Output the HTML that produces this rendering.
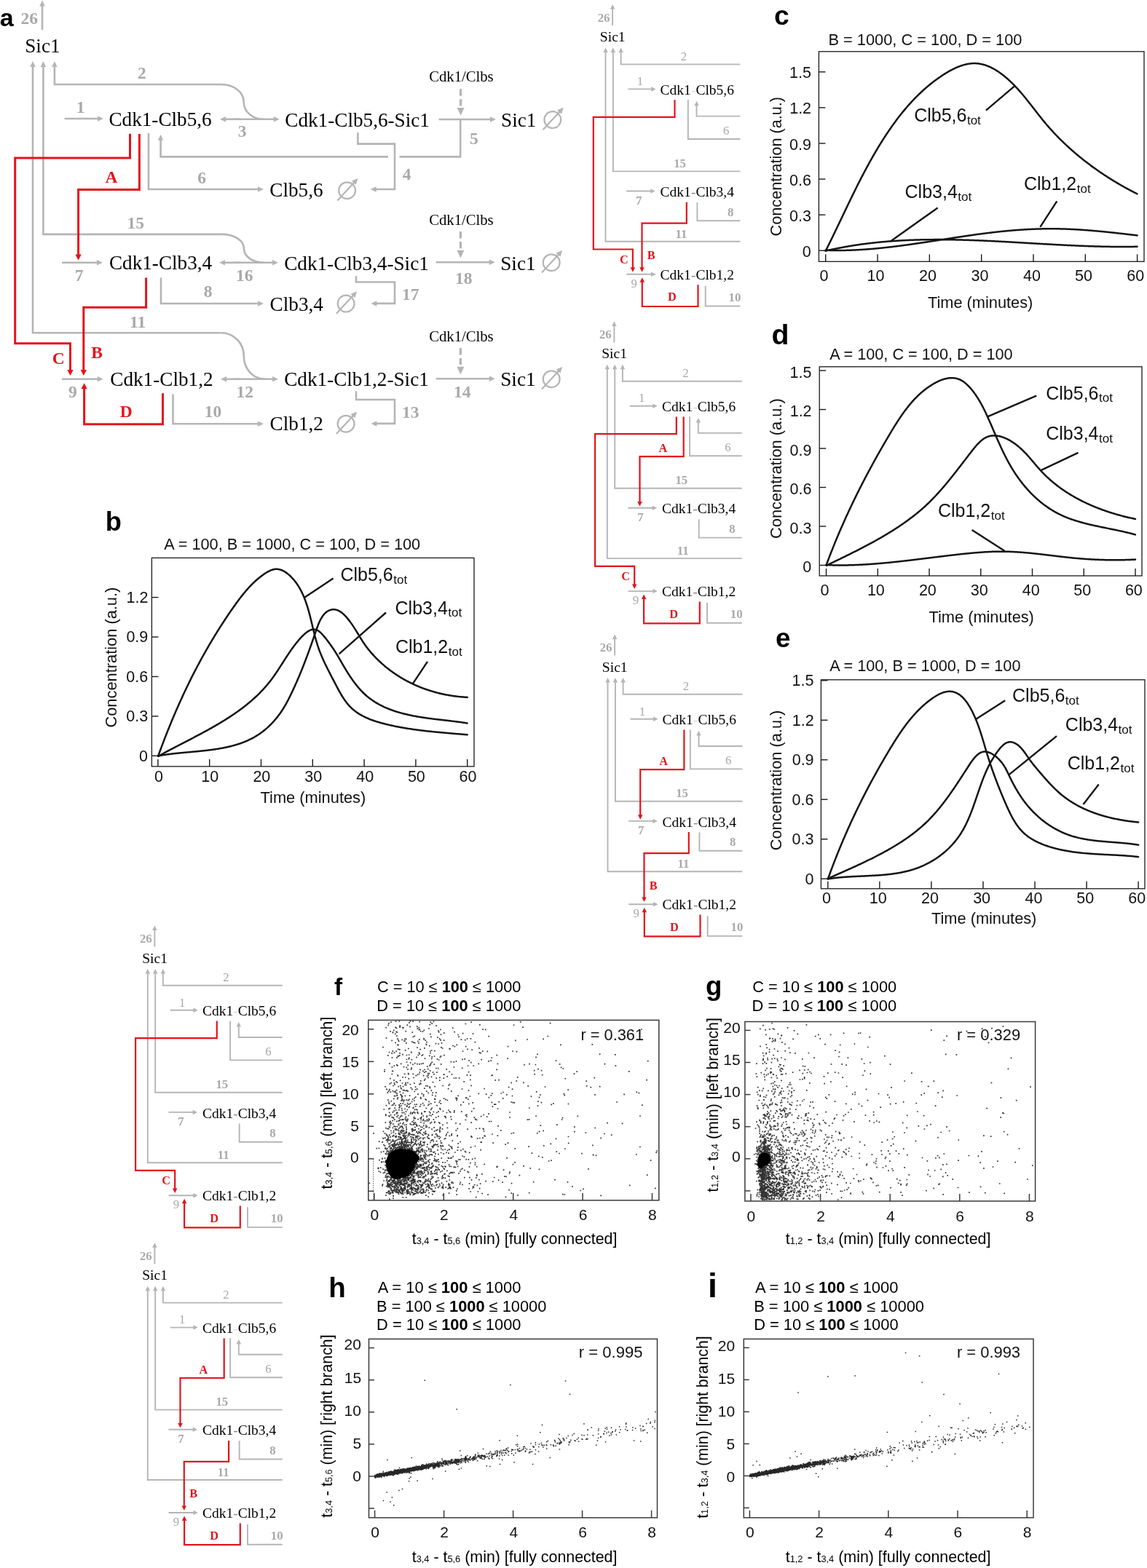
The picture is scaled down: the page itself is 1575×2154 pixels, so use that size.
<!DOCTYPE html>
<html><head><meta charset="utf-8"><title>Figure</title>
<style>html,body{margin:0;padding:0;background:#fff;}svg{display:block;}</style>
</head><body>
<svg xmlns="http://www.w3.org/2000/svg" width="1575" height="2154" viewBox="0 0 1575 2154">
<rect width="1575" height="2154" fill="#fff"/>
<text x="-0.22" y="36.00" font-size="34.02" font-family="'Liberation Sans',sans-serif" font-weight="bold" fill="#000">a</text>
<polyline points="58.00,41.00 58.00,6.90" fill="none" stroke="#b5b5b5" stroke-width="2.6" stroke-linejoin="miter" stroke-linecap="butt"/>
<polygon points="58.00,0.50 61.75,8.50 54.25,8.50" fill="#b5b5b5"/>
<polyline points="304.50,116.00 74.90,116.00 74.90,90.40" fill="none" stroke="#b5b5b5" stroke-width="2.6" stroke-linejoin="miter" stroke-linecap="butt"/>
<polygon points="74.90,84.00 78.65,92.00 71.15,92.00" fill="#b5b5b5"/>
<path d="M304.0,116.0 C321.2,116.0 334.7,126.5 334.7,139.9 C334.7,153.3 346.7,163.8 362.0,163.8" fill="none" stroke="#b5b5b5" stroke-width="2.6"/>
<polyline points="304.80,321.90 59.40,321.90 59.40,90.40" fill="none" stroke="#b5b5b5" stroke-width="2.6" stroke-linejoin="miter" stroke-linecap="butt"/>
<polygon points="59.40,84.00 63.15,92.00 55.65,92.00" fill="#b5b5b5"/>
<path d="M304.8,321.9 C321.7,321.9 335.0,330.5 335.0,341.4 C335.0,352.2 346.9,360.8 362.0,360.8" fill="none" stroke="#b5b5b5" stroke-width="2.6"/>
<polyline points="303.50,457.30 45.00,457.30 45.00,90.40" fill="none" stroke="#b5b5b5" stroke-width="2.6" stroke-linejoin="miter" stroke-linecap="butt"/>
<polygon points="45.00,84.00 48.75,92.00 41.25,92.00" fill="#b5b5b5"/>
<path d="M303.6,457.3 C321.1,457.3 334.8,471.3 334.8,489.0 C334.8,506.8 347.6,520.8 364.0,520.8" fill="none" stroke="#b5b5b5" stroke-width="2.6"/>
<polyline points="88.60,163.00 135.60,163.00" fill="none" stroke="#b5b5b5" stroke-width="2.6" stroke-linejoin="miter" stroke-linecap="butt"/>
<polygon points="142.00,163.00 134.00,166.75 134.00,159.25" fill="#b5b5b5"/>
<polyline points="330.00,163.80 308.40,163.80" fill="none" stroke="#b5b5b5" stroke-width="2.6" stroke-linejoin="miter" stroke-linecap="butt"/>
<polygon points="302.00,163.80 310.00,160.05 310.00,167.55" fill="#b5b5b5"/>
<polyline points="320.00,163.80 377.40,163.80" fill="none" stroke="#b5b5b5" stroke-width="2.6" stroke-linejoin="miter" stroke-linecap="butt"/>
<polygon points="383.80,163.80 375.80,167.55 375.80,160.05" fill="#b5b5b5"/>
<polyline points="602.70,164.00 674.60,164.00" fill="none" stroke="#b5b5b5" stroke-width="2.6" stroke-linejoin="miter" stroke-linecap="butt"/>
<polygon points="681.00,164.00 673.00,167.75 673.00,160.25" fill="#b5b5b5"/>
<line x1="632.60" y1="122.20" x2="632.60" y2="145.60" stroke="#b5b5b5" stroke-width="3.4" stroke-dasharray="9.6,4.4"/>
<polygon points="632.60,158.80 627.60,148.00 637.60,148.00" fill="#b5b5b5"/>
<polyline points="632.20,164.00 632.20,215.40 548.40,215.40" fill="none" stroke="#b5b5b5" stroke-width="2.6" stroke-linejoin="miter" stroke-linecap="butt"/>
<polyline points="533.00,215.40 220.60,215.40 220.60,191.20" fill="none" stroke="#b5b5b5" stroke-width="2.6" stroke-linejoin="miter" stroke-linecap="butt"/>
<polygon points="220.60,184.80 224.35,192.80 216.85,192.80" fill="#b5b5b5"/>
<polyline points="491.40,182.00 491.40,197.60 542.00,197.60 542.00,260.00 515.00,260.00" fill="none" stroke="#b5b5b5" stroke-width="2.6" stroke-linejoin="miter" stroke-linecap="butt"/>
<polygon points="508.60,260.00 516.60,256.25 516.60,263.75" fill="#b5b5b5"/>
<polyline points="204.00,183.00 204.00,260.00 355.60,260.00" fill="none" stroke="#b5b5b5" stroke-width="2.6" stroke-linejoin="miter" stroke-linecap="butt"/>
<polygon points="362.00,260.00 354.00,263.75 354.00,256.25" fill="#b5b5b5"/>
<polyline points="85.00,360.80 134.60,360.80" fill="none" stroke="#b5b5b5" stroke-width="2.6" stroke-linejoin="miter" stroke-linecap="butt"/>
<polygon points="141.00,360.80 133.00,364.55 133.00,357.05" fill="#b5b5b5"/>
<polyline points="330.00,360.80 307.40,360.80" fill="none" stroke="#b5b5b5" stroke-width="2.6" stroke-linejoin="miter" stroke-linecap="butt"/>
<polygon points="301.00,360.80 309.00,357.05 309.00,364.55" fill="#b5b5b5"/>
<polyline points="320.00,360.80 375.60,360.80" fill="none" stroke="#b5b5b5" stroke-width="2.6" stroke-linejoin="miter" stroke-linecap="butt"/>
<polygon points="382.00,360.80 374.00,364.55 374.00,357.05" fill="#b5b5b5"/>
<polyline points="598.80,360.20 673.40,360.20" fill="none" stroke="#b5b5b5" stroke-width="2.6" stroke-linejoin="miter" stroke-linecap="butt"/>
<polygon points="679.80,360.20 671.80,363.95 671.80,356.45" fill="#b5b5b5"/>
<line x1="632.40" y1="317.90" x2="632.40" y2="341.30" stroke="#b5b5b5" stroke-width="3.4" stroke-dasharray="9.6,4.4"/>
<polygon points="632.40,354.50 627.40,343.70 637.40,343.70" fill="#b5b5b5"/>
<polyline points="221.00,381.60 221.00,417.00 355.60,417.00" fill="none" stroke="#b5b5b5" stroke-width="2.6" stroke-linejoin="miter" stroke-linecap="butt"/>
<polygon points="362.00,417.00 354.00,420.75 354.00,413.25" fill="#b5b5b5"/>
<polyline points="489.00,379.20 489.00,387.50 542.00,387.50 542.00,416.90 515.80,416.90" fill="none" stroke="#b5b5b5" stroke-width="2.6" stroke-linejoin="miter" stroke-linecap="butt"/>
<polygon points="509.40,416.90 517.40,413.15 517.40,420.65" fill="#b5b5b5"/>
<polyline points="85.00,520.80 135.30,520.80" fill="none" stroke="#b5b5b5" stroke-width="2.6" stroke-linejoin="miter" stroke-linecap="butt"/>
<polygon points="141.70,520.80 133.70,524.55 133.70,517.05" fill="#b5b5b5"/>
<polyline points="330.00,520.80 309.40,520.80" fill="none" stroke="#b5b5b5" stroke-width="2.6" stroke-linejoin="miter" stroke-linecap="butt"/>
<polygon points="303.00,520.80 311.00,517.05 311.00,524.55" fill="#b5b5b5"/>
<polyline points="320.00,520.80 375.60,520.80" fill="none" stroke="#b5b5b5" stroke-width="2.6" stroke-linejoin="miter" stroke-linecap="butt"/>
<polygon points="382.00,520.80 374.00,524.55 374.00,517.05" fill="#b5b5b5"/>
<polyline points="598.80,520.20 673.40,520.20" fill="none" stroke="#b5b5b5" stroke-width="2.6" stroke-linejoin="miter" stroke-linecap="butt"/>
<polygon points="679.80,520.20 671.80,523.95 671.80,516.45" fill="#b5b5b5"/>
<line x1="632.40" y1="477.90" x2="632.40" y2="501.30" stroke="#b5b5b5" stroke-width="3.4" stroke-dasharray="9.6,4.4"/>
<polygon points="632.40,514.50 627.40,503.70 637.40,503.70" fill="#b5b5b5"/>
<polyline points="237.50,541.60 237.50,582.20 355.60,582.20" fill="none" stroke="#b5b5b5" stroke-width="2.6" stroke-linejoin="miter" stroke-linecap="butt"/>
<polygon points="362.00,582.20 354.00,585.95 354.00,578.45" fill="#b5b5b5"/>
<polyline points="489.00,537.20 489.00,549.00 542.00,549.00 542.00,581.90 515.80,581.90" fill="none" stroke="#b5b5b5" stroke-width="2.6" stroke-linejoin="miter" stroke-linecap="butt"/>
<polygon points="509.40,581.90 517.40,578.15 517.40,585.65" fill="#b5b5b5"/>
<circle cx="476.60" cy="261.70" r="11.40" fill="none" stroke="#b5b5b5" stroke-width="2.2"/>
<polyline points="463.40,275.40 486.98,249.89" fill="none" stroke="#b5b5b5" stroke-width="2.2" stroke-linejoin="miter" stroke-linecap="butt"/>
<polygon points="491.60,244.90 488.77,253.86 482.89,248.43" fill="#b5b5b5"/>
<circle cx="758.80" cy="164.60" r="11.40" fill="none" stroke="#b5b5b5" stroke-width="2.2"/>
<polyline points="745.60,178.30 769.18,152.79" fill="none" stroke="#b5b5b5" stroke-width="2.2" stroke-linejoin="miter" stroke-linecap="butt"/>
<polygon points="773.80,147.80 770.97,156.76 765.09,151.33" fill="#b5b5b5"/>
<circle cx="475.10" cy="417.10" r="11.40" fill="none" stroke="#b5b5b5" stroke-width="2.2"/>
<polyline points="461.90,430.80 485.48,405.29" fill="none" stroke="#b5b5b5" stroke-width="2.2" stroke-linejoin="miter" stroke-linecap="butt"/>
<polygon points="490.10,400.30 487.27,409.26 481.39,403.83" fill="#b5b5b5"/>
<circle cx="757.20" cy="360.70" r="11.40" fill="none" stroke="#b5b5b5" stroke-width="2.2"/>
<polyline points="744.00,374.40 767.58,348.89" fill="none" stroke="#b5b5b5" stroke-width="2.2" stroke-linejoin="miter" stroke-linecap="butt"/>
<polygon points="772.20,343.90 769.37,352.86 763.49,347.43" fill="#b5b5b5"/>
<circle cx="475.10" cy="582.20" r="11.40" fill="none" stroke="#b5b5b5" stroke-width="2.2"/>
<polyline points="461.90,595.90 485.48,570.39" fill="none" stroke="#b5b5b5" stroke-width="2.2" stroke-linejoin="miter" stroke-linecap="butt"/>
<polygon points="490.10,565.40 487.27,574.36 481.39,568.93" fill="#b5b5b5"/>
<circle cx="757.20" cy="520.70" r="11.40" fill="none" stroke="#b5b5b5" stroke-width="2.2"/>
<polyline points="744.00,534.40 767.58,508.89" fill="none" stroke="#b5b5b5" stroke-width="2.2" stroke-linejoin="miter" stroke-linecap="butt"/>
<polygon points="772.20,503.90 769.37,512.86 763.49,507.43" fill="#b5b5b5"/>
<polyline points="178.50,183.80 178.50,217.00 20.70,217.00 20.70,471.70 96.50,471.70 96.50,509.60" fill="none" stroke="#e3141c" stroke-width="3.0" stroke-linejoin="miter" stroke-linecap="butt"/>
<polygon points="96.50,516.00 92.30,508.00 100.70,508.00" fill="#e3141c"/>
<polyline points="191.40,184.00 191.40,260.60 107.60,260.60 107.60,351.10" fill="none" stroke="#e3141c" stroke-width="3.0" stroke-linejoin="miter" stroke-linecap="butt"/>
<polygon points="107.60,357.50 103.40,349.50 111.80,349.50" fill="#e3141c"/>
<polyline points="200.60,381.60 200.60,422.20 114.80,422.20 114.80,509.60" fill="none" stroke="#e3141c" stroke-width="3.0" stroke-linejoin="miter" stroke-linecap="butt"/>
<polygon points="114.80,516.00 110.60,508.00 119.00,508.00" fill="#e3141c"/>
<polyline points="223.50,540.30 223.50,582.70 115.60,582.70 115.60,532.70" fill="none" stroke="#e3141c" stroke-width="3.0" stroke-linejoin="miter" stroke-linecap="butt"/>
<polygon points="115.60,526.30 119.80,534.30 111.40,534.30" fill="#e3141c"/>
<text x="28.56" y="32.80" font-size="23.50" font-family="'Liberation Serif',serif" font-weight="bold" fill="#a9a9a9">26</text>
<text x="189.06" y="107.80" font-size="23.50" font-family="'Liberation Serif',serif" font-weight="bold" fill="#a9a9a9">2</text>
<text x="104.82" y="154.80" font-size="23.50" font-family="'Liberation Serif',serif" font-weight="bold" fill="#a9a9a9">1</text>
<text x="326.78" y="187.50" font-size="23.50" font-family="'Liberation Serif',serif" font-weight="bold" fill="#a9a9a9">3</text>
<text x="645.06" y="197.80" font-size="23.50" font-family="'Liberation Serif',serif" font-weight="bold" fill="#a9a9a9">5</text>
<text x="552.65" y="246.50" font-size="23.50" font-family="'Liberation Serif',serif" font-weight="bold" fill="#a9a9a9">4</text>
<text x="271.18" y="251.80" font-size="23.50" font-family="'Liberation Serif',serif" font-weight="bold" fill="#a9a9a9">6</text>
<text x="174.62" y="314.30" font-size="23.50" font-family="'Liberation Serif',serif" font-weight="bold" fill="#a9a9a9">15</text>
<text x="102.71" y="386.20" font-size="23.50" font-family="'Liberation Serif',serif" font-weight="bold" fill="#a9a9a9">7</text>
<text x="324.12" y="386.20" font-size="23.50" font-family="'Liberation Serif',serif" font-weight="bold" fill="#a9a9a9">16</text>
<text x="624.92" y="389.80" font-size="23.50" font-family="'Liberation Serif',serif" font-weight="bold" fill="#a9a9a9">18</text>
<text x="279.78" y="407.80" font-size="23.50" font-family="'Liberation Serif',serif" font-weight="bold" fill="#a9a9a9">8</text>
<text x="552.12" y="411.50" font-size="23.50" font-family="'Liberation Serif',serif" font-weight="bold" fill="#a9a9a9">17</text>
<text x="178.12" y="449.80" font-size="23.50" font-family="'Liberation Serif',serif" font-weight="bold" fill="#a9a9a9">11</text>
<text x="93.91" y="546.20" font-size="23.50" font-family="'Liberation Serif',serif" font-weight="bold" fill="#a9a9a9">9</text>
<text x="324.42" y="546.20" font-size="23.50" font-family="'Liberation Serif',serif" font-weight="bold" fill="#a9a9a9">12</text>
<text x="623.12" y="545.50" font-size="23.50" font-family="'Liberation Serif',serif" font-weight="bold" fill="#a9a9a9">14</text>
<text x="280.82" y="573.40" font-size="23.50" font-family="'Liberation Serif',serif" font-weight="bold" fill="#a9a9a9">10</text>
<text x="552.12" y="573.50" font-size="23.50" font-family="'Liberation Serif',serif" font-weight="bold" fill="#a9a9a9">13</text>
<text x="34.23" y="72.00" font-size="27.20" font-family="'Liberation Serif',serif" fill="#000">Sic1</text>
<text x="149.41" y="173.30" font-size="27.20" font-family="'Liberation Serif',serif" fill="#000">Cdk1-Clb5,6</text>
<text x="391.31" y="174.30" font-size="27.20" font-family="'Liberation Serif',serif" fill="#000">Cdk1-Clb5,6-Sic1</text>
<text x="688.03" y="173.80" font-size="27.20" font-family="'Liberation Serif',serif" fill="#000">Sic1</text>
<text x="370.31" y="269.50" font-size="27.20" font-family="'Liberation Serif',serif" fill="#000">Clb5,6</text>
<text x="149.91" y="370.00" font-size="27.20" font-family="'Liberation Serif',serif" fill="#000">Cdk1-Clb3,4</text>
<text x="390.21" y="370.80" font-size="27.20" font-family="'Liberation Serif',serif" fill="#000">Cdk1-Clb3,4-Sic1</text>
<text x="687.23" y="370.80" font-size="27.20" font-family="'Liberation Serif',serif" fill="#000">Sic1</text>
<text x="370.61" y="426.60" font-size="27.20" font-family="'Liberation Serif',serif" fill="#000">Clb3,4</text>
<text x="151.31" y="530.20" font-size="27.20" font-family="'Liberation Serif',serif" fill="#000">Cdk1-Clb1,2</text>
<text x="390.21" y="530.00" font-size="27.20" font-family="'Liberation Serif',serif" fill="#000">Cdk1-Clb1,2-Sic1</text>
<text x="687.23" y="530.00" font-size="27.20" font-family="'Liberation Serif',serif" fill="#000">Sic1</text>
<text x="370.61" y="590.80" font-size="27.20" font-family="'Liberation Serif',serif" fill="#000">Clb1,2</text>
<text x="589.17" y="112.40" font-size="20.69" font-family="'Liberation Serif',serif" fill="#000">Cdk1/Clbs</text>
<text x="589.17" y="309.30" font-size="20.69" font-family="'Liberation Serif',serif" fill="#000">Cdk1/Clbs</text>
<text x="589.17" y="468.50" font-size="20.69" font-family="'Liberation Serif',serif" fill="#000">Cdk1/Clbs</text>
<text x="144.56" y="251.40" font-size="23.50" font-family="'Liberation Serif',serif" font-weight="bold" fill="#e3141c">A</text>
<text x="71.83" y="499.70" font-size="23.50" font-family="'Liberation Serif',serif" font-weight="bold" fill="#e3141c">C</text>
<text x="125.35" y="492.00" font-size="23.50" font-family="'Liberation Serif',serif" font-weight="bold" fill="#e3141c">B</text>
<text x="164.65" y="572.60" font-size="23.50" font-family="'Liberation Serif',serif" font-weight="bold" fill="#e3141c">D</text>
<polyline points="841.10,35.00 841.10,11.30" fill="none" stroke="#b5b5b5" stroke-width="1.9" stroke-linejoin="miter" stroke-linecap="butt"/>
<polygon points="841.10,6.10 844.35,12.60 837.85,12.60" fill="#b5b5b5"/>
<polyline points="1016.40,88.40 852.60,88.40 852.60,70.70" fill="none" stroke="#b5b5b5" stroke-width="1.9" stroke-linejoin="miter" stroke-linecap="butt"/>
<polygon points="852.60,65.50 855.85,72.00 849.35,72.00" fill="#b5b5b5"/>
<polyline points="1016.40,235.40 841.90,235.40 841.90,70.70" fill="none" stroke="#b5b5b5" stroke-width="1.9" stroke-linejoin="miter" stroke-linecap="butt"/>
<polygon points="841.90,65.50 845.15,72.00 838.65,72.00" fill="#b5b5b5"/>
<polyline points="1016.40,331.80 831.50,331.80 831.50,70.70" fill="none" stroke="#b5b5b5" stroke-width="1.9" stroke-linejoin="miter" stroke-linecap="butt"/>
<polygon points="831.50,65.50 834.75,72.00 828.25,72.00" fill="#b5b5b5"/>
<polyline points="862.50,122.40 895.40,122.40" fill="none" stroke="#b5b5b5" stroke-width="1.9" stroke-linejoin="miter" stroke-linecap="butt"/>
<polygon points="900.60,122.40 894.10,125.65 894.10,119.15" fill="#b5b5b5"/>
<polyline points="860.20,262.50 894.60,262.50" fill="none" stroke="#b5b5b5" stroke-width="1.9" stroke-linejoin="miter" stroke-linecap="butt"/>
<polygon points="899.80,262.50 893.30,265.75 893.30,259.25" fill="#b5b5b5"/>
<polyline points="860.20,376.80 895.40,376.80" fill="none" stroke="#b5b5b5" stroke-width="1.9" stroke-linejoin="miter" stroke-linecap="butt"/>
<polygon points="900.60,376.80 894.10,380.05 894.10,373.55" fill="#b5b5b5"/>
<polyline points="944.80,137.00 944.80,191.00 1016.40,191.00" fill="none" stroke="#b5b5b5" stroke-width="1.9" stroke-linejoin="miter" stroke-linecap="butt"/>
<polyline points="1016.40,159.60 956.50,159.60 956.50,143.90" fill="none" stroke="#b5b5b5" stroke-width="1.9" stroke-linejoin="miter" stroke-linecap="butt"/>
<polygon points="956.50,138.70 959.75,145.20 953.25,145.20" fill="#b5b5b5"/>
<polyline points="957.40,278.00 957.40,303.30 1016.40,303.30" fill="none" stroke="#b5b5b5" stroke-width="1.9" stroke-linejoin="miter" stroke-linecap="butt"/>
<polyline points="968.70,392.80 968.70,420.50 1016.40,420.50" fill="none" stroke="#b5b5b5" stroke-width="1.9" stroke-linejoin="miter" stroke-linecap="butt"/>
<polyline points="926.50,137.20 926.50,160.80 814.80,160.80 814.80,342.50 868.90,342.50 868.90,368.50" fill="none" stroke="#e3141c" stroke-width="2.2" stroke-linejoin="miter" stroke-linecap="butt"/>
<polygon points="868.90,373.70 865.65,367.20 872.15,367.20" fill="#e3141c"/>
<text x="850.98" y="361.50" font-size="16.30" font-family="'Liberation Serif',serif" font-weight="bold" fill="#e3141c">C</text>
<polyline points="942.80,277.70 942.80,306.70 881.50,306.70 881.50,368.50" fill="none" stroke="#e3141c" stroke-width="2.2" stroke-linejoin="miter" stroke-linecap="butt"/>
<polygon points="881.50,373.70 878.25,367.20 884.75,367.20" fill="#e3141c"/>
<text x="888.86" y="356.20" font-size="16.30" font-family="'Liberation Serif',serif" font-weight="bold" fill="#e3141c">B</text>
<polyline points="958.50,391.20 958.50,421.00 881.80,421.00 881.80,386.50" fill="none" stroke="#e3141c" stroke-width="2.2" stroke-linejoin="miter" stroke-linecap="butt"/>
<polygon points="881.80,381.30 885.05,387.80 878.55,387.80" fill="#e3141c"/>
<text x="917.06" y="413.30" font-size="16.30" font-family="'Liberation Serif',serif" font-weight="bold" fill="#e3141c">D</text>
<text x="820.63" y="29.50" font-size="16.80" font-family="'Liberation Serif',serif" font-weight="bold" fill="#a9a9a9">26</text>
<text x="934.84" y="82.80" font-size="16.80" font-family="'Liberation Serif',serif" fill="#a9a9a9">2</text>
<text x="874.77" y="117.10" font-size="16.80" font-family="'Liberation Serif',serif" fill="#a9a9a9">1</text>
<text x="992.93" y="184.90" font-size="16.80" font-family="'Liberation Serif',serif" fill="#a9a9a9">6</text>
<text x="925.16" y="229.80" font-size="16.80" font-family="'Liberation Serif',serif" font-weight="bold" fill="#a9a9a9">15</text>
<text x="872.98" y="280.50" font-size="16.80" font-family="'Liberation Serif',serif" font-weight="bold" fill="#a9a9a9">7</text>
<text x="999.01" y="296.50" font-size="16.80" font-family="'Liberation Serif',serif" font-weight="bold" fill="#a9a9a9">8</text>
<text x="927.46" y="326.70" font-size="16.80" font-family="'Liberation Serif',serif" font-weight="bold" fill="#a9a9a9">11</text>
<text x="866.50" y="394.80" font-size="16.80" font-family="'Liberation Serif',serif" fill="#a9a9a9">9</text>
<text x="1000.56" y="413.80" font-size="16.80" font-family="'Liberation Serif',serif" font-weight="bold" fill="#a9a9a9">10</text>
<text x="823.83" y="57.10" font-size="19.60" font-family="'Liberation Serif',serif" fill="#000">Sic1</text>
<text x="906.62" y="129.50" font-size="19.50" font-family="'Liberation Serif',serif" fill="#000">Cdk1</text>
<text x="948.88" y="129.50" font-size="19.5" font-family="'Liberation Serif',serif" fill="#000"><tspan fill="#d8d8d8">-</tspan>Clb5,6</text>
<text x="906.62" y="270.10" font-size="19.50" font-family="'Liberation Serif',serif" fill="#000">Cdk1</text>
<text x="948.88" y="270.10" font-size="19.5" font-family="'Liberation Serif',serif" fill="#000"><tspan fill="#888">-</tspan>Clb3,4</text>
<text x="906.62" y="383.60" font-size="19.50" font-family="'Liberation Serif',serif" fill="#000">Cdk1</text>
<text x="948.88" y="383.60" font-size="19.5" font-family="'Liberation Serif',serif" fill="#000"><tspan fill="#888">-</tspan>Clb1,2</text>
<polyline points="843.40,470.30 843.40,446.60" fill="none" stroke="#b5b5b5" stroke-width="1.9" stroke-linejoin="miter" stroke-linecap="butt"/>
<polygon points="843.40,441.40 846.65,447.90 840.15,447.90" fill="#b5b5b5"/>
<polyline points="1018.70,523.70 854.90,523.70 854.90,506.00" fill="none" stroke="#b5b5b5" stroke-width="1.9" stroke-linejoin="miter" stroke-linecap="butt"/>
<polygon points="854.90,500.80 858.15,507.30 851.65,507.30" fill="#b5b5b5"/>
<polyline points="1018.70,670.70 844.20,670.70 844.20,506.00" fill="none" stroke="#b5b5b5" stroke-width="1.9" stroke-linejoin="miter" stroke-linecap="butt"/>
<polygon points="844.20,500.80 847.45,507.30 840.95,507.30" fill="#b5b5b5"/>
<polyline points="1018.70,767.10 833.80,767.10 833.80,506.00" fill="none" stroke="#b5b5b5" stroke-width="1.9" stroke-linejoin="miter" stroke-linecap="butt"/>
<polygon points="833.80,500.80 837.05,507.30 830.55,507.30" fill="#b5b5b5"/>
<polyline points="864.80,557.70 897.70,557.70" fill="none" stroke="#b5b5b5" stroke-width="1.9" stroke-linejoin="miter" stroke-linecap="butt"/>
<polygon points="902.90,557.70 896.40,560.95 896.40,554.45" fill="#b5b5b5"/>
<polyline points="862.50,697.80 896.90,697.80" fill="none" stroke="#b5b5b5" stroke-width="1.9" stroke-linejoin="miter" stroke-linecap="butt"/>
<polygon points="902.10,697.80 895.60,701.05 895.60,694.55" fill="#b5b5b5"/>
<polyline points="862.50,812.10 897.70,812.10" fill="none" stroke="#b5b5b5" stroke-width="1.9" stroke-linejoin="miter" stroke-linecap="butt"/>
<polygon points="902.90,812.10 896.40,815.35 896.40,808.85" fill="#b5b5b5"/>
<polyline points="947.10,572.30 947.10,626.30 1018.70,626.30" fill="none" stroke="#b5b5b5" stroke-width="1.9" stroke-linejoin="miter" stroke-linecap="butt"/>
<polyline points="1018.70,594.90 958.80,594.90 958.80,579.20" fill="none" stroke="#b5b5b5" stroke-width="1.9" stroke-linejoin="miter" stroke-linecap="butt"/>
<polygon points="958.80,574.00 962.05,580.50 955.55,580.50" fill="#b5b5b5"/>
<polyline points="959.70,713.30 959.70,738.60 1018.70,738.60" fill="none" stroke="#b5b5b5" stroke-width="1.9" stroke-linejoin="miter" stroke-linecap="butt"/>
<polyline points="971.00,828.10 971.00,855.80 1018.70,855.80" fill="none" stroke="#b5b5b5" stroke-width="1.9" stroke-linejoin="miter" stroke-linecap="butt"/>
<polyline points="928.80,572.50 928.80,596.10 817.10,596.10 817.10,777.80 871.20,777.80 871.20,803.80" fill="none" stroke="#e3141c" stroke-width="2.2" stroke-linejoin="miter" stroke-linecap="butt"/>
<polygon points="871.20,809.00 867.95,802.50 874.45,802.50" fill="#e3141c"/>
<text x="853.28" y="796.80" font-size="16.30" font-family="'Liberation Serif',serif" font-weight="bold" fill="#e3141c">C</text>
<polyline points="938.70,572.50 938.70,627.10 878.50,627.10 878.50,690.40" fill="none" stroke="#e3141c" stroke-width="2.2" stroke-linejoin="miter" stroke-linecap="butt"/>
<polygon points="878.50,695.60 875.25,689.10 881.75,689.10" fill="#e3141c"/>
<text x="904.54" y="620.60" font-size="16.30" font-family="'Liberation Serif',serif" font-weight="bold" fill="#e3141c">A</text>
<polyline points="960.80,826.50 960.80,856.30 884.10,856.30 884.10,821.80" fill="none" stroke="#e3141c" stroke-width="2.2" stroke-linejoin="miter" stroke-linecap="butt"/>
<polygon points="884.10,816.60 887.35,823.10 880.85,823.10" fill="#e3141c"/>
<text x="919.36" y="848.60" font-size="16.30" font-family="'Liberation Serif',serif" font-weight="bold" fill="#e3141c">D</text>
<text x="822.93" y="464.80" font-size="16.80" font-family="'Liberation Serif',serif" font-weight="bold" fill="#a9a9a9">26</text>
<text x="937.14" y="518.10" font-size="16.80" font-family="'Liberation Serif',serif" fill="#a9a9a9">2</text>
<text x="877.07" y="552.40" font-size="16.80" font-family="'Liberation Serif',serif" fill="#a9a9a9">1</text>
<text x="995.23" y="620.20" font-size="16.80" font-family="'Liberation Serif',serif" fill="#a9a9a9">6</text>
<text x="927.46" y="665.10" font-size="16.80" font-family="'Liberation Serif',serif" font-weight="bold" fill="#a9a9a9">15</text>
<text x="875.28" y="715.80" font-size="16.80" font-family="'Liberation Serif',serif" font-weight="bold" fill="#a9a9a9">7</text>
<text x="1001.31" y="731.80" font-size="16.80" font-family="'Liberation Serif',serif" font-weight="bold" fill="#a9a9a9">8</text>
<text x="929.76" y="762.00" font-size="16.80" font-family="'Liberation Serif',serif" font-weight="bold" fill="#a9a9a9">11</text>
<text x="868.80" y="830.10" font-size="16.80" font-family="'Liberation Serif',serif" fill="#a9a9a9">9</text>
<text x="1002.86" y="849.10" font-size="16.80" font-family="'Liberation Serif',serif" font-weight="bold" fill="#a9a9a9">10</text>
<text x="826.13" y="492.40" font-size="19.60" font-family="'Liberation Serif',serif" fill="#000">Sic1</text>
<text x="908.92" y="564.80" font-size="19.50" font-family="'Liberation Serif',serif" fill="#000">Cdk1</text>
<text x="951.18" y="564.80" font-size="19.5" font-family="'Liberation Serif',serif" fill="#000"><tspan fill="#d8d8d8">-</tspan>Clb5,6</text>
<text x="908.92" y="705.40" font-size="19.50" font-family="'Liberation Serif',serif" fill="#000">Cdk1</text>
<text x="951.18" y="705.40" font-size="19.5" font-family="'Liberation Serif',serif" fill="#000"><tspan fill="#888">-</tspan>Clb3,4</text>
<text x="908.92" y="818.90" font-size="19.50" font-family="'Liberation Serif',serif" fill="#000">Cdk1</text>
<text x="951.18" y="818.90" font-size="19.5" font-family="'Liberation Serif',serif" fill="#000"><tspan fill="#888">-</tspan>Clb1,2</text>
<polyline points="844.10,900.40 844.10,876.70" fill="none" stroke="#b5b5b5" stroke-width="1.9" stroke-linejoin="miter" stroke-linecap="butt"/>
<polygon points="844.10,871.50 847.35,878.00 840.85,878.00" fill="#b5b5b5"/>
<polyline points="1019.40,953.80 855.60,953.80 855.60,936.10" fill="none" stroke="#b5b5b5" stroke-width="1.9" stroke-linejoin="miter" stroke-linecap="butt"/>
<polygon points="855.60,930.90 858.85,937.40 852.35,937.40" fill="#b5b5b5"/>
<polyline points="1019.40,1100.80 844.90,1100.80 844.90,936.10" fill="none" stroke="#b5b5b5" stroke-width="1.9" stroke-linejoin="miter" stroke-linecap="butt"/>
<polygon points="844.90,930.90 848.15,937.40 841.65,937.40" fill="#b5b5b5"/>
<polyline points="1019.40,1197.20 834.50,1197.20 834.50,936.10" fill="none" stroke="#b5b5b5" stroke-width="1.9" stroke-linejoin="miter" stroke-linecap="butt"/>
<polygon points="834.50,930.90 837.75,937.40 831.25,937.40" fill="#b5b5b5"/>
<polyline points="865.50,987.80 898.40,987.80" fill="none" stroke="#b5b5b5" stroke-width="1.9" stroke-linejoin="miter" stroke-linecap="butt"/>
<polygon points="903.60,987.80 897.10,991.05 897.10,984.55" fill="#b5b5b5"/>
<polyline points="863.20,1127.90 897.60,1127.90" fill="none" stroke="#b5b5b5" stroke-width="1.9" stroke-linejoin="miter" stroke-linecap="butt"/>
<polygon points="902.80,1127.90 896.30,1131.15 896.30,1124.65" fill="#b5b5b5"/>
<polyline points="863.20,1242.20 898.40,1242.20" fill="none" stroke="#b5b5b5" stroke-width="1.9" stroke-linejoin="miter" stroke-linecap="butt"/>
<polygon points="903.60,1242.20 897.10,1245.45 897.10,1238.95" fill="#b5b5b5"/>
<polyline points="947.80,1002.40 947.80,1056.40 1019.40,1056.40" fill="none" stroke="#b5b5b5" stroke-width="1.9" stroke-linejoin="miter" stroke-linecap="butt"/>
<polyline points="1019.40,1025.00 959.50,1025.00 959.50,1009.30" fill="none" stroke="#b5b5b5" stroke-width="1.9" stroke-linejoin="miter" stroke-linecap="butt"/>
<polygon points="959.50,1004.10 962.75,1010.60 956.25,1010.60" fill="#b5b5b5"/>
<polyline points="960.40,1143.40 960.40,1168.70 1019.40,1168.70" fill="none" stroke="#b5b5b5" stroke-width="1.9" stroke-linejoin="miter" stroke-linecap="butt"/>
<polyline points="971.70,1258.20 971.70,1285.90 1019.40,1285.90" fill="none" stroke="#b5b5b5" stroke-width="1.9" stroke-linejoin="miter" stroke-linecap="butt"/>
<polyline points="939.40,1002.60 939.40,1057.20 879.20,1057.20 879.20,1120.50" fill="none" stroke="#e3141c" stroke-width="2.2" stroke-linejoin="miter" stroke-linecap="butt"/>
<polygon points="879.20,1125.70 875.95,1119.20 882.45,1119.20" fill="#e3141c"/>
<text x="905.24" y="1050.70" font-size="16.30" font-family="'Liberation Serif',serif" font-weight="bold" fill="#e3141c">A</text>
<polyline points="945.80,1143.10 945.80,1172.10 884.50,1172.10 884.50,1233.90" fill="none" stroke="#e3141c" stroke-width="2.2" stroke-linejoin="miter" stroke-linecap="butt"/>
<polygon points="884.50,1239.10 881.25,1232.60 887.75,1232.60" fill="#e3141c"/>
<text x="891.86" y="1221.60" font-size="16.30" font-family="'Liberation Serif',serif" font-weight="bold" fill="#e3141c">B</text>
<polyline points="961.50,1256.60 961.50,1286.40 884.80,1286.40 884.80,1251.90" fill="none" stroke="#e3141c" stroke-width="2.2" stroke-linejoin="miter" stroke-linecap="butt"/>
<polygon points="884.80,1246.70 888.05,1253.20 881.55,1253.20" fill="#e3141c"/>
<text x="920.06" y="1278.70" font-size="16.30" font-family="'Liberation Serif',serif" font-weight="bold" fill="#e3141c">D</text>
<text x="823.63" y="894.90" font-size="16.80" font-family="'Liberation Serif',serif" font-weight="bold" fill="#a9a9a9">26</text>
<text x="937.84" y="948.20" font-size="16.80" font-family="'Liberation Serif',serif" fill="#a9a9a9">2</text>
<text x="877.77" y="982.50" font-size="16.80" font-family="'Liberation Serif',serif" fill="#a9a9a9">1</text>
<text x="995.93" y="1050.30" font-size="16.80" font-family="'Liberation Serif',serif" fill="#a9a9a9">6</text>
<text x="928.16" y="1095.20" font-size="16.80" font-family="'Liberation Serif',serif" font-weight="bold" fill="#a9a9a9">15</text>
<text x="875.98" y="1145.90" font-size="16.80" font-family="'Liberation Serif',serif" font-weight="bold" fill="#a9a9a9">7</text>
<text x="1002.01" y="1161.90" font-size="16.80" font-family="'Liberation Serif',serif" font-weight="bold" fill="#a9a9a9">8</text>
<text x="930.46" y="1192.10" font-size="16.80" font-family="'Liberation Serif',serif" font-weight="bold" fill="#a9a9a9">11</text>
<text x="869.50" y="1260.20" font-size="16.80" font-family="'Liberation Serif',serif" fill="#a9a9a9">9</text>
<text x="1003.56" y="1279.20" font-size="16.80" font-family="'Liberation Serif',serif" font-weight="bold" fill="#a9a9a9">10</text>
<text x="826.83" y="922.50" font-size="19.60" font-family="'Liberation Serif',serif" fill="#000">Sic1</text>
<text x="909.62" y="994.90" font-size="19.50" font-family="'Liberation Serif',serif" fill="#000">Cdk1</text>
<text x="951.88" y="994.90" font-size="19.5" font-family="'Liberation Serif',serif" fill="#000"><tspan fill="#d8d8d8">-</tspan>Clb5,6</text>
<text x="909.62" y="1135.50" font-size="19.50" font-family="'Liberation Serif',serif" fill="#000">Cdk1</text>
<text x="951.88" y="1135.50" font-size="19.5" font-family="'Liberation Serif',serif" fill="#000"><tspan fill="#888">-</tspan>Clb3,4</text>
<text x="909.62" y="1249.00" font-size="19.50" font-family="'Liberation Serif',serif" fill="#000">Cdk1</text>
<text x="951.88" y="1249.00" font-size="19.5" font-family="'Liberation Serif',serif" fill="#000"><tspan fill="#888">-</tspan>Clb1,2</text>
<polyline points="212.40,1300.40 212.40,1276.70" fill="none" stroke="#b5b5b5" stroke-width="1.9" stroke-linejoin="miter" stroke-linecap="butt"/>
<polygon points="212.40,1271.50 215.65,1278.00 209.15,1278.00" fill="#b5b5b5"/>
<polyline points="387.70,1353.80 223.90,1353.80 223.90,1336.10" fill="none" stroke="#b5b5b5" stroke-width="1.9" stroke-linejoin="miter" stroke-linecap="butt"/>
<polygon points="223.90,1330.90 227.15,1337.40 220.65,1337.40" fill="#b5b5b5"/>
<polyline points="387.70,1500.80 213.20,1500.80 213.20,1336.10" fill="none" stroke="#b5b5b5" stroke-width="1.9" stroke-linejoin="miter" stroke-linecap="butt"/>
<polygon points="213.20,1330.90 216.45,1337.40 209.95,1337.40" fill="#b5b5b5"/>
<polyline points="387.70,1597.20 202.80,1597.20 202.80,1336.10" fill="none" stroke="#b5b5b5" stroke-width="1.9" stroke-linejoin="miter" stroke-linecap="butt"/>
<polygon points="202.80,1330.90 206.05,1337.40 199.55,1337.40" fill="#b5b5b5"/>
<polyline points="233.80,1387.80 266.70,1387.80" fill="none" stroke="#b5b5b5" stroke-width="1.9" stroke-linejoin="miter" stroke-linecap="butt"/>
<polygon points="271.90,1387.80 265.40,1391.05 265.40,1384.55" fill="#b5b5b5"/>
<polyline points="231.50,1527.90 265.90,1527.90" fill="none" stroke="#b5b5b5" stroke-width="1.9" stroke-linejoin="miter" stroke-linecap="butt"/>
<polygon points="271.10,1527.90 264.60,1531.15 264.60,1524.65" fill="#b5b5b5"/>
<polyline points="231.50,1642.20 266.70,1642.20" fill="none" stroke="#b5b5b5" stroke-width="1.9" stroke-linejoin="miter" stroke-linecap="butt"/>
<polygon points="271.90,1642.20 265.40,1645.45 265.40,1638.95" fill="#b5b5b5"/>
<polyline points="316.10,1402.40 316.10,1456.40 387.70,1456.40" fill="none" stroke="#b5b5b5" stroke-width="1.9" stroke-linejoin="miter" stroke-linecap="butt"/>
<polyline points="387.70,1425.00 327.80,1425.00 327.80,1409.30" fill="none" stroke="#b5b5b5" stroke-width="1.9" stroke-linejoin="miter" stroke-linecap="butt"/>
<polygon points="327.80,1404.10 331.05,1410.60 324.55,1410.60" fill="#b5b5b5"/>
<polyline points="328.70,1543.40 328.70,1568.70 387.70,1568.70" fill="none" stroke="#b5b5b5" stroke-width="1.9" stroke-linejoin="miter" stroke-linecap="butt"/>
<polyline points="340.00,1658.20 340.00,1685.90 387.70,1685.90" fill="none" stroke="#b5b5b5" stroke-width="1.9" stroke-linejoin="miter" stroke-linecap="butt"/>
<polyline points="297.80,1402.60 297.80,1426.20 186.10,1426.20 186.10,1607.90 240.20,1607.90 240.20,1633.90" fill="none" stroke="#e3141c" stroke-width="2.2" stroke-linejoin="miter" stroke-linecap="butt"/>
<polygon points="240.20,1639.10 236.95,1632.60 243.45,1632.60" fill="#e3141c"/>
<text x="222.28" y="1626.90" font-size="16.30" font-family="'Liberation Serif',serif" font-weight="bold" fill="#e3141c">C</text>
<polyline points="329.80,1656.60 329.80,1686.40 253.10,1686.40 253.10,1651.90" fill="none" stroke="#e3141c" stroke-width="2.2" stroke-linejoin="miter" stroke-linecap="butt"/>
<polygon points="253.10,1646.70 256.35,1653.20 249.85,1653.20" fill="#e3141c"/>
<text x="288.36" y="1678.70" font-size="16.30" font-family="'Liberation Serif',serif" font-weight="bold" fill="#e3141c">D</text>
<text x="191.93" y="1294.90" font-size="16.80" font-family="'Liberation Serif',serif" font-weight="bold" fill="#a9a9a9">26</text>
<text x="306.14" y="1348.20" font-size="16.80" font-family="'Liberation Serif',serif" fill="#a9a9a9">2</text>
<text x="246.07" y="1382.50" font-size="16.80" font-family="'Liberation Serif',serif" fill="#a9a9a9">1</text>
<text x="364.23" y="1450.30" font-size="16.80" font-family="'Liberation Serif',serif" fill="#a9a9a9">6</text>
<text x="296.46" y="1495.20" font-size="16.80" font-family="'Liberation Serif',serif" font-weight="bold" fill="#a9a9a9">15</text>
<text x="244.28" y="1545.90" font-size="16.80" font-family="'Liberation Serif',serif" font-weight="bold" fill="#a9a9a9">7</text>
<text x="370.31" y="1561.90" font-size="16.80" font-family="'Liberation Serif',serif" font-weight="bold" fill="#a9a9a9">8</text>
<text x="298.76" y="1592.10" font-size="16.80" font-family="'Liberation Serif',serif" font-weight="bold" fill="#a9a9a9">11</text>
<text x="237.80" y="1660.20" font-size="16.80" font-family="'Liberation Serif',serif" fill="#a9a9a9">9</text>
<text x="371.86" y="1679.20" font-size="16.80" font-family="'Liberation Serif',serif" font-weight="bold" fill="#a9a9a9">10</text>
<text x="195.13" y="1322.50" font-size="19.60" font-family="'Liberation Serif',serif" fill="#000">Sic1</text>
<text x="277.92" y="1394.90" font-size="19.50" font-family="'Liberation Serif',serif" fill="#000">Cdk1</text>
<text x="320.18" y="1394.90" font-size="19.5" font-family="'Liberation Serif',serif" fill="#000"><tspan fill="#d8d8d8">-</tspan>Clb5,6</text>
<text x="277.92" y="1535.50" font-size="19.50" font-family="'Liberation Serif',serif" fill="#000">Cdk1</text>
<text x="320.18" y="1535.50" font-size="19.5" font-family="'Liberation Serif',serif" fill="#000"><tspan fill="#888">-</tspan>Clb3,4</text>
<text x="277.92" y="1649.00" font-size="19.50" font-family="'Liberation Serif',serif" fill="#000">Cdk1</text>
<text x="320.18" y="1649.00" font-size="19.5" font-family="'Liberation Serif',serif" fill="#000"><tspan fill="#888">-</tspan>Clb1,2</text>
<polyline points="212.40,1736.20 212.40,1712.50" fill="none" stroke="#b5b5b5" stroke-width="1.9" stroke-linejoin="miter" stroke-linecap="butt"/>
<polygon points="212.40,1707.30 215.65,1713.80 209.15,1713.80" fill="#b5b5b5"/>
<polyline points="387.70,1789.60 223.90,1789.60 223.90,1771.90" fill="none" stroke="#b5b5b5" stroke-width="1.9" stroke-linejoin="miter" stroke-linecap="butt"/>
<polygon points="223.90,1766.70 227.15,1773.20 220.65,1773.20" fill="#b5b5b5"/>
<polyline points="387.70,1936.60 213.20,1936.60 213.20,1771.90" fill="none" stroke="#b5b5b5" stroke-width="1.9" stroke-linejoin="miter" stroke-linecap="butt"/>
<polygon points="213.20,1766.70 216.45,1773.20 209.95,1773.20" fill="#b5b5b5"/>
<polyline points="387.70,2033.00 202.80,2033.00 202.80,1771.90" fill="none" stroke="#b5b5b5" stroke-width="1.9" stroke-linejoin="miter" stroke-linecap="butt"/>
<polygon points="202.80,1766.70 206.05,1773.20 199.55,1773.20" fill="#b5b5b5"/>
<polyline points="233.80,1823.60 266.70,1823.60" fill="none" stroke="#b5b5b5" stroke-width="1.9" stroke-linejoin="miter" stroke-linecap="butt"/>
<polygon points="271.90,1823.60 265.40,1826.85 265.40,1820.35" fill="#b5b5b5"/>
<polyline points="231.50,1963.70 265.90,1963.70" fill="none" stroke="#b5b5b5" stroke-width="1.9" stroke-linejoin="miter" stroke-linecap="butt"/>
<polygon points="271.10,1963.70 264.60,1966.95 264.60,1960.45" fill="#b5b5b5"/>
<polyline points="231.50,2078.00 266.70,2078.00" fill="none" stroke="#b5b5b5" stroke-width="1.9" stroke-linejoin="miter" stroke-linecap="butt"/>
<polygon points="271.90,2078.00 265.40,2081.25 265.40,2074.75" fill="#b5b5b5"/>
<polyline points="316.10,1838.20 316.10,1892.20 387.70,1892.20" fill="none" stroke="#b5b5b5" stroke-width="1.9" stroke-linejoin="miter" stroke-linecap="butt"/>
<polyline points="387.70,1860.80 327.80,1860.80 327.80,1845.10" fill="none" stroke="#b5b5b5" stroke-width="1.9" stroke-linejoin="miter" stroke-linecap="butt"/>
<polygon points="327.80,1839.90 331.05,1846.40 324.55,1846.40" fill="#b5b5b5"/>
<polyline points="328.70,1979.20 328.70,2004.50 387.70,2004.50" fill="none" stroke="#b5b5b5" stroke-width="1.9" stroke-linejoin="miter" stroke-linecap="butt"/>
<polyline points="340.00,2094.00 340.00,2121.70 387.70,2121.70" fill="none" stroke="#b5b5b5" stroke-width="1.9" stroke-linejoin="miter" stroke-linecap="butt"/>
<polyline points="307.70,1838.40 307.70,1893.00 247.50,1893.00 247.50,1956.30" fill="none" stroke="#e3141c" stroke-width="2.2" stroke-linejoin="miter" stroke-linecap="butt"/>
<polygon points="247.50,1961.50 244.25,1955.00 250.75,1955.00" fill="#e3141c"/>
<text x="273.54" y="1886.50" font-size="16.30" font-family="'Liberation Serif',serif" font-weight="bold" fill="#e3141c">A</text>
<polyline points="314.10,1978.90 314.10,2007.90 252.80,2007.90 252.80,2069.70" fill="none" stroke="#e3141c" stroke-width="2.2" stroke-linejoin="miter" stroke-linecap="butt"/>
<polygon points="252.80,2074.90 249.55,2068.40 256.05,2068.40" fill="#e3141c"/>
<text x="260.16" y="2057.40" font-size="16.30" font-family="'Liberation Serif',serif" font-weight="bold" fill="#e3141c">B</text>
<polyline points="329.80,2092.40 329.80,2122.20 253.10,2122.20 253.10,2087.70" fill="none" stroke="#e3141c" stroke-width="2.2" stroke-linejoin="miter" stroke-linecap="butt"/>
<polygon points="253.10,2082.50 256.35,2089.00 249.85,2089.00" fill="#e3141c"/>
<text x="288.36" y="2114.50" font-size="16.30" font-family="'Liberation Serif',serif" font-weight="bold" fill="#e3141c">D</text>
<text x="191.93" y="1730.70" font-size="16.80" font-family="'Liberation Serif',serif" font-weight="bold" fill="#a9a9a9">26</text>
<text x="306.14" y="1784.00" font-size="16.80" font-family="'Liberation Serif',serif" fill="#a9a9a9">2</text>
<text x="246.07" y="1818.30" font-size="16.80" font-family="'Liberation Serif',serif" fill="#a9a9a9">1</text>
<text x="364.23" y="1886.10" font-size="16.80" font-family="'Liberation Serif',serif" fill="#a9a9a9">6</text>
<text x="296.46" y="1931.00" font-size="16.80" font-family="'Liberation Serif',serif" font-weight="bold" fill="#a9a9a9">15</text>
<text x="244.28" y="1981.70" font-size="16.80" font-family="'Liberation Serif',serif" font-weight="bold" fill="#a9a9a9">7</text>
<text x="370.31" y="1997.70" font-size="16.80" font-family="'Liberation Serif',serif" font-weight="bold" fill="#a9a9a9">8</text>
<text x="298.76" y="2027.90" font-size="16.80" font-family="'Liberation Serif',serif" font-weight="bold" fill="#a9a9a9">11</text>
<text x="237.80" y="2096.00" font-size="16.80" font-family="'Liberation Serif',serif" fill="#a9a9a9">9</text>
<text x="371.86" y="2115.00" font-size="16.80" font-family="'Liberation Serif',serif" font-weight="bold" fill="#a9a9a9">10</text>
<text x="195.13" y="1758.30" font-size="19.60" font-family="'Liberation Serif',serif" fill="#000">Sic1</text>
<text x="277.92" y="1830.70" font-size="19.50" font-family="'Liberation Serif',serif" fill="#000">Cdk1</text>
<text x="320.18" y="1830.70" font-size="19.5" font-family="'Liberation Serif',serif" fill="#000"><tspan fill="#d8d8d8">-</tspan>Clb5,6</text>
<text x="277.92" y="1971.30" font-size="19.50" font-family="'Liberation Serif',serif" fill="#000">Cdk1</text>
<text x="320.18" y="1971.30" font-size="19.5" font-family="'Liberation Serif',serif" fill="#000"><tspan fill="#888">-</tspan>Clb3,4</text>
<text x="277.92" y="2084.80" font-size="19.50" font-family="'Liberation Serif',serif" fill="#000">Cdk1</text>
<text x="320.18" y="2084.80" font-size="19.5" font-family="'Liberation Serif',serif" fill="#000"><tspan fill="#888">-</tspan>Clb1,2</text>
<text x="144.64" y="729.40" font-size="36.24" font-family="'Liberation Sans',sans-serif" font-weight="bold" fill="#000">b</text>
<text x="225.30" y="755.10" font-size="21.75" font-family="'Liberation Sans',sans-serif" fill="#111">A = 100, B = 1000, C = 100, D = 100</text>
<rect x="208.40" y="766.40" width="442.60" height="286.50" fill="none" stroke="#1a1a1a" stroke-width="1.3"/>
<line x1="216.90" y1="1052.90" x2="216.90" y2="1042.90" stroke="#1a1a1a" stroke-width="1.4"/>
<text x="211.88" y="1073.90" font-size="21.50" font-family="'Liberation Sans',sans-serif" fill="#111">0</text>
<line x1="287.70" y1="1052.90" x2="287.70" y2="1042.90" stroke="#1a1a1a" stroke-width="1.4"/>
<text x="276.34" y="1073.90" font-size="21.50" font-family="'Liberation Sans',sans-serif" fill="#111">10</text>
<line x1="358.50" y1="1052.90" x2="358.50" y2="1042.90" stroke="#1a1a1a" stroke-width="1.4"/>
<text x="347.41" y="1073.90" font-size="21.50" font-family="'Liberation Sans',sans-serif" fill="#111">20</text>
<line x1="429.30" y1="1052.90" x2="429.30" y2="1042.90" stroke="#1a1a1a" stroke-width="1.4"/>
<text x="418.31" y="1073.90" font-size="21.50" font-family="'Liberation Sans',sans-serif" fill="#111">30</text>
<line x1="500.10" y1="1052.90" x2="500.10" y2="1042.90" stroke="#1a1a1a" stroke-width="1.4"/>
<text x="489.33" y="1073.90" font-size="21.50" font-family="'Liberation Sans',sans-serif" fill="#111">40</text>
<line x1="570.90" y1="1052.90" x2="570.90" y2="1042.90" stroke="#1a1a1a" stroke-width="1.4"/>
<text x="559.91" y="1073.90" font-size="21.50" font-family="'Liberation Sans',sans-serif" fill="#111">50</text>
<line x1="641.70" y1="1052.90" x2="641.70" y2="1042.90" stroke="#1a1a1a" stroke-width="1.4"/>
<text x="630.61" y="1073.90" font-size="21.50" font-family="'Liberation Sans',sans-serif" fill="#111">60</text>
<line x1="208.40" y1="1038.30" x2="217.40" y2="1038.30" stroke="#1a1a1a" stroke-width="1.4"/>
<text x="191.12" y="1045.60" font-size="21.50" font-family="'Liberation Sans',sans-serif" fill="#111">0</text>
<line x1="208.40" y1="983.88" x2="217.40" y2="983.88" stroke="#1a1a1a" stroke-width="1.4"/>
<text x="173.28" y="991.18" font-size="21.50" font-family="'Liberation Sans',sans-serif" fill="#111">0.3</text>
<line x1="208.40" y1="929.46" x2="217.40" y2="929.46" stroke="#1a1a1a" stroke-width="1.4"/>
<text x="173.28" y="936.76" font-size="21.50" font-family="'Liberation Sans',sans-serif" fill="#111">0.6</text>
<line x1="208.40" y1="875.04" x2="217.40" y2="875.04" stroke="#1a1a1a" stroke-width="1.4"/>
<text x="173.38" y="882.34" font-size="21.50" font-family="'Liberation Sans',sans-serif" fill="#111">0.9</text>
<line x1="208.40" y1="820.62" x2="217.40" y2="820.62" stroke="#1a1a1a" stroke-width="1.4"/>
<text x="173.49" y="827.92" font-size="21.50" font-family="'Liberation Sans',sans-serif" fill="#111">1.2</text>
<text x="357.56" y="1103.00" font-size="21.83" font-family="'Liberation Sans',sans-serif" fill="#111">Time (minutes)</text>
<text transform="translate(160.30,998.50) rotate(-90)" x="-1.09" y="0" font-size="21.83" font-family="'Liberation Sans',sans-serif" fill="#111">Concentration (a.u.)</text>
<path d="M217.18,1038.56 L217.67,1037.23 L218.15,1035.89 L218.64,1034.55 L219.13,1033.22 L219.62,1031.88 L220.11,1030.55 L220.60,1029.22 L221.10,1027.89 L221.59,1026.56 L222.09,1025.23 L222.59,1023.90 L223.09,1022.58 L223.59,1021.25 L224.10,1019.93 L224.60,1018.60 L225.11,1017.28 L225.61,1015.96 L226.12,1014.64 L226.64,1013.32 L227.15,1012.00 L227.66,1010.69 L228.18,1009.37 L228.69,1008.06 L229.21,1006.74 L229.73,1005.43 L230.25,1004.12 L230.78,1002.81 L231.30,1001.50 L231.83,1000.19 L232.36,998.89 L232.89,997.58 L233.42,996.28 L233.95,994.97 L234.49,993.67 L235.02,992.37 L235.56,991.07 L236.10,989.77 L236.64,988.47 L237.19,987.17 L237.73,985.88 L238.28,984.58 L238.82,983.29 L239.37,981.99 L239.93,980.70 L240.48,979.41 L241.03,978.12 L241.59,976.83 L242.15,975.55 L242.71,974.26 L243.27,972.97 L243.84,971.69 L244.40,970.41 L244.97,969.12 L245.54,967.84 L246.11,966.56 L246.68,965.28 L247.26,964.01 L247.83,962.73 L248.41,961.45 L248.99,960.18 L249.58,958.91 L250.16,957.63 L250.75,956.36 L251.33,955.09 L251.92,953.82 L252.51,952.55 L253.11,951.29 L253.70,950.02 L254.30,948.76 L254.90,947.49 L255.50,946.23 L256.10,944.97 L256.71,943.71 L257.32,942.45 L257.93,941.19 L258.54,939.93 L259.15,938.68 L259.77,937.42 L260.38,936.17 L261.00,934.91 L261.62,933.66 L262.25,932.41 L262.87,931.16 L263.50,929.91 L264.13,928.66 L264.76,927.42 L265.39,926.17 L266.03,924.93 L266.67,923.68 L267.31,922.44 L267.95,921.20 L268.59,919.96 L269.24,918.72 L269.89,917.48 L270.54,916.25 L271.19,915.01 L271.84,913.77 L272.50,912.54 L273.16,911.31 L273.82,910.08 L274.48,908.85 L275.15,907.62 L275.82,906.39 L276.49,905.16 L277.16,903.93 L277.83,902.71 L278.51,901.49 L279.19,900.26 L279.87,899.04 L280.55,897.82 L281.24,896.60 L281.93,895.38 L282.62,894.16 L283.31,892.95 L284.01,891.73 L284.70,890.52 L285.40,889.30 L286.10,888.09 L286.81,886.88 L287.51,885.67 L288.22,884.46 L288.93,883.25 L289.65,882.05 L290.36,880.84 L291.08,879.63 L291.80,878.43 L292.53,877.23 L293.25,876.03 L293.98,874.83 L294.71,873.63 L295.44,872.43 L296.18,871.23 L296.92,870.04 L297.66,868.84 L298.40,867.65 L299.14,866.45 L299.89,865.26 L300.64,864.07 L301.39,862.88 L302.15,861.69 L302.91,860.50 L303.67,859.32 L304.43,858.13 L305.19,856.95 L305.96,855.76 L306.73,854.58 L307.50,853.40 L308.28,852.22 L309.06,851.04 L309.84,849.86 L310.62,848.69 L311.41,847.51 L312.20,846.34 L312.99,845.16 L313.78,843.99 L314.58,842.82 L315.38,841.65 L316.18,840.48 L316.98,839.31 L317.79,838.14 L318.60,836.98 L319.41,835.81 L320.22,834.65 L321.04,833.48 L321.86,832.32 L322.69,831.16 L323.51,830.01 L324.34,828.85 L325.18,827.70 L326.02,826.55 L326.86,825.40 L327.71,824.26 L328.56,823.12 L329.42,821.98 L330.29,820.85 L331.16,819.73 L332.03,818.61 L332.91,817.49 L333.80,816.38 L334.70,815.28 L335.60,814.18 L336.51,813.09 L337.43,812.01 L338.35,810.94 L339.28,809.87 L340.22,808.81 L341.17,807.75 L342.13,806.71 L343.09,805.68 L344.07,804.65 L345.05,803.63 L346.05,802.63 L347.05,801.63 L348.07,800.64 L349.09,799.67 L350.13,798.70 L351.17,797.75 L352.23,796.80 L353.30,795.87 L354.38,794.96 L355.47,794.05 L356.57,793.16 L357.69,792.28 L358.82,791.41 L359.96,790.56 L361.12,789.72 L362.28,788.89 L363.46,788.09 L364.66,787.30 L365.86,786.55 L367.07,785.83 L368.29,785.15 L369.52,784.51 L370.75,783.93 L371.99,783.41 L373.23,782.94 L374.47,782.55 L375.71,782.23 L376.96,781.99 L378.20,781.83 L379.44,781.77 L380.68,781.80 L381.91,781.92 L383.13,782.12 L384.35,782.41 L385.56,782.78 L386.77,783.22 L387.96,783.73 L389.14,784.31 L390.30,784.95 L391.46,785.64 L392.60,786.39 L393.72,787.19 L394.83,788.03 L395.91,788.91 L396.98,789.83 L398.03,790.79 L399.06,791.77 L400.06,792.77 L401.04,793.79 L402.00,794.83 L402.93,795.89 L403.84,796.96 L404.72,798.05 L405.58,799.15 L406.42,800.26 L407.24,801.39 L408.04,802.54 L408.81,803.70 L409.57,804.87 L410.31,806.05 L411.02,807.24 L411.72,808.45 L412.40,809.67 L413.06,810.90 L413.71,812.14 L414.33,813.39 L414.94,814.66 L415.54,815.93 L416.12,817.21 L416.68,818.50 L417.23,819.80 L417.77,821.11 L418.29,822.43 L418.80,823.76 L419.29,825.09 L419.78,826.43 L420.25,827.77 L420.71,829.13 L421.16,830.49 L421.60,831.85 L422.03,833.22 L422.46,834.60 L422.87,835.98 L423.27,837.37 L423.67,838.76 L424.06,840.15 L424.44,841.55 L424.82,842.95 L425.19,844.35 L425.55,845.76 L425.91,847.16 L426.27,848.57 L426.62,849.98 L426.97,851.39 L427.31,852.81 L427.66,854.22 L428.00,855.63 L428.34,857.04 L428.67,858.46 L429.01,859.87 L429.35,861.28 L429.69,862.68 L430.02,864.09 L430.36,865.49 L430.71,866.89 L431.05,868.29 L431.40,869.68 L431.75,871.07 L432.10,872.46 L432.46,873.84 L432.82,875.22 L433.19,876.59 L433.56,877.96 L433.94,879.32 L434.33,880.67 L434.72,882.02 L435.13,883.36 L435.53,884.70 L435.95,886.02 L436.38,887.34 L436.82,888.65 L437.26,889.95 L437.72,891.25 L438.18,892.54 L438.65,893.82 L439.14,895.09 L439.63,896.36 L440.13,897.62 L440.63,898.87 L441.15,900.13 L441.67,901.37 L442.20,902.61 L442.74,903.85 L443.28,905.09 L443.83,906.32 L444.39,907.55 L444.96,908.77 L445.53,909.99 L446.10,911.22 L446.69,912.44 L447.28,913.65 L447.87,914.87 L448.47,916.09 L449.07,917.31 L449.68,918.53 L450.30,919.75 L450.92,920.97 L451.54,922.19 L452.17,923.41 L452.80,924.64 L453.43,925.87 L454.07,927.10 L454.71,928.33 L455.36,929.57 L456.01,930.81 L456.66,932.06 L457.31,933.31 L457.97,934.57 L458.62,935.83 L459.28,937.10 L459.94,938.37 L460.61,939.65 L461.27,940.94 L461.94,942.22 L462.62,943.51 L463.30,944.80 L463.98,946.09 L464.67,947.37 L465.37,948.66 L466.08,949.94 L466.79,951.21 L467.52,952.48 L468.25,953.74 L468.99,954.99 L469.74,956.23 L470.51,957.45 L471.29,958.67 L472.08,959.87 L472.88,961.06 L473.70,962.24 L474.53,963.39 L475.38,964.53 L476.24,965.65 L477.12,966.74 L478.02,967.82 L478.94,968.87 L479.87,969.90 L480.83,970.90 L481.80,971.88 L482.79,972.83 L483.80,973.76 L484.84,974.66 L485.88,975.54 L486.95,976.40 L488.03,977.23 L489.13,978.04 L490.25,978.83 L491.38,979.59 L492.52,980.33 L493.68,981.06 L494.86,981.76 L496.05,982.44 L497.25,983.11 L498.46,983.75 L499.69,984.38 L500.93,984.99 L502.18,985.58 L503.44,986.16 L504.71,986.72 L505.99,987.26 L507.28,987.79 L508.58,988.30 L509.88,988.80 L511.20,989.28 L512.52,989.75 L513.85,990.21 L515.19,990.66 L516.53,991.09 L517.88,991.51 L519.23,991.92 L520.59,992.32 L521.95,992.71 L523.32,993.10 L524.69,993.47 L526.06,993.83 L527.43,994.19 L528.81,994.53 L530.19,994.87 L531.57,995.21 L532.95,995.53 L534.33,995.86 L535.71,996.17 L537.09,996.48 L538.47,996.78 L539.85,997.08 L541.24,997.37 L542.62,997.66 L544.00,997.94 L545.39,998.21 L546.77,998.48 L548.16,998.75 L549.54,999.01 L550.93,999.26 L552.32,999.51 L553.71,999.75 L555.09,999.99 L556.48,1000.23 L557.87,1000.46 L559.26,1000.68 L560.65,1000.90 L562.04,1001.12 L563.43,1001.33 L564.82,1001.54 L566.21,1001.75 L567.60,1001.95 L569.00,1002.14 L570.39,1002.33 L571.78,1002.52 L573.18,1002.71 L574.57,1002.89 L575.96,1003.07 L577.36,1003.24 L578.75,1003.42 L580.15,1003.58 L581.54,1003.75 L582.94,1003.91 L584.33,1004.07 L585.73,1004.23 L587.12,1004.39 L588.52,1004.54 L589.92,1004.69 L591.31,1004.83 L592.71,1004.98 L594.11,1005.12 L595.51,1005.26 L596.91,1005.40 L598.30,1005.54 L599.70,1005.67 L601.10,1005.81 L602.50,1005.94 L603.90,1006.07 L605.30,1006.20 L606.69,1006.32 L608.09,1006.45 L609.49,1006.57 L610.89,1006.70 L612.29,1006.82 L613.69,1006.94 L615.09,1007.06 L616.49,1007.18 L617.89,1007.30 L619.29,1007.42 L620.69,1007.54 L622.09,1007.66 L623.49,1007.78 L624.89,1007.90 L626.29,1008.01 L627.69,1008.13 L629.09,1008.25 L630.49,1008.37 L631.89,1008.49 L633.29,1008.61 L634.69,1008.73 L636.09,1008.85 L637.49,1008.97 L638.89,1009.09 L640.29,1009.21 L641.69,1009.34" fill="none" stroke="#141414" stroke-width="2.5" stroke-linejoin="round" stroke-linecap="round"/>
<path d="M217.42,1038.82 L218.34,1038.30 L219.27,1037.79 L220.20,1037.28 L221.13,1036.77 L222.06,1036.25 L222.99,1035.74 L223.93,1035.23 L224.87,1034.73 L225.81,1034.22 L226.75,1033.71 L227.69,1033.20 L228.64,1032.70 L229.59,1032.19 L230.53,1031.68 L231.48,1031.18 L232.44,1030.67 L233.39,1030.17 L234.34,1029.67 L235.30,1029.16 L236.26,1028.66 L237.21,1028.15 L238.17,1027.65 L239.14,1027.15 L240.10,1026.65 L241.06,1026.14 L242.02,1025.64 L242.99,1025.14 L243.96,1024.63 L244.92,1024.13 L245.89,1023.63 L246.86,1023.13 L247.83,1022.62 L248.80,1022.12 L249.77,1021.62 L250.75,1021.11 L251.72,1020.61 L252.69,1020.10 L253.67,1019.60 L254.64,1019.09 L255.62,1018.59 L256.59,1018.08 L257.57,1017.57 L258.54,1017.07 L259.52,1016.56 L260.50,1016.05 L261.47,1015.54 L262.45,1015.03 L263.43,1014.52 L264.41,1014.01 L265.38,1013.50 L266.36,1012.99 L267.34,1012.47 L268.32,1011.96 L269.29,1011.44 L270.27,1010.93 L271.25,1010.41 L272.22,1009.89 L273.20,1009.37 L274.18,1008.85 L275.15,1008.33 L276.13,1007.81 L277.10,1007.28 L278.08,1006.76 L279.05,1006.23 L280.02,1005.70 L281.00,1005.18 L281.97,1004.65 L282.94,1004.11 L283.91,1003.58 L284.88,1003.05 L285.85,1002.51 L286.82,1001.97 L287.79,1001.43 L288.75,1000.89 L289.72,1000.35 L290.68,999.81 L291.64,999.26 L292.61,998.71 L293.57,998.16 L294.53,997.61 L295.48,997.06 L296.44,996.51 L297.40,995.95 L298.35,995.39 L299.30,994.83 L300.25,994.27 L301.20,993.70 L302.15,993.14 L303.10,992.57 L304.04,992.00 L304.99,991.42 L305.93,990.85 L306.87,990.27 L307.81,989.69 L308.74,989.11 L309.68,988.53 L310.61,987.94 L311.54,987.35 L312.47,986.76 L313.39,986.16 L314.32,985.57 L315.24,984.97 L316.16,984.37 L317.07,983.76 L317.99,983.15 L318.90,982.54 L319.81,981.93 L320.72,981.32 L321.63,980.70 L322.53,980.08 L323.43,979.45 L324.33,978.83 L325.22,978.20 L326.11,977.56 L327.00,976.93 L327.89,976.29 L328.77,975.65 L329.66,975.00 L330.53,974.36 L331.41,973.70 L332.28,973.05 L333.15,972.39 L334.02,971.73 L334.88,971.07 L335.74,970.40 L336.60,969.73 L337.45,969.06 L338.30,968.38 L339.15,967.70 L339.99,967.01 L340.83,966.32 L341.67,965.63 L342.50,964.94 L343.33,964.24 L344.16,963.53 L344.98,962.83 L345.80,962.12 L346.61,961.40 L347.43,960.69 L348.23,959.96 L349.04,959.24 L349.84,958.51 L350.63,957.77 L351.42,957.04 L352.21,956.30 L353.00,955.55 L353.78,954.80 L354.55,954.05 L355.32,953.29 L356.09,952.53 L356.85,951.76 L357.61,950.99 L358.37,950.21 L359.12,949.43 L359.86,948.65 L360.60,947.86 L361.34,947.07 L362.07,946.27 L362.80,945.47 L363.52,944.67 L364.24,943.86 L364.95,943.04 L365.66,942.22 L366.37,941.40 L367.06,940.57 L367.76,939.73 L368.45,938.89 L369.13,938.05 L369.81,937.20 L370.48,936.35 L371.15,935.49 L371.82,934.63 L372.48,933.76 L373.13,932.89 L373.78,932.01 L374.42,931.13 L375.06,930.24 L375.70,929.35 L376.33,928.46 L376.96,927.56 L377.59,926.66 L378.21,925.75 L378.83,924.85 L379.44,923.94 L380.06,923.02 L380.67,922.11 L381.28,921.19 L381.88,920.27 L382.49,919.34 L383.09,918.42 L383.69,917.49 L384.30,916.56 L384.90,915.63 L385.49,914.70 L386.09,913.77 L386.69,912.84 L387.29,911.90 L387.89,910.97 L388.49,910.03 L389.08,909.09 L389.68,908.16 L390.28,907.22 L390.88,906.29 L391.49,905.35 L392.09,904.42 L392.70,903.48 L393.30,902.55 L393.91,901.62 L394.52,900.68 L395.14,899.75 L395.75,898.83 L396.37,897.90 L396.99,896.97 L397.62,896.05 L398.25,895.13 L398.88,894.21 L399.52,893.30 L400.16,892.38 L400.80,891.47 L401.45,890.57 L402.11,889.66 L402.77,888.76 L403.43,887.87 L404.10,886.97 L404.77,886.08 L405.45,885.20 L406.14,884.32 L406.83,883.44 L407.53,882.57 L408.23,881.70 L408.95,880.84 L409.66,879.98 L410.39,879.13 L411.12,878.28 L411.86,877.44 L412.61,876.60 L413.37,875.77 L414.13,874.95 L414.90,874.14 L415.68,873.35 L416.46,872.57 L417.25,871.82 L418.05,871.08 L418.85,870.37 L419.66,869.69 L420.47,869.04 L421.29,868.43 L422.11,867.85 L422.93,867.31 L423.76,866.81 L424.59,866.35 L425.43,865.95 L426.27,865.59 L427.11,865.28 L427.95,865.03 L428.80,864.84 L429.65,864.71 L430.50,864.65 L431.34,864.64 L432.19,864.71 L433.05,864.85 L433.90,865.07 L434.75,865.36 L435.60,865.73 L436.45,866.18 L437.29,866.71 L438.14,867.30 L438.98,867.96 L439.82,868.68 L440.66,869.46 L441.49,870.28 L442.31,871.14 L443.13,872.03 L443.95,872.96 L444.75,873.91 L445.55,874.87 L446.34,875.85 L447.12,876.84 L447.89,877.82 L448.66,878.81 L449.41,879.79 L450.15,880.76 L450.88,881.74 L451.60,882.71 L452.32,883.67 L453.02,884.64 L453.71,885.60 L454.39,886.55 L455.07,887.51 L455.73,888.46 L456.38,889.40 L457.02,890.34 L457.66,891.28 L458.28,892.22 L458.89,893.15 L459.50,894.07 L460.09,895.00 L460.67,895.91 L461.24,896.83 L461.81,897.74 L462.36,898.65 L462.91,899.55 L463.46,900.46 L463.99,901.36 L464.52,902.26 L465.05,903.16 L465.57,904.05 L466.09,904.95 L466.61,905.85 L467.13,906.75 L467.65,907.65 L468.17,908.56 L468.69,909.46 L469.21,910.37 L469.73,911.28 L470.26,912.19 L470.80,913.11 L471.33,914.03 L471.87,914.96 L472.42,915.88 L472.97,916.81 L473.53,917.74 L474.08,918.67 L474.65,919.61 L475.22,920.54 L475.79,921.48 L476.37,922.41 L476.95,923.35 L477.54,924.29 L478.13,925.22 L478.73,926.16 L479.33,927.09 L479.94,928.02 L480.56,928.95 L481.18,929.88 L481.80,930.80 L482.43,931.73 L483.07,932.65 L483.71,933.56 L484.35,934.48 L485.01,935.38 L485.66,936.29 L486.33,937.19 L487.00,938.09 L487.67,938.98 L488.36,939.86 L489.04,940.74 L489.74,941.61 L490.44,942.48 L491.15,943.34 L491.86,944.19 L492.58,945.04 L493.31,945.87 L494.04,946.70 L494.78,947.52 L495.53,948.34 L496.28,949.14 L497.04,949.94 L497.81,950.72 L498.58,951.50 L499.36,952.26 L500.15,953.02 L500.95,953.76 L501.75,954.49 L502.56,955.21 L503.37,955.93 L504.20,956.63 L505.03,957.31 L505.87,957.99 L506.71,958.66 L507.56,959.32 L508.42,959.96 L509.29,960.60 L510.16,961.23 L511.04,961.84 L511.92,962.45 L512.81,963.05 L513.71,963.63 L514.61,964.21 L515.52,964.78 L516.43,965.33 L517.35,965.88 L518.28,966.42 L519.21,966.95 L520.14,967.47 L521.08,967.98 L522.03,968.49 L522.98,968.98 L523.94,969.47 L524.91,969.94 L525.87,970.41 L526.85,970.87 L527.82,971.33 L528.81,971.77 L529.79,972.21 L530.79,972.63 L531.78,973.05 L532.78,973.47 L533.79,973.87 L534.80,974.27 L535.81,974.66 L536.83,975.04 L537.85,975.41 L538.87,975.78 L539.90,976.14 L540.94,976.50 L541.97,976.85 L543.01,977.19 L544.06,977.52 L545.10,977.85 L546.15,978.17 L547.21,978.48 L548.27,978.79 L549.32,979.09 L550.39,979.39 L551.45,979.68 L552.52,979.97 L553.59,980.25 L554.67,980.52 L555.74,980.79 L556.82,981.05 L557.90,981.31 L558.99,981.56 L560.07,981.81 L561.16,982.05 L562.25,982.29 L563.34,982.52 L564.43,982.75 L565.53,982.97 L566.63,983.19 L567.72,983.40 L568.82,983.62 L569.93,983.82 L571.03,984.02 L572.13,984.22 L573.24,984.42 L574.34,984.61 L575.45,984.79 L576.56,984.98 L577.67,985.16 L578.78,985.34 L579.89,985.51 L581.00,985.68 L582.11,985.85 L583.22,986.01 L584.34,986.17 L585.45,986.33 L586.56,986.49 L587.68,986.64 L588.79,986.80 L589.90,986.94 L591.01,987.09 L592.13,987.24 L593.24,987.38 L594.35,987.52 L595.46,987.66 L596.57,987.80 L597.68,987.94 L598.79,988.07 L599.90,988.20 L601.00,988.34 L602.11,988.47 L603.21,988.60 L604.32,988.73 L605.42,988.85 L606.52,988.98 L607.62,989.11 L608.72,989.23 L609.81,989.36 L610.91,989.48 L612.00,989.61 L613.09,989.74 L614.18,989.86 L615.27,989.99 L616.35,990.11 L617.43,990.24 L618.51,990.36 L619.59,990.49 L620.67,990.62 L621.74,990.74 L622.81,990.87 L623.88,991.00 L624.94,991.13 L626.00,991.26 L627.06,991.40 L628.11,991.53 L629.17,991.67 L630.22,991.80 L631.26,991.94 L632.30,992.08 L633.34,992.22 L634.38,992.37 L635.41,992.51 L636.44,992.66 L637.46,992.81 L638.48,992.96 L639.49,993.12 L640.51,993.28 L641.51,993.44" fill="none" stroke="#141414" stroke-width="2.5" stroke-linejoin="round" stroke-linecap="round"/>
<path d="M217.14,1038.42 L218.21,1038.22 L219.29,1038.02 L220.37,1037.83 L221.46,1037.65 L222.55,1037.46 L223.64,1037.29 L224.74,1037.11 L225.84,1036.95 L226.95,1036.78 L228.06,1036.62 L229.17,1036.46 L230.29,1036.31 L231.41,1036.16 L232.53,1036.01 L233.66,1035.87 L234.79,1035.73 L235.92,1035.59 L237.06,1035.46 L238.20,1035.33 L239.34,1035.20 L240.49,1035.07 L241.64,1034.95 L242.79,1034.83 L243.94,1034.71 L245.10,1034.59 L246.26,1034.47 L247.42,1034.36 L248.58,1034.24 L249.75,1034.13 L250.91,1034.02 L252.08,1033.91 L253.25,1033.80 L254.42,1033.69 L255.60,1033.58 L256.77,1033.48 L257.95,1033.37 L259.13,1033.26 L260.31,1033.15 L261.49,1033.05 L262.67,1032.94 L263.85,1032.83 L265.04,1032.72 L266.22,1032.61 L267.40,1032.50 L268.59,1032.39 L269.78,1032.28 L270.96,1032.17 L272.15,1032.05 L273.34,1031.93 L274.52,1031.82 L275.71,1031.70 L276.90,1031.57 L278.08,1031.45 L279.27,1031.32 L280.46,1031.19 L281.64,1031.06 L282.83,1030.93 L284.01,1030.79 L285.19,1030.65 L286.38,1030.51 L287.56,1030.36 L288.74,1030.21 L289.92,1030.05 L291.10,1029.90 L292.28,1029.74 L293.45,1029.57 L294.63,1029.40 L295.80,1029.23 L296.97,1029.05 L298.14,1028.87 L299.31,1028.68 L300.48,1028.49 L301.64,1028.29 L302.80,1028.09 L303.96,1027.88 L305.12,1027.67 L306.27,1027.45 L307.43,1027.23 L308.58,1026.99 L309.72,1026.76 L310.87,1026.52 L312.01,1026.27 L313.15,1026.01 L314.28,1025.75 L315.42,1025.48 L316.54,1025.21 L317.67,1024.93 L318.79,1024.64 L319.91,1024.34 L321.03,1024.04 L322.14,1023.73 L323.25,1023.41 L324.35,1023.08 L325.45,1022.75 L326.55,1022.40 L327.64,1022.05 L328.73,1021.69 L329.81,1021.33 L330.89,1020.95 L331.96,1020.56 L333.03,1020.17 L334.10,1019.76 L335.16,1019.35 L336.21,1018.93 L337.26,1018.50 L338.31,1018.06 L339.35,1017.61 L340.39,1017.14 L341.41,1016.67 L342.44,1016.19 L343.46,1015.70 L344.47,1015.20 L345.48,1014.68 L346.48,1014.16 L347.47,1013.62 L348.46,1013.08 L349.45,1012.52 L350.42,1011.95 L351.39,1011.37 L352.36,1010.78 L353.32,1010.18 L354.27,1009.57 L355.21,1008.94 L356.15,1008.31 L357.09,1007.66 L358.01,1007.00 L358.93,1006.34 L359.84,1005.66 L360.75,1004.97 L361.65,1004.27 L362.54,1003.56 L363.43,1002.84 L364.31,1002.11 L365.18,1001.38 L366.05,1000.63 L366.90,999.87 L367.75,999.10 L368.60,998.32 L369.44,997.53 L370.27,996.74 L371.09,995.93 L371.91,995.11 L372.71,994.29 L373.52,993.45 L374.31,992.61 L375.10,991.76 L375.87,990.90 L376.65,990.03 L377.41,989.15 L378.17,988.26 L378.92,987.37 L379.66,986.46 L380.39,985.55 L381.12,984.63 L381.84,983.70 L382.55,982.77 L383.25,981.82 L383.94,980.87 L384.63,979.91 L385.31,978.94 L385.98,977.97 L386.64,976.98 L387.30,975.99 L387.95,975.00 L388.58,973.99 L389.21,972.98 L389.84,971.96 L390.45,970.94 L391.06,969.91 L391.66,968.87 L392.25,967.83 L392.84,966.79 L393.42,965.74 L393.99,964.69 L394.56,963.63 L395.12,962.57 L395.68,961.51 L396.22,960.45 L396.77,959.38 L397.30,958.32 L397.84,957.25 L398.36,956.18 L398.89,955.12 L399.40,954.05 L399.92,952.98 L400.43,951.92 L400.93,950.85 L401.43,949.79 L401.93,948.73 L402.42,947.67 L402.91,946.62 L403.39,945.56 L403.87,944.51 L404.35,943.46 L404.83,942.42 L405.30,941.37 L405.77,940.33 L406.23,939.29 L406.69,938.25 L407.15,937.21 L407.61,936.17 L408.06,935.13 L408.51,934.09 L408.96,933.06 L409.40,932.02 L409.85,930.99 L410.29,929.96 L410.72,928.92 L411.16,927.89 L411.59,926.86 L412.02,925.83 L412.45,924.79 L412.87,923.76 L413.30,922.73 L413.72,921.69 L414.14,920.66 L414.56,919.62 L414.97,918.59 L415.39,917.55 L415.80,916.52 L416.21,915.48 L416.62,914.44 L417.03,913.40 L417.43,912.35 L417.84,911.31 L418.24,910.26 L418.65,909.22 L419.05,908.17 L419.45,907.12 L419.85,906.06 L420.25,905.01 L420.65,903.95 L421.04,902.89 L421.44,901.83 L421.84,900.76 L422.23,899.70 L422.63,898.62 L423.02,897.55 L423.41,896.47 L423.81,895.39 L424.20,894.31 L424.60,893.22 L424.99,892.13 L425.38,891.04 L425.78,889.94 L426.17,888.84 L426.57,887.73 L426.96,886.62 L427.36,885.51 L427.75,884.39 L428.15,883.26 L428.54,882.14 L428.94,881.00 L429.34,879.87 L429.74,878.72 L430.14,877.58 L430.54,876.42 L430.94,875.27 L431.34,874.10 L431.74,872.94 L432.15,871.76 L432.55,870.58 L432.96,869.40 L433.37,868.20 L433.78,867.01 L434.19,865.81 L434.61,864.61 L435.03,863.41 L435.46,862.22 L435.90,861.03 L436.35,859.84 L436.80,858.67 L437.26,857.50 L437.74,856.35 L438.22,855.22 L438.73,854.10 L439.24,853.00 L439.77,851.91 L440.31,850.86 L440.88,849.82 L441.46,848.81 L442.06,847.83 L442.68,846.88 L443.32,845.97 L443.98,845.08 L444.67,844.23 L445.38,843.42 L446.12,842.65 L446.88,841.93 L447.67,841.24 L448.49,840.60 L449.33,840.01 L450.21,839.47 L451.12,838.98 L452.06,838.54 L453.03,838.15 L454.04,837.83 L455.06,837.57 L456.11,837.38 L457.15,837.26 L458.20,837.23 L459.24,837.27 L460.27,837.40 L461.29,837.60 L462.31,837.88 L463.31,838.22 L464.30,838.64 L465.29,839.11 L466.26,839.64 L467.23,840.23 L468.18,840.88 L469.12,841.57 L470.05,842.30 L470.96,843.08 L471.87,843.89 L472.76,844.74 L473.64,845.62 L474.51,846.53 L475.36,847.46 L476.20,848.42 L477.02,849.39 L477.83,850.37 L478.62,851.37 L479.40,852.37 L480.17,853.37 L480.91,854.38 L481.64,855.38 L482.36,856.38 L483.06,857.38 L483.75,858.38 L484.43,859.38 L485.09,860.38 L485.75,861.37 L486.39,862.37 L487.03,863.36 L487.66,864.35 L488.28,865.34 L488.89,866.32 L489.50,867.30 L490.10,868.28 L490.70,869.26 L491.29,870.24 L491.88,871.21 L492.47,872.19 L493.06,873.16 L493.64,874.12 L494.23,875.09 L494.82,876.05 L495.41,877.01 L496.01,877.96 L496.60,878.91 L497.21,879.86 L497.81,880.81 L498.43,881.75 L499.05,882.69 L499.67,883.63 L500.31,884.56 L500.95,885.49 L501.61,886.41 L502.27,887.34 L502.95,888.26 L503.63,889.17 L504.32,890.08 L505.02,890.99 L505.73,891.89 L506.45,892.79 L507.17,893.68 L507.91,894.57 L508.65,895.46 L509.40,896.34 L510.16,897.21 L510.92,898.08 L511.70,898.95 L512.48,899.81 L513.27,900.67 L514.06,901.52 L514.87,902.37 L515.68,903.21 L516.49,904.05 L517.32,904.88 L518.15,905.71 L518.98,906.53 L519.83,907.34 L520.67,908.15 L521.53,908.95 L522.39,909.75 L523.25,910.54 L524.13,911.33 L525.00,912.11 L525.88,912.88 L526.77,913.65 L527.66,914.41 L528.56,915.17 L529.46,915.92 L530.37,916.66 L531.28,917.40 L532.19,918.13 L533.11,918.85 L534.04,919.56 L534.96,920.27 L535.89,920.97 L536.83,921.67 L537.77,922.36 L538.71,923.04 L539.66,923.72 L540.61,924.39 L541.57,925.05 L542.53,925.70 L543.49,926.35 L544.46,927.00 L545.43,927.63 L546.40,928.26 L547.38,928.88 L548.36,929.50 L549.35,930.11 L550.34,930.71 L551.33,931.31 L552.32,931.90 L553.32,932.48 L554.33,933.06 L555.33,933.62 L556.34,934.19 L557.36,934.74 L558.37,935.29 L559.39,935.84 L560.42,936.37 L561.44,936.90 L562.47,937.43 L563.51,937.94 L564.54,938.45 L565.58,938.96 L566.62,939.45 L567.67,939.94 L568.72,940.43 L569.77,940.91 L570.82,941.38 L571.88,941.84 L572.94,942.30 L574.00,942.75 L575.07,943.19 L576.14,943.63 L577.21,944.06 L578.28,944.49 L579.36,944.91 L580.44,945.32 L581.52,945.72 L582.60,946.12 L583.69,946.51 L584.78,946.90 L585.87,947.28 L586.97,947.65 L588.06,948.02 L589.16,948.37 L590.26,948.73 L591.37,949.07 L592.47,949.41 L593.58,949.75 L594.69,950.07 L595.81,950.39 L596.92,950.71 L598.04,951.02 L599.16,951.32 L600.28,951.61 L601.40,951.90 L602.53,952.18 L603.65,952.46 L604.78,952.72 L605.91,952.99 L607.05,953.24 L608.18,953.49 L609.32,953.73 L610.46,953.97 L611.60,954.20 L612.74,954.42 L613.88,954.64 L615.02,954.85 L616.17,955.05 L617.32,955.25 L618.47,955.44 L619.62,955.63 L620.77,955.80 L621.92,955.98 L623.08,956.14 L624.24,956.30 L625.39,956.45 L626.55,956.60 L627.71,956.74 L628.87,956.87 L630.04,957.00 L631.20,957.12 L632.37,957.23 L633.53,957.34 L634.70,957.44 L635.87,957.53 L637.04,957.62 L638.21,957.70 L639.38,957.78 L640.55,957.85 L641.72,957.91" fill="none" stroke="#141414" stroke-width="2.5" stroke-linejoin="round" stroke-linecap="round"/>
<line x1="417.80" y1="821.00" x2="457.60" y2="794.40" stroke="#141414" stroke-width="2.4"/>
<line x1="465.50" y1="898.40" x2="530.00" y2="841.50" stroke="#141414" stroke-width="2.4"/>
<line x1="566.40" y1="939.90" x2="587.00" y2="908.80" stroke="#141414" stroke-width="2.4"/>
<text x="467.45" y="798.40" font-size="25.00" font-family="'Liberation Sans',sans-serif" fill="#111">Clb5,6</text>
<text x="540.22" y="802.00" font-size="17.00" font-family="'Liberation Sans',sans-serif" fill="#111">tot</text>
<text x="542.55" y="843.80" font-size="25.00" font-family="'Liberation Sans',sans-serif" fill="#111">Clb3,4</text>
<text x="615.32" y="847.40" font-size="17.00" font-family="'Liberation Sans',sans-serif" fill="#111">tot</text>
<text x="542.95" y="897.20" font-size="25.00" font-family="'Liberation Sans',sans-serif" fill="#111">Clb1,2</text>
<text x="615.72" y="900.80" font-size="17.00" font-family="'Liberation Sans',sans-serif" fill="#111">tot</text>
<text x="1063.02" y="34.00" font-size="37.11" font-family="'Liberation Sans',sans-serif" font-weight="bold" fill="#000">c</text>
<text x="1137.46" y="61.80" font-size="21.81" font-family="'Liberation Sans',sans-serif" fill="#111">B = 1000, C = 100, D = 100</text>
<rect x="1124.40" y="70.80" width="446.60" height="288.50" fill="none" stroke="#1a1a1a" stroke-width="1.3"/>
<line x1="1133.70" y1="359.30" x2="1133.70" y2="349.30" stroke="#1a1a1a" stroke-width="1.4"/>
<text x="1125.48" y="385.50" font-size="21.50" font-family="'Liberation Sans',sans-serif" fill="#111">0</text>
<line x1="1205.02" y1="359.30" x2="1205.02" y2="349.30" stroke="#1a1a1a" stroke-width="1.4"/>
<text x="1190.46" y="385.50" font-size="21.50" font-family="'Liberation Sans',sans-serif" fill="#111">10</text>
<line x1="1276.34" y1="359.30" x2="1276.34" y2="349.30" stroke="#1a1a1a" stroke-width="1.4"/>
<text x="1262.05" y="385.50" font-size="21.50" font-family="'Liberation Sans',sans-serif" fill="#111">20</text>
<line x1="1347.66" y1="359.30" x2="1347.66" y2="349.30" stroke="#1a1a1a" stroke-width="1.4"/>
<text x="1333.47" y="385.50" font-size="21.50" font-family="'Liberation Sans',sans-serif" fill="#111">30</text>
<line x1="1418.98" y1="359.30" x2="1418.98" y2="349.30" stroke="#1a1a1a" stroke-width="1.4"/>
<text x="1405.01" y="385.50" font-size="21.50" font-family="'Liberation Sans',sans-serif" fill="#111">40</text>
<line x1="1490.30" y1="359.30" x2="1490.30" y2="349.30" stroke="#1a1a1a" stroke-width="1.4"/>
<text x="1476.11" y="385.50" font-size="21.50" font-family="'Liberation Sans',sans-serif" fill="#111">50</text>
<line x1="1561.62" y1="359.30" x2="1561.62" y2="349.30" stroke="#1a1a1a" stroke-width="1.4"/>
<text x="1547.33" y="385.50" font-size="21.50" font-family="'Liberation Sans',sans-serif" fill="#111">60</text>
<line x1="1124.40" y1="344.20" x2="1133.40" y2="344.20" stroke="#1a1a1a" stroke-width="1.4"/>
<text x="1101.82" y="352.80" font-size="21.50" font-family="'Liberation Sans',sans-serif" fill="#111">0</text>
<line x1="1124.40" y1="295.12" x2="1133.40" y2="295.12" stroke="#1a1a1a" stroke-width="1.4"/>
<text x="1083.98" y="303.72" font-size="21.50" font-family="'Liberation Sans',sans-serif" fill="#111">0.3</text>
<line x1="1124.40" y1="246.04" x2="1133.40" y2="246.04" stroke="#1a1a1a" stroke-width="1.4"/>
<text x="1083.98" y="254.64" font-size="21.50" font-family="'Liberation Sans',sans-serif" fill="#111">0.6</text>
<line x1="1124.40" y1="196.96" x2="1133.40" y2="196.96" stroke="#1a1a1a" stroke-width="1.4"/>
<text x="1084.08" y="205.56" font-size="21.50" font-family="'Liberation Sans',sans-serif" fill="#111">0.9</text>
<line x1="1124.40" y1="147.88" x2="1133.40" y2="147.88" stroke="#1a1a1a" stroke-width="1.4"/>
<text x="1084.19" y="156.48" font-size="21.50" font-family="'Liberation Sans',sans-serif" fill="#111">1.2</text>
<line x1="1124.40" y1="98.80" x2="1133.40" y2="98.80" stroke="#1a1a1a" stroke-width="1.4"/>
<text x="1083.98" y="107.40" font-size="21.50" font-family="'Liberation Sans',sans-serif" fill="#111">1.5</text>
<text x="1273.96" y="422.90" font-size="21.77" font-family="'Liberation Sans',sans-serif" fill="#111">Time (minutes)</text>
<text transform="translate(1072.50,323.30) rotate(-90)" x="-1.08" y="0" font-size="21.66" font-family="'Liberation Sans',sans-serif" fill="#111">Concentration (a.u.)</text>
<path d="M1133.88,344.37 L1134.45,343.23 L1135.02,342.09 L1135.59,340.94 L1136.16,339.80 L1136.73,338.66 L1137.30,337.52 L1137.86,336.38 L1138.43,335.23 L1138.99,334.09 L1139.55,332.95 L1140.12,331.80 L1140.68,330.66 L1141.24,329.51 L1141.80,328.37 L1142.35,327.22 L1142.91,326.08 L1143.47,324.93 L1144.02,323.79 L1144.58,322.64 L1145.13,321.50 L1145.69,320.35 L1146.24,319.21 L1146.79,318.06 L1147.34,316.91 L1147.89,315.77 L1148.44,314.62 L1148.99,313.47 L1149.54,312.33 L1150.09,311.18 L1150.64,310.04 L1151.19,308.89 L1151.74,307.74 L1152.29,306.60 L1152.83,305.45 L1153.38,304.31 L1153.93,303.16 L1154.48,302.01 L1155.02,300.87 L1155.57,299.72 L1156.12,298.58 L1156.66,297.43 L1157.21,296.29 L1157.75,295.14 L1158.30,294.00 L1158.85,292.85 L1159.39,291.71 L1159.94,290.56 L1160.49,289.42 L1161.03,288.28 L1161.58,287.13 L1162.13,285.99 L1162.68,284.85 L1163.23,283.71 L1163.77,282.56 L1164.32,281.42 L1164.87,280.28 L1165.42,279.14 L1165.97,278.00 L1166.52,276.86 L1167.07,275.72 L1167.62,274.58 L1168.18,273.44 L1168.73,272.30 L1169.28,271.17 L1169.84,270.03 L1170.39,268.89 L1170.95,267.76 L1171.50,266.62 L1172.06,265.49 L1172.62,264.35 L1173.17,263.22 L1173.73,262.09 L1174.29,260.95 L1174.85,259.82 L1175.42,258.69 L1175.98,257.56 L1176.54,256.43 L1177.11,255.30 L1177.68,254.17 L1178.24,253.04 L1178.81,251.92 L1179.38,250.79 L1179.95,249.66 L1180.52,248.54 L1181.10,247.41 L1181.67,246.29 L1182.25,245.17 L1182.83,244.05 L1183.40,242.93 L1183.98,241.81 L1184.57,240.69 L1185.15,239.57 L1185.73,238.45 L1186.32,237.33 L1186.91,236.22 L1187.50,235.10 L1188.09,233.99 L1188.68,232.88 L1189.27,231.77 L1189.87,230.66 L1190.47,229.55 L1191.07,228.44 L1191.67,227.33 L1192.27,226.22 L1192.88,225.12 L1193.48,224.01 L1194.09,222.91 L1194.70,221.81 L1195.32,220.71 L1195.93,219.61 L1196.55,218.51 L1197.17,217.41 L1197.79,216.31 L1198.41,215.22 L1199.04,214.12 L1199.66,213.03 L1200.29,211.94 L1200.92,210.85 L1201.56,209.76 L1202.20,208.67 L1202.83,207.59 L1203.48,206.50 L1204.12,205.42 L1204.77,204.33 L1205.41,203.25 L1206.07,202.17 L1206.72,201.10 L1207.38,200.02 L1208.03,198.94 L1208.70,197.87 L1209.36,196.80 L1210.03,195.72 L1210.70,194.66 L1211.37,193.59 L1212.04,192.52 L1212.72,191.45 L1213.40,190.39 L1214.08,189.33 L1214.77,188.27 L1215.46,187.21 L1216.15,186.15 L1216.85,185.10 L1217.55,184.04 L1218.25,182.99 L1218.95,181.94 L1219.66,180.89 L1220.37,179.84 L1221.08,178.79 L1221.80,177.75 L1222.52,176.71 L1223.24,175.67 L1223.97,174.63 L1224.70,173.59 L1225.43,172.55 L1226.17,171.52 L1226.91,170.49 L1227.66,169.46 L1228.40,168.44 L1229.15,167.41 L1229.91,166.39 L1230.67,165.37 L1231.43,164.35 L1232.19,163.34 L1232.96,162.32 L1233.74,161.32 L1234.51,160.31 L1235.29,159.30 L1236.08,158.30 L1236.87,157.30 L1237.66,156.31 L1238.45,155.31 L1239.25,154.32 L1240.06,153.34 L1240.87,152.35 L1241.68,151.37 L1242.50,150.39 L1243.32,149.42 L1244.14,148.44 L1244.97,147.48 L1245.81,146.51 L1246.64,145.55 L1247.49,144.59 L1248.33,143.64 L1249.18,142.69 L1250.04,141.74 L1250.90,140.79 L1251.77,139.85 L1252.63,138.92 L1253.51,137.99 L1254.39,137.06 L1255.27,136.13 L1256.16,135.21 L1257.05,134.30 L1257.95,133.38 L1258.85,132.48 L1259.76,131.57 L1260.67,130.67 L1261.59,129.78 L1262.51,128.88 L1263.44,128.00 L1264.37,127.12 L1265.31,126.24 L1266.25,125.36 L1267.20,124.50 L1268.15,123.63 L1269.11,122.77 L1270.07,121.92 L1271.04,121.07 L1272.01,120.22 L1272.99,119.39 L1273.98,118.55 L1274.97,117.72 L1275.96,116.90 L1276.96,116.08 L1277.97,115.26 L1278.98,114.45 L1280.00,113.65 L1281.02,112.85 L1282.05,112.06 L1283.09,111.27 L1284.13,110.49 L1285.17,109.72 L1286.23,108.94 L1287.28,108.18 L1288.35,107.42 L1289.42,106.67 L1290.49,105.92 L1291.58,105.18 L1292.66,104.44 L1293.76,103.72 L1294.86,103.00 L1295.96,102.28 L1297.07,101.58 L1298.18,100.88 L1299.30,100.20 L1300.43,99.53 L1301.55,98.86 L1302.69,98.21 L1303.82,97.57 L1304.96,96.95 L1306.11,96.33 L1307.25,95.74 L1308.40,95.15 L1309.56,94.58 L1310.71,94.03 L1311.87,93.49 L1313.03,92.97 L1314.19,92.47 L1315.36,91.99 L1316.52,91.52 L1317.69,91.08 L1318.86,90.65 L1320.03,90.24 L1321.21,89.86 L1322.38,89.50 L1323.55,89.16 L1324.73,88.84 L1325.90,88.55 L1327.08,88.28 L1328.25,88.03 L1329.42,87.81 L1330.60,87.62 L1331.77,87.45 L1332.94,87.31 L1334.11,87.20 L1335.28,87.11 L1336.45,87.06 L1337.62,87.03 L1338.78,87.03 L1339.95,87.07 L1341.11,87.13 L1342.27,87.23 L1343.42,87.35 L1344.57,87.51 L1345.73,87.69 L1346.87,87.91 L1348.02,88.15 L1349.16,88.42 L1350.30,88.71 L1351.44,89.03 L1352.57,89.38 L1353.70,89.75 L1354.82,90.15 L1355.95,90.57 L1357.06,91.02 L1358.18,91.49 L1359.29,91.98 L1360.39,92.49 L1361.50,93.03 L1362.59,93.59 L1363.69,94.16 L1364.78,94.76 L1365.86,95.37 L1366.94,96.01 L1368.02,96.66 L1369.09,97.34 L1370.15,98.02 L1371.21,98.73 L1372.26,99.45 L1373.31,100.19 L1374.36,100.94 L1375.39,101.71 L1376.43,102.49 L1377.45,103.29 L1378.47,104.09 L1379.49,104.91 L1380.49,105.75 L1381.50,106.59 L1382.49,107.45 L1383.48,108.31 L1384.46,109.19 L1385.44,110.07 L1386.41,110.97 L1387.37,111.87 L1388.32,112.78 L1389.27,113.69 L1390.21,114.62 L1391.15,115.55 L1392.07,116.48 L1392.99,117.42 L1393.90,118.37 L1394.80,119.32 L1395.70,120.27 L1396.59,121.22 L1397.47,122.19 L1398.34,123.15 L1399.21,124.12 L1400.07,125.09 L1400.92,126.06 L1401.77,127.04 L1402.62,128.02 L1403.46,129.00 L1404.29,129.98 L1405.12,130.97 L1405.94,131.96 L1406.76,132.95 L1407.57,133.95 L1408.38,134.94 L1409.19,135.94 L1409.99,136.94 L1410.79,137.94 L1411.59,138.94 L1412.38,139.94 L1413.17,140.94 L1413.96,141.95 L1414.75,142.95 L1415.53,143.96 L1416.32,144.96 L1417.10,145.97 L1417.88,146.97 L1418.66,147.98 L1419.43,148.98 L1420.21,149.99 L1420.99,150.99 L1421.76,152.00 L1422.54,153.00 L1423.32,154.00 L1424.10,155.00 L1424.87,156.00 L1425.65,157.00 L1426.43,158.00 L1427.21,158.99 L1428.00,159.98 L1428.78,160.97 L1429.57,161.96 L1430.36,162.95 L1431.15,163.93 L1431.95,164.92 L1432.75,165.90 L1433.55,166.87 L1434.35,167.85 L1435.16,168.82 L1435.97,169.78 L1436.79,170.75 L1437.61,171.71 L1438.43,172.66 L1439.26,173.62 L1440.09,174.57 L1440.93,175.52 L1441.76,176.46 L1442.60,177.40 L1443.45,178.34 L1444.30,179.28 L1445.15,180.21 L1446.01,181.14 L1446.86,182.07 L1447.73,182.99 L1448.59,183.91 L1449.46,184.82 L1450.33,185.74 L1451.21,186.65 L1452.09,187.56 L1452.97,188.46 L1453.86,189.36 L1454.75,190.26 L1455.64,191.15 L1456.54,192.04 L1457.43,192.93 L1458.34,193.82 L1459.24,194.70 L1460.15,195.58 L1461.06,196.45 L1461.98,197.32 L1462.90,198.19 L1463.82,199.06 L1464.74,199.92 L1465.67,200.78 L1466.60,201.64 L1467.53,202.49 L1468.47,203.34 L1469.41,204.19 L1470.35,205.03 L1471.29,205.87 L1472.24,206.71 L1473.19,207.55 L1474.15,208.38 L1475.10,209.20 L1476.06,210.03 L1477.03,210.85 L1477.99,211.67 L1478.96,212.49 L1479.93,213.30 L1480.90,214.11 L1481.88,214.91 L1482.86,215.72 L1483.84,216.51 L1484.83,217.31 L1485.81,218.10 L1486.80,218.89 L1487.79,219.68 L1488.79,220.47 L1489.79,221.25 L1490.79,222.02 L1491.79,222.80 L1492.79,223.57 L1493.80,224.34 L1494.81,225.10 L1495.82,225.86 L1496.84,226.62 L1497.86,227.38 L1498.88,228.13 L1499.90,228.88 L1500.92,229.62 L1501.95,230.37 L1502.98,231.10 L1504.01,231.84 L1505.04,232.57 L1506.08,233.30 L1507.12,234.03 L1508.16,234.75 L1509.20,235.47 L1510.24,236.19 L1511.29,236.91 L1512.34,237.62 L1513.39,238.32 L1514.45,239.03 L1515.50,239.73 L1516.56,240.43 L1517.62,241.12 L1518.68,241.81 L1519.74,242.50 L1520.81,243.19 L1521.88,243.87 L1522.95,244.55 L1524.02,245.23 L1525.09,245.90 L1526.17,246.57 L1527.24,247.24 L1528.32,247.90 L1529.40,248.56 L1530.48,249.22 L1531.57,249.87 L1532.66,250.52 L1533.74,251.17 L1534.83,251.81 L1535.92,252.45 L1537.02,253.09 L1538.11,253.72 L1539.21,254.36 L1540.31,254.98 L1541.41,255.61 L1542.51,256.23 L1543.61,256.85 L1544.71,257.47 L1545.82,258.08 L1546.93,258.69 L1548.04,259.29 L1549.15,259.90 L1550.26,260.50 L1551.37,261.09 L1552.49,261.69 L1553.60,262.28 L1554.72,262.86 L1555.84,263.45 L1556.96,264.03 L1558.08,264.61 L1559.21,265.18 L1560.33,265.75 L1561.46,266.32" fill="none" stroke="#141414" stroke-width="2.5" stroke-linejoin="round" stroke-linecap="round"/>
<path d="M1133.60,344.68 L1134.45,344.48 L1135.30,344.29 L1136.15,344.09 L1137.00,343.90 L1137.85,343.71 L1138.70,343.52 L1139.55,343.33 L1140.40,343.15 L1141.25,342.96 L1142.10,342.78 L1142.95,342.59 L1143.81,342.41 L1144.66,342.23 L1145.51,342.06 L1146.36,341.88 L1147.21,341.70 L1148.06,341.53 L1148.91,341.36 L1149.76,341.19 L1150.61,341.02 L1151.47,340.85 L1152.32,340.68 L1153.17,340.52 L1154.02,340.36 L1154.87,340.19 L1155.72,340.03 L1156.58,339.87 L1157.43,339.71 L1158.28,339.56 L1159.13,339.40 L1159.98,339.25 L1160.83,339.10 L1161.69,338.95 L1162.54,338.80 L1163.39,338.65 L1164.24,338.50 L1165.10,338.35 L1165.95,338.21 L1166.80,338.07 L1167.65,337.92 L1168.51,337.78 L1169.36,337.65 L1170.21,337.51 L1171.06,337.37 L1171.92,337.24 L1172.77,337.10 L1173.62,336.97 L1174.47,336.84 L1175.33,336.71 L1176.18,336.58 L1177.03,336.45 L1177.89,336.33 L1178.74,336.20 L1179.59,336.08 L1180.45,335.96 L1181.30,335.84 L1182.15,335.72 L1183.01,335.60 L1183.86,335.48 L1184.71,335.36 L1185.57,335.25 L1186.42,335.14 L1187.27,335.02 L1188.13,334.91 L1188.98,334.80 L1189.84,334.69 L1190.69,334.59 L1191.54,334.48 L1192.40,334.38 L1193.25,334.27 L1194.11,334.17 L1194.96,334.07 L1195.81,333.97 L1196.67,333.87 L1197.52,333.77 L1198.38,333.67 L1199.23,333.58 L1200.09,333.48 L1200.94,333.39 L1201.79,333.30 L1202.65,333.21 L1203.50,333.12 L1204.36,333.03 L1205.21,332.94 L1206.07,332.86 L1206.92,332.77 L1207.78,332.69 L1208.63,332.60 L1209.49,332.52 L1210.34,332.44 L1211.20,332.36 L1212.05,332.28 L1212.91,332.20 L1213.76,332.13 L1214.62,332.05 L1215.47,331.98 L1216.33,331.90 L1217.18,331.83 L1218.04,331.76 L1218.90,331.69 L1219.75,331.62 L1220.61,331.55 L1221.46,331.49 L1222.32,331.42 L1223.17,331.36 L1224.03,331.29 L1224.88,331.23 L1225.74,331.17 L1226.60,331.11 L1227.45,331.05 L1228.31,330.99 L1229.16,330.93 L1230.02,330.88 L1230.88,330.82 L1231.73,330.77 L1232.59,330.71 L1233.44,330.66 L1234.30,330.61 L1235.16,330.56 L1236.01,330.51 L1236.87,330.46 L1237.73,330.41 L1238.58,330.36 L1239.44,330.32 L1240.30,330.27 L1241.15,330.23 L1242.01,330.18 L1242.87,330.14 L1243.72,330.10 L1244.58,330.06 L1245.44,330.02 L1246.29,329.98 L1247.15,329.94 L1248.01,329.91 L1248.86,329.87 L1249.72,329.84 L1250.58,329.80 L1251.43,329.77 L1252.29,329.74 L1253.15,329.71 L1254.00,329.67 L1254.86,329.64 L1255.72,329.62 L1256.58,329.59 L1257.43,329.56 L1258.29,329.53 L1259.15,329.51 L1260.00,329.48 L1260.86,329.46 L1261.72,329.44 L1262.58,329.42 L1263.43,329.39 L1264.29,329.37 L1265.15,329.35 L1266.01,329.33 L1266.86,329.32 L1267.72,329.30 L1268.58,329.28 L1269.44,329.27 L1270.30,329.25 L1271.15,329.24 L1272.01,329.22 L1272.87,329.21 L1273.73,329.20 L1274.58,329.19 L1275.44,329.18 L1276.30,329.17 L1277.16,329.16 L1278.02,329.15 L1278.87,329.14 L1279.73,329.14 L1280.59,329.13 L1281.45,329.13 L1282.31,329.12 L1283.16,329.12 L1284.02,329.11 L1284.88,329.11 L1285.74,329.11 L1286.60,329.11 L1287.46,329.11 L1288.31,329.11 L1289.17,329.11 L1290.03,329.11 L1290.89,329.11 L1291.75,329.12 L1292.61,329.12 L1293.46,329.12 L1294.32,329.13 L1295.18,329.13 L1296.04,329.14 L1296.90,329.15 L1297.76,329.16 L1298.62,329.16 L1299.47,329.17 L1300.33,329.18 L1301.19,329.19 L1302.05,329.20 L1302.91,329.21 L1303.77,329.23 L1304.63,329.24 L1305.49,329.25 L1306.35,329.26 L1307.20,329.28 L1308.06,329.29 L1308.92,329.31 L1309.78,329.32 L1310.64,329.34 L1311.50,329.36 L1312.36,329.38 L1313.22,329.39 L1314.08,329.41 L1314.93,329.43 L1315.79,329.45 L1316.65,329.47 L1317.51,329.49 L1318.37,329.51 L1319.23,329.54 L1320.09,329.56 L1320.95,329.58 L1321.81,329.60 L1322.67,329.63 L1323.53,329.65 L1324.39,329.68 L1325.25,329.70 L1326.10,329.73 L1326.96,329.75 L1327.82,329.78 L1328.68,329.81 L1329.54,329.84 L1330.40,329.86 L1331.26,329.89 L1332.12,329.92 L1332.98,329.95 L1333.84,329.98 L1334.70,330.01 L1335.56,330.04 L1336.42,330.07 L1337.28,330.10 L1338.14,330.14 L1339.00,330.17 L1339.86,330.20 L1340.72,330.23 L1341.58,330.27 L1342.44,330.30 L1343.29,330.34 L1344.15,330.37 L1345.01,330.41 L1345.87,330.44 L1346.73,330.48 L1347.59,330.51 L1348.45,330.55 L1349.31,330.59 L1350.17,330.62 L1351.03,330.66 L1351.89,330.70 L1352.75,330.74 L1353.61,330.78 L1354.47,330.82 L1355.33,330.86 L1356.19,330.90 L1357.05,330.94 L1357.91,330.98 L1358.77,331.02 L1359.63,331.06 L1360.49,331.10 L1361.35,331.14 L1362.21,331.18 L1363.07,331.22 L1363.93,331.27 L1364.79,331.31 L1365.65,331.35 L1366.51,331.39 L1367.37,331.44 L1368.23,331.48 L1369.09,331.52 L1369.95,331.57 L1370.81,331.61 L1371.67,331.66 L1372.53,331.70 L1373.39,331.75 L1374.25,331.79 L1375.11,331.84 L1375.97,331.88 L1376.83,331.93 L1377.69,331.98 L1378.55,332.02 L1379.41,332.07 L1380.27,332.11 L1381.13,332.16 L1381.99,332.21 L1382.85,332.26 L1383.71,332.30 L1384.57,332.35 L1385.43,332.40 L1386.29,332.45 L1387.15,332.49 L1388.01,332.54 L1388.87,332.59 L1389.73,332.64 L1390.59,332.69 L1391.45,332.74 L1392.31,332.78 L1393.17,332.83 L1394.03,332.88 L1394.89,332.93 L1395.75,332.98 L1396.61,333.03 L1397.47,333.08 L1398.33,333.13 L1399.19,333.18 L1400.05,333.23 L1400.91,333.28 L1401.77,333.33 L1402.63,333.38 L1403.49,333.43 L1404.35,333.48 L1405.21,333.53 L1406.07,333.58 L1406.93,333.63 L1407.79,333.68 L1408.65,333.73 L1409.51,333.78 L1410.37,333.83 L1411.24,333.88 L1412.10,333.93 L1412.96,333.98 L1413.82,334.03 L1414.68,334.08 L1415.54,334.13 L1416.40,334.18 L1417.26,334.23 L1418.12,334.28 L1418.98,334.33 L1419.84,334.38 L1420.70,334.43 L1421.56,334.48 L1422.42,334.53 L1423.28,334.58 L1424.14,334.63 L1425.00,334.68 L1425.86,334.73 L1426.72,334.78 L1427.58,334.83 L1428.44,334.88 L1429.30,334.93 L1430.16,334.98 L1431.02,335.03 L1431.88,335.08 L1432.74,335.13 L1433.60,335.18 L1434.46,335.23 L1435.32,335.28 L1436.18,335.33 L1437.04,335.37 L1437.90,335.42 L1438.76,335.47 L1439.62,335.52 L1440.48,335.57 L1441.34,335.62 L1442.20,335.66 L1443.06,335.71 L1443.92,335.76 L1444.78,335.81 L1445.64,335.85 L1446.50,335.90 L1447.36,335.95 L1448.22,335.99 L1449.08,336.04 L1449.94,336.09 L1450.80,336.13 L1451.66,336.18 L1452.52,336.23 L1453.38,336.27 L1454.23,336.32 L1455.09,336.36 L1455.95,336.41 L1456.81,336.45 L1457.67,336.50 L1458.53,336.54 L1459.39,336.58 L1460.25,336.63 L1461.11,336.67 L1461.97,336.72 L1462.83,336.76 L1463.69,336.80 L1464.55,336.84 L1465.41,336.89 L1466.27,336.93 L1467.13,336.97 L1467.99,337.01 L1468.85,337.05 L1469.71,337.09 L1470.57,337.13 L1471.43,337.17 L1472.29,337.21 L1473.15,337.25 L1474.01,337.29 L1474.87,337.33 L1475.72,337.37 L1476.58,337.41 L1477.44,337.45 L1478.30,337.48 L1479.16,337.52 L1480.02,337.56 L1480.88,337.59 L1481.74,337.63 L1482.60,337.67 L1483.46,337.70 L1484.32,337.74 L1485.18,337.77 L1486.04,337.81 L1486.90,337.84 L1487.75,337.87 L1488.61,337.91 L1489.47,337.94 L1490.33,337.97 L1491.19,338.00 L1492.05,338.04 L1492.91,338.07 L1493.77,338.10 L1494.63,338.13 L1495.49,338.16 L1496.34,338.19 L1497.20,338.22 L1498.06,338.24 L1498.92,338.27 L1499.78,338.30 L1500.64,338.33 L1501.50,338.35 L1502.36,338.38 L1503.22,338.41 L1504.07,338.43 L1504.93,338.46 L1505.79,338.48 L1506.65,338.50 L1507.51,338.53 L1508.37,338.55 L1509.23,338.57 L1510.08,338.59 L1510.94,338.61 L1511.80,338.64 L1512.66,338.66 L1513.52,338.68 L1514.38,338.69 L1515.24,338.71 L1516.09,338.73 L1516.95,338.75 L1517.81,338.77 L1518.67,338.78 L1519.53,338.80 L1520.39,338.81 L1521.24,338.83 L1522.10,338.84 L1522.96,338.85 L1523.82,338.87 L1524.68,338.88 L1525.53,338.89 L1526.39,338.90 L1527.25,338.91 L1528.11,338.92 L1528.97,338.93 L1529.82,338.94 L1530.68,338.95 L1531.54,338.96 L1532.40,338.96 L1533.26,338.97 L1534.11,338.98 L1534.97,338.98 L1535.83,338.98 L1536.69,338.99 L1537.54,338.99 L1538.40,338.99 L1539.26,338.99 L1540.12,339.00 L1540.97,339.00 L1541.83,339.00 L1542.69,338.99 L1543.55,338.99 L1544.40,338.99 L1545.26,338.99 L1546.12,338.98 L1546.98,338.98 L1547.83,338.97 L1548.69,338.97 L1549.55,338.96 L1550.40,338.95 L1551.26,338.94 L1552.12,338.94 L1552.98,338.93 L1553.83,338.91 L1554.69,338.90 L1555.55,338.89 L1556.40,338.88 L1557.26,338.87 L1558.12,338.85 L1558.97,338.84 L1559.83,338.82 L1560.69,338.80 L1561.54,338.79" fill="none" stroke="#141414" stroke-width="2.5" stroke-linejoin="round" stroke-linecap="round"/>
<path d="M1133.67,343.71 L1134.54,343.74 L1135.40,343.77 L1136.27,343.80 L1137.13,343.82 L1138.00,343.85 L1138.87,343.87 L1139.73,343.89 L1140.60,343.91 L1141.46,343.93 L1142.33,343.94 L1143.19,343.96 L1144.06,343.97 L1144.92,343.98 L1145.79,343.99 L1146.65,344.00 L1147.51,344.01 L1148.38,344.01 L1149.24,344.01 L1150.11,344.01 L1150.97,344.01 L1151.83,344.01 L1152.70,344.01 L1153.56,344.00 L1154.42,344.00 L1155.29,343.99 L1156.15,343.98 L1157.01,343.97 L1157.88,343.95 L1158.74,343.94 L1159.60,343.92 L1160.47,343.91 L1161.33,343.89 L1162.19,343.87 L1163.05,343.84 L1163.91,343.82 L1164.78,343.80 L1165.64,343.77 L1166.50,343.74 L1167.36,343.71 L1168.22,343.68 L1169.09,343.65 L1169.95,343.62 L1170.81,343.58 L1171.67,343.55 L1172.53,343.51 L1173.39,343.47 L1174.25,343.43 L1175.11,343.39 L1175.97,343.35 L1176.83,343.30 L1177.70,343.26 L1178.56,343.21 L1179.42,343.16 L1180.28,343.12 L1181.14,343.07 L1182.00,343.01 L1182.86,342.96 L1183.72,342.91 L1184.58,342.85 L1185.44,342.79 L1186.29,342.74 L1187.15,342.68 L1188.01,342.62 L1188.87,342.56 L1189.73,342.49 L1190.59,342.43 L1191.45,342.37 L1192.31,342.30 L1193.17,342.23 L1194.03,342.16 L1194.89,342.10 L1195.74,342.03 L1196.60,341.95 L1197.46,341.88 L1198.32,341.81 L1199.18,341.73 L1200.04,341.66 L1200.89,341.58 L1201.75,341.50 L1202.61,341.42 L1203.47,341.34 L1204.33,341.26 L1205.18,341.18 L1206.04,341.10 L1206.90,341.02 L1207.76,340.93 L1208.61,340.84 L1209.47,340.76 L1210.33,340.67 L1211.19,340.58 L1212.04,340.49 L1212.90,340.40 L1213.76,340.31 L1214.61,340.22 L1215.47,340.13 L1216.33,340.03 L1217.18,339.94 L1218.04,339.84 L1218.90,339.75 L1219.75,339.65 L1220.61,339.55 L1221.47,339.45 L1222.32,339.35 L1223.18,339.25 L1224.04,339.15 L1224.89,339.05 L1225.75,338.95 L1226.60,338.84 L1227.46,338.74 L1228.32,338.63 L1229.17,338.53 L1230.03,338.42 L1230.88,338.31 L1231.74,338.21 L1232.59,338.10 L1233.45,337.99 L1234.31,337.88 L1235.16,337.77 L1236.02,337.66 L1236.87,337.54 L1237.73,337.43 L1238.58,337.32 L1239.44,337.21 L1240.29,337.09 L1241.15,336.98 L1242.00,336.86 L1242.86,336.74 L1243.71,336.63 L1244.57,336.51 L1245.42,336.39 L1246.28,336.28 L1247.13,336.16 L1247.99,336.04 L1248.84,335.92 L1249.70,335.80 L1250.55,335.68 L1251.41,335.56 L1252.26,335.43 L1253.11,335.31 L1253.97,335.19 L1254.82,335.07 L1255.68,334.94 L1256.53,334.82 L1257.39,334.69 L1258.24,334.57 L1259.09,334.45 L1259.95,334.32 L1260.80,334.19 L1261.66,334.07 L1262.51,333.94 L1263.37,333.81 L1264.22,333.69 L1265.07,333.56 L1265.93,333.43 L1266.78,333.30 L1267.64,333.18 L1268.49,333.05 L1269.34,332.92 L1270.20,332.79 L1271.05,332.66 L1271.90,332.53 L1272.76,332.40 L1273.61,332.27 L1274.47,332.14 L1275.32,332.01 L1276.17,331.88 L1277.03,331.75 L1277.88,331.62 L1278.73,331.48 L1279.59,331.35 L1280.44,331.22 L1281.30,331.09 L1282.15,330.96 L1283.00,330.83 L1283.86,330.69 L1284.71,330.56 L1285.56,330.43 L1286.42,330.30 L1287.27,330.16 L1288.12,330.03 L1288.98,329.90 L1289.83,329.77 L1290.68,329.63 L1291.54,329.50 L1292.39,329.37 L1293.24,329.24 L1294.10,329.10 L1294.95,328.97 L1295.80,328.84 L1296.66,328.71 L1297.51,328.57 L1298.36,328.44 L1299.22,328.31 L1300.07,328.18 L1300.92,328.04 L1301.78,327.91 L1302.63,327.78 L1303.48,327.65 L1304.34,327.52 L1305.19,327.38 L1306.04,327.25 L1306.90,327.12 L1307.75,326.99 L1308.60,326.86 L1309.46,326.73 L1310.31,326.60 L1311.16,326.47 L1312.02,326.34 L1312.87,326.21 L1313.72,326.08 L1314.58,325.95 L1315.43,325.82 L1316.28,325.69 L1317.14,325.56 L1317.99,325.43 L1318.84,325.30 L1319.70,325.17 L1320.55,325.05 L1321.41,324.92 L1322.26,324.79 L1323.11,324.67 L1323.97,324.54 L1324.82,324.41 L1325.67,324.29 L1326.53,324.16 L1327.38,324.04 L1328.23,323.91 L1329.09,323.79 L1329.94,323.66 L1330.79,323.54 L1331.65,323.42 L1332.50,323.30 L1333.36,323.17 L1334.21,323.05 L1335.06,322.93 L1335.92,322.81 L1336.77,322.69 L1337.62,322.57 L1338.48,322.45 L1339.33,322.33 L1340.19,322.21 L1341.04,322.10 L1341.89,321.98 L1342.75,321.86 L1343.60,321.75 L1344.46,321.63 L1345.31,321.52 L1346.17,321.40 L1347.02,321.29 L1347.87,321.18 L1348.73,321.06 L1349.58,320.95 L1350.44,320.84 L1351.29,320.73 L1352.15,320.62 L1353.00,320.51 L1353.85,320.40 L1354.71,320.30 L1355.56,320.19 L1356.42,320.08 L1357.27,319.98 L1358.13,319.87 L1358.98,319.77 L1359.84,319.67 L1360.69,319.56 L1361.55,319.46 L1362.40,319.36 L1363.26,319.26 L1364.11,319.16 L1364.97,319.06 L1365.82,318.96 L1366.68,318.87 L1367.53,318.77 L1368.39,318.67 L1369.24,318.58 L1370.10,318.49 L1370.95,318.39 L1371.81,318.30 L1372.67,318.21 L1373.52,318.12 L1374.38,318.03 L1375.23,317.94 L1376.09,317.86 L1376.94,317.77 L1377.80,317.68 L1378.66,317.60 L1379.51,317.51 L1380.37,317.43 L1381.22,317.35 L1382.08,317.27 L1382.94,317.19 L1383.79,317.11 L1384.65,317.03 L1385.50,316.95 L1386.36,316.88 L1387.22,316.80 L1388.07,316.73 L1388.93,316.65 L1389.79,316.58 L1390.64,316.51 L1391.50,316.44 L1392.36,316.37 L1393.21,316.30 L1394.07,316.23 L1394.93,316.17 L1395.78,316.10 L1396.64,316.04 L1397.50,315.97 L1398.35,315.91 L1399.21,315.85 L1400.07,315.79 L1400.93,315.73 L1401.78,315.67 L1402.64,315.62 L1403.50,315.56 L1404.35,315.51 L1405.21,315.45 L1406.07,315.40 L1406.93,315.35 L1407.78,315.30 L1408.64,315.25 L1409.50,315.20 L1410.36,315.15 L1411.21,315.11 L1412.07,315.06 L1412.93,315.02 L1413.79,314.97 L1414.65,314.93 L1415.50,314.89 L1416.36,314.85 L1417.22,314.82 L1418.08,314.78 L1418.93,314.74 L1419.79,314.71 L1420.65,314.67 L1421.51,314.64 L1422.37,314.61 L1423.23,314.58 L1424.08,314.55 L1424.94,314.53 L1425.80,314.50 L1426.66,314.47 L1427.52,314.45 L1428.38,314.43 L1429.23,314.41 L1430.09,314.39 L1430.95,314.37 L1431.81,314.35 L1432.67,314.33 L1433.53,314.32 L1434.39,314.30 L1435.24,314.29 L1436.10,314.28 L1436.96,314.27 L1437.82,314.26 L1438.68,314.25 L1439.54,314.25 L1440.40,314.24 L1441.26,314.24 L1442.12,314.24 L1442.97,314.24 L1443.83,314.24 L1444.69,314.24 L1445.55,314.24 L1446.41,314.24 L1447.27,314.25 L1448.13,314.26 L1448.99,314.27 L1449.85,314.28 L1450.71,314.29 L1451.57,314.30 L1452.43,314.31 L1453.29,314.33 L1454.15,314.34 L1455.00,314.36 L1455.86,314.38 L1456.72,314.40 L1457.58,314.42 L1458.44,314.45 L1459.30,314.47 L1460.16,314.49 L1461.02,314.52 L1461.88,314.55 L1462.74,314.58 L1463.60,314.61 L1464.46,314.64 L1465.32,314.67 L1466.18,314.71 L1467.04,314.74 L1467.90,314.78 L1468.76,314.81 L1469.62,314.85 L1470.48,314.89 L1471.34,314.93 L1472.20,314.98 L1473.06,315.02 L1473.92,315.06 L1474.78,315.11 L1475.64,315.15 L1476.50,315.20 L1477.36,315.25 L1478.22,315.30 L1479.08,315.35 L1479.94,315.40 L1480.80,315.45 L1481.66,315.50 L1482.52,315.56 L1483.38,315.61 L1484.24,315.67 L1485.10,315.73 L1485.96,315.79 L1486.82,315.84 L1487.68,315.90 L1488.54,315.97 L1489.40,316.03 L1490.26,316.09 L1491.12,316.15 L1491.98,316.22 L1492.84,316.28 L1493.70,316.35 L1494.56,316.42 L1495.43,316.48 L1496.29,316.55 L1497.15,316.62 L1498.01,316.69 L1498.87,316.76 L1499.73,316.84 L1500.59,316.91 L1501.45,316.98 L1502.31,317.06 L1503.17,317.13 L1504.03,317.21 L1504.89,317.28 L1505.75,317.36 L1506.61,317.44 L1507.47,317.52 L1508.33,317.59 L1509.19,317.67 L1510.05,317.75 L1510.91,317.84 L1511.77,317.92 L1512.63,318.00 L1513.49,318.08 L1514.35,318.17 L1515.21,318.25 L1516.07,318.34 L1516.93,318.42 L1517.79,318.51 L1518.65,318.59 L1519.51,318.68 L1520.37,318.77 L1521.23,318.86 L1522.09,318.94 L1522.95,319.03 L1523.81,319.12 L1524.67,319.21 L1525.53,319.30 L1526.39,319.40 L1527.25,319.49 L1528.11,319.58 L1528.97,319.67 L1529.83,319.76 L1530.69,319.86 L1531.55,319.95 L1532.41,320.05 L1533.27,320.14 L1534.13,320.23 L1534.99,320.33 L1535.85,320.43 L1536.71,320.52 L1537.57,320.62 L1538.43,320.71 L1539.29,320.81 L1540.15,320.91 L1541.01,321.01 L1541.87,321.10 L1542.73,321.20 L1543.59,321.30 L1544.44,321.40 L1545.30,321.50 L1546.16,321.60 L1547.02,321.70 L1547.88,321.80 L1548.74,321.90 L1549.60,322.00 L1550.46,322.10 L1551.32,322.20 L1552.18,322.30 L1553.04,322.40 L1553.90,322.50 L1554.75,322.60 L1555.61,322.70 L1556.47,322.80 L1557.33,322.90 L1558.19,323.01 L1559.05,323.11 L1559.91,323.21 L1560.77,323.31 L1561.62,323.41" fill="none" stroke="#141414" stroke-width="2.5" stroke-linejoin="round" stroke-linecap="round"/>
<line x1="1353.90" y1="151.70" x2="1393.30" y2="118.10" stroke="#141414" stroke-width="2.4"/>
<line x1="1287.60" y1="285.40" x2="1222.90" y2="331.50" stroke="#141414" stroke-width="2.4"/>
<line x1="1451.30" y1="276.40" x2="1428.30" y2="311.80" stroke="#141414" stroke-width="2.4"/>
<text x="1255.15" y="167.40" font-size="25.00" font-family="'Liberation Sans',sans-serif" fill="#111">Clb5,6</text>
<text x="1327.92" y="171.00" font-size="17.00" font-family="'Liberation Sans',sans-serif" fill="#111">tot</text>
<text x="1242.55" y="272.10" font-size="25.00" font-family="'Liberation Sans',sans-serif" fill="#111">Clb3,4</text>
<text x="1315.32" y="275.70" font-size="17.00" font-family="'Liberation Sans',sans-serif" fill="#111">tot</text>
<text x="1405.95" y="261.20" font-size="25.00" font-family="'Liberation Sans',sans-serif" fill="#111">Clb1,2</text>
<text x="1478.72" y="264.80" font-size="17.00" font-family="'Liberation Sans',sans-serif" fill="#111">tot</text>
<text x="1059.43" y="473.30" font-size="39.21" font-family="'Liberation Sans',sans-serif" font-weight="bold" fill="#000">d</text>
<text x="1139.20" y="494.30" font-size="21.70" font-family="'Liberation Sans',sans-serif" fill="#111">A = 100, C = 100, D = 100</text>
<rect x="1125.20" y="503.80" width="442.80" height="287.20" fill="none" stroke="#1a1a1a" stroke-width="1.3"/>
<line x1="1134.50" y1="791.00" x2="1134.50" y2="781.00" stroke="#1a1a1a" stroke-width="1.4"/>
<text x="1126.48" y="817.50" font-size="21.50" font-family="'Liberation Sans',sans-serif" fill="#111">0</text>
<line x1="1205.25" y1="791.00" x2="1205.25" y2="781.00" stroke="#1a1a1a" stroke-width="1.4"/>
<text x="1190.89" y="817.50" font-size="21.50" font-family="'Liberation Sans',sans-serif" fill="#111">10</text>
<line x1="1276.00" y1="791.00" x2="1276.00" y2="781.00" stroke="#1a1a1a" stroke-width="1.4"/>
<text x="1261.91" y="817.50" font-size="21.50" font-family="'Liberation Sans',sans-serif" fill="#111">20</text>
<line x1="1346.75" y1="791.00" x2="1346.75" y2="781.00" stroke="#1a1a1a" stroke-width="1.4"/>
<text x="1332.76" y="817.50" font-size="21.50" font-family="'Liberation Sans',sans-serif" fill="#111">30</text>
<line x1="1417.50" y1="791.00" x2="1417.50" y2="781.00" stroke="#1a1a1a" stroke-width="1.4"/>
<text x="1403.73" y="817.50" font-size="21.50" font-family="'Liberation Sans',sans-serif" fill="#111">40</text>
<line x1="1488.25" y1="791.00" x2="1488.25" y2="781.00" stroke="#1a1a1a" stroke-width="1.4"/>
<text x="1474.26" y="817.50" font-size="21.50" font-family="'Liberation Sans',sans-serif" fill="#111">50</text>
<line x1="1559.00" y1="791.00" x2="1559.00" y2="781.00" stroke="#1a1a1a" stroke-width="1.4"/>
<text x="1544.91" y="817.50" font-size="21.50" font-family="'Liberation Sans',sans-serif" fill="#111">60</text>
<line x1="1125.20" y1="776.50" x2="1134.20" y2="776.50" stroke="#1a1a1a" stroke-width="1.4"/>
<text x="1102.32" y="786.10" font-size="21.50" font-family="'Liberation Sans',sans-serif" fill="#111">0</text>
<line x1="1125.20" y1="723.01" x2="1134.20" y2="723.01" stroke="#1a1a1a" stroke-width="1.4"/>
<text x="1084.48" y="732.61" font-size="21.50" font-family="'Liberation Sans',sans-serif" fill="#111">0.3</text>
<line x1="1125.20" y1="669.52" x2="1134.20" y2="669.52" stroke="#1a1a1a" stroke-width="1.4"/>
<text x="1084.48" y="679.12" font-size="21.50" font-family="'Liberation Sans',sans-serif" fill="#111">0.6</text>
<line x1="1125.20" y1="616.03" x2="1134.20" y2="616.03" stroke="#1a1a1a" stroke-width="1.4"/>
<text x="1084.58" y="625.63" font-size="21.50" font-family="'Liberation Sans',sans-serif" fill="#111">0.9</text>
<line x1="1125.20" y1="562.54" x2="1134.20" y2="562.54" stroke="#1a1a1a" stroke-width="1.4"/>
<text x="1084.69" y="572.14" font-size="21.50" font-family="'Liberation Sans',sans-serif" fill="#111">1.2</text>
<line x1="1125.20" y1="509.05" x2="1134.20" y2="509.05" stroke="#1a1a1a" stroke-width="1.4"/>
<text x="1084.48" y="518.65" font-size="21.50" font-family="'Liberation Sans',sans-serif" fill="#111">1.5</text>
<text x="1275.56" y="855.10" font-size="21.77" font-family="'Liberation Sans',sans-serif" fill="#111">Time (minutes)</text>
<text transform="translate(1072.50,738.90) rotate(-90)" x="-1.09" y="0" font-size="21.80" font-family="'Liberation Sans',sans-serif" fill="#111">Concentration (a.u.)</text>
<path d="M1134.46,776.65 L1134.93,775.36 L1135.41,774.08 L1135.89,772.79 L1136.38,771.51 L1136.86,770.22 L1137.35,768.94 L1137.83,767.66 L1138.32,766.38 L1138.81,765.10 L1139.30,763.82 L1139.79,762.55 L1140.29,761.27 L1140.78,760.00 L1141.28,758.73 L1141.78,757.46 L1142.28,756.19 L1142.78,754.92 L1143.29,753.66 L1143.79,752.39 L1144.30,751.13 L1144.81,749.87 L1145.32,748.61 L1145.83,747.35 L1146.34,746.09 L1146.86,744.83 L1147.37,743.57 L1147.89,742.32 L1148.41,741.06 L1148.93,739.81 L1149.45,738.56 L1149.97,737.31 L1150.50,736.06 L1151.03,734.81 L1151.55,733.57 L1152.08,732.32 L1152.61,731.08 L1153.15,729.83 L1153.68,728.59 L1154.22,727.35 L1154.75,726.11 L1155.29,724.87 L1155.83,723.63 L1156.37,722.40 L1156.92,721.16 L1157.46,719.93 L1158.01,718.69 L1158.56,717.46 L1159.11,716.23 L1159.66,715.00 L1160.21,713.77 L1160.76,712.54 L1161.32,711.31 L1161.88,710.09 L1162.43,708.86 L1162.99,707.64 L1163.56,706.41 L1164.12,705.19 L1164.68,703.97 L1165.25,702.75 L1165.82,701.53 L1166.38,700.31 L1166.96,699.09 L1167.53,697.87 L1168.10,696.66 L1168.68,695.44 L1169.25,694.23 L1169.83,693.01 L1170.41,691.80 L1170.99,690.59 L1171.57,689.38 L1172.16,688.16 L1172.74,686.95 L1173.33,685.75 L1173.92,684.54 L1174.51,683.33 L1175.10,682.12 L1175.69,680.92 L1176.29,679.71 L1176.88,678.51 L1177.48,677.30 L1178.08,676.10 L1178.68,674.90 L1179.28,673.70 L1179.89,672.50 L1180.49,671.30 L1181.10,670.10 L1181.71,668.90 L1182.32,667.70 L1182.93,666.50 L1183.54,665.31 L1184.15,664.11 L1184.77,662.91 L1185.39,661.72 L1186.00,660.53 L1186.62,659.33 L1187.25,658.14 L1187.87,656.95 L1188.49,655.75 L1189.12,654.56 L1189.75,653.37 L1190.37,652.18 L1191.00,650.99 L1191.64,649.80 L1192.27,648.61 L1192.90,647.42 L1193.54,646.24 L1194.18,645.05 L1194.82,643.86 L1195.46,642.68 L1196.10,641.49 L1196.74,640.30 L1197.39,639.12 L1198.04,637.93 L1198.68,636.75 L1199.33,635.57 L1199.98,634.38 L1200.64,633.20 L1201.29,632.02 L1201.95,630.84 L1202.60,629.65 L1203.26,628.47 L1203.92,627.29 L1204.58,626.11 L1205.25,624.93 L1205.91,623.75 L1206.58,622.57 L1207.24,621.39 L1207.91,620.21 L1208.58,619.03 L1209.25,617.85 L1209.93,616.67 L1210.60,615.50 L1211.28,614.32 L1211.95,613.14 L1212.63,611.96 L1213.31,610.79 L1214.00,609.61 L1214.68,608.43 L1215.36,607.25 L1216.05,606.08 L1216.74,604.90 L1217.43,603.73 L1218.12,602.55 L1218.81,601.37 L1219.50,600.20 L1220.20,599.02 L1220.89,597.85 L1221.59,596.67 L1222.29,595.50 L1222.99,594.32 L1223.70,593.15 L1224.40,591.97 L1225.11,590.80 L1225.82,589.63 L1226.53,588.46 L1227.25,587.29 L1227.96,586.13 L1228.68,584.96 L1229.41,583.80 L1230.14,582.64 L1230.87,581.48 L1231.60,580.33 L1232.34,579.18 L1233.08,578.03 L1233.83,576.88 L1234.58,575.74 L1235.34,574.61 L1236.10,573.47 L1236.86,572.34 L1237.64,571.22 L1238.41,570.10 L1239.19,568.98 L1239.98,567.87 L1240.77,566.76 L1241.57,565.66 L1242.37,564.57 L1243.19,563.48 L1244.00,562.39 L1244.83,561.32 L1245.66,560.24 L1246.49,559.18 L1247.34,558.12 L1248.19,557.07 L1249.05,556.03 L1249.91,554.99 L1250.79,553.96 L1251.67,552.94 L1252.56,551.92 L1253.46,550.92 L1254.37,549.92 L1255.28,548.93 L1256.20,547.95 L1257.14,546.98 L1258.08,546.01 L1259.03,545.06 L1259.99,544.11 L1260.96,543.18 L1261.94,542.25 L1262.93,541.34 L1263.93,540.43 L1264.94,539.54 L1265.96,538.66 L1266.99,537.78 L1268.03,536.92 L1269.08,536.07 L1270.15,535.23 L1271.22,534.40 L1272.31,533.58 L1273.40,532.78 L1274.51,531.99 L1275.63,531.21 L1276.77,530.44 L1277.91,529.68 L1279.07,528.94 L1280.24,528.22 L1281.42,527.51 L1282.60,526.82 L1283.80,526.15 L1285.00,525.50 L1286.22,524.87 L1287.43,524.27 L1288.66,523.70 L1289.89,523.15 L1291.12,522.63 L1292.36,522.14 L1293.60,521.68 L1294.85,521.26 L1296.09,520.87 L1297.34,520.51 L1298.59,520.20 L1299.84,519.92 L1301.08,519.68 L1302.33,519.49 L1303.57,519.34 L1304.81,519.23 L1306.04,519.18 L1307.27,519.17 L1308.49,519.21 L1309.71,519.30 L1310.92,519.44 L1312.13,519.64 L1313.32,519.89 L1314.51,520.20 L1315.69,520.57 L1316.85,521.00 L1318.01,521.49 L1319.15,522.04 L1320.29,522.65 L1321.41,523.31 L1322.51,524.03 L1323.61,524.80 L1324.69,525.62 L1325.76,526.48 L1326.81,527.38 L1327.85,528.32 L1328.87,529.30 L1329.88,530.30 L1330.87,531.34 L1331.85,532.41 L1332.81,533.50 L1333.76,534.61 L1334.69,535.74 L1335.60,536.88 L1336.49,538.04 L1337.37,539.20 L1338.22,540.38 L1339.06,541.56 L1339.88,542.73 L1340.68,543.91 L1341.47,545.09 L1342.23,546.27 L1342.98,547.45 L1343.72,548.63 L1344.44,549.82 L1345.14,551.00 L1345.83,552.18 L1346.51,553.37 L1347.17,554.55 L1347.82,555.74 L1348.46,556.93 L1349.09,558.12 L1349.71,559.31 L1350.33,560.51 L1350.93,561.70 L1351.52,562.90 L1352.11,564.10 L1352.69,565.30 L1353.26,566.50 L1353.83,567.70 L1354.39,568.91 L1354.95,570.12 L1355.50,571.33 L1356.05,572.55 L1356.60,573.76 L1357.15,574.98 L1357.69,576.20 L1358.24,577.42 L1358.78,578.65 L1359.32,579.88 L1359.85,581.11 L1360.39,582.34 L1360.93,583.57 L1361.46,584.80 L1362.00,586.04 L1362.53,587.27 L1363.06,588.51 L1363.60,589.75 L1364.13,590.99 L1364.67,592.23 L1365.20,593.47 L1365.73,594.71 L1366.27,595.95 L1366.81,597.19 L1367.34,598.43 L1367.88,599.67 L1368.42,600.91 L1368.96,602.15 L1369.51,603.39 L1370.05,604.63 L1370.60,605.87 L1371.15,607.11 L1371.70,608.35 L1372.25,609.59 L1372.81,610.82 L1373.37,612.06 L1373.94,613.29 L1374.50,614.52 L1375.07,615.75 L1375.65,616.98 L1376.22,618.21 L1376.81,619.43 L1377.39,620.66 L1377.98,621.88 L1378.58,623.09 L1379.18,624.31 L1379.78,625.52 L1380.39,626.73 L1381.01,627.94 L1381.63,629.15 L1382.25,630.35 L1382.89,631.55 L1383.52,632.75 L1384.17,633.94 L1384.82,635.13 L1385.47,636.31 L1386.14,637.49 L1386.81,638.67 L1387.48,639.85 L1388.17,641.02 L1388.86,642.18 L1389.56,643.34 L1390.26,644.50 L1390.98,645.65 L1391.70,646.80 L1392.42,647.94 L1393.16,649.08 L1393.90,650.22 L1394.65,651.34 L1395.41,652.47 L1396.17,653.58 L1396.94,654.70 L1397.72,655.80 L1398.50,656.90 L1399.30,658.00 L1400.10,659.09 L1400.91,660.17 L1401.72,661.25 L1402.54,662.32 L1403.37,663.39 L1404.21,664.45 L1405.05,665.50 L1405.90,666.54 L1406.76,667.58 L1407.63,668.62 L1408.50,669.64 L1409.38,670.66 L1410.27,671.67 L1411.16,672.67 L1412.07,673.67 L1412.98,674.66 L1413.89,675.64 L1414.82,676.61 L1415.75,677.58 L1416.69,678.53 L1417.63,679.48 L1418.59,680.42 L1419.55,681.36 L1420.52,682.28 L1421.49,683.20 L1422.48,684.10 L1423.47,685.00 L1424.47,685.89 L1425.47,686.77 L1426.48,687.64 L1427.50,688.51 L1428.53,689.36 L1429.57,690.20 L1430.61,691.04 L1431.66,691.86 L1432.71,692.68 L1433.78,693.48 L1434.85,694.28 L1435.93,695.06 L1437.02,695.83 L1438.11,696.60 L1439.21,697.35 L1440.32,698.10 L1441.44,698.83 L1442.56,699.55 L1443.69,700.26 L1444.83,700.96 L1445.98,701.65 L1447.13,702.33 L1448.29,703.00 L1449.46,703.65 L1450.63,704.29 L1451.82,704.93 L1453.01,705.55 L1454.20,706.15 L1455.41,706.75 L1456.62,707.33 L1457.84,707.91 L1459.07,708.47 L1460.30,709.02 L1461.54,709.55 L1462.79,710.08 L1464.05,710.60 L1465.31,711.10 L1466.57,711.60 L1467.85,712.08 L1469.12,712.56 L1470.41,713.02 L1471.69,713.48 L1472.99,713.92 L1474.29,714.36 L1475.59,714.79 L1476.90,715.21 L1478.21,715.62 L1479.53,716.03 L1480.85,716.42 L1482.17,716.81 L1483.50,717.19 L1484.83,717.57 L1486.16,717.93 L1487.50,718.30 L1488.84,718.65 L1490.18,719.00 L1491.52,719.34 L1492.87,719.68 L1494.22,720.01 L1495.57,720.34 L1496.92,720.66 L1498.28,720.98 L1499.63,721.29 L1500.99,721.60 L1502.35,721.90 L1503.70,722.20 L1505.06,722.50 L1506.42,722.79 L1507.78,723.08 L1509.14,723.37 L1510.50,723.65 L1511.86,723.94 L1513.22,724.22 L1514.57,724.50 L1515.93,724.77 L1517.28,725.05 L1518.64,725.32 L1519.99,725.60 L1521.34,725.87 L1522.69,726.14 L1524.03,726.41 L1525.38,726.68 L1526.72,726.96 L1528.06,727.23 L1529.39,727.50 L1530.73,727.78 L1532.06,728.05 L1533.38,728.33 L1534.70,728.61 L1536.02,728.89 L1537.34,729.17 L1538.65,729.45 L1539.95,729.74 L1541.26,730.03 L1542.55,730.33 L1543.85,730.62 L1545.13,730.92 L1546.41,731.23 L1547.69,731.53 L1548.96,731.85 L1550.22,732.16 L1551.48,732.48 L1552.73,732.81 L1553.98,733.14 L1555.22,733.48 L1556.45,733.82 L1557.67,734.17 L1558.89,734.52" fill="none" stroke="#141414" stroke-width="2.5" stroke-linejoin="round" stroke-linecap="round"/>
<path d="M1134.92,776.77 L1135.83,776.33 L1136.75,775.89 L1137.66,775.44 L1138.58,775.00 L1139.50,774.56 L1140.42,774.11 L1141.34,773.67 L1142.27,773.22 L1143.19,772.77 L1144.12,772.33 L1145.04,771.88 L1145.97,771.43 L1146.90,770.98 L1147.83,770.53 L1148.76,770.08 L1149.70,769.62 L1150.63,769.17 L1151.57,768.72 L1152.50,768.26 L1153.44,767.81 L1154.38,767.35 L1155.32,766.89 L1156.26,766.43 L1157.20,765.97 L1158.14,765.51 L1159.08,765.05 L1160.03,764.59 L1160.97,764.12 L1161.91,763.66 L1162.86,763.19 L1163.80,762.73 L1164.75,762.26 L1165.70,761.79 L1166.64,761.32 L1167.59,760.85 L1168.54,760.38 L1169.49,759.90 L1170.44,759.43 L1171.39,758.95 L1172.34,758.48 L1173.28,758.00 L1174.23,757.52 L1175.18,757.04 L1176.13,756.56 L1177.08,756.07 L1178.03,755.59 L1178.98,755.10 L1179.93,754.62 L1180.88,754.13 L1181.83,753.64 L1182.78,753.15 L1183.73,752.66 L1184.68,752.16 L1185.63,751.67 L1186.58,751.17 L1187.53,750.67 L1188.48,750.17 L1189.43,749.67 L1190.38,749.17 L1191.32,748.66 L1192.27,748.16 L1193.22,747.65 L1194.16,747.14 L1195.11,746.63 L1196.05,746.12 L1197.00,745.61 L1197.94,745.09 L1198.88,744.58 L1199.82,744.06 L1200.76,743.54 L1201.70,743.02 L1202.64,742.50 L1203.58,741.97 L1204.52,741.44 L1205.46,740.92 L1206.39,740.39 L1207.33,739.85 L1208.26,739.32 L1209.19,738.79 L1210.12,738.25 L1211.05,737.71 L1211.98,737.17 L1212.91,736.63 L1213.84,736.08 L1214.76,735.54 L1215.69,734.99 L1216.61,734.44 L1217.53,733.89 L1218.45,733.33 L1219.37,732.78 L1220.28,732.22 L1221.20,731.66 L1222.11,731.10 L1223.02,730.54 L1223.93,729.97 L1224.84,729.40 L1225.75,728.83 L1226.65,728.26 L1227.56,727.69 L1228.46,727.11 L1229.36,726.53 L1230.26,725.95 L1231.15,725.37 L1232.04,724.78 L1232.94,724.20 L1233.83,723.61 L1234.71,723.02 L1235.60,722.43 L1236.48,721.83 L1237.36,721.23 L1238.24,720.63 L1239.12,720.03 L1239.99,719.42 L1240.87,718.82 L1241.74,718.21 L1242.60,717.60 L1243.47,716.98 L1244.33,716.37 L1245.19,715.75 L1246.05,715.13 L1246.90,714.50 L1247.75,713.88 L1248.60,713.25 L1249.45,712.62 L1250.30,711.99 L1251.14,711.35 L1251.98,710.71 L1252.81,710.07 L1253.65,709.43 L1254.48,708.78 L1255.30,708.13 L1256.13,707.48 L1256.95,706.83 L1257.77,706.17 L1258.58,705.52 L1259.39,704.85 L1260.20,704.19 L1261.01,703.52 L1261.81,702.85 L1262.61,702.18 L1263.41,701.51 L1264.20,700.83 L1264.99,700.15 L1265.78,699.47 L1266.56,698.78 L1267.34,698.09 L1268.12,697.40 L1268.89,696.71 L1269.66,696.01 L1270.42,695.31 L1271.18,694.61 L1271.94,693.90 L1272.70,693.19 L1273.45,692.48 L1274.20,691.77 L1274.94,691.05 L1275.69,690.33 L1276.42,689.61 L1277.16,688.89 L1277.89,688.16 L1278.62,687.43 L1279.35,686.70 L1280.07,685.96 L1280.80,685.22 L1281.51,684.48 L1282.23,683.74 L1282.94,682.99 L1283.65,682.24 L1284.36,681.49 L1285.07,680.74 L1285.77,679.98 L1286.48,679.22 L1287.17,678.46 L1287.87,677.70 L1288.57,676.93 L1289.26,676.17 L1289.95,675.39 L1290.64,674.62 L1291.33,673.85 L1292.01,673.07 L1292.70,672.29 L1293.38,671.50 L1294.06,670.72 L1294.74,669.93 L1295.42,669.14 L1296.10,668.35 L1296.77,667.55 L1297.44,666.76 L1298.12,665.96 L1298.79,665.16 L1299.46,664.35 L1300.13,663.55 L1300.80,662.74 L1301.46,661.93 L1302.13,661.12 L1302.80,660.30 L1303.46,659.49 L1304.13,658.67 L1304.79,657.85 L1305.45,657.02 L1306.12,656.20 L1306.78,655.37 L1307.44,654.54 L1308.10,653.71 L1308.76,652.88 L1309.42,652.04 L1310.08,651.20 L1310.74,650.37 L1311.41,649.52 L1312.07,648.68 L1312.73,647.84 L1313.39,646.99 L1314.05,646.14 L1314.71,645.29 L1315.37,644.44 L1316.04,643.58 L1316.70,642.73 L1317.36,641.87 L1318.03,641.01 L1318.69,640.15 L1319.36,639.28 L1320.02,638.42 L1320.69,637.55 L1321.36,636.68 L1322.03,635.81 L1322.70,634.94 L1323.37,634.07 L1324.04,633.19 L1324.71,632.31 L1325.39,631.44 L1326.07,630.55 L1326.74,629.67 L1327.42,628.79 L1328.10,627.90 L1328.78,627.02 L1329.47,626.13 L1330.15,625.24 L1330.84,624.35 L1331.53,623.46 L1332.22,622.56 L1332.91,621.67 L1333.61,620.77 L1334.30,619.87 L1335.00,618.98 L1335.70,618.08 L1336.41,617.19 L1337.12,616.31 L1337.83,615.43 L1338.55,614.56 L1339.27,613.70 L1339.99,612.85 L1340.72,612.01 L1341.45,611.19 L1342.19,610.38 L1342.93,609.58 L1343.68,608.81 L1344.44,608.05 L1345.20,607.31 L1345.97,606.59 L1346.74,605.89 L1347.52,605.22 L1348.31,604.57 L1349.10,603.95 L1349.91,603.36 L1350.72,602.79 L1351.53,602.26 L1352.36,601.75 L1353.20,601.28 L1354.04,600.85 L1354.89,600.45 L1355.76,600.08 L1356.63,599.76 L1357.51,599.47 L1358.40,599.21 L1359.29,598.99 L1360.20,598.81 L1361.11,598.66 L1362.03,598.54 L1362.95,598.46 L1363.88,598.41 L1364.82,598.39 L1365.76,598.40 L1366.70,598.44 L1367.65,598.51 L1368.61,598.61 L1369.56,598.74 L1370.52,598.90 L1371.48,599.08 L1372.45,599.29 L1373.41,599.53 L1374.38,599.79 L1375.35,600.07 L1376.31,600.39 L1377.28,600.72 L1378.25,601.08 L1379.21,601.45 L1380.18,601.85 L1381.14,602.28 L1382.10,602.72 L1383.06,603.18 L1384.01,603.66 L1384.97,604.16 L1385.91,604.67 L1386.86,605.21 L1387.80,605.76 L1388.73,606.32 L1389.66,606.90 L1390.58,607.50 L1391.49,608.11 L1392.40,608.73 L1393.30,609.37 L1394.20,610.02 L1395.08,610.68 L1395.96,611.35 L1396.83,612.03 L1397.68,612.72 L1398.53,613.42 L1399.37,614.13 L1400.20,614.85 L1401.02,615.57 L1401.83,616.30 L1402.63,617.04 L1403.42,617.79 L1404.20,618.54 L1404.98,619.30 L1405.74,620.06 L1406.50,620.83 L1407.26,621.61 L1408.01,622.39 L1408.75,623.17 L1409.48,623.96 L1410.21,624.76 L1410.94,625.55 L1411.66,626.35 L1412.37,627.15 L1413.08,627.96 L1413.79,628.77 L1414.49,629.58 L1415.20,630.39 L1415.89,631.21 L1416.59,632.02 L1417.28,632.84 L1417.98,633.65 L1418.67,634.47 L1419.36,635.28 L1420.05,636.10 L1420.74,636.92 L1421.43,637.73 L1422.12,638.54 L1422.81,639.36 L1423.50,640.17 L1424.20,640.97 L1424.90,641.78 L1425.59,642.58 L1426.30,643.38 L1427.00,644.17 L1427.71,644.96 L1428.42,645.75 L1429.13,646.53 L1429.85,647.31 L1430.58,648.09 L1431.31,648.85 L1432.04,649.62 L1432.78,650.38 L1433.52,651.13 L1434.27,651.88 L1435.02,652.62 L1435.77,653.36 L1436.53,654.09 L1437.30,654.82 L1438.07,655.55 L1438.84,656.27 L1439.62,656.98 L1440.40,657.69 L1441.18,658.40 L1441.97,659.10 L1442.77,659.79 L1443.56,660.49 L1444.36,661.17 L1445.17,661.85 L1445.98,662.53 L1446.79,663.20 L1447.61,663.87 L1448.43,664.53 L1449.25,665.19 L1450.08,665.85 L1450.91,666.49 L1451.75,667.14 L1452.59,667.78 L1453.43,668.41 L1454.28,669.04 L1455.13,669.67 L1455.98,670.29 L1456.84,670.91 L1457.70,671.52 L1458.56,672.13 L1459.43,672.73 L1460.30,673.33 L1461.17,673.93 L1462.05,674.52 L1462.93,675.10 L1463.81,675.68 L1464.70,676.26 L1465.59,676.83 L1466.48,677.40 L1467.38,677.96 L1468.27,678.52 L1469.18,679.08 L1470.08,679.63 L1470.99,680.18 L1471.90,680.72 L1472.81,681.26 L1473.73,681.79 L1474.64,682.32 L1475.57,682.84 L1476.49,683.36 L1477.42,683.88 L1478.34,684.39 L1479.28,684.90 L1480.21,685.40 L1481.15,685.90 L1482.09,686.40 L1483.03,686.89 L1483.97,687.37 L1484.92,687.86 L1485.87,688.34 L1486.82,688.81 L1487.77,689.28 L1488.72,689.75 L1489.68,690.21 L1490.64,690.67 L1491.60,691.12 L1492.57,691.57 L1493.53,692.02 L1494.50,692.46 L1495.47,692.90 L1496.44,693.33 L1497.41,693.76 L1498.39,694.19 L1499.37,694.61 L1500.35,695.03 L1501.33,695.44 L1502.31,695.85 L1503.29,696.26 L1504.28,696.66 L1505.27,697.06 L1506.25,697.45 L1507.25,697.84 L1508.24,698.23 L1509.23,698.61 L1510.22,698.99 L1511.22,699.37 L1512.22,699.74 L1513.22,700.11 L1514.22,700.47 L1515.22,700.83 L1516.22,701.19 L1517.22,701.54 L1518.23,701.89 L1519.24,702.23 L1520.24,702.58 L1521.25,702.91 L1522.26,703.25 L1523.27,703.58 L1524.28,703.90 L1525.29,704.23 L1526.31,704.55 L1527.32,704.86 L1528.33,705.18 L1529.35,705.49 L1530.36,705.79 L1531.38,706.09 L1532.40,706.39 L1533.42,706.68 L1534.43,706.98 L1535.45,707.26 L1536.47,707.55 L1537.49,707.83 L1538.51,708.11 L1539.53,708.38 L1540.55,708.65 L1541.57,708.92 L1542.60,709.18 L1543.62,709.44 L1544.64,709.70 L1545.66,709.95 L1546.68,710.20 L1547.71,710.44 L1548.73,710.69 L1549.75,710.93 L1550.77,711.16 L1551.80,711.40 L1552.82,711.63 L1553.84,711.85 L1554.86,712.08 L1555.89,712.30 L1556.91,712.51 L1557.93,712.73 L1558.95,712.94" fill="none" stroke="#141414" stroke-width="2.5" stroke-linejoin="round" stroke-linecap="round"/>
<path d="M1134.48,776.08 L1135.34,776.12 L1136.20,776.15 L1137.05,776.18 L1137.91,776.22 L1138.76,776.24 L1139.62,776.27 L1140.48,776.30 L1141.33,776.32 L1142.19,776.34 L1143.04,776.36 L1143.90,776.38 L1144.75,776.40 L1145.61,776.41 L1146.46,776.43 L1147.32,776.44 L1148.18,776.45 L1149.03,776.46 L1149.89,776.47 L1150.74,776.47 L1151.60,776.48 L1152.45,776.48 L1153.30,776.48 L1154.16,776.48 L1155.01,776.48 L1155.87,776.48 L1156.72,776.48 L1157.58,776.47 L1158.43,776.46 L1159.29,776.46 L1160.14,776.45 L1161.00,776.43 L1161.85,776.42 L1162.70,776.41 L1163.56,776.39 L1164.41,776.38 L1165.27,776.36 L1166.12,776.34 L1166.97,776.32 L1167.83,776.30 L1168.68,776.27 L1169.53,776.25 L1170.39,776.22 L1171.24,776.20 L1172.09,776.17 L1172.95,776.14 L1173.80,776.11 L1174.65,776.08 L1175.51,776.04 L1176.36,776.01 L1177.21,775.97 L1178.07,775.94 L1178.92,775.90 L1179.77,775.86 L1180.63,775.82 L1181.48,775.78 L1182.33,775.73 L1183.18,775.69 L1184.04,775.65 L1184.89,775.60 L1185.74,775.55 L1186.59,775.50 L1187.45,775.45 L1188.30,775.40 L1189.15,775.35 L1190.00,775.30 L1190.86,775.25 L1191.71,775.19 L1192.56,775.14 L1193.41,775.08 L1194.26,775.02 L1195.12,774.96 L1195.97,774.91 L1196.82,774.84 L1197.67,774.78 L1198.52,774.72 L1199.38,774.66 L1200.23,774.59 L1201.08,774.53 L1201.93,774.46 L1202.78,774.40 L1203.63,774.33 L1204.48,774.26 L1205.34,774.19 L1206.19,774.12 L1207.04,774.05 L1207.89,773.98 L1208.74,773.90 L1209.59,773.83 L1210.44,773.76 L1211.29,773.68 L1212.15,773.60 L1213.00,773.53 L1213.85,773.45 L1214.70,773.37 L1215.55,773.29 L1216.40,773.21 L1217.25,773.13 L1218.10,773.05 L1218.95,772.97 L1219.80,772.89 L1220.65,772.80 L1221.50,772.72 L1222.35,772.64 L1223.21,772.55 L1224.06,772.46 L1224.91,772.38 L1225.76,772.29 L1226.61,772.20 L1227.46,772.12 L1228.31,772.03 L1229.16,771.94 L1230.01,771.85 L1230.86,771.76 L1231.71,771.67 L1232.56,771.57 L1233.41,771.48 L1234.26,771.39 L1235.11,771.30 L1235.96,771.20 L1236.81,771.11 L1237.66,771.01 L1238.51,770.92 L1239.36,770.82 L1240.21,770.73 L1241.06,770.63 L1241.91,770.53 L1242.76,770.44 L1243.61,770.34 L1244.46,770.24 L1245.31,770.14 L1246.16,770.04 L1247.00,769.94 L1247.85,769.84 L1248.70,769.75 L1249.55,769.64 L1250.40,769.54 L1251.25,769.44 L1252.10,769.34 L1252.95,769.24 L1253.80,769.14 L1254.65,769.04 L1255.50,768.94 L1256.35,768.83 L1257.20,768.73 L1258.05,768.63 L1258.90,768.52 L1259.74,768.42 L1260.59,768.32 L1261.44,768.21 L1262.29,768.11 L1263.14,768.01 L1263.99,767.90 L1264.84,767.80 L1265.69,767.69 L1266.54,767.59 L1267.39,767.48 L1268.23,767.38 L1269.08,767.27 L1269.93,767.17 L1270.78,767.06 L1271.63,766.96 L1272.48,766.85 L1273.33,766.75 L1274.18,766.64 L1275.02,766.54 L1275.87,766.43 L1276.72,766.33 L1277.57,766.22 L1278.42,766.12 L1279.27,766.01 L1280.12,765.91 L1280.97,765.80 L1281.81,765.70 L1282.66,765.59 L1283.51,765.49 L1284.36,765.38 L1285.21,765.28 L1286.06,765.17 L1286.91,765.07 L1287.75,764.97 L1288.60,764.86 L1289.45,764.76 L1290.30,764.65 L1291.15,764.55 L1292.00,764.45 L1292.84,764.34 L1293.69,764.24 L1294.54,764.14 L1295.39,764.03 L1296.24,763.93 L1297.09,763.83 L1297.93,763.73 L1298.78,763.63 L1299.63,763.52 L1300.48,763.42 L1301.33,763.32 L1302.18,763.22 L1303.02,763.12 L1303.87,763.02 L1304.72,762.92 L1305.57,762.82 L1306.42,762.72 L1307.27,762.63 L1308.11,762.53 L1308.96,762.43 L1309.81,762.33 L1310.66,762.24 L1311.51,762.14 L1312.35,762.04 L1313.20,761.95 L1314.05,761.85 L1314.90,761.76 L1315.75,761.66 L1316.60,761.57 L1317.44,761.48 L1318.29,761.38 L1319.14,761.29 L1319.99,761.20 L1320.84,761.11 L1321.68,761.02 L1322.53,760.93 L1323.38,760.84 L1324.23,760.75 L1325.08,760.66 L1325.92,760.58 L1326.77,760.49 L1327.62,760.40 L1328.47,760.32 L1329.32,760.24 L1330.17,760.15 L1331.01,760.07 L1331.86,759.99 L1332.71,759.91 L1333.56,759.83 L1334.41,759.75 L1335.25,759.67 L1336.10,759.60 L1336.95,759.52 L1337.80,759.45 L1338.65,759.37 L1339.50,759.30 L1340.34,759.23 L1341.19,759.16 L1342.04,759.09 L1342.89,759.02 L1343.74,758.96 L1344.58,758.89 L1345.43,758.83 L1346.28,758.77 L1347.13,758.71 L1347.98,758.65 L1348.83,758.59 L1349.67,758.53 L1350.52,758.48 L1351.37,758.42 L1352.22,758.37 L1353.07,758.32 L1353.91,758.27 L1354.76,758.22 L1355.61,758.18 L1356.46,758.13 L1357.31,758.09 L1358.16,758.05 L1359.00,758.01 L1359.85,757.98 L1360.70,757.94 L1361.55,757.91 L1362.40,757.87 L1363.25,757.84 L1364.09,757.82 L1364.94,757.79 L1365.79,757.77 L1366.64,757.74 L1367.49,757.72 L1368.34,757.71 L1369.18,757.69 L1370.03,757.68 L1370.88,757.66 L1371.73,757.65 L1372.58,757.65 L1373.43,757.64 L1374.27,757.64 L1375.12,757.64 L1375.97,757.64 L1376.82,757.64 L1377.67,757.65 L1378.52,757.65 L1379.36,757.66 L1380.21,757.68 L1381.06,757.69 L1381.91,757.71 L1382.76,757.73 L1383.61,757.75 L1384.46,757.78 L1385.30,757.80 L1386.15,757.83 L1387.00,757.86 L1387.85,757.89 L1388.70,757.93 L1389.55,757.97 L1390.40,758.00 L1391.24,758.04 L1392.09,758.09 L1392.94,758.13 L1393.79,758.18 L1394.64,758.23 L1395.49,758.28 L1396.34,758.33 L1397.18,758.38 L1398.03,758.44 L1398.88,758.50 L1399.73,758.55 L1400.58,758.61 L1401.43,758.68 L1402.28,758.74 L1403.13,758.81 L1403.98,758.87 L1404.82,758.94 L1405.67,759.01 L1406.52,759.08 L1407.37,759.15 L1408.22,759.23 L1409.07,759.30 L1409.92,759.38 L1410.77,759.45 L1411.62,759.53 L1412.47,759.61 L1413.31,759.69 L1414.16,759.78 L1415.01,759.86 L1415.86,759.94 L1416.71,760.03 L1417.56,760.12 L1418.41,760.20 L1419.26,760.29 L1420.11,760.38 L1420.96,760.47 L1421.81,760.56 L1422.66,760.65 L1423.51,760.75 L1424.35,760.84 L1425.20,760.93 L1426.05,761.03 L1426.90,761.12 L1427.75,761.22 L1428.60,761.32 L1429.45,761.41 L1430.30,761.51 L1431.15,761.61 L1432.00,761.71 L1432.85,761.81 L1433.70,761.91 L1434.55,762.01 L1435.40,762.11 L1436.25,762.21 L1437.10,762.31 L1437.95,762.41 L1438.80,762.51 L1439.65,762.61 L1440.50,762.71 L1441.35,762.82 L1442.20,762.92 L1443.05,763.02 L1443.90,763.12 L1444.75,763.22 L1445.60,763.33 L1446.45,763.43 L1447.30,763.53 L1448.15,763.63 L1449.00,763.73 L1449.85,763.84 L1450.70,763.94 L1451.55,764.04 L1452.40,764.14 L1453.25,764.24 L1454.10,764.34 L1454.95,764.44 L1455.80,764.54 L1456.65,764.64 L1457.50,764.74 L1458.36,764.83 L1459.21,764.93 L1460.06,765.03 L1460.91,765.13 L1461.76,765.22 L1462.61,765.32 L1463.46,765.41 L1464.31,765.50 L1465.16,765.60 L1466.01,765.69 L1466.86,765.78 L1467.71,765.87 L1468.57,765.96 L1469.42,766.05 L1470.27,766.14 L1471.12,766.23 L1471.97,766.31 L1472.82,766.40 L1473.67,766.48 L1474.52,766.56 L1475.38,766.64 L1476.23,766.73 L1477.08,766.80 L1477.93,766.88 L1478.78,766.96 L1479.63,767.04 L1480.49,767.11 L1481.34,767.18 L1482.19,767.26 L1483.04,767.33 L1483.89,767.40 L1484.74,767.46 L1485.60,767.53 L1486.45,767.60 L1487.30,767.66 L1488.15,767.72 L1489.00,767.79 L1489.86,767.85 L1490.71,767.91 L1491.56,767.96 L1492.41,768.02 L1493.27,768.08 L1494.12,768.13 L1494.97,768.18 L1495.82,768.24 L1496.67,768.29 L1497.53,768.34 L1498.38,768.39 L1499.23,768.43 L1500.08,768.48 L1500.94,768.52 L1501.79,768.57 L1502.64,768.61 L1503.50,768.65 L1504.35,768.69 L1505.20,768.73 L1506.05,768.76 L1506.91,768.80 L1507.76,768.83 L1508.61,768.87 L1509.47,768.90 L1510.32,768.93 L1511.17,768.96 L1512.03,768.99 L1512.88,769.01 L1513.73,769.04 L1514.59,769.06 L1515.44,769.09 L1516.29,769.11 L1517.15,769.13 L1518.00,769.15 L1518.85,769.17 L1519.71,769.18 L1520.56,769.20 L1521.41,769.21 L1522.27,769.23 L1523.12,769.24 L1523.97,769.25 L1524.83,769.26 L1525.68,769.27 L1526.54,769.27 L1527.39,769.28 L1528.24,769.28 L1529.10,769.29 L1529.95,769.29 L1530.81,769.29 L1531.66,769.29 L1532.51,769.29 L1533.37,769.28 L1534.22,769.28 L1535.08,769.27 L1535.93,769.27 L1536.78,769.26 L1537.64,769.25 L1538.49,769.24 L1539.35,769.23 L1540.20,769.21 L1541.06,769.20 L1541.91,769.18 L1542.77,769.17 L1543.62,769.15 L1544.47,769.13 L1545.33,769.11 L1546.18,769.09 L1547.04,769.06 L1547.89,769.04 L1548.75,769.01 L1549.60,768.99 L1550.46,768.96 L1551.31,768.93 L1552.17,768.90 L1553.02,768.86 L1553.88,768.83 L1554.73,768.80 L1555.59,768.76 L1556.44,768.72 L1557.30,768.69 L1558.15,768.65 L1559.01,768.61" fill="none" stroke="#141414" stroke-width="2.5" stroke-linejoin="round" stroke-linecap="round"/>
<line x1="1356.10" y1="572.40" x2="1423.20" y2="543.70" stroke="#141414" stroke-width="2.4"/>
<line x1="1429.80" y1="645.90" x2="1480.50" y2="621.80" stroke="#141414" stroke-width="2.4"/>
<line x1="1379.40" y1="756.80" x2="1334.60" y2="728.00" stroke="#141414" stroke-width="2.4"/>
<text x="1436.25" y="548.80" font-size="25.00" font-family="'Liberation Sans',sans-serif" fill="#111">Clb5,6</text>
<text x="1509.02" y="552.40" font-size="17.00" font-family="'Liberation Sans',sans-serif" fill="#111">tot</text>
<text x="1436.25" y="604.30" font-size="25.00" font-family="'Liberation Sans',sans-serif" fill="#111">Clb3,4</text>
<text x="1509.02" y="607.90" font-size="17.00" font-family="'Liberation Sans',sans-serif" fill="#111">tot</text>
<text x="1287.95" y="710.20" font-size="25.00" font-family="'Liberation Sans',sans-serif" fill="#111">Clb1,2</text>
<text x="1360.72" y="713.80" font-size="17.00" font-family="'Liberation Sans',sans-serif" fill="#111">tot</text>
<text x="1065.03" y="888.90" font-size="36.87" font-family="'Liberation Sans',sans-serif" font-weight="bold" fill="#000">e</text>
<text x="1139.20" y="922.20" font-size="21.69" font-family="'Liberation Sans',sans-serif" fill="#111">A = 100, B = 1000, D = 100</text>
<rect x="1127.40" y="933.80" width="444.60" height="287.00" fill="none" stroke="#1a1a1a" stroke-width="1.3"/>
<line x1="1136.80" y1="1220.80" x2="1136.80" y2="1210.80" stroke="#1a1a1a" stroke-width="1.4"/>
<text x="1128.98" y="1241.20" font-size="21.50" font-family="'Liberation Sans',sans-serif" fill="#111">0</text>
<line x1="1207.85" y1="1220.80" x2="1207.85" y2="1210.80" stroke="#1a1a1a" stroke-width="1.4"/>
<text x="1193.69" y="1241.20" font-size="21.50" font-family="'Liberation Sans',sans-serif" fill="#111">10</text>
<line x1="1278.90" y1="1220.80" x2="1278.90" y2="1210.80" stroke="#1a1a1a" stroke-width="1.4"/>
<text x="1265.01" y="1241.20" font-size="21.50" font-family="'Liberation Sans',sans-serif" fill="#111">20</text>
<line x1="1349.95" y1="1220.80" x2="1349.95" y2="1210.80" stroke="#1a1a1a" stroke-width="1.4"/>
<text x="1336.16" y="1241.20" font-size="21.50" font-family="'Liberation Sans',sans-serif" fill="#111">30</text>
<line x1="1421.00" y1="1220.80" x2="1421.00" y2="1210.80" stroke="#1a1a1a" stroke-width="1.4"/>
<text x="1407.43" y="1241.20" font-size="21.50" font-family="'Liberation Sans',sans-serif" fill="#111">40</text>
<line x1="1492.05" y1="1220.80" x2="1492.05" y2="1210.80" stroke="#1a1a1a" stroke-width="1.4"/>
<text x="1478.26" y="1241.20" font-size="21.50" font-family="'Liberation Sans',sans-serif" fill="#111">50</text>
<line x1="1563.10" y1="1220.80" x2="1563.10" y2="1210.80" stroke="#1a1a1a" stroke-width="1.4"/>
<text x="1549.21" y="1241.20" font-size="21.50" font-family="'Liberation Sans',sans-serif" fill="#111">60</text>
<line x1="1127.40" y1="1207.20" x2="1136.40" y2="1207.20" stroke="#1a1a1a" stroke-width="1.4"/>
<text x="1105.42" y="1214.50" font-size="21.50" font-family="'Liberation Sans',sans-serif" fill="#111">0</text>
<line x1="1127.40" y1="1152.72" x2="1136.40" y2="1152.72" stroke="#1a1a1a" stroke-width="1.4"/>
<text x="1087.58" y="1160.02" font-size="21.50" font-family="'Liberation Sans',sans-serif" fill="#111">0.3</text>
<line x1="1127.40" y1="1098.24" x2="1136.40" y2="1098.24" stroke="#1a1a1a" stroke-width="1.4"/>
<text x="1087.58" y="1105.54" font-size="21.50" font-family="'Liberation Sans',sans-serif" fill="#111">0.6</text>
<line x1="1127.40" y1="1043.76" x2="1136.40" y2="1043.76" stroke="#1a1a1a" stroke-width="1.4"/>
<text x="1087.68" y="1051.06" font-size="21.50" font-family="'Liberation Sans',sans-serif" fill="#111">0.9</text>
<line x1="1127.40" y1="989.28" x2="1136.40" y2="989.28" stroke="#1a1a1a" stroke-width="1.4"/>
<text x="1087.79" y="996.58" font-size="21.50" font-family="'Liberation Sans',sans-serif" fill="#111">1.2</text>
<line x1="1127.40" y1="934.80" x2="1136.40" y2="934.80" stroke="#1a1a1a" stroke-width="1.4"/>
<text x="1087.58" y="942.10" font-size="21.50" font-family="'Liberation Sans',sans-serif" fill="#111">1.5</text>
<text x="1279.06" y="1269.30" font-size="21.77" font-family="'Liberation Sans',sans-serif" fill="#111">Time (minutes)</text>
<text transform="translate(1073.00,1167.20) rotate(-90)" x="-1.09" y="0" font-size="21.80" font-family="'Liberation Sans',sans-serif" fill="#111">Concentration (a.u.)</text>
<path d="M1136.87,1207.39 L1137.35,1206.04 L1137.84,1204.69 L1138.33,1203.34 L1138.82,1201.99 L1139.31,1200.64 L1139.81,1199.30 L1140.30,1197.95 L1140.80,1196.61 L1141.30,1195.27 L1141.80,1193.93 L1142.30,1192.59 L1142.80,1191.25 L1143.31,1189.92 L1143.82,1188.58 L1144.33,1187.25 L1144.84,1185.92 L1145.35,1184.59 L1145.86,1183.26 L1146.38,1181.93 L1146.90,1180.61 L1147.42,1179.28 L1147.94,1177.96 L1148.46,1176.64 L1148.99,1175.32 L1149.51,1174.00 L1150.04,1172.68 L1150.57,1171.36 L1151.10,1170.05 L1151.64,1168.73 L1152.17,1167.42 L1152.71,1166.11 L1153.25,1164.80 L1153.79,1163.49 L1154.33,1162.18 L1154.87,1160.87 L1155.42,1159.57 L1155.97,1158.26 L1156.52,1156.96 L1157.07,1155.66 L1157.62,1154.36 L1158.17,1153.06 L1158.73,1151.76 L1159.29,1150.46 L1159.85,1149.17 L1160.41,1147.87 L1160.97,1146.58 L1161.54,1145.28 L1162.10,1143.99 L1162.67,1142.70 L1163.24,1141.41 L1163.81,1140.12 L1164.39,1138.84 L1164.96,1137.55 L1165.54,1136.26 L1166.12,1134.98 L1166.70,1133.70 L1167.28,1132.41 L1167.87,1131.13 L1168.46,1129.85 L1169.04,1128.58 L1169.63,1127.30 L1170.22,1126.02 L1170.82,1124.74 L1171.41,1123.47 L1172.01,1122.20 L1172.61,1120.92 L1173.21,1119.65 L1173.81,1118.38 L1174.42,1117.11 L1175.02,1115.84 L1175.63,1114.57 L1176.24,1113.31 L1176.85,1112.04 L1177.46,1110.77 L1178.08,1109.51 L1178.70,1108.25 L1179.31,1106.98 L1179.94,1105.72 L1180.56,1104.46 L1181.18,1103.20 L1181.81,1101.94 L1182.44,1100.68 L1183.06,1099.43 L1183.70,1098.17 L1184.33,1096.92 L1184.96,1095.66 L1185.60,1094.41 L1186.24,1093.15 L1186.88,1091.90 L1187.52,1090.65 L1188.17,1089.40 L1188.81,1088.15 L1189.46,1086.90 L1190.11,1085.65 L1190.76,1084.40 L1191.41,1083.16 L1192.07,1081.91 L1192.73,1080.67 L1193.39,1079.42 L1194.05,1078.18 L1194.71,1076.93 L1195.37,1075.69 L1196.04,1074.45 L1196.71,1073.21 L1197.38,1071.97 L1198.05,1070.73 L1198.72,1069.49 L1199.40,1068.25 L1200.08,1067.01 L1200.75,1065.78 L1201.44,1064.54 L1202.12,1063.30 L1202.80,1062.07 L1203.49,1060.84 L1204.18,1059.60 L1204.87,1058.37 L1205.56,1057.14 L1206.26,1055.90 L1206.95,1054.67 L1207.65,1053.44 L1208.35,1052.21 L1209.05,1050.98 L1209.75,1049.75 L1210.46,1048.52 L1211.17,1047.30 L1211.88,1046.07 L1212.59,1044.84 L1213.30,1043.61 L1214.01,1042.39 L1214.73,1041.16 L1215.45,1039.94 L1216.17,1038.71 L1216.89,1037.49 L1217.62,1036.27 L1218.34,1035.04 L1219.07,1033.82 L1219.80,1032.60 L1220.53,1031.38 L1221.27,1030.15 L1222.00,1028.93 L1222.74,1027.71 L1223.48,1026.49 L1224.22,1025.28 L1224.97,1024.06 L1225.71,1022.84 L1226.46,1021.63 L1227.22,1020.41 L1227.97,1019.20 L1228.73,1017.99 L1229.50,1016.79 L1230.26,1015.58 L1231.04,1014.38 L1231.81,1013.18 L1232.59,1011.98 L1233.37,1010.79 L1234.16,1009.60 L1234.95,1008.41 L1235.75,1007.23 L1236.55,1006.05 L1237.36,1004.87 L1238.17,1003.70 L1238.99,1002.53 L1239.81,1001.36 L1240.64,1000.20 L1241.48,999.05 L1242.32,997.90 L1243.16,996.75 L1244.02,995.61 L1244.88,994.48 L1245.74,993.35 L1246.61,992.22 L1247.49,991.10 L1248.38,989.99 L1249.28,988.89 L1250.18,987.79 L1251.09,986.69 L1252.00,985.60 L1252.93,984.52 L1253.86,983.45 L1254.80,982.38 L1255.75,981.33 L1256.71,980.27 L1257.67,979.23 L1258.65,978.19 L1259.63,977.17 L1260.63,976.15 L1261.63,975.13 L1262.64,974.13 L1263.66,973.13 L1264.69,972.15 L1265.73,971.17 L1266.79,970.20 L1267.85,969.24 L1268.92,968.29 L1270.00,967.35 L1271.09,966.42 L1272.20,965.50 L1273.31,964.59 L1274.44,963.69 L1275.58,962.80 L1276.72,961.93 L1277.88,961.06 L1279.06,960.20 L1280.24,959.36 L1281.43,958.54 L1282.63,957.73 L1283.84,956.95 L1285.05,956.20 L1286.28,955.47 L1287.51,954.78 L1288.74,954.12 L1289.97,953.49 L1291.21,952.91 L1292.46,952.36 L1293.70,951.87 L1294.95,951.42 L1296.19,951.02 L1297.43,950.67 L1298.67,950.38 L1299.91,950.14 L1301.15,949.97 L1302.38,949.87 L1303.61,949.83 L1304.83,949.85 L1306.04,949.94 L1307.24,950.09 L1308.43,950.31 L1309.61,950.59 L1310.78,950.94 L1311.93,951.35 L1313.07,951.82 L1314.19,952.35 L1315.29,952.95 L1316.37,953.60 L1317.43,954.31 L1318.47,955.08 L1319.50,955.90 L1320.50,956.77 L1321.49,957.69 L1322.46,958.66 L1323.41,959.67 L1324.35,960.72 L1325.26,961.81 L1326.16,962.94 L1327.04,964.10 L1327.90,965.29 L1328.75,966.52 L1329.58,967.77 L1330.39,969.05 L1331.18,970.35 L1331.96,971.68 L1332.72,973.02 L1333.47,974.38 L1334.19,975.76 L1334.91,977.14 L1335.60,978.54 L1336.28,979.95 L1336.95,981.36 L1337.60,982.77 L1338.23,984.18 L1338.85,985.60 L1339.45,987.00 L1340.04,988.41 L1340.61,989.81 L1341.17,991.20 L1341.71,992.59 L1342.25,993.97 L1342.77,995.35 L1343.27,996.73 L1343.77,998.10 L1344.26,999.47 L1344.73,1000.83 L1345.20,1002.19 L1345.66,1003.55 L1346.11,1004.90 L1346.55,1006.25 L1346.98,1007.60 L1347.41,1008.94 L1347.83,1010.28 L1348.25,1011.62 L1348.66,1012.96 L1349.06,1014.29 L1349.46,1015.62 L1349.86,1016.95 L1350.25,1018.28 L1350.65,1019.61 L1351.04,1020.93 L1351.42,1022.26 L1351.81,1023.58 L1352.20,1024.90 L1352.59,1026.22 L1352.98,1027.55 L1353.37,1028.87 L1353.76,1030.19 L1354.15,1031.51 L1354.55,1032.83 L1354.95,1034.15 L1355.35,1035.47 L1355.76,1036.79 L1356.17,1038.12 L1356.59,1039.44 L1357.01,1040.76 L1357.43,1042.09 L1357.85,1043.41 L1358.28,1044.73 L1358.72,1046.06 L1359.15,1047.38 L1359.59,1048.70 L1360.04,1050.03 L1360.48,1051.35 L1360.93,1052.68 L1361.39,1054.00 L1361.84,1055.33 L1362.30,1056.65 L1362.77,1057.98 L1363.24,1059.31 L1363.71,1060.63 L1364.18,1061.96 L1364.66,1063.28 L1365.14,1064.61 L1365.62,1065.93 L1366.11,1067.26 L1366.60,1068.59 L1367.10,1069.91 L1367.60,1071.24 L1368.10,1072.56 L1368.60,1073.89 L1369.11,1075.22 L1369.62,1076.54 L1370.14,1077.87 L1370.65,1079.19 L1371.17,1080.52 L1371.70,1081.84 L1372.23,1083.17 L1372.76,1084.49 L1373.29,1085.82 L1373.83,1087.14 L1374.37,1088.47 L1374.91,1089.79 L1375.46,1091.12 L1376.01,1092.44 L1376.56,1093.76 L1377.12,1095.09 L1377.68,1096.41 L1378.24,1097.73 L1378.80,1099.06 L1379.37,1100.38 L1379.95,1101.70 L1380.52,1103.02 L1381.10,1104.35 L1381.68,1105.67 L1382.26,1106.99 L1382.85,1108.31 L1383.45,1109.62 L1384.04,1110.94 L1384.65,1112.25 L1385.26,1113.56 L1385.88,1114.86 L1386.50,1116.15 L1387.13,1117.44 L1387.77,1118.73 L1388.42,1120.00 L1389.09,1121.27 L1389.76,1122.53 L1390.44,1123.78 L1391.13,1125.02 L1391.84,1126.25 L1392.56,1127.46 L1393.29,1128.67 L1394.04,1129.86 L1394.80,1131.04 L1395.57,1132.20 L1396.36,1133.35 L1397.17,1134.48 L1398.00,1135.60 L1398.84,1136.70 L1399.70,1137.78 L1400.58,1138.84 L1401.48,1139.88 L1402.40,1140.91 L1403.34,1141.91 L1404.30,1142.89 L1405.28,1143.86 L1406.28,1144.79 L1407.31,1145.71 L1408.36,1146.60 L1409.43,1147.47 L1410.52,1148.32 L1411.62,1149.15 L1412.75,1149.96 L1413.90,1150.74 L1415.06,1151.51 L1416.24,1152.26 L1417.44,1152.98 L1418.65,1153.69 L1419.87,1154.38 L1421.11,1155.05 L1422.37,1155.70 L1423.63,1156.34 L1424.91,1156.95 L1426.20,1157.55 L1427.50,1158.14 L1428.80,1158.70 L1430.12,1159.26 L1431.45,1159.79 L1432.78,1160.31 L1434.12,1160.82 L1435.47,1161.31 L1436.82,1161.79 L1438.18,1162.25 L1439.54,1162.70 L1440.90,1163.14 L1442.27,1163.57 L1443.64,1163.98 L1445.01,1164.38 L1446.39,1164.77 L1447.76,1165.15 L1449.14,1165.51 L1450.52,1165.87 L1451.90,1166.21 L1453.28,1166.54 L1454.67,1166.86 L1456.05,1167.18 L1457.44,1167.48 L1458.83,1167.77 L1460.22,1168.05 L1461.61,1168.33 L1463.01,1168.59 L1464.40,1168.84 L1465.80,1169.09 L1467.20,1169.33 L1468.60,1169.56 L1470.00,1169.78 L1471.40,1169.99 L1472.80,1170.19 L1474.21,1170.39 L1475.61,1170.58 L1477.02,1170.76 L1478.42,1170.94 L1479.83,1171.11 L1481.24,1171.27 L1482.65,1171.43 L1484.06,1171.58 L1485.47,1171.73 L1486.89,1171.87 L1488.30,1172.00 L1489.71,1172.13 L1491.13,1172.25 L1492.54,1172.37 L1493.96,1172.49 L1495.37,1172.60 L1496.79,1172.70 L1498.21,1172.81 L1499.62,1172.91 L1501.04,1173.00 L1502.46,1173.09 L1503.88,1173.18 L1505.29,1173.27 L1506.71,1173.36 L1508.13,1173.44 L1509.55,1173.52 L1510.97,1173.60 L1512.39,1173.67 L1513.80,1173.75 L1515.22,1173.82 L1516.64,1173.89 L1518.06,1173.96 L1519.48,1174.03 L1520.89,1174.11 L1522.31,1174.18 L1523.73,1174.25 L1525.14,1174.32 L1526.56,1174.39 L1527.97,1174.46 L1529.39,1174.53 L1530.80,1174.61 L1532.22,1174.68 L1533.63,1174.76 L1535.04,1174.84 L1536.45,1174.92 L1537.86,1175.00 L1539.27,1175.09 L1540.68,1175.17 L1542.09,1175.27 L1543.50,1175.36 L1544.90,1175.46 L1546.31,1175.56 L1547.71,1175.66 L1549.11,1175.77 L1550.52,1175.88 L1551.92,1176.00 L1553.31,1176.12 L1554.71,1176.25 L1556.11,1176.38 L1557.50,1176.51 L1558.90,1176.66 L1560.29,1176.80 L1561.68,1176.96 L1563.07,1177.12" fill="none" stroke="#141414" stroke-width="2.5" stroke-linejoin="round" stroke-linecap="round"/>
<path d="M1136.95,1206.91 L1137.92,1206.47 L1138.88,1206.04 L1139.84,1205.61 L1140.81,1205.18 L1141.78,1204.75 L1142.75,1204.31 L1143.73,1203.88 L1144.70,1203.44 L1145.68,1203.01 L1146.66,1202.57 L1147.64,1202.14 L1148.62,1201.70 L1149.60,1201.26 L1150.59,1200.83 L1151.58,1200.39 L1152.56,1199.95 L1153.55,1199.51 L1154.55,1199.07 L1155.54,1198.62 L1156.53,1198.18 L1157.53,1197.74 L1158.52,1197.30 L1159.52,1196.85 L1160.52,1196.40 L1161.52,1195.96 L1162.52,1195.51 L1163.52,1195.06 L1164.52,1194.61 L1165.52,1194.16 L1166.52,1193.71 L1167.53,1193.25 L1168.53,1192.80 L1169.54,1192.34 L1170.54,1191.89 L1171.55,1191.43 L1172.56,1190.97 L1173.56,1190.51 L1174.57,1190.05 L1175.58,1189.59 L1176.59,1189.12 L1177.59,1188.66 L1178.60,1188.19 L1179.61,1187.72 L1180.62,1187.25 L1181.63,1186.78 L1182.64,1186.31 L1183.65,1185.83 L1184.65,1185.36 L1185.66,1184.88 L1186.67,1184.40 L1187.68,1183.92 L1188.68,1183.43 L1189.69,1182.95 L1190.70,1182.46 L1191.70,1181.98 L1192.71,1181.49 L1193.72,1181.00 L1194.72,1180.50 L1195.72,1180.01 L1196.73,1179.51 L1197.73,1179.01 L1198.73,1178.51 L1199.73,1178.01 L1200.73,1177.50 L1201.73,1177.00 L1202.73,1176.49 L1203.72,1175.98 L1204.72,1175.46 L1205.71,1174.95 L1206.71,1174.43 L1207.70,1173.91 L1208.69,1173.39 L1209.68,1172.87 L1210.66,1172.34 L1211.65,1171.81 L1212.64,1171.28 L1213.62,1170.75 L1214.60,1170.21 L1215.58,1169.67 L1216.56,1169.13 L1217.54,1168.59 L1218.51,1168.05 L1219.48,1167.50 L1220.45,1166.95 L1221.42,1166.40 L1222.39,1165.84 L1223.35,1165.28 L1224.32,1164.72 L1225.28,1164.16 L1226.24,1163.59 L1227.19,1163.02 L1228.15,1162.45 L1229.10,1161.88 L1230.05,1161.30 L1231.00,1160.72 L1231.94,1160.14 L1232.88,1159.55 L1233.82,1158.96 L1234.76,1158.37 L1235.69,1157.78 L1236.62,1157.18 L1237.55,1156.58 L1238.48,1155.98 L1239.40,1155.37 L1240.32,1154.76 L1241.24,1154.15 L1242.15,1153.53 L1243.06,1152.91 L1243.97,1152.29 L1244.87,1151.67 L1245.77,1151.04 L1246.67,1150.41 L1247.57,1149.77 L1248.46,1149.13 L1249.34,1148.49 L1250.23,1147.84 L1251.11,1147.20 L1251.99,1146.54 L1252.86,1145.89 L1253.73,1145.23 L1254.60,1144.57 L1255.46,1143.90 L1256.32,1143.23 L1257.17,1142.56 L1258.02,1141.88 L1258.87,1141.20 L1259.71,1140.51 L1260.55,1139.83 L1261.39,1139.13 L1262.22,1138.44 L1263.04,1137.74 L1263.87,1137.04 L1264.68,1136.33 L1265.50,1135.62 L1266.31,1134.90 L1267.11,1134.19 L1267.91,1133.46 L1268.71,1132.74 L1269.50,1132.01 L1270.28,1131.27 L1271.07,1130.53 L1271.84,1129.79 L1272.62,1129.04 L1273.38,1128.29 L1274.15,1127.54 L1274.91,1126.78 L1275.66,1126.02 L1276.41,1125.25 L1277.16,1124.48 L1277.90,1123.71 L1278.64,1122.93 L1279.38,1122.15 L1280.11,1121.36 L1280.84,1120.57 L1281.56,1119.78 L1282.28,1118.99 L1283.00,1118.19 L1283.71,1117.38 L1284.42,1116.58 L1285.13,1115.76 L1285.83,1114.95 L1286.54,1114.13 L1287.23,1113.31 L1287.93,1112.49 L1288.62,1111.66 L1289.31,1110.83 L1289.99,1109.99 L1290.68,1109.15 L1291.36,1108.31 L1292.03,1107.47 L1292.71,1106.62 L1293.38,1105.76 L1294.05,1104.91 L1294.72,1104.05 L1295.39,1103.19 L1296.05,1102.32 L1296.71,1101.46 L1297.37,1100.58 L1298.03,1099.71 L1298.68,1098.83 L1299.34,1097.95 L1299.99,1097.07 L1300.64,1096.18 L1301.29,1095.29 L1301.93,1094.40 L1302.58,1093.50 L1303.22,1092.60 L1303.86,1091.70 L1304.50,1090.80 L1305.14,1089.89 L1305.78,1088.98 L1306.42,1088.06 L1307.06,1087.15 L1307.69,1086.23 L1308.33,1085.31 L1308.96,1084.38 L1309.59,1083.46 L1310.23,1082.52 L1310.86,1081.59 L1311.49,1080.66 L1312.12,1079.72 L1312.75,1078.78 L1313.38,1077.83 L1314.01,1076.89 L1314.64,1075.94 L1315.27,1074.99 L1315.90,1074.04 L1316.53,1073.08 L1317.16,1072.12 L1317.79,1071.16 L1318.42,1070.20 L1319.05,1069.23 L1319.68,1068.26 L1320.31,1067.29 L1320.94,1066.32 L1321.57,1065.35 L1322.21,1064.37 L1322.84,1063.39 L1323.47,1062.41 L1324.11,1061.42 L1324.74,1060.44 L1325.38,1059.45 L1326.02,1058.46 L1326.66,1057.46 L1327.30,1056.47 L1327.94,1055.47 L1328.58,1054.47 L1329.23,1053.47 L1329.87,1052.47 L1330.52,1051.47 L1331.17,1050.48 L1331.82,1049.49 L1332.48,1048.51 L1333.14,1047.53 L1333.81,1046.57 L1334.47,1045.63 L1335.15,1044.70 L1335.83,1043.79 L1336.51,1042.90 L1337.21,1042.03 L1337.90,1041.18 L1338.61,1040.37 L1339.32,1039.58 L1340.04,1038.82 L1340.77,1038.09 L1341.51,1037.40 L1342.25,1036.75 L1343.01,1036.14 L1343.77,1035.56 L1344.55,1035.03 L1345.34,1034.55 L1346.13,1034.11 L1346.94,1033.72 L1347.76,1033.38 L1348.59,1033.10 L1349.44,1032.87 L1350.30,1032.70 L1351.17,1032.59 L1352.06,1032.54 L1352.96,1032.55 L1353.87,1032.63 L1354.79,1032.77 L1355.72,1032.96 L1356.67,1033.21 L1357.61,1033.51 L1358.57,1033.87 L1359.52,1034.27 L1360.48,1034.72 L1361.44,1035.22 L1362.40,1035.76 L1363.36,1036.34 L1364.31,1036.96 L1365.25,1037.62 L1366.19,1038.31 L1367.12,1039.03 L1368.03,1039.78 L1368.94,1040.56 L1369.83,1041.37 L1370.71,1042.20 L1371.57,1043.05 L1372.41,1043.92 L1373.23,1044.81 L1374.03,1045.72 L1374.81,1046.64 L1375.56,1047.57 L1376.29,1048.51 L1376.98,1049.45 L1377.65,1050.40 L1378.29,1051.36 L1378.91,1052.31 L1379.50,1053.28 L1380.06,1054.24 L1380.61,1055.21 L1381.14,1056.18 L1381.66,1057.15 L1382.16,1058.12 L1382.65,1059.10 L1383.13,1060.08 L1383.60,1061.06 L1384.07,1062.04 L1384.53,1063.02 L1385.00,1064.00 L1385.46,1064.99 L1385.93,1065.97 L1386.41,1066.95 L1386.88,1067.93 L1387.36,1068.92 L1387.85,1069.90 L1388.34,1070.88 L1388.83,1071.86 L1389.33,1072.84 L1389.83,1073.82 L1390.33,1074.80 L1390.84,1075.77 L1391.35,1076.75 L1391.87,1077.72 L1392.40,1078.69 L1392.92,1079.66 L1393.46,1080.63 L1394.00,1081.60 L1394.54,1082.56 L1395.09,1083.52 L1395.64,1084.48 L1396.20,1085.44 L1396.76,1086.39 L1397.33,1087.34 L1397.91,1088.28 L1398.49,1089.23 L1399.07,1090.17 L1399.66,1091.10 L1400.26,1092.04 L1400.87,1092.96 L1401.47,1093.89 L1402.09,1094.81 L1402.71,1095.72 L1403.34,1096.63 L1403.98,1097.54 L1404.62,1098.44 L1405.26,1099.34 L1405.92,1100.23 L1406.58,1101.12 L1407.25,1102.00 L1407.92,1102.88 L1408.60,1103.75 L1409.29,1104.61 L1409.98,1105.47 L1410.68,1106.33 L1411.39,1107.18 L1412.10,1108.02 L1412.82,1108.86 L1413.54,1109.69 L1414.28,1110.52 L1415.01,1111.34 L1415.76,1112.15 L1416.51,1112.96 L1417.26,1113.76 L1418.02,1114.56 L1418.79,1115.35 L1419.56,1116.13 L1420.34,1116.91 L1421.13,1117.68 L1421.92,1118.45 L1422.72,1119.20 L1423.52,1119.96 L1424.33,1120.70 L1425.14,1121.44 L1425.96,1122.17 L1426.79,1122.90 L1427.62,1123.62 L1428.45,1124.33 L1429.29,1125.03 L1430.14,1125.73 L1430.99,1126.42 L1431.85,1127.10 L1432.71,1127.78 L1433.58,1128.45 L1434.46,1129.11 L1435.33,1129.76 L1436.22,1130.41 L1437.11,1131.05 L1438.00,1131.68 L1438.90,1132.31 L1439.80,1132.92 L1440.71,1133.53 L1441.63,1134.13 L1442.55,1134.73 L1443.47,1135.31 L1444.40,1135.89 L1445.33,1136.46 L1446.27,1137.02 L1447.21,1137.57 L1448.16,1138.12 L1449.11,1138.65 L1450.07,1139.18 L1451.03,1139.70 L1451.99,1140.21 L1452.96,1140.72 L1453.94,1141.21 L1454.92,1141.70 L1455.90,1142.17 L1456.89,1142.64 L1457.88,1143.10 L1458.88,1143.55 L1459.88,1143.99 L1460.88,1144.42 L1461.89,1144.85 L1462.90,1145.26 L1463.92,1145.67 L1464.94,1146.06 L1465.96,1146.45 L1466.99,1146.83 L1468.02,1147.20 L1469.06,1147.55 L1470.10,1147.90 L1471.14,1148.24 L1472.19,1148.57 L1473.24,1148.89 L1474.29,1149.20 L1475.35,1149.51 L1476.41,1149.80 L1477.48,1150.08 L1478.55,1150.36 L1479.62,1150.63 L1480.69,1150.89 L1481.77,1151.14 L1482.85,1151.38 L1483.93,1151.62 L1485.01,1151.85 L1486.10,1152.07 L1487.19,1152.28 L1488.28,1152.49 L1489.38,1152.69 L1490.47,1152.89 L1491.57,1153.08 L1492.67,1153.26 L1493.77,1153.43 L1494.88,1153.61 L1495.98,1153.77 L1497.09,1153.93 L1498.20,1154.09 L1499.31,1154.23 L1500.42,1154.38 L1501.54,1154.52 L1502.65,1154.66 L1503.77,1154.79 L1504.88,1154.91 L1506.00,1155.04 L1507.12,1155.16 L1508.24,1155.27 L1509.36,1155.39 L1510.48,1155.50 L1511.60,1155.61 L1512.72,1155.71 L1513.84,1155.81 L1514.96,1155.91 L1516.08,1156.01 L1517.20,1156.10 L1518.32,1156.20 L1519.45,1156.29 L1520.57,1156.38 L1521.69,1156.47 L1522.81,1156.56 L1523.93,1156.64 L1525.04,1156.73 L1526.16,1156.81 L1527.28,1156.90 L1528.40,1156.98 L1529.51,1157.07 L1530.62,1157.16 L1531.74,1157.24 L1532.85,1157.33 L1533.96,1157.41 L1535.07,1157.50 L1536.18,1157.59 L1537.28,1157.68 L1538.39,1157.77 L1539.49,1157.87 L1540.59,1157.96 L1541.69,1158.06 L1542.78,1158.16 L1543.88,1158.26 L1544.97,1158.37 L1546.06,1158.48 L1547.14,1158.59 L1548.23,1158.70 L1549.31,1158.82 L1550.39,1158.94 L1551.46,1159.06 L1552.54,1159.19 L1553.61,1159.33 L1554.67,1159.46 L1555.74,1159.60 L1556.80,1159.75 L1557.85,1159.90 L1558.91,1160.06 L1559.96,1160.22 L1561.00,1160.38 L1562.05,1160.56 L1563.09,1160.73" fill="none" stroke="#141414" stroke-width="2.5" stroke-linejoin="round" stroke-linecap="round"/>
<path d="M1136.97,1207.48 L1138.03,1207.30 L1139.10,1207.13 L1140.17,1206.96 L1141.25,1206.80 L1142.33,1206.65 L1143.41,1206.50 L1144.49,1206.36 L1145.58,1206.22 L1146.67,1206.09 L1147.76,1205.96 L1148.86,1205.83 L1149.96,1205.71 L1151.06,1205.60 L1152.17,1205.49 L1153.27,1205.38 L1154.38,1205.28 L1155.49,1205.18 L1156.61,1205.09 L1157.73,1205.00 L1158.84,1204.91 L1159.96,1204.82 L1161.09,1204.74 L1162.21,1204.66 L1163.34,1204.59 L1164.47,1204.52 L1165.60,1204.44 L1166.73,1204.38 L1167.87,1204.31 L1169.00,1204.25 L1170.14,1204.18 L1171.28,1204.12 L1172.42,1204.06 L1173.56,1204.01 L1174.70,1203.95 L1175.85,1203.90 L1177.00,1203.84 L1178.14,1203.79 L1179.29,1203.74 L1180.44,1203.69 L1181.59,1203.63 L1182.74,1203.58 L1183.89,1203.53 L1185.04,1203.48 L1186.20,1203.43 L1187.35,1203.38 L1188.50,1203.32 L1189.66,1203.27 L1190.81,1203.22 L1191.97,1203.16 L1193.12,1203.11 L1194.28,1203.05 L1195.43,1202.99 L1196.59,1202.93 L1197.75,1202.87 L1198.90,1202.81 L1200.06,1202.74 L1201.21,1202.67 L1202.37,1202.60 L1203.52,1202.53 L1204.68,1202.46 L1205.83,1202.38 L1206.99,1202.30 L1208.14,1202.22 L1209.29,1202.13 L1210.44,1202.04 L1211.59,1201.95 L1212.74,1201.85 L1213.89,1201.75 L1215.04,1201.64 L1216.19,1201.53 L1217.34,1201.42 L1218.48,1201.30 L1219.63,1201.18 L1220.77,1201.05 L1221.91,1200.92 L1223.05,1200.79 L1224.19,1200.64 L1225.32,1200.50 L1226.46,1200.34 L1227.59,1200.19 L1228.73,1200.02 L1229.86,1199.85 L1230.98,1199.68 L1232.11,1199.49 L1233.23,1199.31 L1234.36,1199.11 L1235.48,1198.91 L1236.59,1198.70 L1237.71,1198.49 L1238.82,1198.27 L1239.93,1198.04 L1241.04,1197.80 L1242.15,1197.56 L1243.25,1197.30 L1244.35,1197.04 L1245.45,1196.78 L1246.55,1196.50 L1247.64,1196.22 L1248.73,1195.92 L1249.81,1195.62 L1250.90,1195.31 L1251.98,1194.99 L1253.06,1194.67 L1254.13,1194.33 L1255.20,1193.98 L1256.27,1193.63 L1257.33,1193.26 L1258.39,1192.89 L1259.45,1192.50 L1260.50,1192.11 L1261.55,1191.71 L1262.60,1191.30 L1263.64,1190.87 L1264.68,1190.44 L1265.71,1190.00 L1266.74,1189.55 L1267.76,1189.10 L1268.78,1188.63 L1269.80,1188.15 L1270.81,1187.67 L1271.82,1187.17 L1272.82,1186.67 L1273.82,1186.15 L1274.81,1185.63 L1275.80,1185.10 L1276.78,1184.56 L1277.76,1184.02 L1278.74,1183.46 L1279.70,1182.90 L1280.67,1182.32 L1281.62,1181.74 L1282.57,1181.15 L1283.52,1180.55 L1284.46,1179.94 L1285.40,1179.33 L1286.32,1178.70 L1287.25,1178.07 L1288.16,1177.43 L1289.08,1176.78 L1289.98,1176.13 L1290.88,1175.46 L1291.77,1174.79 L1292.66,1174.11 L1293.54,1173.42 L1294.41,1172.72 L1295.28,1172.01 L1296.14,1171.30 L1296.99,1170.58 L1297.83,1169.85 L1298.67,1169.12 L1299.51,1168.37 L1300.33,1167.62 L1301.15,1166.86 L1301.96,1166.09 L1302.76,1165.32 L1303.56,1164.54 L1304.34,1163.75 L1305.13,1162.95 L1305.90,1162.15 L1306.66,1161.34 L1307.42,1160.52 L1308.17,1159.69 L1308.91,1158.86 L1309.64,1158.02 L1310.37,1157.17 L1311.09,1156.32 L1311.79,1155.46 L1312.49,1154.59 L1313.19,1153.71 L1313.87,1152.83 L1314.54,1151.94 L1315.21,1151.05 L1315.86,1150.14 L1316.51,1149.23 L1317.15,1148.32 L1317.78,1147.40 L1318.40,1146.47 L1319.01,1145.53 L1319.61,1144.59 L1320.21,1143.64 L1320.79,1142.69 L1321.37,1141.72 L1321.93,1140.76 L1322.49,1139.79 L1323.04,1138.81 L1323.59,1137.82 L1324.12,1136.83 L1324.65,1135.84 L1325.17,1134.84 L1325.68,1133.84 L1326.18,1132.83 L1326.68,1131.81 L1327.18,1130.79 L1327.66,1129.77 L1328.14,1128.74 L1328.61,1127.71 L1329.08,1126.67 L1329.54,1125.63 L1330.00,1124.59 L1330.45,1123.54 L1330.89,1122.49 L1331.33,1121.44 L1331.77,1120.38 L1332.20,1119.32 L1332.62,1118.26 L1333.05,1117.19 L1333.46,1116.12 L1333.88,1115.05 L1334.29,1113.97 L1334.69,1112.90 L1335.10,1111.82 L1335.49,1110.74 L1335.89,1109.65 L1336.28,1108.57 L1336.68,1107.48 L1337.06,1106.39 L1337.45,1105.30 L1337.83,1104.21 L1338.22,1103.12 L1338.60,1102.03 L1338.98,1100.93 L1339.35,1099.84 L1339.73,1098.74 L1340.10,1097.65 L1340.48,1096.55 L1340.85,1095.46 L1341.22,1094.36 L1341.60,1093.26 L1341.97,1092.17 L1342.34,1091.07 L1342.71,1089.98 L1343.09,1088.88 L1343.46,1087.79 L1343.83,1086.69 L1344.21,1085.60 L1344.59,1084.51 L1344.96,1083.42 L1345.34,1082.33 L1345.72,1081.24 L1346.11,1080.16 L1346.49,1079.07 L1346.88,1077.99 L1347.27,1076.91 L1347.66,1075.84 L1348.06,1074.76 L1348.45,1073.69 L1348.86,1072.62 L1349.26,1071.55 L1349.67,1070.49 L1350.08,1069.42 L1350.49,1068.37 L1350.91,1067.31 L1351.34,1066.26 L1351.76,1065.21 L1352.20,1064.16 L1352.63,1063.12 L1353.08,1062.09 L1353.52,1061.05 L1353.98,1060.02 L1354.44,1059.00 L1354.90,1057.98 L1355.37,1056.96 L1355.85,1055.95 L1356.33,1054.94 L1356.82,1053.93 L1357.31,1052.93 L1357.82,1051.93 L1358.33,1050.93 L1358.85,1049.93 L1359.38,1048.94 L1359.91,1047.95 L1360.45,1046.97 L1361.01,1045.98 L1361.57,1045.00 L1362.14,1044.02 L1362.72,1043.04 L1363.31,1042.07 L1363.91,1041.09 L1364.52,1040.12 L1365.14,1039.15 L1365.77,1038.18 L1366.41,1037.21 L1367.06,1036.24 L1367.72,1035.27 L1368.40,1034.31 L1369.08,1033.34 L1369.78,1032.38 L1370.49,1031.41 L1371.22,1030.46 L1371.95,1029.51 L1372.70,1028.58 L1373.46,1027.67 L1374.23,1026.78 L1375.01,1025.92 L1375.81,1025.09 L1376.61,1024.30 L1377.43,1023.55 L1378.26,1022.85 L1379.11,1022.19 L1379.96,1021.59 L1380.83,1021.05 L1381.71,1020.58 L1382.60,1020.17 L1383.50,1019.83 L1384.42,1019.57 L1385.34,1019.39 L1386.28,1019.28 L1387.22,1019.26 L1388.17,1019.31 L1389.13,1019.43 L1390.08,1019.63 L1391.04,1019.88 L1391.99,1020.21 L1392.94,1020.59 L1393.88,1021.03 L1394.81,1021.53 L1395.73,1022.08 L1396.63,1022.68 L1397.52,1023.33 L1398.39,1024.02 L1399.25,1024.76 L1400.09,1025.54 L1400.91,1026.35 L1401.72,1027.19 L1402.52,1028.07 L1403.30,1028.97 L1404.08,1029.90 L1404.84,1030.85 L1405.59,1031.82 L1406.33,1032.81 L1407.06,1033.81 L1407.79,1034.82 L1408.51,1035.83 L1409.22,1036.85 L1409.93,1037.87 L1410.63,1038.89 L1411.33,1039.91 L1412.03,1040.92 L1412.72,1041.92 L1413.42,1042.90 L1414.11,1043.87 L1414.80,1044.83 L1415.50,1045.77 L1416.19,1046.69 L1416.88,1047.60 L1417.58,1048.51 L1418.27,1049.40 L1418.97,1050.28 L1419.66,1051.15 L1420.36,1052.01 L1421.06,1052.87 L1421.76,1053.72 L1422.46,1054.56 L1423.16,1055.40 L1423.87,1056.24 L1424.58,1057.08 L1425.28,1057.91 L1426.00,1058.75 L1426.71,1059.58 L1427.42,1060.42 L1428.14,1061.25 L1428.86,1062.10 L1429.59,1062.94 L1430.31,1063.78 L1431.04,1064.63 L1431.77,1065.48 L1432.51,1066.33 L1433.25,1067.18 L1433.99,1068.02 L1434.73,1068.87 L1435.48,1069.72 L1436.23,1070.57 L1436.99,1071.42 L1437.75,1072.27 L1438.51,1073.11 L1439.27,1073.95 L1440.04,1074.80 L1440.82,1075.63 L1441.60,1076.47 L1442.38,1077.30 L1443.17,1078.13 L1443.96,1078.96 L1444.75,1079.78 L1445.55,1080.60 L1446.35,1081.42 L1447.16,1082.23 L1447.98,1083.03 L1448.79,1083.83 L1449.62,1084.62 L1450.44,1085.41 L1451.28,1086.19 L1452.12,1086.96 L1452.96,1087.73 L1453.81,1088.49 L1454.66,1089.25 L1455.52,1089.99 L1456.38,1090.73 L1457.25,1091.46 L1458.13,1092.18 L1459.01,1092.89 L1459.90,1093.59 L1460.79,1094.29 L1461.69,1094.98 L1462.59,1095.66 L1463.50,1096.33 L1464.41,1096.99 L1465.33,1097.64 L1466.25,1098.29 L1467.18,1098.93 L1468.11,1099.56 L1469.05,1100.18 L1469.99,1100.80 L1470.94,1101.41 L1471.89,1102.01 L1472.85,1102.60 L1473.81,1103.18 L1474.77,1103.76 L1475.74,1104.33 L1476.72,1104.89 L1477.69,1105.45 L1478.68,1106.00 L1479.66,1106.53 L1480.65,1107.07 L1481.65,1107.59 L1482.65,1108.11 L1483.65,1108.62 L1484.65,1109.12 L1485.66,1109.62 L1486.68,1110.11 L1487.69,1110.59 L1488.72,1111.07 L1489.74,1111.54 L1490.77,1112.00 L1491.80,1112.45 L1492.83,1112.90 L1493.87,1113.34 L1494.91,1113.78 L1495.96,1114.21 L1497.00,1114.63 L1498.05,1115.04 L1499.11,1115.45 L1500.16,1115.85 L1501.22,1116.25 L1502.28,1116.64 L1503.35,1117.02 L1504.41,1117.40 L1505.48,1117.77 L1506.56,1118.13 L1507.63,1118.49 L1508.71,1118.84 L1509.79,1119.19 L1510.87,1119.53 L1511.95,1119.86 L1513.04,1120.19 L1514.13,1120.51 L1515.22,1120.83 L1516.31,1121.14 L1517.40,1121.44 L1518.50,1121.74 L1519.59,1122.03 L1520.69,1122.32 L1521.79,1122.60 L1522.90,1122.88 L1524.00,1123.15 L1525.11,1123.42 L1526.21,1123.68 L1527.32,1123.93 L1528.43,1124.18 L1529.54,1124.43 L1530.65,1124.67 L1531.77,1124.90 L1532.88,1125.13 L1534.00,1125.35 L1535.11,1125.57 L1536.23,1125.79 L1537.35,1126.00 L1538.46,1126.20 L1539.58,1126.40 L1540.70,1126.59 L1541.82,1126.78 L1542.94,1126.97 L1544.06,1127.15 L1545.18,1127.33 L1546.31,1127.50 L1547.43,1127.66 L1548.55,1127.83 L1549.67,1127.98 L1550.79,1128.14 L1551.91,1128.29 L1553.04,1128.43 L1554.16,1128.57 L1555.28,1128.71 L1556.40,1128.84 L1557.52,1128.97 L1558.64,1129.09 L1559.76,1129.21 L1560.88,1129.33 L1562.00,1129.44 L1563.12,1129.55" fill="none" stroke="#141414" stroke-width="2.5" stroke-linejoin="round" stroke-linecap="round"/>
<line x1="1340.00" y1="987.90" x2="1380.20" y2="962.20" stroke="#141414" stroke-width="2.4"/>
<line x1="1385.30" y1="1064.40" x2="1451.00" y2="1011.10" stroke="#141414" stroke-width="2.4"/>
<line x1="1487.50" y1="1105.00" x2="1508.70" y2="1077.60" stroke="#141414" stroke-width="2.4"/>
<text x="1390.05" y="964.00" font-size="25.00" font-family="'Liberation Sans',sans-serif" fill="#111">Clb5,6</text>
<text x="1462.82" y="967.60" font-size="17.00" font-family="'Liberation Sans',sans-serif" fill="#111">tot</text>
<text x="1462.85" y="1004.20" font-size="25.00" font-family="'Liberation Sans',sans-serif" fill="#111">Clb3,4</text>
<text x="1535.62" y="1007.80" font-size="17.00" font-family="'Liberation Sans',sans-serif" fill="#111">tot</text>
<text x="1465.75" y="1057.30" font-size="25.00" font-family="'Liberation Sans',sans-serif" fill="#111">Clb1,2</text>
<text x="1538.52" y="1060.90" font-size="17.00" font-family="'Liberation Sans',sans-serif" fill="#111">tot</text>
<text x="459.00" y="1367.20" font-size="33.44" font-family="'Liberation Sans',sans-serif" font-weight="bold" fill="#000">f</text>
<text x="517.91" y="1363.40" font-family="'Liberation Sans',sans-serif" fill="#000" xml:space="preserve"><tspan font-size="21.76">C = 10 ≤ </tspan><tspan font-size="21.76" font-weight="bold">100</tspan><tspan font-size="21.76"> ≤ 1000</tspan></text>
<text x="517.25" y="1388.90" font-family="'Liberation Sans',sans-serif" fill="#000" xml:space="preserve"><tspan font-size="21.84">D = 10 ≤ </tspan><tspan font-size="21.84" font-weight="bold">100</tspan><tspan font-size="21.84"> ≤ 1000</tspan></text>
<path d="M0 0m533.8 1405.8h0m3.2-1.6h0m6.7-1h0m4.7-0.2h0m13.5 1.9h0m1.6-2h0m3.7 0.2h0m9 0.5h0m15.1 0.6h0m4.1-0.8h0m51.8 0.8h0m67.5-0.4h0m40.9 1.8h0m-222.5 2.8h0m15.9 1.4h0m0.3-0.6h0m10-1.1h0m30.9-0.4h0m3-1.5h0m5.8 2.9h0m40.4-2.6h0m19.5 1.4h0m46.6 0.1h0m-175.4 3.6h0m13-0.3h0m1.5 1h0m4.6-1.2h0m3.6 0.5h0m1.3 0.4h0m9-1.7h0m9.7-0.1h0m0.5 2.7h0m2-1.3h0m13.7 1.4h0m32.7-0.8h0m96.3-1.1h0m-181.9 5.7h0m4.6-1.4h0m3.6 2h0m13-0.7h0m18.1-2h0m0.9-0.6h0m1.3 2.6h0m2.8 0.5h0m1.9-1.9h0m19.8 0.9h0m0.5 1.6h0m2.3-3.4h0m19.2 3.2h0m39-3.5h0m3.6 0.3h0m214.3-0.4h0m-341.5 4.6h0m0.1-0.6h0m3.2 2.3h0m2.4-2.1h0m21-0.1h0m24.7 2.6h0m14.6 0.4h0m4.2-2h0m19.5 2.4h0m6.4-1.9h0m13.9 0.2h0m-119 6h0m14.3-2.6h0m22.6 1.1h0m1.9-1h0m22.6 1.1h0m9.1 0.8h0m29-0.8h0m41.2-0.8h0m81.1-0.1h0m-214.1 5.8h0m7.9-2.2h0m0.8 1.9h0m5.3-0.7h0m3.5-0.9h0m0.4 2.6h0m1.5-2.7h0m0.1 0.1h0m18.2 0.7h0m6.2-0.4h0m0-1.1h0m2.1 2.6h0m19.6-2h0m1.3 1.6h0m4.5 0.4h0m23.7-1h0m5.5 0.4h0m2.8-1.8h0m4.8 0.1h0m61.5 2.4h0m16.1-1.3h0m22.1-0.7h0m-203.1 5h0m4.7-1.8h0m7.5-0.3h0m2.7 2.6h0m8-1.7h0m2 1.1h0m1.7 0.5h0m4.3-2.2h0m1 2.4h0m11-1.2h0m12.6 1.9h0m3.7 0.4h0m4.3-1.2h0m45.9-1.2h0m-106.6 3.7h0m1.3 0.2h0m38.2-1h0m0.3 0.6h0m4.2 1.5h0m32.2-0.1h0m2.4 1.2h0m2.9-2.4h0m12.4 2.3h0m57.9 0.1h0m72.3-2.4h0m43.4-0.4h0m-287.3 3.8h0m20.8 2.6h0m2 0.6h0m12.1-1.4h0m12.2-1.4h0m4 2.6h0m5.8-1.9h0m22.9-0.9h0m1.9 1.1h0m9.5 0.7h0m0.9 0.3h0m23.9 0.3h0m15.9-1.4h0m-123.3 5.6h0m4.7-1.7h0m4.9 0.4h0m12.4-1.3h0m8 2.5h0m0.4 0.3h0m25.9-1.7h0m1.9-1h0m4.1 0.7h0m38.7 0.3h0m12.6-1.9h0m14.6 2h0m6.5 0.3h0m34.8-0.4h0m5.3 0.7h0m-176.6 5.2h0m5.3-3.1h0m0.2-0.2h0m3.2-0.4h0m7.2 3.6h0m0.4-3h0m3.8 1.9h0m5.6 0.8h0m3.2-0.5h0m12.6 0.5h0m1.2-3.3h0m0.5 1.6h0m4.5 1.4h0m10.5-2.5h0m18.8 2.9h0m48.6-3.4h0m1.8 0.5h0m22.1 2.9h0m55.7-1.2h0m85.6-0.3h0m21.2 0.7h0m-306.3 4h0m6.5 0.1h0m1.3-2h0m1.1-0.1h0m14.4 2.6h0m10.2-1h0m7.2-2.4h0m10.6 0.3h0m3.5 1.5h0m3.3-0.8h0m7.8 1.3h0m1.1-1.4h0m69.7 2.1h0m60.9-0.7h0m-177.8 3.2h0m3-0.8h0m4.1 1h0m18.1-1.6h0m9.2 0.2h0m7.8 0.5h0m2.1 1.2h0m23.9 1.8h0m8.5-2.5h0m3.2-0.5h0m5.9 2h0m17-1.2h0m10 2.3h0m3.2-0.8h0m22.8-3h0m66.4 3h0m126.2 0.5h0m-354.8 3.5h0m15.8 0.3h0m7.9-2.4h0m5.1 0.9h0m6 0.8h0m3.3 1h0m2.9 0.1h0m2.6-0.5h0m2.4-0.4h0m10.8 0.2h0m1.5-2h0m12.4 2.7h0m13.8-3.2h0m3.8 0.3h0m23.6 0.8h0m10.4 1.7h0m26.2 0h0m43.6 0.3h0m41.6 0.1h0m61.8-0.2h0m-292 4.2h0m3-1.6h0m3.4-1.4h0m1 1.1h0m8.7 1.7h0m5.7-2.2h0m6.8-1.1h0m19.9 2.8h0m3.3-1h0m0.8-1.8h0m5.3-0.2h0m27 3.9h0m19.3-2h0m7.6 0h0m69.8-1.3h0m15.4-0.2h0m110 1.6h0m-317.2 5.4h0m30.1-3.1h0m1.7 2.4h0m4.7 0.3h0m0.5-1.9h0m11.5 2.3h0m0.6 0h0m5.8 0h0m4.6-0.8h0m11.2-1.2h0m2.8 0.2h0m11.5 1.2h0m21.5-1.6h0m47.4 2.1h0m56.8-0.8h0m31.8-2.3h0m2.6 1.7h0m-245.3 3.8h0m10.7-0.3h0m0.8-0.2h0m36.8 1.6h0m4.6-1.6h0m1.9 1.8h0m2-0.9h0m5.9-1.4h0m3.8 2.3h0m5.4 0h0m17.3-0.8h0m26.5 0.3h0m90-2h0m9.8 0.1h0m48.7 1.4h0m71.6-0.2h0m-325.5 3.6h0m7.9 1.6h0m0.2 0.8h0m9.2-2.5h0m5.1-0.7h0m0.2 0.9h0m6.4-0.2h0m3.9 2.2h0m2.2-1.3h0m2.2-0.8h0m6 2.1h0m6.1-3h0m0.3 2.5h0m1.5-2.4h0m6.6 0.9h0m13.2 0.5h0m0.6 0.1h0m10.6-0.4h0m20.9 1.1h0m4.7 0.3h0m29 0.3h0m1-0.3h0m58-1.5h0m10.6 0.9h0m43.8-1.5h0m-252.6 6.5h0m17.2-1.7h0m3.6 0.1h0m4.6 1.9h0m6.9-1.4h0m18.3-2.2h0m1.5 2.1h0m4.5-1.1h0m6.7 1.9h0m4.7-0.9h0m5.4 0.8h0m4.9-2.3h0m9.2 2.2h0m2.7-0.1h0m4.5-0.1h0m80.1-1h0m65.6 1.9h0m40-1h0m-275.3 3.1h0m8.6 0.6h0m28.3 0.5h0m4.8-0.8h0m1-1.8h0m20.1 1.9h0m33.4 1.6h0m8.6-2.5h0m34.4 0.6h0m4.8-0.3h0m24.3 1.3h0m95.9 0.2h0m82.9-1.4h0m-352.7 5.1h0m1.9-1.3h0m4.1 0.4h0m0.6 2h0m2.1-3.9h0m1.3 0.8h0m7.1 1.2h0m4.5-0.4h0m0.1 0.6h0m2.8-0.8h0m3.5 2.3h0m5.4-1.6h0m7 1.5h0m1.6-1.6h0m0.3 0.8h0m16.8-2.2h0m23 2.9h0m84.7-2.1h0m16.7-0.1h0m-189.8 5.5h0m10.9-1.3h0m7.1 1.2h0m2.7-1.1h0m3.7 0.9h0m2.7-2.1h0m1.7 0.1h0m12.7 2.6h0m14.3-1.4h0m2.3 0.2h0m2.9 1.3h0m7.1-0.5h0m11-1.2h0m8.2-0.6h0m30.8 0.5h0m51.5 2.3h0m26.5-1.8h0m23.3 1.1h0m57.2-1.1h0m5.6 1.8h0m12.3-1h0m-292.7 3.7h0m0.3 0h0m3.5 0.2h0m0.1 0.7h0m9.9 0.3h0m5.7-3.3h0m0.8 1.3h0m2.3 2.1h0m1.8 0.2h0m3.4 0h0m5.6-3.6h0m1.6 2.1h0m4.7 0.3h0m2.1-0.5h0m10.1-1h0m7.6-0.6h0m25.2 1.1h0m19 0.3h0m30.5-0.5h0m38.5 0.6h0m76.6 1.1h0m-248 4h0m1.3-2.1h0m2.8 1.1h0m3.1-1.6h0m1.8 1.4h0m1.6-0.8h0m0.5 1.8h0m1.8 0.9h0m4.2-2h0m4.3 1.6h0m3.7-3h0m2.7 0.7h0m9.3 0.3h0m16.5-0.3h0m2.4 2.1h0m4.1-3.1h0m1.9 3h0m4.5-0.3h0m21.1-2.1h0m23.6-0.6h0m44.9 3.8h0m2.7-1.5h0m45.7-0.7h0m137.6 0.5h0m3.1 1.4h0m-335.9 3.8h0m1 0.2h0m2.6-1.4h0m0.2 0.8h0m4.8-1.6h0m0.7 0.9h0m0.9 1.2h0m4.7-0.3h0m6.2-0.1h0m11.4-2h0m5.2-0.8h0m2.3 3.2h0m0.1-1.9h0m12.1 0.7h0m4.3 1.3h0m31.1-0.3h0m16.2 0.6h0m12-3.7h0m10.4 0.8h0m6.6 1.7h0m1.5-2.6h0m20 1.7h0m7.7 1.6h0m38.3-1.4h0m32.6-1.4h0m0.8 2h0m41.8-0.8h0m40.1-0.6h0m-316.3 6.1h0m5 0.3h0m0.6-1.8h0m5.2-0.4h0m0.4 2.2h0m0.4-3.5h0m16.8 2.5h0m1.5-1.6h0m6.9 0.6h0m0.1 0.9h0m0.3 0.3h0m18.9 0.4h0m12.7-0.2h0m16.5-0.1h0m0.3-0.8h0m1.2 0.9h0m12.3-0.9h0m0.9 0h0m30.6-0.5h0m19.3 1.1h0m38.7-2.6h0m11.1 1.1h0m-207.6 3.8h0m1 2.8h0m3.5-1.2h0m13.7-0.5h0m1.4-1.1h0m1.1 0.4h0m0.6 2h0m1.2-2h0m3-0.3h0m2.2 0.5h0m1.3-1.4h0m3.7 3.1h0m1-3.2h0m2.3 1.8h0m15.3-1.8h0m1.1 0.7h0m3.7 2.5h0m8.1 0.6h0m0.4-3.6h0m6.9 1.8h0m7.5-1.8h0m2.4 0.9h0m12.8-0.1h0m15.7-1.1h0m42.4 3.5h0m17 0.4h0m36.7-0.9h0m-204.5 3h0m5.2 1.7h0m1.5-1.4h0m0.2-0.7h0m6.8 2.2h0m1.8-1.7h0m3.2-0.1h0m3.1 1.2h0m3.5-1.6h0m1.8 1.5h0m2-1.4h0m6.1 1.6h0m2.6-0.3h0m5.5 0.2h0m2.9-1.6h0m8.6 1.2h0m2.5-0.8h0m11.6-1.8h0m2 1.6h0m27.5 1.9h0m3.6-3.6h0m7.3 2.2h0m5.5-1.6h0m26.2-0.4h0m3.5 2.7h0m1.6 0.1h0m23.8-2.5h0m1.9 0.1h0m37.2-0.2h0m13.8 2.8h0m2.7-1.6h0m20.6 0.7h0m66.5-2.5h0m-316.6 4.7h0m7.8-0.2h0m4.9 0h0m5.1 3.1h0m0.4-2.7h0m0.4 1.9h0m2-1.8h0m7.7 1.1h0m0.3-1.7h0m2.3 3.1h0m1-1.1h0m5.5 0.9h0m3-1.3h0m5.9-0.2h0m5.6-1.5h0m5.7 0.2h0m12 0.2h0m76.4 1.5h0m62.1-1h0m143.4-1h0m-354.6 5.8h0m6.5-0.7h0m1.6-0.7h0m6.8-0.4h0m1.4 2.7h0m4.2-0.3h0m3.9-2h0m0.4 2.8h0m4-1.9h0m3.2 1h0m8-2.4h0m2.1 2.3h0m2.1-0.4h0m1.3 0.7h0m12.5-2.4h0m6.6 1.8h0m1.2-1.8h0m11 0.3h0m0.5 1.6h0m11.3 0.8h0m8 0.8h0m26.8-3.1h0m32.9 0.3h0m43.2-1h0m-192 6.3h0m4.6-0.5h0m1.7-1.6h0m3.4 3.6h0m0.3-1.3h0m0.5-0.2h0m0.5 0.3h0m6.5 0h0m2.3-0.2h0m2.9-1.3h0m6 2.8h0m0.5-1.9h0m2.1 1.8h0m0.1-0.6h0m1-0.8h0m1.3-0.8h0m1.3 1.3h0m3.4-0.4h0m0.1-0.9h0m0.6 1.7h0m4.9-0.2h0m4-1.9h0m1.1 0h0m5.8 0.2h0m1 1.4h0m4.6-1.3h0m4.5 0.8h0m2.2-1.1h0m6.5-0.7h0m5 2h0m3.9-1.4h0m1.1 0.7h0m5.2 0h0m10.1-0.7h0m13.9-0.5h0m52.2 1.4h0m-170.1 3h0m0.1 1.3h0m4.2 0.8h0m0.8 0.6h0m1.7-2.1h0m5.2 0.1h0m4.8 0.7h0m4.4 0.3h0m0.7 0.1h0m4.7-2.3h0m4.8 2h0m18.2-2.2h0m1.8 2.7h0m5 0h0m3.4-1h0m2.3 0.7h0m2.1-1.9h0m8.1 2.8h0m8.4-0.1h0m1.2 0.4h0m27.8-1.7h0m1.3-0.9h0m0.1 2.7h0m19.8-0.4h0m3.4-2.1h0m6.9-1.3h0m65.1 2.8h0m57.2 0.3h0m85.7-0.3h0m-340.8 1.6h0m1.8 0.4h0m0.3 1.4h0m4.9-2.2h0m2.7 1.8h0m1.8-1.6h0m2.7 3.5h0m4-0.9h0m0.9-2.1h0m0.2-0.6h0m0.1 3.7h0m2-0.7h0m8.9-1h0m0-1.6h0m1.8 1.7h0m3.8 1.3h0m3.2-1.6h0m0.9 0.2h0m0.5-1.7h0m2.8 3h0m4.7-3.2h0m2.8 2.7h0m6.4 0.7h0m3.4-2.6h0m13.3 0.2h0m7.1-1.2h0m0.6 3.5h0m31.6-2.5h0m1.3 2.1h0m0.3 0.3h0m15.6-3.4h0m31.5 0.8h0m26.5 2.8h0m45 0.2h0m0.9-2.4h0m-237.6 6.1h0m1.1-1.3h0m3.2-0.8h0m2.7-1.5h0m2.9 2.3h0m2.6-0.7h0m0.1 0.2h0m1.2-0.5h0m0.8-1.2h0m2.5 0.1h0m2-0.2h0m3.4 0.6h0m0.9 1.3h0m1-0.1h0m0.7-1.9h0m6.1 2.8h0m2-1.8h0m0 2.8h0m9.9-0.1h0m0.2-3.2h0m2.8 0.9h0m2.4 0.4h0m2.2 0.2h0m0.9-1.9h0m1.4 1.6h0m1.6-1.4h0m3 3.3h0m4.5-0.4h0m42.4-2.9h0m15.1 0.1h0m17.3 2.3h0m2.8-0.2h0m49.8-2.4h0m-195.1 4.1h0m6.4 3.1h0m0.6-2.1h0m0.8-0.6h0m2.7 1.5h0m7.5 0.2h0m0.3 1.4h0m1.9-2.9h0m3.5 1.1h0m1.2-1.6h0m1.3 3h0m2.4-0.2h0m5.5-1.3h0m1.3 1.1h0m2.7 0.2h0m1.4-1.4h0m0.1 0.8h0m1.6-2.4h0m0.7 2.2h0m0.5 1.1h0m0.9 0.2h0m9.6-2.7h0m2.8 3.1h0m6-3.2h0m5.7-0.6h0m6.1 0h0m1.2 0.9h0m3.9 2.3h0m5.9-2.7h0m12.2 0.2h0m5.7 1.2h0m15.5-1.9h0m117.6 3h0m69.3-2.6h0m20.5 0.8h0m-324.8 6.3h0m4.5-1.7h0m1 0.3h0m4.2 1h0m1.6-2.2h0m0.5-0.1h0m1.2 0.9h0m2.5-0.3h0m4 1.3h0m0.7-1.4h0m1.3-0.1h0m0.6-0.2h0m0.5 1.3h0m0.1-0.5h0m0.3 1h0m5-1.1h0m0.3 2.1h0m11.7-1.4h0m2.7-1.5h0m3.2-0.8h0m2.1 1.7h0m2 0.6h0m2-2.2h0m3.1 2h0m1.4-0.8h0m3.1 1.5h0m6.7-0.3h0m8.4-0.2h0m9.9 0.7h0m69.6-2.5h0m58.3-0.6h0m46.6 1.9h0m28.4 1.4h0m-285.6 1h0m1.6 0h0m0.5 0.1h0m3 2.9h0m3.9-0.1h0m1.9-2.5h0m1 1.4h0m0.3-0.4h0m0.6-0.9h0m1.8 1.5h0m0.2-0.2h0m1.2-1.9h0m0.2 3.1h0m2.4 0.5h0m0.8-1.3h0m0.9-0.2h0m0.4 0.4h0m1.2-2.4h0m0.9 2.6h0m0.2 0.6h0m3.5-1.8h0m7.2 0.1h0m0.3-1.5h0m0.8 0h0m0.1 0.4h0m0.1 1.8h0m1.7 0h0m1.1-0.1h0m0.7-0.7h0m4.6-1.2h0m2.5 2.4h0m1.3-1.2h0m3.5-1.4h0m10.9 0.7h0m3.6 2.6h0m2.4-0.9h0m1.7-0.7h0m2.9 0.2h0m0.6 1.5h0m0.1-3.5h0m3.1 0.4h0m19 2.1h0m1.9-2.6h0m13.8 0.9h0m11.8-0.7h0m4.7-0.3h0m4.7 0.2h0m0.8 0.9h0m0.5 2.7h0m23.1-1.1h0m58.4 0.4h0m-233 3.6h0m13.4-2.5h0m2.1 2.8h0m8.9-0.7h0m2.9-0.9h0m2.9 1.9h0m4.1-0.2h0m0.4-1h0m0.3 1.4h0m2.2-1.9h0m0-1.4h0m0.2 2.1h0m0.9-0.5h0m1.2-1.8h0m0.9 2.7h0m0-2.8h0m2 3.1h0m0.3-0.9h0m1.8 0h0m0.1-1.9h0m0.4 0.5h0m0.2 0.7h0m3.2 0.8h0m0.8 0.1h0m0.6 1h0m3.4-3.2h0m5.8 0.9h0m0.1-0.6h0m1.4 2h0m0.2 0.5h0m1.2-2.6h0m0.5 1.2h0m1.2 0.1h0m0.8 1.2h0m4.5-1.1h0m2.1 0.4h0m0.3-2.1h0m1 3.3h0m13.3 0h0m5.1-2.5h0m11 0.7h0m5.4 2.2h0m55.8 0.1h0m26.5-1h0m2.8-0.6h0m32.6 0.2h0m2.7-2.2h0m48.3 0.3h0m15.4 1.3h0m25.7 1.5h0m-299.4 0.9h0m0.7 1.3h0m0.3 0.4h0m1.2 1.3h0m1.9-2.3h0m0.2 0.4h0m0.2 0h0m0.9 2.4h0m3-0.9h0m0.7-0.3h0m1-1.1h0m1.9 1.8h0m0.6 0.1h0m0 0h0m1.1-1h0m0 0.4h0m2.7 0.8h0m1.3-3.5h0m0.8 3.6h0m0.2-2.9h0m3.8 0.8h0m1 1.5h0m0.6-1.8h0m0.5 2.3h0m0.1-2.3h0m0.1 2.4h0m1-0.4h0m0.4-0.3h0m0.8-1.6h0m2.5 1.1h0m0.5-2.6h0m0.8 0.7h0m0.4 0.8h0m1.8 2.2h0m1-3.1h0m0.2 0h0m1.4 0.1h0m1.7-0.1h0m0 0.5h0m1.1-0.1h0m1.9 1.5h0m1.3 0.5h0m0.7 0.5h0m0.6-1.1h0m1.9 0.6h0m4.4-2.5h0m1.6 1h0m2.3-1.5h0m3.2 3.9h0m1.4-3.4h0m0.1 1.4h0m5-0.6h0m0.3-0.6h0m4.8-0.6h0m1.8 1.7h0m0.1 1.6h0m0.1-2h0m2.2 1.8h0m9.7-1h0m0.7-2h0m4.2 2.1h0m2.8-0.7h0m7.9 1h0m0.2-0.7h0m18.8 1h0m18.2-0.6h0m1 0.4h0m17.2-0.6h0m97.1 1.4h0m59.2-2.3h0m-313.7 4.5h0m0.7 0.3h0m2.2-0.8h0m3 1.9h0m1.2-0.8h0m0.3-1.6h0m2.3 3.3h0m3.8-0.1h0m4.2-3.5h0m2.8 2.7h0m1.7-3.1h0m0.3 2.8h0m1.2-0.8h0m0.1-0.5h0m0.1-0.8h0m0-0.6h0m0.2 0.5h0m0.6 2.4h0m0.5-2.1h0m0.4 2.9h0m1.2-0.9h0m0.8-0.6h0m1.2-0.5h0m0.8 0.2h0m0.2-1.5h0m1.3 1.2h0m0 1.4h0m1.7-2.1h0m5.9 1.9h0m0.8-0.2h0m0.1-2.6h0m1.9 0.2h0m0.3 1.4h0m0.3 2.2h0m2.1-0.5h0m0.7-2.5h0m0.2-0.5h0m2.1 1h0m1.4 2.3h0m1.2-1.7h0m1.8-0.8h0m3.4 0.1h0m0.1 1.3h0m2.2-1.6h0m4.7 0.7h0m1.4 0.5h0m3.9 1.7h0m1.4 0h0m2.5-3.6h0m5.9 1.8h0m1.5-1.7h0m5.7 2.1h0m1.3-0.6h0m36.3-1.7h0m7.8 1.6h0m3-0.3h0m4.2-0.3h0m100.7 1.2h0m61.6-1.1h0m-304.6 4.8h0m4.4 0.8h0m0.3 0h0m5.3-2.7h0m0.7 0.2h0m0.9 2.3h0m0.6-2.4h0m1.4 0h0m2.7 2.8h0m1.4-1.6h0m1.3 0.5h0m0.8-0.9h0m0 0.5h0m1.9 1.2h0m0.4-1.3h0m0.3-0.5h0m1.8-0.6h0m3.6 2.1h0m2.5 0.1h0m0.7-1.1h0m0.1 1.5h0m0.2-2.5h0m0 0.2h0m1.4 2h0m1.9 0.1h0m0.1-0.5h0m0.2-0.5h0m0.3 1.7h0m0.6-2.5h0m0.4 1h0m0.6-1.4h0m0 1.8h0m0.9 1.1h0m0.8-0.2h0m0.6-1.3h0m0-1.8h0m0.8 3.2h0m1.5 0.3h0m0.7 0h0m0.7-0.2h0m1.5-2.6h0m0.2 1h0m0.3 1.4h0m1.7-0.1h0m3.6-0.5h0m0.4-1.1h0m0.7-1.2h0m5.4 3.2h0m0.7-1.7h0m3.2 1.3h0m2-0.3h0m7.9 0.6h0m1-2.4h0m3.2 1h0m4.4-0.5h0m5.5-0.1h0m16.2-0.4h0m10.7 1.4h0m28.1 0.5h0m1.1 0.2h0m-134.2 3.4h0m6.9-1.3h0m1.7 0.1h0m2.4 1.6h0m0.4-0.3h0m0.3 1.1h0m0.3-1.2h0m0.2 0.4h0m1.1-1.1h0m0.1 1.9h0m0.2 0.1h0m0.6-0.2h0m0.1-2.6h0m0.2-0.5h0m0.2 2.6h0m0.2-2.7h0m0.2 0.7h0m0.4 1.9h0m0.4-0.6h0m0.2 0.8h0m0.3-0.6h0m1.3 0.1h0m0.1-0.6h0m0-0.9h0m0.4 0.6h0m1-1.9h0m0.8 2.7h0m0.1 0.3h0m0.3-0.1h0m0.8-1h0m0.6-1.9h0m1.2 1.3h0m0.7 2.1h0m0.3-0.8h0m0 0.2h0m0-2.5h0m0.4 1.1h0m0.3-0.5h0m0.6-0.7h0m0.6 1.4h0m0.9-0.4h0m0 2h0m1.1-0.4h0m0.1-1.4h0m0 2.3h0m1.5-1h0m0.7-0.3h0m0.6-1.4h0m0.2-1h0m0 3.3h0m1.5 0.2h0m0.2-1h0m0.4 0.6h0m1.5-0.5h0m1.4 0.1h0m1 0.6h0m1-2.5h0m2.3 2.7h0m1-1.1h0m1.1-0.5h0m0.2-1.3h0m1.2 0.5h0m1.1 1.7h0m0.5-0.3h0m2-1.3h0m1.3 1.9h0m0.3-0.6h0m1.5-1.4h0m0.3 1.3h0m1.4 1.2h0m1.2 0.1h0m1.9-0.8h0m0.2-2.6h0m4.6 1.8h0m8.5 1h0m0.1-0.8h0m1.2 1.2h0m1.1-1.6h0m1.7 1h0m1.1-0.8h0m4 1.6h0m0.8-3.5h0m0.9 0h0m0.9 3.4h0m9.1-0.5h0m12.6-2.2h0m48.1-0.8h0m16.9 2.1h0m3.4-2h0m49.2 3.7h0m9.6-2.6h0m24.4-0.9h0m33.1 3h0m-296.5 4.3h0m3.1-0.4h0m8.1-3.2h0m0.5 2.8h0m0.1 0.9h0m2.6-0.3h0m2.4-1.9h0m1.1-0.9h0m0.3-0.3h0m0.1-0.2h0m1 2.9h0m0.5-0.5h0m0.1 0.5h0m0.7 0.7h0m1.1-3.2h0m1.2 0.3h0m0.4 1.1h0m0.1 1.2h0m0.2 0.3h0m0.5-0.2h0m0.5-2.8h0m0.9 1.3h0m1.1 1.8h0m0.5-0.5h0m1-0.2h0m0.8-1h0m0.4 0.6h0m0.3 0.4h0m1.1-2h0m0.4 1h0m0.4 1.5h0m0.9-1.6h0m0.1-0.7h0m0.7 2.2h0m0.4 0.3h0m0.1-1.2h0m0.1-2.3h0m0 3.2h0m0.7-0.4h0m0-0.6h0m0.1-0.4h0m0.1 1.4h0m0.3-1.9h0m0.5-0.5h0m0.3 0.9h0m0-0.2h0m0.5 1.5h0m0.8-1.5h0m1.2 2.2h0m0.3-0.6h0m0.1-1.9h0m0-1h0m0.1 0.8h0m0.2-0.7h0m0.5 0.8h0m0.2-1h0m1.3 3.3h0m0.2-1.9h0m0.3-0.1h0m0.1-0.2h0m0.8 2.5h0m0.5-3.7h0m0.1 0.2h0m0.7 0.9h0m1.2 1.8h0m2.1-1.3h0m0.8 0.9h0m0.8 1.2h0m0.2-0.2h0m0.3-2.4h0m5.6 2.5h0m2.3-0.5h0m1.2-1.3h0m2.1 0h0m1.6-1.8h0m7.2 1.4h0m2.2 2.1h0m4.8-2.8h0m0.6 0.8h0m0.6 0.7h0m0.6-1.9h0m6.5 0.7h0m3.9 0.3h0m2.6-0.7h0m10.3 0.1h0m1.5 1.9h0m0.5-1.2h0m0.3 2.5h0m8.1-1.9h0m17.7 0.1h0m5.9-1.7h0m54.8 3.3h0m18.7-2.6h0m49.9 2.8h0m103-2.5h0m-352.2 6.3h0m3.9-3.1h0m0.9 2.4h0m0.1-2.9h0m1.2 2.9h0m0.1 0.1h0m2.9-3.1h0m0 2.3h0m0.6 0.8h0m0.4-0.7h0m0.9 1.1h0m0.9-1.4h0m0.1-0.7h0m0.8 0.7h0m0.5 1.7h0m0.3-3.3h0m2.3 3.2h0m0-1.3h0m0.1-1h0m0.3-0.6h0m0.8 0.5h0m0.3 0.6h0m0.9 1.6h0m0.2-1.8h0m0.9-0.8h0m0.8 0.2h0m0.1 0.5h0m0.1-0.3h0m0.1 1.2h0m0.2-1.7h0m0.6 1.3h0m0.2-0.9h0m0.3-0.1h0m0.2 1.5h0m0.2 0h0m0.3 1h0m0.4 0.1h0m1.7-2.7h0m0.8-0.1h0m0.4 0.7h0m0.5 1.7h0m1 0h0m0.6-2.9h0m0.4 1.5h0m0.4-1.7h0m0.7 0.9h0m0.4-0.9h0m0.6 0.7h0m1.7 2.5h0m1.3-3h0m1 3.5h0m0.7-2.9h0m0 1.1h0m0.1-1.5h0m0.1-0.5h0m0.3 0.6h0m0.5 2.6h0m1.2-3.2h0m0.3 2.3h0m0.1-0.4h0m0.6-1.7h0m0 3h0m0.4-1.5h0m1.3-0.3h0m1.6 1.9h0m1 0.4h0m0.5 0.1h0m1.9-0.4h0m0.6-1.6h0m1 1.1h0m0.2-1.8h0m1.5 1.4h0m0.2 0.9h0m0.2-3.4h0m2.7 2h0m0.4-1.6h0m0.4 1.6h0m1.4-1.8h0m0.5 1.9h0m2.6 0.1h0m2.4 0.8h0m3.2-1.8h0m1.6 2.6h0m1-3.6h0m0.2 1.3h0m0.7 2h0m8.4-1.8h0m5-1.8h0m2.3 1.6h0m3-0.7h0m3.4 1.3h0m2.2-1.5h0m0.1 0.3h0m11.5 1.1h0m4.6 0.2h0m2.8-1.7h0m2.8 2.9h0m21.5-1.9h0m242.1 1.3h0m-378.7 1.7h0m5.9 2.1h0m1.1 0.5h0m0.7-2.3h0m1.4 2.1h0m1.1 0h0m0-0.8h0m0.2-2.2h0m0.3 1.9h0m0.3-1h0m0.5 2.8h0m0.3-2.4h0m0.9 0.1h0m0.8-1.5h0m1.1 2.9h0m0-2h0m0.5-0.1h0m0.3 2.1h0m0.9 0.1h0m0.3 0h0m0.6-2h0m0 1h0m0.3 0.2h0m0.1-0.2h0m0.5-0.6h0m0.2 1.6h0m0.3-2.8h0m0.3 0.3h0m1 1.4h0m0.1 1.9h0m0.8-1.9h0m0.2-1.1h0m0.6 1.2h0m0.1 1.4h0m0.3-2.9h0m0.7 0.6h0m0.5 1.1h0m0.9 0.1h0m0.3-0.8h0m0.3 0.3h0m1.4 0.8h0m0.4 1.3h0m1.4-3.1h0m0.5 3h0m1-0.5h0m0-0.9h0m2.1-1.8h0m0.1 3.3h0m0.1-3.8h0m0.3 0.9h0m0.2 2.4h0m0.6-0.8h0m0.8-1.3h0m0.4 1.5h0m0.2-0.3h0m0.4-0.6h0m0.7 0.2h0m0.1 1.5h0m0-0.7h0m0.2 0.9h0m0.5-1.4h0m0.1-1.3h0m0.5 2h0m0.9-0.1h0m1.1-2.6h0m0.1 2.4h0m0.3-1.7h0m0 0.1h0m0.8-0.6h0m0.6 2.9h0m0.2-1.7h0m0.1 0.7h0m0.2-0.1h0m0.8 0.9h0m0.4-1.5h0m1.2 0.1h0m0.9-0.2h0m1.4 1.1h0m0-1h0m0.3 0h0m0.1 1.3h0m0-1.5h0m0.1 0.9h0m0.4-2.4h0m0 0.7h0m1 2.1h0m0.8-2.7h0m0.2 0.7h0m2.1 2.2h0m0.2 0.4h0m0.5-3.4h0m0.6 1.1h0m1.5-1.1h0m0.2 0.5h0m2.7-0.4h0m2.8 0.3h0m1.1 1.5h0m0.5 1.6h0m1 0.3h0m6.3-0.1h0m3.5-3h0m1.6-0.1h0m1.4 2.4h0m3.9 0.5h0m3.6-2.1h0m3.5 1.3h0m3.9-1.4h0m3.1 0.8h0m8.8-1.2h0m14.7-0.4h0m5.1 0.8h0m85.7 0.8h0m33.8-2h0m3.8 2.3h0m30.8 0.2h0m102.4-1.5h0m-368 4h0m2.5 2.2h0m0.4-1.8h0m2.2-0.2h0m0.4 1.6h0m1-1.6h0m1.7-0.7h0m3 0.2h0m0.2 0h0m0.3 2.8h0m0.1 0.1h0m0.3-2.4h0m0.6 1.7h0m0 0.7h0m0.1-1.5h0m0-0.5h0m0.7 1.9h0m0.8-2.5h0m0.2-0.5h0m0.9 1h0m0.3 1.3h0m0.3-1.7h0m0.1 0.2h0m0.2-0.5h0m0.3-0.3h0m0.2 1.8h0m0.2 0.3h0m0.7-2.7h0m0.2 0.7h0m0.2-0.2h0m0 0h0m0.2 1.5h0m0.2-1.2h0m0.3 1.9h0m0.7-2.6h0m0.4 2h0m0.1 0.5h0m1.6 0.1h0m1.6-1.9h0m0.1 2.5h0m0-2.9h0m0.2 0.3h0m0.1 3.1h0m0.1-1.3h0m0.8-1.6h0m0.3-0.9h0m0.3 3.3h0m0.1-2.3h0m0.6 2.4h0m0.3-0.4h0m0.2-0.4h0m1.5 0.3h0m0.2-2.1h0m1.3 2.7h0m0.1-3.4h0m0.1 2.2h0m0.1 0.1h0m0.8-0.2h0m0.2 0.4h0m0.3-0.3h0m0.4-0.1h0m0.1-1.1h0m0.8 1.4h0m0.8-2.6h0m1.4 0.3h0m0.8 1.2h0m0.9-0.2h0m0-1h0m1.2 2h0m1.3-1.4h0m0.9 3h0m1.6-0.7h0m3-0.6h0m0.1 0.3h0m0.5-1.8h0m0.6 0.4h0m3.2-0.6h0m0.3 2.1h0m0.7 0.7h0m0.3-2.5h0m1.2 0.8h0m0.3 1.1h0m2.4-1.5h0m2.3 0h0m0.4-1.3h0m3.2 0.1h0m0.8 0h0m3.4 2.3h0m25.3 0h0m12.8-0.7h0m2.3 1.2h0m102.3-0.8h0m5.1 1.5h0m69.7-3.5h0m0.2 0.2h0m3.8 0.8h0m55.4-1.4h0m-352.9 7.6h0m3.8-2.2h0m0.3 0.6h0m3.4-0.9h0m5.2-0.2h0m0.2-0.6h0m1.3 1.2h0m0.4-0.1h0m0.4 1.1h0m1.4 1.3h0m1.1-1.3h0m0.1-2.3h0m0.1 3.6h0m0.9-3.5h0m0.7 2.9h0m0.1 0.5h0m0.2-2.6h0m0.2 0.3h0m0.1 0.2h0m0 0.1h0m0.1 0.5h0m0-0.5h0m0.3 0h0m0.6 1.2h0m0.2-1.9h0m0.8 2.5h0m0.5-1.7h0m0.2 1.9h0m0.6-0.4h0m0.6-3h0m0.1-0.1h0m0.1 0.1h0m1.2-0.2h0m0.2 3.1h0m0.2-0.1h0m0-0.3h0m0.4 1h0m0.2-1.1h0m0.3-2h0m0 1.1h0m0.2-1h0m0.2 3.1h0m0.2-1.9h0m0.1 1.5h0m0.2-1.8h0m0.2 0.3h0m0.4-2h0m0.9 1.3h0m0.2-0.6h0m0.1-0.6h0m0.3 1.8h0m0.5-0.2h0m0 1.2h0m0.1-2h0m0.1-0.8h0m0.1 1.3h0m0.3 1.4h0m0-1.4h0m0.5 1.7h0m0.2-0.4h0m0.5 1.2h0m0.1-2.3h0m0.3 2h0m0.1-3.5h0m0.4 3.5h0m0.1-3.5h0m0.5 2.2h0m0.8-0.9h0m0 1.5h0m0.2-0.1h0m0.1 0.9h0m0.3-0.4h0m1.1-1.1h0m0.5-0.5h0m0.1-1.5h0m0.5 1.8h0m0.2 0.5h0m2 0.1h0m1.2-0.2h0m0.1 1h0m0.4-3.1h0m0.1 0.6h0m0.5 2.3h0m0.4-0.2h0m0.5-0.5h0m0 0.3h0m0.4-1h0m0.5-0.7h0m1.7 0.7h0m0-0.5h0m1.4 1.3h0m0.7 0.2h0m0.8-0.9h0m2.1-0.5h0m0.9-1.3h0m0.6 3.8h0m0.2-3.2h0m0.1 2.2h0m0.2 0.5h0m0.4-3h0m0.2 2.9h0m0.2-1.8h0m0.6 0.6h0m0.3-1.2h0m0 1.6h0m0.1-2.1h0m1 2.8h0m0.1-2h0m0.9 2.6h0m1-2h0m0.2 1.4h0m0.2-2.4h0m1 0.4h0m0 0.4h0m0.6 0.7h0m0.3-1.3h0m1.4 1.7h0m1.8-1.9h0m1.3 1.3h0m0 0.5h0m0.1-0.2h0m5.6 0.6h0m6.5-1.2h0m0.8 1.6h0m2.1 0h0m2.3-0.5h0m4.4-1.8h0m9-0.6h0m1 0.6h0m2.5-0.3h0m1.4-0.2h0m9.5 2.4h0m2.1-0.1h0m8.4-0.3h0m3.2 0.3h0m5.3-0.6h0m3.6-0.9h0m43.8-0.5h0m-172.3 5.2h0m0.3 0.6h0m2.3-0.7h0m2.7 0.9h0m0-1h0m0.7-1.7h0m1 0.5h0m0 1.6h0m0.6 0.6h0m0.2 0.7h0m0.2 0.4h0m0.1 0h0m0.6-0.5h0m0.8-0.4h0m0.5 0.4h0m0.2-2.4h0m1.4-1.1h0m0.5 2.5h0m0.2 0.9h0m1.3-1.5h0m0-1.9h0m0.3 2.6h0m1.3 1.2h0m0.2-2.9h0m0.2 0.3h0m1.4 0.5h0m0.2 1.2h0m1.3 1.1h0m0.2-0.1h0m2.1-1.7h0m0.4 0.7h0m0.1-0.7h0m0.2 1.5h0m0.2-2.9h0m0.1 0.3h0m0.4 2.6h0m1.8-0.6h0m0.3-0.8h0m0.2 1.1h0m0.5-3.4h0m0.1 0.7h0m1.7 0.5h0m0.1 2.4h0m1-3.3h0m0.3 0h0m0.2 2.6h0m1.3-0.1h0m1.1-2h0m0.9-0.5h0m0.2 0.5h0m0.4 1.7h0m0.5-1.6h0m0 1h0m0.3 1.3h0m0.2-0.3h0m0.2-1h0m0-1.8h0m0.5 0.8h0m0.2 0.7h0m0.1-0.9h0m0 1.7h0m0.4-1.5h0m0.2 2.5h0m0.1-0.6h0m0 0.9h0m0.1-0.9h0m0.6-2.3h0m0.4 2.1h0m0.1-0.3h0m0.3 1.7h0m0.4-4h0m0.4 0.4h0m0.4 2.8h0m0.2 0.2h0m2 0.1h0m0.2 0h0m0-2h0m0.1 0.3h0m1-1.2h0m1.3 1.6h0m0.1 1.5h0m0-2.7h0m0.3 0.1h0m0.6 2.4h0m0.6-3.2h0m0.1 2.2h0m0 0h0m0.1 0.4h0m0.2 0.5h0m0.6-0.2h0m0.4-1h0m0.5 1.7h0m0.4-0.5h0m1.1-1.8h0m0.8 1.5h0m0.8-2h0m1.9 0.7h0m4.5-0.8h0m0.2 0h0m1.9 0.2h0m0.1 0.4h0m1.9 1.2h0m2.2-0.6h0m2.4-0.5h0m0.3-1.6h0m1.3 2.6h0m3.9 1.2h0m2.2-3.4h0m1.8 0.1h0m1.7 1h0m1-1.1h0m1.9 1.5h0m0.4 0h0m5.5 0.8h0m3.2 0.2h0m2.9-2.5h0m12 0.2h0m0.7 2h0m1.1-1.4h0m18 2.3h0m6.7-0.3h0m54.5-0.5h0m46.6-1.8h0m3.3-0.8h0m136.6-0.1h0m-364.6 6.6h0m1.6 0h0m0.2 0.4h0m2.6-0.4h0m1.1 1.2h0m0.3-2.5h0m0.5 0.6h0m0.8-0.6h0m0.4 1.5h0m0.1-1.2h0m0.2-0.8h0m0.1 1.1h0m0.4 0.4h0m0.2-1.4h0m1.1 1.1h0m0.1-0.2h0m0.1 1.3h0m0.2-1h0m0.3 0.4h0m0.9 0.7h0m0.4 0h0m0.8-2h0m0 2.4h0m0.2-1.2h0m0-0.4h0m0.4-0.5h0m0.1-1h0m0.3 2.3h0m0.2 0.7h0m0.3-3.2h0m0.1 1.2h0m0.1-0.1h0m0.9-0.4h0m0-0.5h0m0.1 1.4h0m0 0.2h0m0.4-2h0m0.4 3.2h0m0.7-2.7h0m0.2 1.6h0m0.2-1.3h0m0.9 2.9h0m0.1-3.3h0m0.2 0.3h0m0.1 0.9h0m0.3 0.4h0m0.2-0.8h0m0.6 2.5h0m2.3-2.3h0m0.1 1.5h0m0-2h0m0.1 2.4h0m0.1 0.4h0m0-1.4h0m0.6-2.1h0m0 2.3h0m0.1-0.2h0m0.1-1.4h0m0-0.1h0m0.1-0.2h0m0.3 1.6h0m0.2 1.5h0m0.4-3.8h0m0.5 1.6h0m0.4 1.6h0m0.3-2.7h0m0.5 0h0m0.6 0.4h0m0.2-0.6h0m0 3.4h0m0.1-1.1h0m0.4-1.7h0m0.4 1.2h0m0.2-2h0m0.3 0.2h0m1 2.7h0m0.1-3h0m0.5 2.8h0m0.6-0.3h0m0.7-1.8h0m0.7 2.2h0m1.7-2.1h0m1.3 1h0m0-1.2h0m0.1 2.1h0m0.6 0.1h0m0.2-1.3h0m0.2 2h0m0.6-1.1h0m0.1-2h0m0.6 1.5h0m0.2 1.9h0m0-2.3h0m0.2-0.7h0m1.3 2.3h0m1.2-0.4h0m0.4-1.2h0m0.9-1.3h0m0 3.4h0m1.1-1.5h0m0.5 0.3h0m0.1-1h0m0.1-0.7h0m0.6 0.5h0m0.7 0h0m0.3 0.3h0m0.6 0.9h0m0.2 1.1h0m2-1.3h0m0.4 0.3h0m0.1-0.9h0m0.2 1.7h0m0-0.8h0m0.3 1h0m0-1.1h0m0.2 1h0m0.2 0.1h0m0.9-1.9h0m0.2 1.5h0m2.5-0.5h0m0-1h0m0.6-1.2h0m2.2 0h0m1.7-0.4h0m2.4 3.9h0m0.7-1.5h0m1-1h0m3.3-0.6h0m1.8 2.1h0m0.2 0.8h0m7.8-1.7h0m3.6 1.6h0m10.2-1.8h0m10.8-0.8h0m25 0.9h0m12.7-0.7h0m39.3 0.4h0m14.7 2.1h0m-199.9 3.4h0m0.4-0.9h0m0 1.1h0m3.1-1.2h0m7.7-1.1h0m0.9 2.5h0m0.3-3.6h0m0.7 2h0m1.1 1.3h0m1.4-3.2h0m0.5 0.7h0m0.2 1.5h0m0.1 1.3h0m0.4-1.6h0m0 1h0m0.2 0h0m0.8-1.5h0m1.1-0.8h0m0 0.2h0m0.1 2.6h0m0.7-0.5h0m0.2-1h0m0.3 0.7h0m0.1-2.7h0m0 2.1h0m0.1 1h0m0 0.5h0m0.3-0.8h0m0.3 0.7h0m1-1.2h0m0.6 0.5h0m0.1 0.1h0m0.1-2.3h0m1 0.2h0m0.3 0.4h0m0.8 0.7h0m0-1.8h0m0.4 0.5h0m0.1-0.6h0m0.2 2.6h0m0.1-2.4h0m0.7 2.5h0m1.6 0.9h0m0.5-1.7h0m0-0.4h0m0.3-1.4h0m0.1 0.6h0m0.7 0.2h0m0.1 1.4h0m0.6-0.2h0m0.3 0.2h0m0 1h0m1.2-2.5h0m0.2-0.8h0m0.4 3.7h0m1.2 0h0m0.3-2.8h0m0.7 2.5h0m0.4-2.2h0m0.1 1.8h0m0.6-1.7h0m0.4 2h0m0.4-2.5h0m0.4-0.2h0m2.1 0.8h0m0.8 0.3h0m0.5-1.3h0m0.2 1.6h0m0.2-1.7h0m0.8 1.9h0m0.2 0.8h0m0 0h0m0.4-0.1h0m0.3-0.9h0m0.1-0.3h0m0.4-0.5h0m0.1-0.6h0m0.5 0.2h0m0.2 3.1h0m0.6-3.7h0m0.8 1.3h0m0.2 0.4h0m0.8 0.1h0m0.4-0.8h0m0.5-0.7h0m2.6 1.2h0m0 0.4h0m0.3-0.3h0m0.3 1.7h0m0.5-2.5h0m0.2-0.8h0m0.3 0.4h0m0.9 1.3h0m0.6 1.3h0m0.4-2.9h0m0.6 3.3h0m0.1-1.1h0m0.3-1.1h0m0.6 0.1h0m0.4-1.3h0m1 0.8h0m0.8 0.4h0m1.9 1.1h0m0.2-2.4h0m1.8 2.7h0m0.6-1h0m0.6 1.3h0m0.2-1.1h0m0.1 0.7h0m1.7-1.1h0m0.4 1h0m2.1-0.1h0m0.2-1.5h0m0.4 1.9h0m0.6-2h0m1.1-0.1h0m1.5 1.2h0m0.9 0.3h0m1.2 0.7h0m0-1h0m1.2 0.3h0m0.5-2h0m0.4 0.7h0m4.4-0.3h0m1.6 0.7h0m1.8 0.9h0m6.6-1.4h0m1.3 2.3h0m1.6-3h0m0.8 0.7h0m5.6-0.8h0m2.1 0.4h0m3.7 0.8h0m1-0.3h0m1.3 0.6h0m3.1-1.3h0m6.3 3h0m9.6-2.5h0m10.2-0.1h0m27.5 0.5h0m0.5-0.9h0m0.1 0.5h0m45.5 2h0m79.7 1h0m-287.7 3.2h0m5.8-2.8h0m2.6 1.7h0m0.1-0.9h0m0.2 0.6h0m2 0.4h0m0.5-0.6h0m0.6 0.8h0m0.9 1h0m0.5 0.2h0m0.5-3.2h0m0.1 2.9h0m1.6-0.8h0m1.1 0.1h0m0.2 1.2h0m0.6-2.5h0m0.4 2.2h0m0.5-0.8h0m1.6-2h0m0.7 2.2h0m0.5-0.6h0m0.5-0.5h0m0.1 2.3h0m1-3.7h0m0.3 0.6h0m0.6 2h0m1.1-2.8h0m0.4 1.6h0m0.1 2.3h0m0-1.3h0m0.3-0.9h0m0-0.8h0m0 1.5h0m1.1 1.4h0m0.7-3.2h0m0.2-0.4h0m0.2 0.6h0m0.1 2.5h0m0.5-0.9h0m0.4 0.3h0m0.4 0.3h0m0.5 0.6h0m0.4-1.4h0m0.1-2.1h0m1.2 3.1h0m0.6-0.7h0m0.2 0.7h0m0.6-3h0m0.8 2.3h0m0.4-0.3h0m0.1 1h0m0.4 0.6h0m0.1-3.3h0m0.1 2.7h0m0.4-0.2h0m0.6-2h0m0.4-0.7h0m0.4 2h0m0.1-0.5h0m0.5 1h0m0 1.2h0m0.8-0.6h0m0.1-3.2h0m0.3 0.5h0m0.2 1.2h0m0.5-1.8h0m0.3 3.8h0m0.5-1.2h0m1.3 0.5h0m1.1-0.6h0m0.2 0.1h0m0.2-1.6h0m0.1 2.9h0m0.5-0.7h0m0.3-3.1h0m0.5 2.3h0m0.4-1.9h0m1.1-0.1h0m1.3 0.7h0m0.9 2.6h0m0.1-3.1h0m0.2 1.4h0m0.4-0.1h0m0.2 0.9h0m0.3 0.1h0m0-1.2h0m0.4 1.4h0m1.4-2.6h0m2.8 2.4h0m0.2 0.5h0m1.5-0.2h0m1.2-0.2h0m1.4 0.6h0m0.4-1.3h0m0.3 0.3h0m1.4 1.3h0m2.5-1.4h0m0.3-2.1h0m1.1 1.3h0m0.4-0.1h0m1.1 0.3h0m1-1.4h0m0.5-0.4h0m0.5 2.8h0m2.1-2.2h0m1.9 3h0m0.6-0.1h0m0.5-0.8h0m4.4 0.2h0m1.1-1.7h0m0.7-1.1h0m1.6 1.1h0m1.8-1.1h0m1.1 0.8h0m1.7 2.6h0m2.3-1h0m3.1-2.5h0m3.6 2.2h0m18.1 0.7h0m1.1-2.6h0m4.8 1h0m4.3 2.1h0m49.4-2.5h0m48.9-0.8h0m-218.1 4.1h0m4 1.1h0m1.3-0.8h0m0.9 0h0m2.4 2.1h0m0.3-0.5h0m1.4-0.3h0m0.5-0.4h0m1 0.4h0m0.1-1h0m0.2 1.7h0m0-1.7h0m2.3 1.9h0m0.3-2h0m1.1 1.2h0m0.8-0.1h0m0.9-0.1h0m0.5-1h0m1 0.1h0m1 1.4h0m0.3 0.7h0m0.5-2.9h0m0.1 1.3h0m0.9-0.7h0m0 0.6h0m0.1-1.1h0m0.2 2.9h0m0-0.9h0m0.3 0h0m0.3 1h0m0-0.5h0m0.9-2.7h0m0.6 3.6h0m0.3 0.1h0m0.1-1h0m1.1-0.5h0m1.4-1.5h0m0.4 0.7h0m0.3-0.7h0m0.6 0.4h0m0.2 1.4h0m0.4 0.1h0m0.3 0.3h0m0.2-2.3h0m0.1 2.8h0m0.1-1.7h0m0 2h0m0.5-1.1h0m0.5 0.7h0m0.2-3.4h0m1.3 3.3h0m0.1 0.3h0m0-2.9h0m0.2 0.2h0m0.1 0.2h0m0.3 0.4h0m0.8 1.9h0m0.1-1.8h0m0.2 0h0m2.2-1.3h0m0.4 1.1h0m0.7 0.6h0m1.6-1.7h0m0.7 1.7h0m0.7-0.2h0m0.5-0.5h0m0.8 2.2h0m0.2-1.1h0m0.4 0.8h0m0.5 0.3h0m0.4-0.1h0m0.8-0.2h0m0-2.3h0m0.9 0.7h0m0.6-1.5h0m0.4 0.5h0m0.6 1.2h0m0.8-0.7h0m1.8 0.8h0m0.3-0.5h0m0.2 0.7h0m0.8-0.2h0m0.1-1.1h0m0.1-0.5h0m0.9 2.2h0m0.1-1.1h0m0.2 1.8h0m1.8-1.9h0m1.2 2.1h0m0.9-2.4h0m1.2 1.1h0m0.6-1.8h0m0.1 2.2h0m1.3-0.2h0m1.6-1.4h0m1.6 3h0m3.3-1.1h0m0.2-2.4h0m0.4 1.2h0m2.7 1.2h0m1.5-1.1h0m0.5 1.1h0m1.4-0.8h0m2 0.3h0m1.5-0.4h0m1.4 0.4h0m0.7-1.9h0m0.3 3h0m9.8-0.6h0m1.1-0.3h0m5.9-0.2h0m1.6-1.2h0m1-0.5h0m1.6 0h0m0.1 0.7h0m2.1-0.7h0m6.5 1.2h0m13.5-1.5h0m11.3 3.6h0m7.1-1h0m37.7-0.9h0m0.4-1.9h0m-170.7 6.8h0m0.4-2h0m0.6 2.8h0m1.3-1.6h0m0.5 1.6h0m0.9-2.1h0m1.6 1.2h0m1.9 0.7h0m0.6-3.5h0m0.7 3h0m0.5-2.1h0m0.2 1.7h0m0.2-0.3h0m0.4 0.3h0m1-2.3h0m1.1-0.1h0m0-0.1h0m0.2 3.1h0m0.2-2.6h0m0.5 0.1h0m0 1h0m1.7 1.1h0m1.2-1h0m0.6-0.8h0m0.2 1.5h0m0.8 0h0m0.1-1.4h0m1.7 2.6h0m1-2h0m1.2 1.5h0m0.1-3.2h0m0.2 1.6h0m0.5-0.4h0m0.3-0.5h0m0.5 2.4h0m0.3-2.9h0m0.5 3h0m0.1-0.7h0m1-2.4h0m0.8 3.1h0m0.4-1.7h0m0.6 2.3h0m0-2.4h0m0.2 2.6h0m0.4-1.1h0m0.9 0.8h0m0.1-2h0m0.1-0.2h0m0.2-0.3h0m0.2-0.2h0m0.7 2.8h0m0.1-3.8h0m0.6 0.3h0m0.1 1.7h0m0.2 0.9h0m0.1-2.4h0m0.6 2.6h0m1.1-2.3h0m0.1-0.3h0m0.4 3.4h0m0.3-2.8h0m1.3 2.6h0m0.2-0.5h0m0.2-0.4h0m1.1-1.6h0m1.2 0.2h0m1 0.3h0m0.1 1.1h0m0.2-0.4h0m0-1h0m0.3 0.4h0m0.6 1.7h0m0.4-2.1h0m2.6-1h0m2.5 0.2h0m0.3 1.7h0m0.6 1.3h0m0.1-3.5h0m1.4 2.9h0m0.5-0.5h0m0.3 0.6h0m1.7-2.5h0m1 3.1h0m1.6-1.4h0m0.4 1.6h0m1.2-1.5h0m1.8-1h0m8.3 0.5h0m0.3 2h0m1.6-0.9h0m12.1-0.2h0m0.6-1.6h0m1.3 2.6h0m6.2-2.4h0m1.6 0.8h0m20.9 1.5h0m7.1-0.1h0m8.9 0.3h0m1-2.8h0m23.9 2.4h0m14.2-1.3h0m2.2 0.1h0m18.3-1.7h0m175.3-0.4h0m-358 7.7h0m0.7-1.6h0m2.2 1.5h0m1.9-1h0m0.7-0.4h0m0.5-1h0m0.1-0.1h0m0.2-0.9h0m0.3-0.2h0m0.5-0.2h0m0.3 2.5h0m0.1 1.3h0m1.3 0.1h0m0.9-3h0m0.5 2h0m0 0.2h0m0.6-0.5h0m0.1-2h0m0.1 2.1h0m0.5 0.7h0m1.9-3.2h0m0.3 0.5h0m1 0.8h0m0.1 0.7h0m0.2 0.8h0m0.4-0.7h0m0-0.2h0m0.7 1.8h0m0.3-0.4h0m0.6-3h0m0.1 2.6h0m1.1-2.9h0m0.1 0.9h0m0.5 2.7h0m0.2-1.4h0m0.1-2.3h0m2.2 2.5h0m0.1 0.9h0m1-2.5h0m1 0.7h0m0 0.9h0m0-2.5h0m0.5 3.4h0m0.3-3.3h0m0.4 3.1h0m0.9-1.5h0m0.1-1.6h0m0.2 0.1h0m0.6 2.1h0m0.4 1.2h0m0-1.9h0m0.6-1.1h0m1.7 1.8h0m0.3-1.6h0m0.1 2.4h0m0.2-0.9h0m0.9-1.6h0m0.1 2.5h0m0.2-3h0m0.1 1.3h0m0.8-1.1h0m1.9 3h0m0.1-3h0m0.1 3h0m1.8-0.1h0m0.1-0.8h0m0.4-1.7h0m0.1 2.5h0m0.7 0.2h0m0.4-0.9h0m0.2-0.6h0m0.8 1.3h0m1-1h0m4.4 1.3h0m1.4 0.3h0m1.3-0.1h0m7.1-1.5h0m0.9 0.2h0m2.4 0.5h0m0.8-1.3h0m3 0.5h0m1.2-1.2h0m9-0.9h0m0.8 3.5h0m4.6-2.7h0m4.5-0.6h0m5.8 2.7h0m30.3-0.2h0m10.3-0.2h0m26.8 0.8h0m77.2-0.8h0m-254.5 4.7h0m19.8-3.3h0m4.6 2.1h0m0.4 1.5h0m0.7-2.4h0m1.9-0.2h0m0.4-0.6h0m1.4 3.2h0m0.1-0.9h0m1.3 0h0m0.3-2.6h0m0.5 1.9h0m0.8-1.5h0m0.6 3h0m0.4-3h0m0 0.4h0m0.2 1.8h0m0.3-2.1h0m0.4 2h0m0.3 1.2h0m0.7-0.8h0m0.1-0.3h0m0.5-0.5h0m0.1 0.6h0m0-0.2h0m0.4-1.8h0m0.1 2.8h0m1.7-0.7h0m0 1.1h0m0.3-2.6h0m0.1 2.4h0m0.8-0.5h0m0-2.3h0m0 3h0m0.3-2.2h0m0.6-0.3h0m0.5 1.5h0m1-1.4h0m0.6 1.1h0m0.5-1.6h0m0.1 0.1h0m0.1-0.6h0m0.2 2.8h0m0.1-0.9h0m0 0.8h0m0.3-0.1h0m0.2-0.4h0m0.5-2.5h0m0.2 2.2h0m2.2-1.3h0m0.3-0.1h0m0.6 0.9h0m0 1.8h0m0.3-3h0m1.5 3.1h0m0.1-3.5h0m0.8 2.5h0m0.3 0.6h0m0.1-3.4h0m0.7 1.2h0m1.2 1.4h0m3.1-1.7h0m1.5 2.5h0m0.5-2.7h0m0.6 1.8h0m0.3-2.5h0m0.8 2.6h0m0.3-0.3h0m0.1-2.4h0m1.1 0.2h0m0.1 3.2h0m0.3-1.2h0m0-1.3h0m0.2 1h0m1.4-0.8h0m0.1-0.2h0m0.6 2.7h0m2.2-2.8h0m1.1 1.6h0m2.9-1.3h0m0.1 0.4h0m0.4-0.2h0m0.2-0.7h0m2.8 1.9h0m1.4 1.2h0m1-1.3h0m0.6-1.3h0m0.3-0.8h0m0.7 1h0m1.5-0.9h0m2.2 0.3h0m0.9 0h0m1.6-0.2h0m0.1 1.7h0m7-0.8h0m1.4 0.5h0m0.7-1.5h0m6.6 2.8h0m6.8-2.4h0m6.7 2.1h0m0.6-1.4h0m1.4 1.7h0m10.2-0.9h0m12.3 1.6h0m22.6-3.3h0m9.6 0.6h0m13.3 0.9h0m12.4 1.5h0m30.2-2h0m46.8 0.3h0m-254.4 5h0m0.4-1.8h0m5.1 2.5h0m1.4-0.3h0m0.1-2h0m0.5 1h0m0.6-1.8h0m0 0.6h0m0.1 1.9h0m0.3-1.4h0m0-1.3h0m0.4-0.2h0m0.5 2.8h0m0.7-2h0m0.3 1.8h0m0.7-1.4h0m0.4-0.8h0m0.5 1.2h0m0.4 1.5h0m1.4-2.1h0m0 2.4h0m2.6-0.1h0m0.1 0.4h0m0.2 0h0m1.1-1.7h0m0.1-0.8h0m0.5 0.9h0m0.4-0.6h0m0.6 0.1h0m0 2.1h0m0.7-0.4h0m0.7-3h0m0.9 0.9h0m1.5 1.5h0m0.6-1.1h0m0.6-1.6h0m0.7 1.3h0m0.1 2.4h0m1.3-3.7h0m0.2 1h0m0.7-0.7h0m0.3 1.1h0m0.3 0.5h0m0.1-1.1h0m0.9 1.3h0m0.1-1.4h0m1.2-0.3h0m0.2 2h0m0.1 1.4h0m0.1-0.7h0m0.2-0.9h0m0.3 0.9h0m0.6-2.9h0m1.1-0.2h0m0.5 0.3h0m0.9 3.6h0m0.7-1.9h0m0.1 1.4h0m0.3-1.9h0m0.8-0.8h0m0.1 2.5h0m0.6 0.3h0m0.2 0.3h0m0-0.8h0m0.1-2h0m0.5 0.8h0m0 0.3h0m0.5-0.2h0m0 0h0m1.4 0.6h0m0.7-1.8h0m0.2-0.6h0m2.9 1.5h0m0.1-0.2h0m2.4 1.7h0m0.7-1.1h0m0.4-0.5h0m0.8 1.4h0m1.3-0.3h0m2.1-1.5h0m1.5 1.2h0m0.2-0.3h0m1.1 1.7h0m0.2-2.5h0m0.2 1.3h0m0.5-1.4h0m0.5 1.1h0m4.1-1.5h0m2 3h0m0.5-3.5h0m0.5 1.8h0m0.2 1.5h0m0.3-2.9h0m0.5 2.4h0m0.8-1.1h0m1.6-2h0m1.2 1.7h0m0.9 1.6h0m1.1-2.4h0m2 2.1h0m2.7-0.4h0m1.2-1.4h0m3.5-0.5h0m0.4 2.3h0m4.1 0.5h0m0.6-2.2h0m7.1 0h0m0.4-1.2h0m0.3 2.9h0m1.1-1.7h0m14-0.6h0m3.4 0.6h0m14.6 2.6h0m2.1-2.2h0m3.7 0.7h0m4.2-2.3h0m205.1 2.3h0m-331.9 2.4h0m1.5-0.7h0m1.2 0.4h0m0.1 1.3h0m1.2 0.4h0m0.6 1h0m1.3-2.9h0m0.4-0.2h0m1.9 0h0m0.3 2.3h0m0.2-0.8h0m0.1 0h0m0 1.9h0m0.2-2.3h0m1.6-0.4h0m0.7 2h0m0 0.9h0m0.4-0.4h0m1.5-2.5h0m0.5 1.8h0m0.2-1.8h0m0.6 0.2h0m2.7 1.7h0m0.3 0.7h0m0.2-2.1h0m0.2 1.4h0m0 0.3h0m0.4-1.6h0m0.6 1.4h0m0.4-0.1h0m2 1.2h0m0.3-2h0m0.3 1.6h0m1-1.8h0m0.4 1.9h0m0.1-2.3h0m0.5-0.5h0m0 2.2h0m0.3 0.3h0m2.7-2.1h0m0.2 2.8h0m2.8-0.5h0m0.5-1h0m1-1.3h0m0.4 1.6h0m0.2-2.8h0m0 3.6h0m0.2-3.5h0m0.3 2.7h0m0.1-1.1h0m0.6-0.1h0m0.7 1h0m1.5-1.3h0m0.5 1.2h0m1.2 1.2h0m0.5 0.2h0m0.1-1.1h0m1.2 1h0m1.7-0.6h0m0.1-1.8h0m1.4 1.2h0m0 0.6h0m0.4-2.5h0m2.6 1.1h0m0.3-1.4h0m1.9 2.9h0m0.8 0.2h0m0.6 0.1h0m3.8-2.6h0m0.5 2.9h0m3.1-2.6h0m0.3 0.9h0m0.1-0.5h0m0.8-1.1h0m1.3 2.2h0m0.6 0.5h0m1.2 0.3h0m4.7-1.6h0m3.6-0.6h0m0.8-0.8h0m4.6 1h0m1.3-0.8h0m0.4 1.6h0m3.6-1.4h0m0.1 0.2h0m2.9 1.8h0m1.5-0.8h0m0.5-1.3h0m1.1-0.2h0m0.2 1.4h0m0.5 0.9h0m3.5-1.9h0m5.3 2.3h0m16.3-0.6h0m5.1-0.8h0m1.3-1.1h0m8.1 1.7h0m127.3-2.5h0m15.2 3.3h0m98.7-1.1h0m-366.4 4.8h0m0.3-0.1h0m0.2-1.2h0m1 1.5h0m1.5-2.8h0m1.1 1.1h0m0.8-0.4h0m0.8 1.5h0m0.6-1.3h0m1.6-0.6h0m0.1 1.6h0m1.7-1.9h0m0.3 2.5h0m0.2 0.9h0m0.1-1.8h0m0.3-1.1h0m0.4-1h0m0.1 2.8h0m0.3 1h0m0.2-0.7h0m0.5-2.7h0m0.1 2.7h0m0.3-2.5h0m0.2 0.1h0m1 0.7h0m0.8 2.2h0m0.3-3.3h0m0.1 3.1h0m0.4-1.7h0m0.6 1.6h0m0.9-2.8h0m1.6 1.4h0m0.1-1.3h0m0.5 2.6h0m0.1-1.9h0m0.1-0.3h0m0.1-0.8h0m0.7 1.6h0m1.7-0.1h0m3.1-0.3h0m0.2 1.5h0m0.5-1.4h0m0.9 1.4h0m0.7-2h0m0.5 1.6h0m1.6 1h0m2.4-1.5h0m0.3 1.8h0m0.7-3.5h0m1.5 0.7h0m2.2 1.5h0m0.9-0.3h0m0.9-0.1h0m0.7 1.9h0m0.7-3.8h0m0.2 3.2h0m0.7-2.3h0m1.6 2.7h0m1.5-0.9h0m0.3-2.3h0m1.9 0.1h0m2.1 2.6h0m0.2-0.8h0m0.2-1.9h0m0.2 1.4h0m0.3 1.2h0m3.1-1.3h0m2.7-0.6h0m5.8 1.1h0m1.6 0h0m0.6 0.7h0m0.8-0.6h0m0.5 0.1h0m29.6-0.7h0m19.3 1.1h0m10.3 0h0m42.8-2.4h0m97.9 0.9h0m-266.5 3.2h0m0.9-0.6h0m1.9 1.2h0m1.4 0.9h0m1.2-0.1h0m0.2-1.5h0m2-0.3h0m1.2 0.7h0m0-0.5h0m0.3-0.2h0m6.2 0.2h0m1-0.2h0m0.6 1.9h0m2.6-2.1h0m0.3 1.4h0m0.1-0.5h0m1.2 0.4h0m0.4 0.4h0m1.1-1.6h0m0.4 2.1h0m2.5-1.8h0m2.8-0.2h0m0.2 1.7h0m0.5-0.8h0m0.7-0.9h0m0.3 1.2h0m0.9-0.4h0m1.7 2.3h0m0.2-1.7h0m2.4-1.1h0m0.8-0.5h0m0.6 3.4h0m0.9-0.7h0m0-1.5h0m1 1h0m0.8-0.7h0m1.3 0.1h0m1.4-1.6h0m1.3 1.3h0m4.2-1.4h0m0 1.1h0m1-0.5h0m0.9 0.6h0m1.8-0.8h0m2.4-0.3h0m4.9 0.6h0m4.8 2h0m14.5 1h0m8.2-2.6h0m10.7 2.1h0m34.9-1.5h0m7.9 1.4h0m32.2-2h0m8.8 2.7h0m15.6-3.2h0m46.1 2h0m2.5 0.4h0m-245.3 1.1h0m10 0.4h0m0.2 0.7h0m13.2 2h0m4.3 0h0m27.2-3h0m3.3 1.9h0m65.6 0.6h0m40.6-0.4h0m130.8-1.9h0m-290.3 4.7h0m5-0.9h0" fill="none" stroke="#000" stroke-width="1.7" stroke-linecap="square" opacity="0.8"/>
<ellipse cx="550.0" cy="1598.0" rx="20" ry="20" fill="#000"/>
<ellipse cx="559.0" cy="1591.0" rx="15" ry="12" fill="#000"/>
<ellipse cx="567.0" cy="1592.0" rx="9" ry="7" fill="#000" transform="rotate(-25 567.0 1592.0)"/>
<ellipse cx="545.0" cy="1607.0" rx="12" ry="13" fill="#000"/>
<rect x="505.80" y="1401.40" width="399.00" height="247.50" fill="none" stroke="#3a3a3a" stroke-width="1.5"/>
<line x1="513.90" y1="1648.90" x2="513.90" y2="1638.90" stroke="#3a3a3a" stroke-width="1.5"/>
<text x="508.52" y="1675.60" font-size="21.00" font-family="'Liberation Sans',sans-serif" fill="#111">0</text>
<line x1="609.30" y1="1648.90" x2="609.30" y2="1638.90" stroke="#3a3a3a" stroke-width="1.5"/>
<text x="603.97" y="1675.60" font-size="21.00" font-family="'Liberation Sans',sans-serif" fill="#111">2</text>
<line x1="704.70" y1="1648.90" x2="704.70" y2="1638.90" stroke="#3a3a3a" stroke-width="1.5"/>
<text x="699.48" y="1675.60" font-size="21.00" font-family="'Liberation Sans',sans-serif" fill="#111">4</text>
<line x1="800.10" y1="1648.90" x2="800.10" y2="1638.90" stroke="#3a3a3a" stroke-width="1.5"/>
<text x="794.67" y="1675.60" font-size="21.00" font-family="'Liberation Sans',sans-serif" fill="#111">6</text>
<line x1="895.50" y1="1648.90" x2="895.50" y2="1638.90" stroke="#3a3a3a" stroke-width="1.5"/>
<text x="890.12" y="1675.60" font-size="21.00" font-family="'Liberation Sans',sans-serif" fill="#111">8</text>
<line x1="505.80" y1="1413.80" x2="513.30" y2="1413.80" stroke="#3a3a3a" stroke-width="1.5"/>
<text x="469.43" y="1422.00" font-size="21.00" font-family="'Liberation Sans',sans-serif" fill="#111">20</text>
<line x1="505.80" y1="1458.30" x2="513.30" y2="1458.30" stroke="#3a3a3a" stroke-width="1.5"/>
<text x="469.53" y="1465.85" font-size="21.00" font-family="'Liberation Sans',sans-serif" fill="#111">15</text>
<line x1="505.80" y1="1502.80" x2="513.30" y2="1502.80" stroke="#3a3a3a" stroke-width="1.5"/>
<text x="469.43" y="1509.70" font-size="21.00" font-family="'Liberation Sans',sans-serif" fill="#111">10</text>
<line x1="505.80" y1="1547.30" x2="513.30" y2="1547.30" stroke="#3a3a3a" stroke-width="1.5"/>
<text x="481.19" y="1553.55" font-size="21.00" font-family="'Liberation Sans',sans-serif" fill="#111">5</text>
<line x1="505.80" y1="1591.80" x2="513.30" y2="1591.80" stroke="#3a3a3a" stroke-width="1.5"/>
<text x="481.08" y="1597.40" font-size="21.00" font-family="'Liberation Sans',sans-serif" fill="#111">0</text>
<line x1="505.80" y1="1636.30" x2="513.30" y2="1636.30" stroke="#3a3a3a" stroke-width="1.5"/>
<text x="797.48" y="1428.80" font-size="21.79" font-family="'Liberation Sans',sans-serif" fill="#111">r = 0.361</text>
<text x="565.68" y="1708.90" font-family="'Liberation Sans',sans-serif" fill="#000" xml:space="preserve"><tspan font-size="21.40">t</tspan><tspan font-size="12.84">3,4</tspan><tspan font-size="21.40"> - t</tspan><tspan font-size="12.84">5,6</tspan><tspan font-size="21.40"> (min) [fully connected]</tspan></text>
<text transform="translate(455.60,1633.10) rotate(-90)" x="-0.32" y="0" font-family="'Liberation Sans',sans-serif" fill="#000" xml:space="preserve"><tspan font-size="21.20">t</tspan><tspan font-size="12.72">3,4</tspan><tspan font-size="21.20"> - t</tspan><tspan font-size="12.72">5,6</tspan><tspan font-size="21.20"> (min) [left branch]</tspan></text>
<line x1="512.70" y1="1592.00" x2="512.70" y2="1648.00" stroke="#555" stroke-width="1.0" stroke-dasharray="1.5,1.5"/>
<text x="969.03" y="1367.20" font-size="36.63" font-family="'Liberation Sans',sans-serif" font-weight="bold" fill="#000">g</text>
<text x="1033.21" y="1363.40" font-family="'Liberation Sans',sans-serif" fill="#000" xml:space="preserve"><tspan font-size="21.82">C = 10 ≤ </tspan><tspan font-size="21.82" font-weight="bold">100</tspan><tspan font-size="21.82"> ≤ 1000</tspan></text>
<text x="1032.55" y="1388.90" font-family="'Liberation Sans',sans-serif" fill="#000" xml:space="preserve"><tspan font-size="21.89">D = 10 ≤ </tspan><tspan font-size="21.89" font-weight="bold">100</tspan><tspan font-size="21.89"> ≤ 1000</tspan></text>
<path d="M0 0m1060 1405.5h0m-12.1 3.1h0m59.5-0.7h0m270 1.9h0m-333.6 3.5h0m12.9 0.5h0m4.7-0.8h0m1.4 0.8h0m18.7-1.9h0m267.1 1.2h0m13.4-0.5h0m-310.9 2.3h0m39.5 1h0m188.2-0.7h0m48.7 1.5h0m-275.7 4.7h0m16.7-1h0m26.8 0h0m28.6 1h0m16.7-0.1h0m17.9-2h0m20.3 0.2h0m2.7-0.3h0m-108.6 3.5h0m0.4-0.4h0m46.4 1.3h0m74.5 1.1h0m105.9-1.3h0m52.9 0.7h0m-296.2 2.9h0m0.5-0.8h0m3.5 0.6h0m1.1 2.9h0m2.5-2h0m0.2 1.2h0m6.9-2.2h0m17.6 0.7h0m37.1-0.5h0m170.1 2.3h0m-235.8 1.7h0m3.9-0.8h0m9.5 1.8h0m283.6 0.5h0m-313.5 4.9h0m8.1-2.5h0m25.9-0.4h0m55 0.2h0m20.7 0.9h0m19.7-1.5h0m-120.2 5.4h0m3.4 2.3h0m6.9-0.7h0m20-1.3h0m108.2-1.2h0m-135.2 6.7h0m11.4-1h0m10.3-0.5h0m68.9-0.5h0m5.5 2.1h0m-105 1.4h0m4.3 0.9h0m0.3-1.1h0m9.9 3.1h0m22.8-3.5h0m7 0.8h0m18.5-0.4h0m188.3 1.8h0m14.7 0.6h0m-264.8 1.5h0m5.4 3.3h0m19-0.7h0m45 0.2h0m34-1.7h0m12.4 1.6h0m50.5-2.4h0m173.6 2.7h0m-340.9 3.1h0m0.5-0.6h0m0-1.3h0m6.2 1.2h0m5.9-1.2h0m3.6-0.6h0m3.5 0.8h0m0.6 2.3h0m10.1-1.8h0m23.8-0.4h0m81.6 0h0m-144.5 6.3h0m8.6 0h0m2.6-2.4h0m2.2 2.1h0m7.1-1.2h0m82.1 2.1h0m14.7 0.1h0m30.5-0.9h0m8.2-1.4h0m-125.5 5.7h0m1.2-2.8h0m1.3 0.3h0m4.3 1.3h0m26.5 0.4h0m2.7 0.4h0m56.7-1.8h0m60.4-0.9h0m-169.5 5.5h0m5.6 0.4h0m12.4 1.8h0m1.2-2.1h0m1.4-0.1h0m1.2 1.1h0m29.9 1h0m5-0.5h0m274.7-1h0m-339.1 5.3h0m5.9-3.3h0m7 2h0m1.1 0.8h0m13.1-1.8h0m0.1 0.8h0m16.1 1h0m9.5-2.8h0m10.4 3.2h0m3.5-1h0m34.7 0.7h0m4.7 0.8h0m36-2.8h0m-149.1 3.7h0m10.9 0.9h0m3.3 1.1h0m2.3-1.6h0m3.2-1.2h0m3.6 1.7h0m0.6 0.1h0m3.9 1.8h0m6.6-1.9h0m1.8 0.1h0m4.7-1h0m23.1-0.3h0m11.6-0.1h0m22.9-0.4h0m48.3 2.9h0m10.2-1.8h0m56.6-1.1h0m-212.5 5.1h0m10.5 0.2h0m9.5 1h0m7.7 0.4h0m37.6 0.9h0m0-1.8h0m26.8-1h0m25.6 1.2h0m-106.9 3.2h0m13.5 2.5h0m9.3-1.5h0m25.5-1.3h0m3.4-0.4h0m140.3 2.4h0m23.4 0.8h0m16.7-0.7h0m-223.2 3.6h0m2.6-0.9h0m21.9 2h0m1.2-2.4h0m27 0.5h0m20.3 0.8h0m8.7-2.5h0m220.6 1.1h0m-320.6 6.4h0m20.5-1.1h0m2.6-2.1h0m2.7 0.9h0m1.4 2.4h0m2-2.3h0m11.3 1.7h0m0.4 0h0m4.2-3.2h0m76.7 2.4h0m61.4 1.4h0m50.7-1.5h0m140.2 0.9h0m-366.7 2.2h0m13.6 0.7h0m2.5 0.5h0m0.2-0.5h0m9.2-0.9h0m13.8-0.3h0m20.3 2.9h0m81.7-1.5h0m-149.8 4.1h0m3.2-2.2h0m3.7 0.1h0m8.2 0.1h0m5.1 0.5h0m3.2 2.7h0m1.2-1.9h0m6.2 2h0m0.6-0.1h0m0.8-1h0m0.8-1.6h0m3.1 0h0m8-0.5h0m3.1 3h0m0.1-1.9h0m3.4-1.4h0m83.8 2.5h0m95 1.2h0m19-0.7h0m6.9-2.8h0m-254.3 5.3h0m3.1 1h0m8.6-0.1h0m9.2-1.2h0m7.8 1h0m3.4-1.4h0m9.8-0.4h0m4.6 2.2h0m51-1h0m32.4-0.6h0m3.4 0.3h0m32.5-1h0m12.5 1.7h0m46.1-0.1h0m49 0.9h0m-270.3 1.2h0m4.9 0.5h0m2.6 0.7h0m12.3-0.6h0m10.8 1.3h0m2.1 0.2h0m1.3-0.3h0m3.8 1.5h0m3.9-2.8h0m48.1 0.6h0m1.4 1.8h0m86.1-1.5h0m72.6-0.4h0m80.6 1h0m-332 3.3h0m6.5-0.7h0m0.1 0.4h0m9.7 0.9h0m0.3-1.9h0m14.2 1.1h0m8.5 2.5h0m13.1-1.5h0m7.2 0.2h0m2.3-2h0m11.7 3.3h0m30.5-0.6h0m45-1.6h0m49.1 2.2h0m155.1-2.1h0m-349.4 4h0m4 1.2h0m6.6 0.7h0m0.9-0.8h0m2.2 0.3h0m0.6-2h0m4.2 1.5h0m0.7 0.2h0m1.7 1h0m4.7-2.9h0m1.6-0.9h0m10.6 2.6h0m1.4 0.8h0m2.1-2.9h0m11.1 3.4h0m14.4-3.8h0m48.7 2.3h0m17.6 0.2h0m43.2 0h0m7.6-0.8h0m28.1-0.1h0m-218.7 3.2h0m0.7 2.6h0m0.2-0.2h0m7-2.6h0m1.4-0.1h0m3.7-0.2h0m1.7 1.4h0m0.5 2.1h0m2.5-3.6h0m15.7 0.5h0m14-0.4h0m7.4 0.2h0m17.5 0.7h0m5.3 2.5h0m66.2-2.4h0m25.7 1.7h0m75.5-2h0m-243.7 4h0m7.4-1h0m17.9 3.8h0m4.3-1.9h0m0.9 0.1h0m2.6 1.8h0m1.3-1.1h0m0.2 0.3h0m0.4-2.1h0m1.4 2.2h0m0.7-3h0m1.6 1h0m5.1 0.1h0m8.1 0.8h0m76-0.2h0m186.3-1.3h0m-301.5 7.2h0m0.4-2.6h0m1.5 1.7h0m2.9-2.8h0m6.5 3h0m2.4-2.1h0m4.1 2.8h0m0.7-3.6h0m5.2 1.1h0m0.3-0.9h0m1.7 3.4h0m4.3-1h0m1.8 0h0m22.1 1.1h0m2.9-0.7h0m23.8-1.5h0m30.7 0.3h0m34.7-0.4h0m60.2-0.6h0m117.1 1.8h0m1.4 0.7h0m-330 1.9h0m1.5-0.5h0m0.1 2h0m0.4-1.2h0m1 1.2h0m0 0.3h0m1.6 0.3h0m0.3-2.7h0m0.8 0.1h0m2.2 2.9h0m0.8-2.4h0m5.1 1.4h0m7.2 1.1h0m2.5-3.4h0m1.3 0.6h0m1.6 2.3h0m3.8-1.4h0m0.4-1.6h0m2.5 2.5h0m0.1-2.8h0m0.6 1.3h0m5.4 0.3h0m9.3 1.2h0m9.1 0h0m0.2-2.2h0m0.9 1.6h0m15.3-1.1h0m26.7 0.3h0m9.5 1.3h0m2.4-1.8h0m27.6 1.2h0m11.2-0.5h0m45.9 0.7h0m23 0.3h0m-220.4 3.1h0m1.7-0.2h0m0.9 1.7h0m4.1-1.7h0m0.5-1.4h0m0.8 2.9h0m3.3-0.5h0m3-1.4h0m6.1 1.3h0m4.9-1.4h0m4.8-0.8h0m1.7 0.4h0m15 1.2h0m1.4 0.6h0m4.1-1h0m8.8 0h0m3.9 1.7h0m5.1 0.5h0m27.2-0.6h0m0.8-1h0m227.9-0.9h0m-335.3 6h0m4.1-2.6h0m0.5 1.1h0m1.4 1.5h0m3.6-0.1h0m5.1 0.7h0m0.5-0.7h0m3.4-1.1h0m5-0.2h0m1.7-0.1h0m11.5 2.3h0m3.8-1.2h0m24.8-2h0m4 0h0m0.4-0.1h0m1.1 0.6h0m20.7-0.2h0m2 2.8h0m25-3h0m15.4 1.9h0m21.2-1h0m6.1 2.2h0m3.7-2h0m3.5 1.3h0m-167.1 3.7h0m4.3-2.3h0m3.5 0.1h0m4.1 2.3h0m1.6-1.7h0m3.3 2.3h0m0.2 0.1h0m10.4-2.7h0m0.6 1.4h0m5.8 0.1h0m6.2-0.1h0m9.5-2.4h0m14.6 1.5h0m11.5-0.8h0m0.9 3h0m0.9-0.5h0m7.1-1.9h0m0.9 1.2h0m8.3-1.3h0m9.1-0.5h0m96.6-0.5h0m38.3 2.4h0m-236.4 2.2h0m0.9 1.7h0m8.3-0.5h0m1.7 1.3h0m5.2-1.7h0m0.8 2.1h0m1-1.8h0m3-0.2h0m0.6-1.5h0m1.5 0.8h0m0.4 0.1h0m2.9-0.7h0m5.2 0.4h0m7.9 2.5h0m0.3-0.6h0m0.4 0.7h0m1.7-1.2h0m0.5 1h0m0.4-0.1h0m32.1-0.6h0m22.2-2.3h0m106.6 3.1h0m16.1-2.5h0m11.6-0.6h0m27.1 1.8h0m-262.4 1.9h0m5.5 3.8h0m0.1-2.5h0m11.8 2.6h0m2.2-1.9h0m0.9-1.3h0m1.4 1.2h0m3.4-1.1h0m2.6 1.4h0m2.3-0.3h0m1.1-1.1h0m7.4-0.4h0m1.7 2.3h0m0.9-2.4h0m4.8 2.3h0m7.1-1.7h0m10.8 2.3h0m5.3-0.2h0m6.7-1.6h0m2.6 1.7h0m3.6-0.4h0m6.6-0.4h0m1.5 1.4h0m141.5-2.7h0m34.2 2.5h0m-260.6 3.3h0m4.1-2.3h0m2.6 0.5h0m1.1-0.8h0m2.8 3.3h0m1.1-1h0m1.5 1.5h0m1.8-0.3h0m15.4-3h0m1.3 2h0m10.5-1.4h0m1.3 1.8h0m5.4 0.6h0m1.8-0.1h0m6.1-1.9h0m1.3 2.1h0m1.6-2.1h0m0.2-0.5h0m1.3 1.5h0m1.2 1.2h0m10.2-2.1h0m2.8 1.2h0m1.2-2.1h0m28-0.6h0m4.8 1h0m0.3 2.1h0m0.8-0.6h0m72.4-1.8h0m16.1 1h0m50.1-0.5h0m86.6-1h0m-334.5 6.2h0m0.9-1.8h0m2.2 1.5h0m1.3 1.2h0m0.4-0.6h0m0.5-2.2h0m1.5 1.7h0m1.5-2.3h0m3.6 1.4h0m1.1-0.6h0m0.8-0.4h0m1.7 2.5h0m0.9-1.3h0m2.5-0.2h0m3.2 2.3h0m9-2.3h0m0.1 1.8h0m0.9 0.3h0m2.5-1.9h0m3.5 2.1h0m7-2.7h0m6.8 0.6h0m1.9-1.2h0m5 2.1h0m1.7-1.6h0m14 1.5h0m15.1-1.8h0m8.7 1.3h0m85.7 1.5h0m122.7-1.4h0m9.8 1h0m22.8-2.6h0m-339.9 3.6h0m2.8 0h0m0.1 0.3h0m0.5-0.1h0m1.6-0.2h0m0.8 3.1h0m0-0.7h0m0.4 1.1h0m0.8-1.9h0m1 1.5h0m1.8-2.1h0m1.8 0.5h0m2.6 2.1h0m0.2-2h0m1.9 0.1h0m4.5 1.5h0m1.5-1.4h0m8.4 1.9h0m4.4-0.4h0m15.8-2.2h0m0.2 1.1h0m13.5-0.3h0m5.1-1.5h0m1.5 0.8h0m17 1.6h0m4-2.9h0m2.3 0.3h0m4 0.5h0m9.3 2.9h0m7.3-2.4h0m10.9-1.4h0m49 3.9h0m7-1.5h0m62.4-1.8h0m28.2 3.4h0m-275.9 2.3h0m3.8-0.1h0m0.3-1.1h0m0.1 1.6h0m0.2-2h0m2 3h0m0.1-0.5h0m0 0.3h0m1.3 0.3h0m0.7-1.9h0m0.2 0.6h0m0.8 0.9h0m0.3-1.8h0m0.2 0.7h0m0.2-0.9h0m0.8 0.9h0m0.1 0.2h0m0.1 0.6h0m0.4 0.9h0m0-2.8h0m0.2-0.1h0m2.6-0.3h0m0.7 0.7h0m0.7 0h0m0.8 0.2h0m2.3 1.3h0m1.1-0.6h0m3 0.8h0m1-0.4h0m0.2 0.8h0m2.7-3.1h0m0.3 2.9h0m0.7-2.6h0m0.4-0.4h0m1 3.1h0m7-2.4h0m2.4-0.9h0m0.5 1.5h0m4.3 1.2h0m1.3-1.4h0m5.1 2h0m1.8-2.5h0m0.1 2.3h0m1.3-0.3h0m0.9-2h0m3.1-0.2h0m7 0.6h0m1.9-0.9h0m7.8 1.9h0m19.9 0.4h0m1.7-2.3h0m8.4 1.2h0m10.7-1.5h0m0.3 0.2h0m25.6 2.2h0m30.5 0.5h0m46.2-1.7h0m-213.1 6.6h0m0.9-1.2h0m0.3-1.8h0m0.1 0.3h0m0.2 0.1h0m2.3 0.1h0m0.7 0.8h0m0.6-2h0m0.2 0.8h0m0.1-1.1h0m0 1.8h0m0-0.9h0m0.3 1.2h0m0.9-2h0m0.9 0h0m0.1 3.9h0m2.4-0.8h0m2 0.1h0m1.8-0.9h0m4.9-0.4h0m3.1 1.5h0m3.3-0.5h0m0.5-2.9h0m0.9 2.1h0m0.8 0.6h0m0.7-0.4h0m1.2 1.5h0m18.3-1.9h0m10.5 1.4h0m5.2 0.5h0m0.8-3.8h0m24.3 0.4h0m5.3 1.3h0m0.9-1h0m48.5 2.4h0m36.3 0.6h0m3.1-2.1h0m-187.5 4.1h0m0.3 0.5h0m2.3-1.1h0m0.3 1.8h0m0.1-1.6h0m1.2 2.4h0m0.1-3.5h0m1 0h0m0 1.4h0m0.7 0.9h0m1.9-0.9h0m0.5 1.8h0m0.4 0h0m0.8-1.1h0m0.1-1.3h0m0.1 1.7h0m0.1-2.1h0m0.1 0.1h0m0.1 1.3h0m0-1.4h0m0.1-0.4h0m0.8 3.3h0m0.2-3.5h0m0 1h0m0.2 1.8h0m0.4 0.3h0m0-1.3h0m0.2-1.8h0m0.3 0.8h0m1.1 1.1h0m0.3 0.8h0m0-0.3h0m0.7 0.1h0m0-0.4h0m0.2-0.7h0m0.1 1h0m0-1.1h0m0.4-1.4h0m0.3 3.5h0m0.1-3.4h0m0.1 1.8h0m0 0.1h0m0.1 1.4h0m0.8-2.9h0m0.4 3.4h0m0 0.1h0m1-3.7h0m2.1 2h0m0.7-1h0m5.4 0.2h0m2.3-0.4h0m0.3 2.8h0m4.1-1h0m1 0.4h0m2.3-1.3h0m7.6 1h0m4.2-0.1h0m0.9-0.4h0m11.5-2.4h0m9.9 0.7h0m2.3 0.8h0m13.6-0.8h0m9.2 2.1h0m12.7-0.2h0m18.8 0.6h0m233.5 0.5h0m-360.5 0.2h0m0.2 3.1h0m0.7-0.7h0m0.3 1.3h0m0.7-2.8h0m0.3 0h0m0.4 0.7h0m0.2-1.4h0m0.8 3h0m1.2-1h0m0.6 1.6h0m0.2-0.4h0m1.2 0.1h0m0.7-2h0m0.3 0.2h0m0.6-0.6h0m0.1-0.8h0m0.6 0.6h0m1 2.9h0m0-2.6h0m0.2 2.3h0m0-3.4h0m0.4 2.8h0m0.3-1.6h0m0-0.7h0m0.4 0.5h0m0 1h0m0 1.5h0m0.3-1.9h0m0-0.3h0m0.3 1.7h0m0.2-0.3h0m0-2.5h0m0.3 0.8h0m0.3 2.6h0m0.9-2.5h0m0.2 2.5h0m0-2.8h0m0.4 0.2h0m0.2 0h0m0.1 1.8h0m0.4-0.5h0m1.4-1.7h0m0.2 0.1h0m0.5 1.4h0m0.7-0.2h0m0.5-0.9h0m1.5-0.9h0m1.3 1.8h0m9.7-0.9h0m0.4-0.3h0m0.9 0.5h0m0.4 0.8h0m2.7-0.5h0m0.4-0.8h0m1.9 2.3h0m0.2 0.6h0m3.3-0.7h0m0.4-1.9h0m1.6 1.1h0m2.1 0.1h0m3.7-1.7h0m4.4 0.6h0m3.2 1h0m4.5 1.3h0m6.6-2h0m10 0.7h0m2.8-0.7h0m2.7-1.1h0m1.4 0.9h0m7.3 2.1h0m1.3-0.5h0m18.9-0.2h0m0.8-0.7h0m10-0.8h0m3.7 2.3h0m44.8-0.6h0m9.6 0.2h0m10.7 0.1h0m10.2-3h0m107.3 3.7h0m-312.2 4.1h0m2.3-1.4h0m2.7-0.2h0m0.3 1.2h0m1.4-2.1h0m0.9 2.2h0m0.4-3.6h0m1.2 3.1h0m0.1-2.2h0m0.5 1h0m0.2 1.5h0m0-2.4h0m0.2 2.4h0m0 0h0m0-2h0m0.2 0h0m0.1-0.1h0m0.1 1.1h0m0.3 1.3h0m0.2-0.9h0m0.4 0.7h0m0.2-2.2h0m0.3-0.9h0m0.2 1h0m0.1 2.2h0m0.1-2.9h0m0.1 3.2h0m0.7-2.8h0m1 1.1h0m0-2.1h0m0 0.2h0m0.1 3.1h0m0-3.2h0m0.1 3.3h0m0-0.9h0m0.1 0h0m0.4-2.3h0m0.5 0.1h0m0 1h0m0.1-1.1h0m0.1 1.1h0m0.1 1.5h0m0.3-1.7h0m0.1 2.3h0m0.1-1.9h0m0.1 0.5h0m0.1-0.3h0m0 0.1h0m0 1h0m0.7-2.2h0m0.4 1.9h0m0.1-1.7h0m0.1 2.9h0m0.1-3.7h0m0.4 0.6h0m0.3 2.7h0m0.2-2.5h0m0.1 2.2h0m0.2-2.5h0m0.3 0.8h0m0.8 0.6h0m0-0.8h0m0.2 1.5h0m0-1h0m0.5-1.3h0m0.2 2.6h0m0.5 0.8h0m0.6-3.2h0m1.1 0.5h0m0.1-1.1h0m1.2 1.5h0m2.3 1.3h0m4.1 0.1h0m1-0.8h0m1.6 0.8h0m0.9-2.8h0m0.7 3.6h0m0.2-2.5h0m0.2 2.1h0m1.9 0.4h0m1-3.5h0m0.3 3.1h0m1.2-0.9h0m3.7-0.7h0m1.1 1.9h0m2.7-0.1h0m2.8-1.9h0m8.1 1.1h0m2.3-0.6h0m0.6 1.1h0m1.1 0.5h0m6.7-1.7h0m1 1.3h0m8.4-0.3h0m21.3-2.2h0m6.6 0.1h0m6.4 2.4h0m9.8-3.2h0m1.1 1h0m2.1 1.4h0m18.6-0.1h0m41.6 0.6h0m12.6-0.3h0m62 0.2h0m-257.1 4.5h0m0.8-3.2h0m2.5 2.9h0m0.1-1.1h0m0.3 0.3h0m0-1.4h0m0.3 0.9h0m0.2-1.6h0m0.4 0.7h0m0 0.3h0m0.2 0.7h0m0.5-1.2h0m0.3 2.4h0m0.3-2.1h0m0 1.8h0m0.3-0.6h0m0.3-2.2h0m0.1 0.6h0m0.4 0.9h0m0.1-1.1h0m0.1 2.3h0m0-1.9h0m0.2-0.8h0m0.1 1.1h0m0.3 0.5h0m0 1h0m0.3-0.7h0m0-1.3h0m0.2 1.8h0m0.4 0.8h0m0 0.5h0m0-2.4h0m0.3 0.4h0m0.1-0.7h0m0.4 0.1h0m0.2 2h0m0.2 0.4h0m0-0.4h0m0.1-1.2h0m0.2-1.8h0m0.4 3.1h0m0-2.1h0m0.2 0.9h0m0.3-0.6h0m0 0.3h0m0.2-0.8h0m0.2 2.8h0m0.2-2.3h0m0 1.3h0m0-0.4h0m0.3-1.4h0m0.1-0.6h0m0.4 0.5h0m0 2.2h0m0.1-1.1h0m0.1-1.9h0m0.4 3.4h0m0.2-1.7h0m0.3-1.1h0m0 2.8h0m0.4-1.5h0m0.2-1.5h0m0.2 1.4h0m0.1 1.7h0m0.1-1.8h0m0 1.7h0m0.1-1.2h0m0.1 1.2h0m0.5 0.2h0m0-3.4h0m0.2 0.4h0m0.1 0.3h0m0.1 1.7h0m0.3-2.6h0m0.6 2.6h0m1-0.8h0m0.2-1h0m0.2 1.4h0m0.2-2.2h0m0.2 2.7h0m0.4-0.5h0m0.1 0.3h0m0.9 1h0m1-0.3h0m0.6-1.5h0m3.2-1.4h0m0.1 2.2h0m0.8-2.3h0m1.1 0.7h0m0.8 1.7h0m2.9 0.1h0m0.4 0.2h0m1.8-0.7h0m2.4 0h0m1.3 0.9h0m0.4 0.3h0m1-2.7h0m1.7-0.5h0m1.1 3.6h0m0.8-0.5h0m7.5-1.1h0m1.9 0.8h0m1.2 0.5h0m9.4 0.2h0m5-3.4h0m3.8 3.4h0m2.2-0.6h0m9.8-0.6h0m12.7-0.7h0m12.7-0.1h0m9.7 1.8h0m5.7-3.4h0m7.3 2.3h0m28.1-2.4h0m13.6-0.1h0m5.5 3.7h0m29.3-3h0m41.8 1h0m42.8-0.2h0m13 0.7h0m-302.6 4.4h0m0.6-2.5h0m0.2 3.4h0m0-1.1h0m0-0.4h0m0.7-0.3h0m0.2 0.7h0m0.3-1.6h0m0 0.5h0m0.7 1.5h0m0-2.1h0m0.7 2.9h0m0.1-0.9h0m0.3 0.7h0m0.2-0.4h0m0.3-2.7h0m0 2.1h0m0-2.2h0m0.7 0.9h0m0.1 1.5h0m0 0.4h0m0.5-0.5h0m0 0.5h0m0.4 0.1h0m0.2-2.1h0m0.1 0.6h0m0.1-1.3h0m0.1 2.7h0m0.1-0.1h0m0.2-0.7h0m0.1-1.2h0m0.8 1.6h0m0.4-0.4h0m0.1 0.9h0m0-1.9h0m0.1 2.6h0m0.1-0.8h0m0.2-2.8h0m0.4 0.6h0m0.1 0.1h0m0.1-0.7h0m0.1 2.4h0m0.7 1.1h0m0.1-2.7h0m0.2 1.7h0m0.1-2.1h0m0 0.5h0m0.1-0.3h0m0.4 0.6h0m0.1 0.7h0m0 1h0m0.1-0.4h0m0.5-1h0m0-0.7h0m0.2-0.1h0m0.4-0.1h0m0.7 0h0m0 0.4h0m0.3 1.5h0m0.8-0.7h0m1.9 1.3h0m0.2-0.3h0m0-0.4h0m0.1-1.4h0m0.1 0.7h0m0.2 2.1h0m0.4-2h0m0-0.1h0m0.6-0.7h0m0.2 1.6h0m2.1-1.7h0m1.4 1.9h0m1.3-2h0m0.6 0.1h0m0.5 1.9h0m5 0.6h0m2-0.7h0m0.7 0.9h0m1.2-0.1h0m1.3 0h0m0.1-2.5h0m0.5-0.1h0m0.3-0.9h0m2.4 2.4h0m2.4-1.1h0m0.1-1h0m3.9 0.1h0m7.9 1.7h0m2.4-0.4h0m0.1 1.9h0m0.5-1.1h0m1.1 1h0m7.8-1.6h0m2.8-0.5h0m5.4 0.2h0m5.2-0.2h0m0.7 1.3h0m11.8-0.7h0m8.8-1.6h0m3.8 1.5h0m37.7-1.1h0m23.2 1h0m12-0.6h0m51-0.9h0m18.4 0.4h0m5-0.5h0m-250.9 3.9h0m0.9 0.8h0m4.4 1h0m0.1 0.4h0m0-2.2h0m0.1 0.4h0m0.3 1.7h0m0.1-0.6h0m0.1-0.3h0m0.1-1.3h0m0.1 0.9h0m0.2 0.4h0m0.2 1.1h0m0.1-1.7h0m0.1 1h0m0.1-0.8h0m0.5 2h0m0.1-1.9h0m0-1.1h0m0.2 2.8h0m0-1.5h0m0.1 1.3h0m0 0.4h0m0.1 0.2h0m0.1-0.1h0m0-0.5h0m0.1 0.2h0m0.1-0.3h0m0-0.6h0m0-0.2h0m0.2 1.7h0m0.1-1.2h0m0-1.3h0m0.1 1h0m0.3-1.4h0m0.7 0.1h0m0.1 0.5h0m0.5 1.6h0m0 0.3h0m0.2-0.3h0m0.1-1.9h0m0.4-0.5h0m0.3 1.5h0m0 1.5h0m0.2-3h0m0 0.4h0m0.1 2.9h0m0.1-0.6h0m0-1h0m0.1-1.8h0m0.4-0.3h0m0.4 2.4h0m0.2-0.5h0m0.1-0.5h0m0 1.9h0m0-2h0m0.2 0.4h0m0.1 2.1h0m0.1-1.5h0m0-1.6h0m0 0.7h0m0 1.6h0m0.1-0.2h0m0.4-0.3h0m0.2-0.6h0m0 0.9h0m0.1-0.4h0m1.1 0.4h0m0.1-0.9h0m0.4-0.9h0m0.8-0.5h0m0.3 0.5h0m0.1 0.8h0m1.7 0h0m0.2-1.7h0m0.2 1h0m0 2.8h0m1.1-3.7h0m0.2 2.5h0m1.2-2.6h0m0.9 0.6h0m2.8 2.9h0m1.7-2.3h0m0 0.4h0m0.5 1h0m0.9-2.4h0m2.6 2.2h0m0.8-0.6h0m1.1 1.6h0m0.6-3h0m0.9 0.4h0m0.1 2.8h0m1.6-1.2h0m0.4-1.4h0m0.1-0.8h0m1 3.1h0m0.5-2.5h0m0.6 1.6h0m2.2 0.9h0m1.1-0.5h0m5.9-2.8h0m1.8 2.3h0m3-0.1h0m5.1 1.6h0m4.8-3.5h0m9.2-0.1h0m3.6 1.7h0m1.9 1.2h0m2.7-1.8h0m6 1.6h0m5.8 0.2h0m69.5-0.2h0m2.8-1.8h0m19 0h0m51.5-0.4h0m42.6-0.6h0m30.1 2.9h0m23.7-2h0m24.4 1.5h0m-357.3 2.3h0m2.1 0.2h0m0.2-0.2h0m0 1h0m0.2-0.1h0m0.1-1h0m1.4 1.5h0m0.4 1h0m0.7-1.8h0m0.2 2.4h0m0.5-2.8h0m0.3-1h0m0 0.7h0m0.4-0.3h0m0.3 3.4h0m0.4-2.4h0m0.6 0.7h0m0.1-0.7h0m0.2-1.3h0m0.1 0.3h0m0.2 1.6h0m0 1.3h0m0-0.4h0m0-2.6h0m0 2.9h0m0.2-1.8h0m0.1-0.2h0m0.2 2h0m0.1-0.6h0m0.1-1.7h0m0.1-0.9h0m0.2 0.9h0m0.3 1.2h0m0.1-1.5h0m0 0.1h0m0.4 0.7h0m0.2 2.2h0m0.2-2.1h0m0 0.6h0m0.2-2.1h0m0 0.5h0m0.3 1.3h0m0 1.2h0m0-2.5h0m0.1 2.1h0m0.1-0.6h0m0.1 0.5h0m0.2-0.2h0m0.1 1h0m0-2.9h0m0.1 3.3h0m0.2-3.7h0m0.4 2.8h0m0.1-2.9h0m0 0h0m0.1 1.2h0m0.4 1.2h0m0.1-2.4h0m0 3.5h0m0.1-1.6h0m0.3-1.7h0m0.1 2.5h0m0.3-1.4h0m0.2 0.3h0m0 0h0m0.1 0.7h0m0 0.7h0m0.2-1h0m0.1-1.6h0m0.4 1.3h0m0.5 1.1h0m0.4-1h0m0.5-1.2h0m0.2 0.1h0m0.1 1.2h0m0.1-1.1h0m0.1 2.6h0m0.1-2.6h0m0.6-0.6h0m0.8 3.2h0m0.3-0.5h0m1.3 1h0m0-3.8h0m1.1 0.6h0m0.1 3.2h0m0.4-2h0m0.7 0.5h0m0.1 1.1h0m0.3-0.4h0m0.1-2.2h0m1.7 2.3h0m0.2 0h0m0.4-2.9h0m4.4 1.9h0m0.9 1.5h0m4.5-0.5h0m1.8-0.5h0m0.2-1.6h0m3.7 2.8h0m1.6-1.2h0m10.6 0.4h0m4.3 0.2h0m0.3-0.1h0m0.5 0.5h0m1-1.4h0m13.3 0.4h0m0.1-0.7h0m7.3-0.7h0m2.1 1.7h0m13.3 0.7h0m4.4-1.1h0m6.8-2.1h0m46.9 2.1h0m0.4-1.4h0m12.2-0.8h0m13.9 3.4h0m78.5-1.6h0m5.1-0.9h0m117.8 1.9h0m-376.6 3.7h0m0.8-1.7h0m0.4 0.7h0m0.8 1.1h0m0.6 0h0m0.1-1.1h0m0.5-0.9h0m0.1 1.5h0m0.2-0.6h0m0-1.5h0m0.2 2.2h0m0 0.8h0m0.1-1.3h0m0.2-1.2h0m0.2-0.8h0m0 1h0m0.2 0.3h0m0.3 0.1h0m0.1 1h0m0.2 0.7h0m0.1-1.5h0m0.1 1h0m0-2.7h0m0 0.2h0m0.1 0.9h0m0.2 2.1h0m0.1-0.9h0m0.1 0h0m0 0.7h0m0.1-1.6h0m0.2 0.2h0m0-0.6h0m0 0.7h0m0-0.3h0m0.3 0.2h0m0.1 1h0m0.4-1.4h0m0.1 0.8h0m1.1-0.6h0m0.1 2.4h0m0.2-0.6h0m0-2.2h0m0.8 0.4h0m0.2 0h0m0.2 1.8h0m0.4-2.2h0m0.7 1h0m0.2-1.2h0m0.1 1h0m0.2-0.4h0m1.2 2.4h0m0.3-0.8h0m2.8-1.2h0m0.4-0.4h0m0.9 1.6h0m1.1-1h0m0 0.9h0m0.7 0.9h0m1.2-2.9h0m1.9 2.8h0m3.7-2.7h0m1.1-0.3h0m1 0.8h0m1.9-0.6h0m3 0.9h0m1.4 1.7h0m1.4-0.1h0m0.8-1.3h0m0.7 1.1h0m0.1 0.5h0m0.6-3.4h0m0.4 1.7h0m0.1 1.1h0m2.2 0.4h0m1.9-0.9h0m4.5-2.3h0m1.3 2.8h0m4.5-2.7h0m0 0.5h0m5.8 1.5h0m3.4 0.3h0m10.8-1.1h0m2.8 0.8h0m4.3 1.3h0m1.1-3h0m0.4 1.4h0m16.5-0.4h0m4.9 2h0m28.2-0.2h0m32.4-1.8h0m8.5 0.3h0m12.5 1.5h0m17.1-1.7h0m108.8 1.1h0m12.6-1.9h0m-324.5 6h0m1-0.2h0m1.1 0.6h0m0.5-1.9h0m1 0.5h0m0.7-1.2h0m0 1.4h0m0.1-0.9h0m0 2.7h0m0-1.6h0m0.6 1.2h0m0.2 0.2h0m0-1.3h0m0.7-2.3h0m0.2 1.9h0m0 0.3h0m0.9-0.7h0m0.4 1.7h0m0.2-3.3h0m0.3 0.4h0m0.5 2.3h0m0-1.7h0m0.1-0.4h0m0.1 1.3h0m0.3 1.7h0m0.3-1.5h0m0.1-2.2h0m0.2 1.2h0m0 1.8h0m0.2-0.6h0m0 1.2h0m0.1-1.4h0m0.1 1.6h0m0-1.5h0m0.1-1.5h0m0.2-0.2h0m0 1.4h0m0.5-0.1h0m0-0.8h0m0 0.3h0m0 0.1h0m0.7-0.9h0m0 1.7h0m1.1 0.9h0m0.2-2.2h0m0.1 2.8h0m2.1 0h0m0.2-3.7h0m0 2.8h0m1.1-2.4h0m1.2 3.1h0m0.2-0.3h0m0.2-2.4h0m0.1 2.6h0m0.9-1.9h0m1 0.9h0m0.9-1.3h0m0.4-1h0m1.3 1.1h0m0 0.2h0m0 2.1h0m2.7-2.1h0m0 0.1h0m2.7 1.4h0m3.1-0.7h0m1-1.5h0m1.8 1.1h0m0.6-0.7h0m0.2 2.6h0m0.1-3.6h0m1.3 3.6h0m0.2-2.3h0m7.8 0.9h0m1.2-0.3h0m1.3-0.4h0m7.2-0.2h0m2.6-0.5h0m1.7 1.8h0m0.6 0.7h0m12.2-1.8h0m1.8-0.5h0m3.1-0.8h0m8.8 1h0m0.6 0.1h0m6.5-1.5h0m2.1 0.7h0m10.1 2.6h0m7.4 0.4h0m5.1 0.3h0m64.8-1.9h0m6.3 0h0m48.9-0.6h0m8.5 0.5h0m8.5-1.7h0m-252.8 6.3h0m0.8-0.1h0m1-0.9h0m0.3-0.2h0m0.5-1h0m1 2.7h0m0.5-0.5h0m0.6-2.4h0m0.8 2.9h0m1.2-0.1h0m0.1-2.8h0m0.1 3.6h0m0-3.2h0m0.2 1.5h0m0.6-1h0m0-1.1h0m0 2.7h0m0-0.7h0m0.3-0.1h0m0.2 0h0m0.2 1.3h0m0.2-1.5h0m0.2-1.1h0m0 1.7h0m0.2-1.5h0m0 1h0m0.2-1.6h0m0.4 3.4h0m0.3-1.2h0m0 0.5h0m1.1-0.9h0m0.3-1.6h0m0 2.4h0m0.7-1.6h0m0.9 0.5h0m1.4 0.1h0m1.5-1.4h0m0.2 2h0m0.1-1.4h0m0 2.1h0m0.2 0.7h0m0-0.7h0m0.4-2.9h0m1.1 2.8h0m0.9-2.6h0m1.5 0.5h0m0.3 1.6h0m0.5-2.2h0m0 1.9h0m0.6 1.7h0m1-3h0m0.4 2.7h0m3.4-0.2h0m0.3-0.1h0m2-1h0m1.8 0.2h0m3.3-1.9h0m0.9-0.5h0m0.6 1.1h0m1.2 0.2h0m2.6-0.1h0m0.6 1.5h0m0.2-2.7h0m1.4-0.1h0m1.4 3.3h0m0.1-0.2h0m0.8-1.5h0m0.3-0.6h0m1.1-1h0m0.3 0.3h0m0.7 1.4h0m0.9-0.9h0m0.8 3.2h0m2-2.7h0m1-0.5h0m0.7-0.7h0m0.1 1.2h0m0.5 1.3h0m0.3-1h0m0.2 1.3h0m8.9-0.5h0m0.5-2.3h0m0.6 2.1h0m0.3 0.4h0m2.2-0.6h0m1.6-0.5h0m2.2 0.7h0m1.5-1.4h0m5.2 0.2h0m3.5 1h0m4.2-0.9h0m31 1.9h0m22.9 0.5h0m71.7 0.3h0m25.8-0.5h0m24.6-2.2h0m-257.3 6.6h0m0.9-0.5h0m1.1-2.6h0m0.1 1.4h0m1.5-0.1h0m0.1-1.6h0m0.3 2.2h0m0 1.5h0m0.3-1.5h0m0-0.3h0m0.1 0.5h0m0.2 0.2h0m0.7-1.4h0m0.2 2.4h0m0-3.6h0m0.1 1.9h0m0 1.8h0m0.4-0.1h0m0.2-0.4h0m0.1-3.1h0m0.3 0h0m0.2 3h0m0-3.1h0m0 0h0m0.1 3h0m0.2-0.7h0m0 1.4h0m0.2-2h0m0.4-1.7h0m0 3.5h0m0.1-1.9h0m0.3-0.9h0m0.2-0.2h0m0.1 0.3h0m0-0.4h0m0.6 0.3h0m0.2 2.7h0m0-1.2h0m0-2.2h0m0.2 2.2h0m0.8-2.5h0m0.9 1.9h0m0.2-1.7h0m0.4 2.4h0m1-2.6h0m0.8 0.4h0m0 2.4h0m0.5-2.6h0m0.2 3.7h0m0.1-3.1h0m0.3 1.5h0m1 0.8h0m0.4 0.5h0m0.1-0.8h0m0.5 1.1h0m1.6-3.5h0m0.2 0.8h0m0.7 1h0m2.2-1.5h0m1.3 1h0m0.7 1.3h0m1.3 0.5h0m4.4 0.3h0m0.3-2.3h0m0.2 2.4h0m1.7-1.4h0m2.6-1.6h0m0.5 1h0m0.3 1.7h0m0.9-0.9h0m6.3-1.7h0m5.7 0.3h0m0.2 1.6h0m1.7 0.3h0m5.5-3h0m3.9 2h0m1.8-0.3h0m7.2-1.8h0m0.2 1.6h0m2 0.3h0m13.9 0.8h0m3.3-2h0m1.3 2.4h0m3.6-0.5h0m0.5-1.1h0m1.7-0.5h0m3.8 0.2h0m11.6 0.8h0m0.9 0.9h0m1.4-2.7h0m3.6 0.7h0m120.3 1h0m17.6 0.3h0m6.4-1.4h0m-258.9 6.2h0m1 0.6h0m1.1 0.1h0m0.5-3.7h0m0.6 2.1h0m0.8 1h0m0-0.2h0m0.1-1.3h0m0.1 0h0m0.2-0.3h0m0.5-0.4h0m0.1 1.5h0m0.2-1.5h0m0.1 1.6h0m0.1 0.6h0m0 0.4h0m0-0.2h0m0 0.4h0m0.2-0.6h0m0-1.6h0m0.2-0.3h0m0.7 0.2h0m0.3-0.7h0m0 0.9h0m0.4 0.7h0m0.2-2h0m0.3 0.5h0m0.7 0.2h0m0.2 0.9h0m0.4-0.1h0m0.2-1.1h0m0.4-0.2h0m0.3 2.2h0m0-1.5h0m0 1.6h0m0.9-2.8h0m0.3 0.7h0m0.9-0.1h0m0.6 2.2h0m0.4-2.1h0m0.1 0.8h0m0.2 1.9h0m0.6-1.6h0m0.8-0.6h0m0.5 0.5h0m0.2-1.2h0m1.1 0.6h0m1.9-0.1h0m0.7-0.3h0m0.8-0.3h0m0.6 0.6h0m0.2 0.7h0m0.6-0.8h0m0.9 0h0m1.1 0.1h0m1.4 1.2h0m0-1.8h0m0.3 1.5h0m0.4-0.3h0m2.6 0h0m0.4 0.3h0m0.1 0.6h0m0.5-1.1h0m1.7 2.2h0m0.4-3.7h0m0.3 0.2h0m2.1 2h0m0.6-0.8h0m0.7 0.3h0m1.3-1.1h0m0.5 0.6h0m1.6 0.3h0m1.8 1.4h0m4.8-0.4h0m3.5-1.3h0m4-0.3h0m4 1.6h0m1.1-1.7h0m3.8 2.5h0m1.8-1.9h0m3 1.4h0m1.4-1.6h0m1.8 2h0m7.9-0.7h0m3.4-1.9h0m4.8 2.7h0m2.8 0.1h0m28.7-2.5h0m13.3 0.2h0m6.3 2.8h0m7.2-1.7h0m9.6-2h0m0.3 0.6h0m1.3 0.8h0m34.7 0h0m3.9 2h0m9.7-1.1h0m62.8-0.7h0m102.8 0.2h0m-372.1 2.5h0m2.9 0.2h0m1.2 0.1h0m1.1-0.8h0m0.3 2.9h0m0.1-2.2h0m0.4 0.5h0m0.1-0.8h0m0.8-0.3h0m0.4 3.5h0m0.1-2.5h0m0.2 0.8h0m0 2h0m0.3-1.7h0m0.1 0.5h0m0-0.8h0m0.5-1h0m0.1 1.2h0m0-1.3h0m0.3 1.6h0m0.2-0.1h0m0.1-0.4h0m0.7 0.9h0m0-0.7h0m0.2-0.7h0m0.3 0.8h0m0.2 0.4h0m0.2 0.7h0m0.5-2.7h0m1.4 3.3h0m0.7-3.7h0m1.4 1.9h0m2.2 1.2h0m0.1-2.2h0m0.1-0.2h0m0.3 0.2h0m0.5 0.4h0m0.1-0.8h0m1.5 1.8h0m0.7 0.6h0m1 0.8h0m0.4-0.7h0m0.2-2.3h0m0.5 1.1h0m0.9 0.9h0m0.8-0.5h0m0.3 0.9h0m1.4-0.7h0m1.4-1.6h0m2.3 2.3h0m0 0.4h0m0-0.9h0m0.9-0.9h0m1.2 0.9h0m0.8 0.5h0m4.3-3.2h0m0.6 0h0m0.3 1.8h0m0.4-1.6h0m0.3 2.2h0m1.3-1.3h0m0.5 0.7h0m0.2-1.5h0m0.6 2.1h0m0.4-1.5h0m0.1 0.8h0m0.1-0.1h0m0.2 0.2h0m1.2-1.9h0m0.5 3.6h0m2.2-2.9h0m2.2 0.3h0m0.6 2.7h0m0.9-1h0m0.1-2.7h0m4.1 2h0m1.6 1.3h0m0.8-1.5h0m0.5-0.4h0m1.9 1.3h0m0.2-2.5h0m4.5 1.7h0m1.6-0.6h0m1 2.5h0m1.5-0.6h0m0.2 0.4h0m9-1.6h0m2.4-1h0m3 0h0m6.3-0.5h0m2.1 1.9h0m4.7-0.1h0m8.1 1.4h0m20.3-0.9h0m5.7 0.7h0m11.6-2h0m2.4-1.5h0m17.2 2.3h0m34.7 1h0m-190.8 0.8h0m0.3 1.7h0m0.7-0.6h0m0 1.5h0m0-2.3h0m0.7 2.8h0m1-0.5h0m0-2.6h0m0.3 2h0m0.4 1.8h0m0.1-2.5h0m0.1 1.6h0m0.5-1.6h0m0 0.2h0m0.8 1.9h0m0.5-0.1h0m0.8-1.1h0m0.5-0.7h0m0.3 0.7h0m0-0.5h0m0.1 1.9h0m0.1-1.3h0m0.8-1.3h0m2-0.1h0m0.4 0.5h0m0.5 2.2h0m0.3-2.7h0m0.2 2.2h0m1.1 0.5h0m1.3-1.9h0m0.1-1h0m0.9 0.8h0m0.5-0.2h0m0.2 1.6h0m0.1-2.4h0m0.1 0.2h0m0.4 0.2h0m0-0.9h0m1.2 2.5h0m0.4 0.8h0m2.3-1.5h0m2.5 0.1h0m0.9 1.1h0m0.1-1.5h0m0.2-0.6h0m0.8-0.8h0m0.1 0.2h0m0 0.7h0m1 2.9h0m0.3-3.2h0m0.5-0.7h0m0.5 2.5h0m0.7-2.3h0m0.2 2.1h0m3.3-2.2h0m1.1 3.4h0m0.5-2.5h0m0.7-0.5h0m0 0.6h0m0.5 2.5h0m1-3h0m1.4 0.4h0m1.2 1.7h0m1.2-0.9h0m0.1-0.6h0m0.9-0.1h0m0.3 0.7h0m2.5-1.4h0m1.6 0.1h0m2.5 2.3h0m0.1-0.3h0m0-0.2h0m2.2 0.8h0m0.2-2.5h0m0.9 2.1h0m4.3-2.2h0m0.3 0.4h0m0.2 1.9h0m3.7 1h0m3.5-0.5h0m3.2-0.9h0m2.8 0.9h0m2.3-0.9h0m1.2 1.3h0m16-0.3h0m4.9-1.4h0m14.7-0.8h0m53.4 1.5h0m2.3-0.4h0m31.3-1.8h0m0.2 1h0m7.4 0.5h0m1-1.8h0m43.5 0.5h0m1-0.5h0m82.6-0.3h0m-328.8 7.2h0m0.3-1.9h0m0.1 2.6h0m0.1-1.9h0m0.2 1.6h0m0.3-0.8h0m0.4-1.7h0m0.1 0.8h0m0.1 2h0m0-3.2h0m0 2.3h0m0.1-0.1h0m0.3-0.9h0m0.2-1.3h0m0.1 0.3h0m0 1.8h0m0.2-2.5h0m0.8 2.4h0m0-1.3h0m0.3 1.6h0m0.2-0.6h0m0.1-0.5h0m0.1 0.7h0m0.3 1.3h0m0.4-0.4h0m0.8-2.6h0m0 1.1h0m0.4-0.5h0m0.1-0.1h0m0.1-0.6h0m0.4 2.8h0m0.1-0.9h0m0.8 1h0m0.2-1h0m0.1-1.6h0m0.1-0.1h0m0.1-0.9h0m0.1 1.9h0m0.1-1.6h0m0.7 2h0m0.3-1.2h0m0 0.2h0m0.1 0.6h0m0.3-1.1h0m1.7 0.5h0m0.5 0h0m0.4 0h0m0.1 2.6h0m0.3-3h0m0.6 0.3h0m0.5 0.8h0m1-0.3h0m0.2 1.3h0m1.8 0.6h0m0.8-1.4h0m0.8-1.2h0m0.3-0.6h0m0.2 2.2h0m2.5-0.1h0m0.5 0.8h0m0.2-3.3h0m0.8 0.8h0m0.1 2.6h0m0.5 0.2h0m0.2-0.1h0m3-1h0m0.7 0.9h0m0.4 0.3h0m0.5 0.1h0m0.3-2.4h0m0.8 0.2h0m0.9 2.2h0m1.8-1h0m0.8-1.4h0m0.4-1.5h0m1.5 0.9h0m3.4 0.6h0m0.5 1.7h0m0.3-2.4h0m1.3 0.5h0m0 0.8h0m0.1-1.1h0m1.7-0.8h0m1.1 2h0m0.8 0.2h0m2.9 1h0m0.9-0.3h0m2.6-2h0m0.4 0.6h0m4.9 1.7h0m3-2.2h0m2.5 0.4h0m4-1.2h0m0.2 1.5h0m6.2-1.6h0m10.9-0.1h0m1 0.9h0m0.7 0.9h0m2-1.6h0m6.2 3.1h0m3.1 0.4h0m26-2.3h0m57.9 0.1h0m59.1 0.6h0m33.3-0.8h0m31-1.1h0m-306.2 4.1h0m2.4 0h0m0 3.5h0m0.6-3.6h0m0.2 1.1h0m0.1 0.5h0m0.5-1.7h0m0.5 3.6h0m0.1-3.7h0m0.1 3.8h0m0.1-2.6h0m0.2-1.3h0m0.5 1.8h0m0.4 0.2h0m0 1.3h0m0.3 0.5h0m0.1-2.2h0m0.7 0h0m0.1-1.6h0m0.2 1.4h0m0-1.3h0m0.1 3.3h0m0-3.3h0m0.4 0.5h0m0.4 2h0m0.3-2.6h0m0 3.2h0m0.1-2.6h0m0.1 1h0m0.1 1h0m0.3-1h0m0.1 2.1h0m0.9-0.4h0m0.2 0.6h0m0.2-3.3h0m1.4 3h0m1.9-1.9h0m0.1-1.8h0m0.5 1.8h0m1-1.6h0m0.9 3.1h0m0-2.1h0m0.2 1.4h0m0.1-0.9h0m0.2-0.8h0m0.6 3h0m0.6-2h0m0 1.2h0m0.3 0.7h0m0.3-0.6h0m1.1-0.7h0m0.5 0.4h0m0.3-2.9h0m0.6 0.2h0m0.2 1.1h0m0 1.9h0m0.1-2h0m0.6 0.3h0m0.5-0.7h0m1.1 1h0m0-1.6h0m0.5 3.4h0m0.4-0.7h0m1.8-0.5h0m0.3 0.2h0m0.1-1.7h0m0.8 0.3h0m1.7-0.6h0m0.5 1.4h0m0.7-1.1h0m0.1 2.2h0m0.5-1.5h0m0.3-1.1h0m0 1.8h0m0.3 1.3h0m1-3.1h0m0.3 1.8h0m1.7 1.1h0m0.4-3.1h0m0.2 2.9h0m0.7-3.1h0m0.8 3.1h0m0.3-0.6h0m3.6-1.5h0m0.2 0.3h0m1.1 2.4h0m3.4-1h0m1 0.7h0m0.1-2.2h0m0.5 1.8h0m1.8-1.8h0m1.3 2h0m1.5-1.7h0m3.8 1h0m0.7 0.1h0m1.1 0.2h0m0.6-1.2h0m1.4 1.2h0m6.4-0.4h0m1.1-0.1h0m0.2 1.3h0m0-2.1h0m5.2-0.3h0m3.6 1h0m2.7 0.9h0m0.9-2.7h0m4.2 1.3h0m2.6-0.6h0m28.2 1.2h0m2.2 0.1h0m3.2-1.5h0m3.6-0.8h0m21 3.4h0m23.4 0h0m29.5 0.3h0m34.8-2.3h0m-232.5 5.2h0m0.9-2.2h0m2.2 2h0m2.6 0.3h0m0.7-1.8h0m0.5 0.6h0m0 0h0m0.1-1.5h0m0.1 1.9h0m0 0.6h0m0.1 0.6h0m0.1-1.6h0m0.2 0.8h0m0 0.2h0m0.2-0.5h0m0-2.1h0m0.2 3.4h0m0.1-3.5h0m0.1 1.1h0m0 1h0m0.1 0.3h0m0-1.5h0m0.1 1.5h0m0-1h0m0.1-1.2h0m0.3 0.5h0m0.3 1.6h0m0.5-1.2h0m0.1-0.7h0m0.3 3h0m0.1-0.7h0m0.3-0.6h0m0.1-1.6h0m0.2 1.1h0m0.3 0.6h0m0.2 1.6h0m0.1-1.2h0m0.5-1.5h0m1 1.8h0m0.1-1.6h0m0.5 2.1h0m0.1-3.1h0m0.5 0.7h0m0.5 2.7h0m0.6-1.5h0m0.1-0.5h0m0.3 0.9h0m2.8-2h0m1.4 2.9h0m0.9-0.3h0m0.4-2.7h0m0.7 1.2h0m0.8-0.9h0m1.3 2h0m0-2.7h0m0.1 1.4h0m0.4-1.1h0m0.1 3.4h0m0.3-0.6h0m1.4-1.5h0m0.5 1.3h0m0.1-1.1h0m0.6-1.4h0m0.3 1.5h0m0.1 0.6h0m1-0.4h0m0.3-0.8h0m0.1-0.4h0m0.2 0.6h0m0.8-0.5h0m0.8 1.8h0m1.5-0.4h0m1-1.8h0m0.2 2.6h0m1.1-1.5h0m0.8 0.7h0m0.4-0.5h0m0.5-0.9h0m0.1 0.2h0m2.6 0.7h0m0.9 1h0m0.4-0.2h0m1.1-2.4h0m1 1.1h0m1.9-1.1h0m5.3 2.4h0m0.2 1.1h0m0.9-3.7h0m0.9 0.2h0m3.1 0.3h0m2.8 2.5h0m0.1-3h0m1.8 1.7h0m0.5-0.6h0m4.2 0.6h0m8 1.7h0m11.4-0.7h0m11.8-2.8h0m7.3 1.9h0m26 0h0m0.1-0.9h0m17.3 0.8h0m109.6 0.9h0m35.8-2.7h0m21.9 0.6h0m26.4 0.7h0m-339.7 3.4h0m2.7 1.2h0m2.8-1.3h0m0.2 0.4h0m0-0.3h0m0.8 0.8h0m0.2 1.3h0m0.1-2.2h0m0 0.5h0m0.2 1h0m1-1.5h0m0.5 1.1h0m0.1-0.1h0m0.4 0.8h0m0.4-1.6h0m0.2 0.6h0m0-0.9h0m0.1 3h0m0.5-1.9h0m0.4 0h0m1.1 0.5h0m0 0.6h0m0.4-1.1h0m0.4-0.8h0m0-0.9h0m0.4 3.9h0m0.2-0.6h0m0.4-1h0m0.1-1.1h0m0.1 0.3h0m0.3 1.6h0m0.8 0.7h0m1.3-1.9h0m0-1.6h0m1.6 0.3h0m0 0.5h0m1.3-1.1h0m0.6 0.8h0m0.2 2.7h0m0.4-0.1h0m0.1-1h0m1.3-2.3h0m1.6 0.2h0m1.3 1.8h0m0.6-2h0m1.7 0.4h0m1.6 0.4h0m0.1 0.6h0m2 1.4h0m0.6-2.4h0m1.4 1.7h0m0.3-1.9h0m0.2-0.2h0m0.5 1.9h0m0.6-0.6h0m0.6 2.4h0m0.6-3.4h0m1.4 2.5h0m1 0.7h0m0.5 0.3h0m0.4-3.4h0m1.5 0.2h0m4 0h0m2.2-0.6h0m0.9 3.6h0m1.8-1.9h0m5.6-0.8h0m0.8 0.7h0m2.5-0.6h0m0.7-0.2h0m0.4 0.2h0m5.4 2.7h0m4.5-2.7h0m2.1 2.7h0m1.1-3.1h0m3.9 1.6h0m5.1-2.2h0m3.5 1.4h0m31.4 1.7h0m83.4-3h0m-194.2 4.5h0m1.8 0.7h0m0.1-0.7h0m0.7 1.6h0m0.3-1.4h0m0.1-0.3h0m1.8 1.5h0m1.3-0.4h0m1.1-0.2h0m1.3 0.5h0m1.8-1h0m1.3 1h0m0.4-1.7h0m1.2 1h0m0.6 0.4h0m1-0.2h0m0.3-1.4h0m1.8 1.2h0m1-1.1h0m0.7 1.3h0m0-1h0m3.4-0.1h0m2.8 0.8h0m0.4-0.6h0m3.2 1.8h0m0.8 0h0m0.5-1.7h0m0.1-0.5h0m2.8 2h0m1.8-1.4h0m0.4 0.9h0m1.1 0.7h0m1-2h0m4 1.1h0m3.4-1.4h0m0.1 0.4h0m5.2 0.7h0m1.5 0.1h0m7-0.2h0m9.2 0h0m38.7 0.9h0" fill="none" stroke="#000" stroke-width="1.7" stroke-linecap="square" opacity="0.8"/>
<ellipse cx="1049.5" cy="1592.5" rx="8.5" ry="9" fill="#000"/>
<ellipse cx="1045" cy="1598" rx="5" ry="7" fill="#000"/>
<rect x="1022.90" y="1403.50" width="398.70" height="246.50" fill="none" stroke="#3a3a3a" stroke-width="1.5"/>
<line x1="1031.00" y1="1650.00" x2="1031.00" y2="1640.00" stroke="#3a3a3a" stroke-width="1.5"/>
<text x="1025.62" y="1677.60" font-size="21.00" font-family="'Liberation Sans',sans-serif" fill="#111">0</text>
<line x1="1126.60" y1="1650.00" x2="1126.60" y2="1640.00" stroke="#3a3a3a" stroke-width="1.5"/>
<text x="1121.27" y="1677.60" font-size="21.00" font-family="'Liberation Sans',sans-serif" fill="#111">2</text>
<line x1="1222.20" y1="1650.00" x2="1222.20" y2="1640.00" stroke="#3a3a3a" stroke-width="1.5"/>
<text x="1216.98" y="1677.60" font-size="21.00" font-family="'Liberation Sans',sans-serif" fill="#111">4</text>
<line x1="1317.80" y1="1650.00" x2="1317.80" y2="1640.00" stroke="#3a3a3a" stroke-width="1.5"/>
<text x="1312.37" y="1677.60" font-size="21.00" font-family="'Liberation Sans',sans-serif" fill="#111">6</text>
<line x1="1413.40" y1="1650.00" x2="1413.40" y2="1640.00" stroke="#3a3a3a" stroke-width="1.5"/>
<text x="1408.02" y="1677.60" font-size="21.00" font-family="'Liberation Sans',sans-serif" fill="#111">8</text>
<line x1="1022.90" y1="1415.40" x2="1030.40" y2="1415.40" stroke="#3a3a3a" stroke-width="1.5"/>
<text x="993.23" y="1419.40" font-size="21.00" font-family="'Liberation Sans',sans-serif" fill="#111">20</text>
<line x1="1022.90" y1="1459.50" x2="1030.40" y2="1459.50" stroke="#3a3a3a" stroke-width="1.5"/>
<text x="993.33" y="1463.43" font-size="21.00" font-family="'Liberation Sans',sans-serif" fill="#111">15</text>
<line x1="1022.90" y1="1503.60" x2="1030.40" y2="1503.60" stroke="#3a3a3a" stroke-width="1.5"/>
<text x="993.22" y="1507.45" font-size="21.00" font-family="'Liberation Sans',sans-serif" fill="#111">10</text>
<line x1="1022.90" y1="1547.70" x2="1030.40" y2="1547.70" stroke="#3a3a3a" stroke-width="1.5"/>
<text x="1004.98" y="1551.47" font-size="21.00" font-family="'Liberation Sans',sans-serif" fill="#111">5</text>
<line x1="1022.90" y1="1591.80" x2="1030.40" y2="1591.80" stroke="#3a3a3a" stroke-width="1.5"/>
<text x="1004.88" y="1595.50" font-size="21.00" font-family="'Liberation Sans',sans-serif" fill="#111">0</text>
<line x1="1022.90" y1="1635.90" x2="1030.40" y2="1635.90" stroke="#3a3a3a" stroke-width="1.5"/>
<text x="1313.97" y="1428.80" font-size="21.94" font-family="'Liberation Sans',sans-serif" fill="#111">r = 0.329</text>
<text x="1078.68" y="1708.90" font-family="'Liberation Sans',sans-serif" fill="#000" xml:space="preserve"><tspan font-size="21.40">t</tspan><tspan font-size="12.84">1,2</tspan><tspan font-size="21.40"> - t</tspan><tspan font-size="12.84">3,4</tspan><tspan font-size="21.40"> (min) [fully connected]</tspan></text>
<text transform="translate(986.40,1637.50) rotate(-90)" x="-0.32" y="0" font-family="'Liberation Sans',sans-serif" fill="#000" xml:space="preserve"><tspan font-size="21.48">t</tspan><tspan font-size="12.89">1,2</tspan><tspan font-size="21.48"> - t</tspan><tspan font-size="12.89">3,4</tspan><tspan font-size="21.48"> (min) [left branch]</tspan></text>
<text x="451.30" y="1782.10" font-size="38.54" font-family="'Liberation Sans',sans-serif" font-weight="bold" fill="#000">h</text>
<text x="518.80" y="1775.60" font-family="'Liberation Sans',sans-serif" fill="#000" xml:space="preserve"><tspan font-size="21.93">A = 10 ≤ </tspan><tspan font-size="21.93" font-weight="bold">100</tspan><tspan font-size="21.93"> ≤ 1000</tspan></text>
<text x="517.05" y="1802.20" font-family="'Liberation Sans',sans-serif" fill="#000" xml:space="preserve"><tspan font-size="21.84">B = 100 ≤ </tspan><tspan font-size="21.84" font-weight="bold">1000</tspan><tspan font-size="21.84"> ≤ 10000</tspan></text>
<text x="517.05" y="1827.40" font-family="'Liberation Sans',sans-serif" fill="#000" xml:space="preserve"><tspan font-size="21.86">D = 10 ≤ </tspan><tspan font-size="21.86" font-weight="bold">100</tspan><tspan font-size="21.86"> ≤ 1000</tspan></text>
<path d="M0 0m583.2 1896.2h0m193.3 0.9h0m-75.7 5.4h0m81.8 12.8h0m-155.4 20.6h0m272.8 3.7h0m-9.8 9.9h0m3.1 3.9h0m5.8 0.4h0m0.3-2.2h0m-154.9 5.8h0m57.4-1.5h0m57.6 0.7h0m0.2-1.7h0m28 0.5h0m5.2-0.2h0m-80.6 5.9h0m20.9-0.3h0m6.3 0.5h0m11.1-1.3h0m9.3-0.1h0m9 1.1h0m10.1-2.6h0m3.6 1h0m0.6 0h0m12.9 0.7h0m-89 3.8h0m0.1 0.7h0m14.4 0.7h0m0.4-2.2h0m9.2-0.9h0m2.3 1.1h0m12 0.7h0m6.5 0h0m6.9-0.6h0m2.4 1.9h0m0.4-0.3h0m6.9-0.5h0m4-2.2h0m7.3 0.8h0m0.4 2.4h0m2.6 0.1h0m0.4-0.7h0m1.9-0.7h0m13.9-1.7h0m-157.3 5.2h0m46.4 1.7h0m40.6 0h0m1.6-3.1h0m2.7 2.2h0m2.5-1.2h0m3.3 1.5h0m1.8-1.4h0m0.4-0.6h0m3.8-0.7h0m5.8 1.7h0m38.1 0.5h0m-178.4 4h0m57.6-1.7h0m12.2 1.8h0m5.9-0.8h0m12.9-0.1h0m3 0.2h0m4.7-0.8h0m7.6 0.8h0m7.3-1.7h0m3.5 3.6h0m4.3-3.5h0m7.5 2.1h0m2.6-1.3h0m6.9 0.1h0m-79.5 5h0m1.5 1.5h0m4.7-1.4h0m0.8 0.5h0m0.6 1.2h0m3.4-2.2h0m14.6 1.7h0m1.8-2h0m4.7 1.6h0m0.8 0.3h0m4.9 0h0m1.1-0.8h0m1 0.6h0m14.8-1.5h0m3.2-1.3h0m-138.7 4.6h0m49.2 3h0m15.3-1h0m1.8-1.2h0m9.3-1h0m0.1 0.6h0m0.7 1.9h0m5.3 0.9h0m1.6-3.1h0m0.2 2.3h0m1.5-0.5h0m3.4-1.8h0m7 2.2h0m1.4-0.5h0m1-2.4h0m5.3 0.6h0m0.8 0.8h0m4.7 0.6h0m25.7-1h0m11.2 1.9h0m39-2.2h0m9.1 1.1h0m-171 4.8h0m2.1-0.6h0m18.2-1.3h0m6.5 1.5h0m4.9-0.4h0m2.9-1.5h0m0.5 2.5h0m1.5 0.5h0m2-0.3h0m3-0.4h0m0.4 0.8h0m5.7-0.9h0m3.2 0.2h0m0.5 0.8h0m5-2.8h0m0.5-0.4h0m2.6 1.6h0m0.1-0.6h0m0.8-0.5h0m1.4-0.7h0m10.5 2.4h0m0.7-2.6h0m37.1 3.2h0m-123.4 4.4h0m2.3-0.7h0m12.9-2.3h0m2.9 2.7h0m5.3-1.7h0m0.1 2.3h0m1.3-2.7h0m1.3 2.3h0m10.3-2.7h0m0 0.1h0m1.1 1.2h0m0.2-0.8h0m6.6 0.1h0m6.2 0.4h0m14.4-1.1h0m2.9-0.6h0m-131.4 6.9h0m31.7-2.5h0m9.8 3.3h0m6.8-0.2h0m2.4-0.9h0m0 0.6h0m2.9 0.5h0m2.5-1.3h0m2.7 0.1h0m1.1-0.7h0m1.3 0.5h0m0.9 0.3h0m1.2-1.7h0m0.4-0.8h0m1 2.2h0m0.4-0.3h0m1.8 1.6h0m3.5-0.2h0m0.5-2.3h0m1.4 0.8h0m0.2-0.7h0m3 0.1h0m3.1-0.6h0m0.6 2.2h0m0.6-2.1h0m1.2 2.9h0m0.4-1.1h0m1.5 0.5h0m1.7-1.1h0m1.7-0.9h0m3.5 1.6h0m1.8-1.9h0m4.5 0.2h0m7.6 0.6h0m15.2-1.6h0m17.7 0.8h0m-112 5.3h0m11.7 0.8h0m2.5 0.1h0m1.3-0.9h0m0.7 0h0m2.6 0.2h0m2.9 1.4h0m0.1-0.4h0m1.6 0.1h0m0.4-1.6h0m2.4 0.2h0m0.3-1.5h0m2.9 1.2h0m1.3-1.3h0m1.2 2.8h0m0.7-2.2h0m0.1 0.5h0m2.1 0.3h0m2.5-0.2h0m0.7-0.2h0m1.1 0.8h0m2.5-1.8h0m4.7 2.1h0m5.2-0.8h0m13.5-1.6h0m5.2 1.7h0m0.5-1.6h0m1.6 0h0m1.9-0.3h0m4.2 3.4h0m4.8-3.5h0m-106.4 5.6h0m5.6 1.9h0m1-0.7h0m2-1.1h0m4.2 1.3h0m3.8 0.6h0m1.3-0.7h0m0 0.3h0m0 0.7h0m1.5-3.7h0m0 2h0m0.6-1.7h0m0.2 3.4h0m0.9 0.1h0m1.9-0.6h0m0-1.7h0m0.7 1h0m0.5-2h0m0.6 1.1h0m0.4 1.8h0m0.7-0.5h0m0.8-1.4h0m1.1 1.9h0m0.4-2.5h0m0.2 1.4h0m0 0.4h0m0.9-1.7h0m0.1 0.8h0m0.6 0.1h0m1.1 0.1h0m0.1 0.7h0m0.2-1.4h0m0.4 2h0m0.1-1.1h0m0.1 0.5h0m0.4 0.9h0m0.2-2.3h0m0.3 2h0m0.3 0.5h0m0.6-0.4h0m0.5-0.2h0m2-0.4h0m2.6-0.7h0m2.5-1.7h0m0.8 2.2h0m0.3-2.3h0m0.4 2.4h0m0.8-2.5h0m0.2-0.3h0m4.7 2.4h0m0.2-1.1h0m0.8-1.3h0m0.2 1.5h0m2.9 0.4h0m3.9-0.4h0m3-0.7h0m5.4 0h0m7.2 0.2h0m-173.5 6.4h0m33.4-3.1h0m41.7 1.6h0m12.5 1.2h0m0.7-0.3h0m0.5 0.8h0m1.2-0.2h0m3-0.9h0m0.4 0.9h0m1.2-0.8h0m0.3 0.6h0m1.3 0h0m0.2-0.3h0m0.8-0.6h0m0.7 1h0m1.1-0.2h0m1.5 0.4h0m0-0.8h0m1.3-1.3h0m0 0.8h0m1.5-0.1h0m1.5 0h0m0.8-0.5h0m0.1 0.3h0m0-0.3h0m0.4 1.5h0m0.1 0.8h0m0.6-3.1h0m0.2 2.1h0m0.4-0.8h0m0.3 1.5h0m0.2-2.7h0m0.2-0.5h0m0.2 0.8h0m0.2 0.9h0m0.2-1.1h0m0.4 2h0m0.8-0.6h0m0.1 0h0m1-0.6h0m0 0.2h0m0.5 0.4h0m0.7 0h0m0 0.8h0m0.3-1.4h0m0.4-1.5h0m0.7 3.5h0m0.3-3.7h0m0.7 2.8h0m1.3-1.1h0m0.8 0.3h0m0.3-0.6h0m0.2-0.5h0m0.9-0.6h0m0 0.4h0m0.1-0.1h0m0.3 1.7h0m0.4-1.1h0m0.1 1.4h0m0.3-2.2h0m0.3 2.4h0m0.7-0.5h0m0.2-1.7h0m1.7 1.4h0m4.5-2.1h0m0.9 1.1h0m0.6-0.3h0m1.2 0.3h0m1.1 1h0m2.5 0.3h0m0.2-0.5h0m6.1-0.9h0m0.5 1.1h0m3.2-1.8h0m1.5 1.4h0m9.2 0.2h0m4 1.6h0m65.7-3.1h0m-160.7 7h0m5.7-0.1h0m0.2-0.1h0m0.3-1.6h0m1.1 2.3h0m1-1.2h0m1.4-0.6h0m1.3 0.9h0m0.2 0h0m1.1 0.6h0m0.6-3.6h0m0.3 3.9h0m0.3-0.2h0m0.1-1.9h0m0.2 0.9h0m0.3 0.8h0m0.6 0.3h0m0.1-1.6h0m0 0.2h0m0-0.8h0m0.7-1.1h0m0.7 0.8h0m0.5 1.1h0m0.1-0.7h0m0 1.2h0m0 0.7h0m0.4-2.5h0m0.2 1.5h0m0.2 0.9h0m0.1-3.4h0m0.2 3.3h0m0.1-1.1h0m0.5 0.7h0m0 0.8h0m0.1-2.1h0m0.2 1.7h0m0.9 0.3h0m0.2-2.6h0m0.3 2.3h0m0.1-0.1h0m0.5-1.9h0m0.1 2.2h0m0-2.2h0m0.2-0.4h0m0 2.5h0m0.6-2.6h0m0.1 1.1h0m0 0.2h0m0.3 0h0m0.7-1.3h0m0.5 1.8h0m0.5 0.7h0m0-1.9h0m0.1-0.6h0m0.1 2.8h0m0.2-2.3h0m0.5 1.1h0m0.1 1.1h0m0.3-0.6h0m0.2 0.3h0m0.2-3.2h0m0.2-0.2h0m0.1 3h0m0.1-1.4h0m0.1 1.1h0m0.9 0.9h0m0.4-0.8h0m0.2 0.7h0m0.3 0.2h0m0.2-1.3h0m0.6 0.2h0m0.1-1h0m0.2 1h0m0.3 0.6h0m0.4-2.9h0m0.2 1.7h0m0.1 0.6h0m0.2-2.4h0m0.1 0.3h0m0.3 2.4h0m0 0.4h0m0.3 0.2h0m0.4-3.3h0m0.3 1.8h0m0.3-0.5h0m0.1-0.8h0m0.2 1.9h0m0.6-1h0m0.3 1h0m0.4-2.6h0m0.5 2.1h0m0.4-1.2h0m0.1 1.7h0m0-1.4h0m0.3 2.2h0m0.5-2.5h0m0.5 1.5h0m0.6-1.6h0m0.7 0.9h0m0.5 2h0m0.5-2h0m0.8 0.1h0m0.5-1.5h0m0.1 2.9h0m1.1-2.6h0m1.4 0.5h0m2.1-0.5h0m0.1 1.3h0m0.6 1.3h0m2-2.3h0m1.3-0.4h0m0.6 2.1h0m6-2.6h0m0.4 0.2h0m6 0.5h0m50.4 2.1h0m-134.5 5.2h0m7.2-0.1h0m0.1-1.1h0m0.7 0.1h0m0.4-0.6h0m0.6 1.7h0m0.5-2.1h0m0.6 1.3h0m0.1 0.8h0m0-0.3h0m0.1-0.4h0m1.5-0.6h0m0.3 1.2h0m0.1-1.1h0m0.2 1.2h0m0.6 0h0m0.1-0.2h0m0.1 0.1h0m0.2 0h0m0.5-1.6h0m0.2-1.2h0m0.3 2.3h0m0.2-0.1h0m0.4-0.9h0m0.2 1.4h0m0.3 0.1h0m0.2-1.4h0m0.2 0.1h0m0 0.3h0m0.1 0.7h0m0.1 0.2h0m0.2-2.1h0m0.1 0.9h0m0-0.2h0m0.3 1.1h0m0.2-2h0m0.2 2h0m0.7-2h0m0.1-0.7h0m0.1 3h0m0.1-0.4h0m0.1 0.1h0m0.3-0.5h0m0.1-0.1h0m0.1 1h0m0.4-0.1h0m0.2 0.2h0m0.1-1.4h0m0.2 0.8h0m0.1 0.4h0m0-2.8h0m0.7 1.7h0m0.1-0.7h0m0.1-0.8h0m0.1 0.3h0m0.3-1.3h0m0.3 1.9h0m0.2 0.7h0m0 1.1h0m0.2-1.8h0m0.1 1.5h0m0.1 0.1h0m0.1-0.6h0m0.2 0.8h0m0.2-1.3h0m0 0.6h0m0.2 0.5h0m0-1.1h0m0.2-0.2h0m0 0.5h0m0.1-1.6h0m0.2-0.6h0m0 2.7h0m0.1-2.1h0m0.2 2.4h0m0.6-0.4h0m0.3-0.7h0m0.5-0.1h0m0 0.8h0m0.1 0.6h0m0-3.9h0m0.2 1.7h0m0-0.7h0m0.3 1.7h0m0.2 0.9h0m0.2-3.2h0m0.2 1.9h0m0 1.5h0m0-1.5h0m0-0.2h0m0.2-0.4h0m0.2 1.8h0m0-1.5h0m0.1-0.2h0m0.2-0.8h0m0.2 1.2h0m0.2 0.9h0m0.2-2.1h0m0 0.8h0m0.1-1.4h0m0 3.6h0m0.1-2.3h0m0.1 0h0m0.1 0.3h0m0.2 1h0m0.4 0.1h0m0 0.5h0m0.1-0.7h0m0-2.1h0m0.3 1.3h0m0 0.2h0m0.3-2.2h0m0.1 3.7h0m0.1-1.3h0m0-1.2h0m0.2-0.2h0m0-0.5h0m0.3 3h0m0-1.3h0m0.1-0.8h0m0 0h0m0.1-1.4h0m0.1 3.5h0m0.1-1.2h0m0.3 0.3h0m0.1-0.7h0m0.1-1.4h0m0-0.1h0m0 0h0m0.2 1.9h0m0-1.2h0m0.3-1h0m0 1.8h0m0.4 0h0m0.2-1.7h0m0.1 2.4h0m0.6-2h0m0.3-0.5h0m0.2 2.9h0m0.1 0.6h0m0.1-3h0m0.1 3.1h0m0.1-3.6h0m0.8 0.3h0m0.3-0.2h0m0.3 1.1h0m0.1 0.5h0m0.1-1.2h0m0.7 1.6h0m0.5 1.6h0m0.9-0.2h0m0.3-2.6h0m0.8 0.2h0m0.1-0.5h0m1.5 1.5h0m0.2-2.1h0m0.5 0.7h0m0.3 0.9h0m0-0.8h0m0.4-0.5h0m0.7 0.7h0m0.4 0.1h0m1 0.9h0m0.7 0.5h0m1.1-2.1h0m1.9 0.6h0m2.4-0.8h0m4-0.2h0m2 0.7h0m0.3-0.8h0m0.8 1.9h0m1.7-0.3h0m38.7 2.1h0m18.3-2.3h0m45-0.1h0m-183 5h0m6.1 1.4h0m3.4 0h0m0.1 0.1h0m1.5-1h0m0 1.1h0m1-0.9h0m0.5 0.7h0m0.6-0.7h0m0.4 0.3h0m0.2 0.3h0m0.1-0.8h0m0.2-0.1h0m0.2 1.2h0m0-0.7h0m0.4-0.1h0m0.2-0.8h0m0.2 0.6h0m0.5 0.9h0m0.2-0.2h0m0.4-0.2h0m0.1-0.3h0m0 0.7h0m0.4-1.1h0m0 1h0m0.1-1.3h0m0.3 1.5h0m0.2-0.5h0m0 0.5h0m0.1-0.5h0m0-0.2h0m0-0.4h0m0.4-0.2h0m0.3-0.9h0m0.1 1.1h0m0.1 0.1h0m0.1 0.9h0m0.1-1.9h0m0.1 0.3h0m0.5 1.6h0m0-1h0m0.2 0.4h0m0-1.9h0m0.4 2.4h0m0-1.9h0m0.1-0.1h0m0 0.6h0m0.1 1.6h0m0-0.5h0m0-0.2h0m0.2-1.8h0m0.2 0.5h0m0.2 1.5h0m0.1 0.2h0m0 0.1h0m0-1.3h0m0.3-0.2h0m0.2 1.6h0m0 0.1h0m0.1-1.2h0m0.2-0.3h0m0.2 0.9h0m0 0.3h0m0.1-1.5h0m0.1-1.2h0m0.1 2.6h0m0.1-1.7h0m0.1 1.6h0m0-0.5h0m0.5 0.3h0m0.2 0.1h0m0-1.4h0m0.2 0h0m0.3 1.1h0m0.1-1h0m0.1 1.3h0m0.1-0.2h0m0 0.5h0m0-1.7h0m0.2 0.1h0m0.1 1.8h0m0.2-0.3h0m0.2-3.2h0m0.1 2.3h0m0 0.3h0m0-1h0m0.1-0.2h0m0 1.7h0m0.1-2.2h0m0-0.8h0m0.1 2.2h0m0 0.2h0m0.2 0.6h0m0 0.3h0m0.1-0.3h0m0.1-2.2h0m0.2 2.7h0m0.2-0.2h0m0-3h0m0.2 0h0m0 2.3h0m0.1 0.6h0m0.1 0.3h0m0-3.1h0m0.1 2.7h0m0-2.3h0m0.1 1.9h0m0.1-2.8h0m0.2 1.7h0m0 1.3h0m0.1-0.1h0m0.1-0.8h0m0-0.6h0m0-0.6h0m0.2 2.6h0m0-0.1h0m0.1-2.3h0m0 0.4h0m0.1 2h0m0-2.8h0m0.1 2h0m0-0.7h0m0.1 0.6h0m0-0.5h0m0.1-2.4h0m0 2.7h0m0-1.5h0m0-1.1h0m0 1.5h0m0.3 1h0m0.1 0.3h0m0.1-1.3h0m0 0.8h0m0.4-1.5h0m0 2.7h0m0.1-0.6h0m0-0.2h0m0.2 0.3h0m0-1.1h0m0 0.4h0m0.1-0.3h0m0-1.3h0m0.1 1.4h0m0.2 1.5h0m0-3h0m0 3h0m0.3-1.2h0m0.2-1.5h0m0.1 0.3h0m0.1 0.6h0m0.4 1.2h0m0-1.5h0m0-0.4h0m0.1 2.6h0m0.1-1h0m0.4-2.1h0m0.1 0.5h0m0 2.5h0m0.1-1.2h0m0.1-1.4h0m0 1.8h0m0.1-1.5h0m0-0.3h0m0.1 0.3h0m0-0.2h0m0.2-0.2h0m0.1 2.8h0m0.2-1.1h0m0-0.6h0m0-1h0m0.3-0.8h0m0.2 2.1h0m0 0.1h0m0 0.2h0m0.1-1.5h0m0.1 0.6h0m0.1 0.3h0m0.1 1.3h0m0 0.1h0m0.2-1.2h0m0 0h0m0.1 1.4h0m0.2-2.8h0m0.1-0.4h0m0 1.2h0m0.1-1.3h0m0 1.2h0m0.1-0.5h0m0.1-1.2h0m0 3.3h0m0.1 0h0m0-1.1h0m0.2-1.6h0m0 1.4h0m0.3 0.2h0m0.3-1.7h0m0.3 0.2h0m0 2.5h0m0-0.5h0m0.1 0.5h0m0-1.6h0m0.2-1.5h0m0.1 2.7h0m0.2-0.2h0m0-1.2h0m0 0.2h0m0.1-0.7h0m0.1 1.6h0m0-2.3h0m0.2 2.3h0m0.1-1.6h0m0.1 0.7h0m0 0.6h0m0.1-0.8h0m0.4 0.6h0m0.3 0.2h0m0.3-0.6h0m0.1-0.2h0m0-0.2h0m0.2 0.1h0m0.3 0.8h0m0.3-0.9h0m0.1-0.5h0m0.1 0.2h0m0.2-0.8h0m0.3 0.6h0m0-0.4h0m0 2.4h0m0-2.2h0m0.1-0.4h0m0.4 0.7h0m0.3-0.6h0m0.2 0.2h0m0.2-0.2h0m0 3.4h0m0-1.1h0m0.1-2.4h0m0.2 1.1h0m0 0.6h0m0.1-0.5h0m0.2 1.2h0m0.4-0.6h0m0.1-1.8h0m0 0.1h0m0.1 0.1h0m0.2-0.2h0m0 0.4h0m0.2-0.5h0m0.2 0.2h0m0.7 0.8h0m0.1 0h0m1.2-0.7h0m2.4 0.7h0m0 0.9h0m0.1-1.7h0m0.4 3.5h0m0-1.7h0m0.3-1.7h0m0.6 0.9h0m0-0.1h0m0.7 0.2h0m0 1.5h0m0.8-0.4h0m0.5-1.4h0m1.5-1h0m0.4 0h0m1.2 0.6h0m0.2-0.3h0m0.8 1.2h0m0.5-1.2h0m0.2-0.3h0m0.3 1.6h0m3.8-1.5h0m26.8 3h0m39.2-2.5h0m-146.4 6.8h0m7.1 0.6h0m1.5-0.3h0m0 0h0m0.3 0.1h0m0.8 0.2h0m0.8-0.9h0m1.2 0.3h0m1.1 0.4h0m0.5 0h0m0.1-0.4h0m0 0.5h0m0.4-0.2h0m0.1 0.1h0m0.2-0.3h0m0.1 0.2h0m0 0.1h0m0.2 0.1h0m0.5-1h0m0.1-0.2h0m0-1.4h0m0.1 2.5h0m1.3 0.1h0m0-1.6h0m0.2 0.5h0m0.2-1.5h0m0.1 2.6h0m0.2-0.1h0m0.1-0.1h0m0-0.1h0m0.1 0.1h0m0-0.3h0m0.1-0.6h0m0-0.6h0m0.2 0.4h0m0.1 1h0m0.1 0.1h0m0.5-2h0m0 2h0m0.2 0.1h0m0.1-0.7h0m0.1-0.3h0m0 0.4h0m0.3 0.5h0m0-0.1h0m0.1-0.3h0m0.1-0.6h0m0.1 1.1h0m0.2-1.7h0m0 0.6h0m0 0.2h0m0.1-0.8h0m0.2 0.9h0m0.1-0.8h0m0-1.5h0m0.1 3h0m0.1-1.3h0m0.2 1h0m0.1 0.3h0m0-0.6h0m0.1 0.4h0m0-0.8h0m0-0.5h0m0 0.8h0m0.1 0.9h0m0.2-1h0m0 0.6h0m0 0.4h0m0.2-2.8h0m0 2.9h0m0.1-1.2h0m0 0.7h0m0-0.2h0m0-0.1h0m0 0.1h0m0-1h0m0.2 1.2h0m0.1-0.3h0m0.2-0.9h0m0.2 0.6h0m0 0.1h0m0 0.2h0m0.1-1.9h0m0 2h0m0.1 0.2h0m0.1-0.4h0m0.1 0h0m0-0.2h0m0.1-0.5h0m0 0.6h0m0.2-1.3h0m0.2 1.3h0m0.2-1.3h0m0.1 0.3h0m0.3 0.4h0m0 1.5h0m0.1-3.2h0m0 2.5h0m0.1 0.2h0m0.1-2.1h0m0.3 2.1h0m0.1-0.6h0m0 0.3h0m0.1 0.2h0m0.1-0.2h0m0-0.6h0m0 1.5h0m0.1-0.7h0m0.1-1h0m0.2-1.1h0m0 2.7h0m0-0.9h0m0.2-2.4h0m0 2.8h0m0.1-0.8h0m0.1-1.6h0m0 2.7h0m0.1-1.4h0m0.1 0.2h0m0 1.2h0m0-1.1h0m0.2-0.1h0m0.1 1.2h0m0-2h0m0.1 2.3h0m0-1.5h0m0.2 0h0m0.1-2.3h0m0 2.2h0m0.2 0.6h0m0-0.8h0m0-0.7h0m0.1 2.2h0m0-0.3h0m0-1.2h0m0 1.2h0m0-2h0m0.1 2.3h0m0 0h0m0-1.1h0m0.1-0.3h0m0.1 0.1h0m0 1.2h0m0-1.1h0m0.1 0.4h0m0 0.1h0m0-0.8h0m0.1-1.1h0m0.1 2.8h0m0-1h0m0-1.1h0m0.2 0.4h0m0-0.7h0m0.1 0.4h0m0 1.2h0m0-1.7h0m0 0.7h0m0.1 0.6h0m0.1-0.6h0m0-2h0m0 2h0m0 1.8h0m0-1.5h0m0.1-0.2h0m0.1-1.8h0m0 2.8h0m0.1-0.2h0m0.1-2.2h0m0 1.5h0m0.1-0.1h0m0 0.8h0m0-0.2h0m0.1-0.6h0m0.1 0.3h0m0.1 0.6h0m0.2 0.1h0m0 0.3h0m0.1-1.8h0m0 1.6h0m0-1.7h0m0-1.3h0m0.2 2.3h0m0 0h0m0.1 1.4h0m0-1.7h0m0-0.8h0m0.1 0.9h0m0-1.1h0m0.1-1.2h0m0 2.4h0m0-1.8h0m0.1 0h0m0 1.3h0m0.1 1h0m0-0.8h0m0-0.7h0m0.1-0.2h0m0 0.9h0m0-0.3h0m0-0.7h0m0.1 1.6h0m0.1-1.7h0m0.1 1.7h0m0-1.2h0m0.1 1.3h0m0-2.3h0m0.1 1h0m0 0.7h0m0 0.8h0m0.1 0.2h0m0-1.3h0m0.1 1.4h0m0-0.6h0m0 0h0m0.1 0.5h0m0.1 0.6h0m0.1-2.1h0m0-1.3h0m0.1 2.3h0m0 1h0m0.1-1.6h0m0-0.6h0m0.1 1.7h0m0.1-0.4h0m0.2-1h0m0 1.7h0m0.2-0.6h0m0-0.9h0m0.1 0.1h0m0-0.3h0m0.1 1.1h0m0-0.9h0m0 0.8h0m0-1.9h0m0 1.7h0m0.1 0.5h0m0-0.4h0m0 0h0m0.1 0.7h0m0-2.6h0m0.2 0.8h0m0 2h0m0.1-2h0m0.2-1.1h0m0.1 1.7h0m0.1-0.5h0m0.1 0.1h0m0-0.8h0m0.1 0.2h0m0 1.1h0m0.1-1.8h0m0.1 1.6h0m0.1 0.2h0m0-1.5h0m0.1 1.5h0m0-2h0m0 1.2h0m0 1h0m0.1-2.5h0m0 2.5h0m0.1-2.4h0m0 1.1h0m0.1 0.3h0m0 2.1h0m0.1-1.7h0m0 1.2h0m0.1-1.3h0m0-1.2h0m0.1 1h0m0.2 0.3h0m0-0.2h0m0.1 0.5h0m0.1-0.2h0m0.2-1.6h0m0 2.6h0m0 0.5h0m0.2-1.2h0m0-0.5h0m0 0h0m0-1.4h0m0.1 0.8h0m0.1 0.4h0m0-1.3h0m0 2.9h0m0-2.8h0m0.1 0h0m0-0.1h0m0.1 3.4h0m0.1-0.9h0m0-1.1h0m0 0.8h0m0.1-1.1h0m0.1 0.6h0m0 0.4h0m0-0.6h0m0.1 0.1h0m0.3-1.2h0m0.1-0.3h0m0 2.8h0m0.1-1.1h0m0.1-0.3h0m0.1 0.8h0m0-1.3h0m0.1 2h0m0.1-1.1h0m0-0.6h0m0.1 0.4h0m0-0.7h0m0 0.3h0m0.1 0.1h0m0.4-1.2h0m0.1-0.4h0m0 0h0m0 0.8h0m0 1.7h0m0.1-2.3h0m0 0.5h0m0 0.7h0m0-0.7h0m0.1-0.8h0m0 1.7h0m0-0.3h0m0.1 1h0m0 0.2h0m0 0.2h0m0-1.2h0m0.1-0.7h0m0.2 0.4h0m0.1 0.5h0m0 0.2h0m0.1-1.8h0m0.1 1h0m0-1.3h0m0.1 1.9h0m0-1.4h0m0 1.2h0m0-1.2h0m0.1 2.3h0m0.1-2.8h0m0 0.7h0m0-0.2h0m0 0.8h0m0.2-0.2h0m0-0.9h0m0 1.3h0m0.1 0.2h0m0 0.5h0m0.3-0.4h0m0 0h0m0-0.6h0m0 0.8h0m0.2-1.7h0m0.1 0.3h0m0 1.9h0m0.1-1.8h0m0.1 2.2h0m0.3-2.5h0m0-0.2h0m0.3 1.9h0m0.1-1.2h0m0 0.6h0m0.3-1.4h0m0.1 0.2h0m0.1 0.9h0m0.2-1h0m0-0.2h0m0.1 0.5h0m0-0.4h0m0 2.1h0m0.1-2.1h0m0.4 0.3h0m0 0.3h0m0.2 1.1h0m0.2 0.6h0m0.3-1.2h0m0 0.4h0m0.1 0.3h0m0.2-0.6h0m0-0.8h0m0.1 1.7h0m0.2 0.6h0m0.2-2.5h0m0 0.9h0m0.1 0.4h0m0.2-0.5h0m0.2-1.1h0m0.2 0.7h0m0.1 0h0m0.3 0.7h0m0.3 0.2h0m0.2 0.5h0m0.1-1.8h0m1.2 0.9h0m0.3-1.2h0m0.1 0.6h0m0.1-0.1h0m0.2 1.2h0m1.1-1.6h0m0.3 0.4h0m0.1-0.2h0m0.2 0.4h0m0.1 1h0m0.6-1h0m0.9-0.7h0m0.7 1.1h0m0.5-0.9h0m0 0.9h0m0.8-0.9h0m0.9 0.7h0m1 0h0m0.4-0.8h0m0.4 0.1h0m0.1-0.2h0m0.7 0h0m4.2 0.1h0m26.4 2.8h0m18.7-2.3h0m-113.2 7.3h0m0.2-0.1h0m0.4-0.2h0m0.2-0.5h0m0.2 0.2h0m0.8 0h0m0.3 0.4h0m0.1-0.1h0m0.1-0.5h0m0.1 0.2h0m0.5-0.4h0m0 0.7h0m0.2 0.1h0m0.4 0h0m0 0.1h0m0.6-0.4h0m0-1.4h0m0.1 1.2h0m0.2-0.2h0m0.4-0.3h0m0.1 1.3h0m0-0.3h0m0-0.3h0m0.1-0.6h0m0.1 0.6h0m0 0.6h0m0-0.1h0m0.5-0.5h0m0.1 0.4h0m0.1-0.1h0m0.3-1.7h0m0.3 0.8h0m0 1.1h0m0.1-0.3h0m0.2-1.2h0m0.2 1h0m0.2-0.2h0m0 0.5h0m0.2 0.3h0m0.2-0.3h0m0-0.5h0m0 0.7h0m0.2-0.9h0m0.1 0.7h0m0.1-1.1h0m0 0.7h0m0 0.7h0m0.1-1.2h0m0 0.3h0m0.1-0.9h0m0 1h0m0 0.3h0m0 0.5h0m0.2-0.7h0m0 0.2h0m0-0.9h0m0 0.9h0m0.1 0.1h0m0 0.4h0m0-0.4h0m0.1-1.2h0m0.1 1.6h0m0-1.4h0m0 0.7h0m0.1 0.2h0m0.1-2.2h0m0 2.5h0m0.1-1.4h0m0 1.4h0m0.1 0.1h0m0-0.2h0m0-0.4h0m0.1-0.6h0m0 0.9h0m0.1 0.2h0m0-0.4h0m0.1-0.7h0m0 0.8h0m0.1 0.1h0m0.1 0.2h0m0.1-0.5h0m0-1.4h0m0 0.5h0m0.2 1.4h0m0-0.2h0m0.3 0.3h0m0-1.7h0m0.1 0.7h0m0 1h0m0-1.5h0m0 0.4h0m0.2 0.8h0m0.1 0.2h0m0-1.1h0m0 1.2h0m0-0.6h0m0.1 0.7h0m0-0.5h0m0-1h0m0.2-0.4h0m0.1 1.5h0m0 0.1h0m0-0.2h0m0-0.1h0m0.1-0.3h0m0-0.2h0m0.1 0.6h0m0.1-0.9h0m0 1h0m0.1-0.7h0m0 1h0m0-0.6h0m0.1-1.9h0m0 2.6h0m0-1h0m0.1-0.2h0m0 0.7h0m0.1-1.4h0m0.1 0.3h0m0 0.7h0m0.1-0.8h0m0.1-1.1h0m0 0.7h0m0.1 0.7h0m0 0h0m0 0.8h0m0 0.3h0m0.2-1.6h0m0 1.9h0m0-0.7h0m0.2 0h0m0-2.1h0m0.2 1.4h0m0.2-0.2h0m0 0.9h0m0.2 0.5h0m0.2-1.7h0m0 1.6h0m0.1-1.7h0m0.1 0.4h0m0 0.1h0m0 0.4h0m0 0.1h0m0.1 0.8h0m0.1-2.1h0m0.1 2.1h0m0-0.6h0m0-1.2h0m0 1.4h0m0-2.9h0m0.1 2.9h0m0-0.3h0m0-0.6h0m0-0.2h0m0.2 1h0m0-1.2h0m0-0.1h0m0 0.5h0m0.1 1h0m0-1.3h0m0-0.2h0m0.1 0h0m0 1h0m0.1-1.2h0m0 1.1h0m0-1.7h0m0.2 0.8h0m0 2h0m0-0.6h0m0 0.3h0m0.1-0.7h0m0-0.6h0m0.1-0.7h0m0 1.2h0m0-0.5h0m0-0.4h0m0.1 1.4h0m0-0.6h0m0 1.2h0m0.1-1.6h0m0.1 0.8h0m0.1-1h0m0.1 1.2h0m0-2.1h0m0.1 0.5h0m0.1-0.7h0m0.1 0.1h0m0 1.6h0m0 0.1h0m0.1-0.8h0m0 1.7h0m0.1-0.2h0m0.1-1.3h0m0 1.1h0m0.1-1.4h0m0-0.1h0m0 1.5h0m0-1.9h0m0 1.3h0m0-1.9h0m0.1 0.1h0m0.1 2.5h0m0-2h0m0.1-0.4h0m0 2.3h0m0-1.8h0m0 1.8h0m0 0.3h0m0.1-1.8h0m0.2-0.7h0m0 0.1h0m0.1 0.6h0m0 0.7h0m0-0.3h0m0.1 1.4h0m0-0.8h0m0-0.8h0m0.2 0.4h0m0 0.8h0m0-0.6h0m0.1-1.5h0m0 1.8h0m0-1.7h0m0 0.8h0m0 0.8h0m0.1-0.5h0m0 0.4h0m0-2h0m0 1.9h0m0.1-0.9h0m0-0.5h0m0 1.8h0m0-0.9h0m0.1-1.8h0m0 2.1h0m0 0.7h0m0.1-2.4h0m0-0.2h0m0 2.1h0m0.1 0.1h0m0.1-1.5h0m0 1.6h0m0-0.4h0m0.1 1.4h0m0-2.9h0m0.1 2.2h0m0-1h0m0-0.9h0m0.1 0.7h0m0 1.7h0m0-0.1h0m0.2-2.1h0m0 1.2h0m0 0.7h0m0.1-1.8h0m0 1h0m0 1.1h0m0.1-1.2h0m0 0.3h0m0-1.9h0m0.1 2.8h0m0.2-1.5h0m0-1.7h0m0 1.8h0m0 0.3h0m0.1 0.2h0m0-2.6h0m0 3.1h0m0 0.6h0m0.1-3.1h0m0.1 0.2h0m0-1h0m0 1.9h0m0-0.1h0m0-0.6h0m0.1 1.6h0m0 0.1h0m0.1-1.9h0m0.1 0.7h0m0 1.3h0m0-0.2h0m0.1-2.3h0m0 2.9h0m0-1.3h0m0.2-0.3h0m0-0.5h0m0-0.2h0m0 1h0m0.1-0.1h0m0.1-0.2h0m0 0.2h0m0.1-0.4h0m0.1-1.6h0m0.2 2.9h0m0-1.9h0m0-0.6h0m0 0.1h0m0.2 2.2h0m0 0.3h0m0-0.5h0m0-1.8h0m0.2 0.6h0m0 2.6h0m0.2-2.9h0m0 0.7h0m0.1-0.2h0m0 0.8h0m0-0.3h0m0 0.8h0m0.1-1.1h0m0-0.7h0m0 0.5h0m0 1.9h0m0.1-1.2h0m0.1-1h0m0.1 2h0m0-1.6h0m0.1-0.5h0m0 0.4h0m0-0.2h0m0-0.1h0m0-1h0m0 2.4h0m0.1-1.3h0m0 0.5h0m0.1-0.8h0m0.1 0.7h0m0-0.1h0m0-1.1h0m0.3 1.7h0m0 0.4h0m0-0.2h0m0.1 1.6h0m0-1.3h0m0-1.1h0m0-1.5h0m0.1 2.1h0m0 0.7h0m0-1.2h0m0-1.5h0m0 2.4h0m0.1-1.7h0m0 1.1h0m0-0.9h0m0 1.5h0m0.1-1.3h0m0-0.4h0m0 0.2h0m0 0.1h0m0 0.5h0m0-0.6h0m0-0.1h0m0.1 0.2h0m0.2-0.3h0m0 1.6h0m0-1.5h0m0.1 1.5h0m0-1.4h0m0.1 0.2h0m0-1.3h0m0.1 1.6h0m0-1.1h0m0 1.7h0m0-1.8h0m0.1 0.8h0m0.1 1.2h0m0-0.7h0m0 0.1h0m0.1-1.2h0m0-0.2h0m0 0.2h0m0 1.4h0m0.1-0.1h0m0.3-0.3h0m0.1 0.6h0m0 1.5h0m0.1-2.7h0m0 1.6h0m0.1-2h0m0.1 2.2h0m0.1-0.5h0m0.1-1.2h0m0 0.2h0m0.1-0.3h0m0-0.9h0m0 0.1h0m0 1.5h0m0.1-0.4h0m0 1.2h0m0.1-1.6h0m0 0.3h0m0-1h0m0 0.2h0m0.1 3.1h0m0-2.4h0m0 0.3h0m0-0.3h0m0.1 0.2h0m0-0.2h0m0.1 1.3h0m0-2.2h0m0.1 0.6h0m0.2 1h0m0-0.1h0m0.1-1h0m0.1 2.1h0m0-2.7h0m0 2.4h0m0.2 0.3h0m0.1-1.7h0m0 0.8h0m0.1-1.9h0m0 1.6h0m0.2-0.1h0m0.1-0.8h0m0.1 0.5h0m0.1-0.6h0m0.1 0.9h0m0 1.1h0m0-1.7h0m0 0.7h0m0.1-1.2h0m0 2h0m0.1-0.2h0m0-0.3h0m0-1.2h0m0 2h0m0-1.6h0m0.1-0.8h0m0 0.2h0m0.1 0.7h0m0.1 0.3h0m0-1.3h0m0.1 2.1h0m0-0.7h0m0-0.7h0m0.1 0h0m0 0.6h0m0.2-1.5h0m0.3 2.3h0m0.1-1.3h0m0-1h0m0.1 0.3h0m0 2h0m0.1-2.1h0m0 1.4h0m0 0.1h0m0.2-0.1h0m0 1.1h0m0.2 0.3h0m0-3h0m0 0.5h0m0.1 0.4h0m0.1 0h0m0.1 0.3h0m0-0.6h0m0-0.3h0m0.1 1h0m0.1 0.1h0m0.1 0.9h0m0 0.9h0m0-1.5h0m0-1.5h0m0.1 0.5h0m0 0.6h0m0.1-1h0m0.1-0.3h0m0 2.2h0m0.1-1.9h0m0.1 0.5h0m0 0.7h0m0.5 1h0m0.2-1h0m0-0.8h0m0.1 0.8h0m0.1 0.6h0m0-0.4h0m0 0.8h0m0.2-2.1h0m0.1-0.2h0m0.1 0.6h0m0 0.7h0m0.1-1.1h0m0.1 0.1h0m0.1 0.8h0m0.1-1.1h0m0 0.1h0m0.1 0.2h0m0-0.1h0m0.1-0.1h0m0.3 1.3h0m0-1.6h0m0.2 0.5h0m0.4 1.5h0m0-1.3h0m0.1-0.6h0m0.1 0.2h0m0.1 1.7h0m0.2-1.7h0m0.7 0.2h0m0.2-0.3h0m0.1 0.2h0m0.1 0.1h0m0.1-0.4h0m0.1 0h0m0 0.8h0m0-0.9h0m0.3 1h0m0.4 0.9h0m0.1-1.5h0m0.3-0.2h0m0-0.2h0m0.1 0.5h0m0.5-0.5h0m0.4 1.3h0m0.4-0.9h0m0.3-0.2h0m0.3 0h0m0.2 0.2h0m0.4-0.3h0m0.2 0h0m1 1.2h0m2.5-0.1h0m0.8-0.7h0m2.2 0.4h0m0.5 0.7h0m0.3-1.2h0m0.3 0.7h0m2 0.6h0m-49.9 5.2h0m0.1-1.1h0m0.1-0.8h0m0.1 1.4h0m0-0.8h0m0.1 1.4h0m0.1 0.4h0m0-2h0m0.2-0.7h0m0.1 1.5h0m0.1-1.1h0m0 1h0m0-0.2h0m0.1 1.5h0m0.1-0.4h0m0.1 0.1h0m0 0h0m0.1-1.3h0m0.1-1.3h0m0 1.2h0m0.1-0.4h0m0.1 1.8h0m0-1.8h0m0 0.3h0m0 0h0m0.1-1.4h0m0.1 0.8h0m0 1.2h0m0-0.6h0m0.1-1.1h0m0 1.5h0m0-0.7h0m0.1-0.1h0m0 0.5h0m0.2 0.7h0m0-1.2h0m0.1 1.3h0m0-1.9h0m0.1 2.4h0m0.1-2.7h0m0.1 1.8h0m0-0.5h0m0.1-1h0m0 1.7h0m0.1-1h0m0 1.1h0m0.2-0.1h0m0-0.3h0m0 0.4h0m0.1-1.4h0m0.1 1.9h0m0.1-2.2h0m0-0.2h0m0.1 0.8h0m0-1h0m0 1.3h0m0-0.6h0m0.1 1h0m0.1 0.2h0m0-0.8h0m0 0.4h0m0-0.8h0m0-0.2h0m0.2 0.7h0m0 0h0m0.1-1.3h0m0 2.3h0m0.1-1.9h0m0 0.3h0m0.1 1.2h0m0-0.7h0m0-1.2h0m0.2 1.8h0m0 0.7h0m0-1.7h0m0.1 1h0m0.1-1.4h0m0 2.1h0m0-1.6h0m0.1 1h0m0-1.3h0m0-0.1h0m0.1 0.9h0m0 1.3h0m0.2-0.5h0m0-2.1h0m0 1.3h0m0-0.2h0m0.1 1.5h0m0-1.5h0m0.1 0.8h0m0-0.8h0m0.1-0.7h0m0.2 0.2h0m0.1 0.3h0m0-0.5h0m0 0.5h0m0.1-1h0m0 0.2h0m0.1 1.3h0m0.1-1h0m0.1-0.4h0m0 1.5h0m0.1-0.7h0m0.1 1.6h0m0-1.7h0m0 0.5h0m0.3-1.2h0m0.1 1h0m0 0h0m0-0.8h0m0 1.5h0m0-1h0m0.1 2.1h0m0.1-0.4h0m0-0.8h0m0.1-1.3h0m0.1 0.6h0m0.1-0.8h0m0.1 0.1h0m0.1 1.7h0m0-1.1h0m0 0h0m0.1-1.1h0m0.1 2.2h0m0.1-0.7h0m0-0.5h0m0.1 0.8h0m0-0.7h0m0.1-0.2h0m0 0.6h0m0 0.7h0m0-0.7h0m0.1-0.5h0m0.1-0.8h0m0.1 1.6h0m0.1-1.2h0m0 1h0m0-1.1h0m0 1.6h0m0.1-2h0m0.1 1.2h0m0 0.2h0m0-1.4h0m0.1 1h0m0-0.2h0m0-0.8h0m0 1.1h0m0.2-1.1h0m0 0.4h0m0 0.6h0m0.1 0.3h0m0 1.2h0m0.1-2h0m0.1-0.6h0m0 0.2h0m0.1 0.6h0m0-0.4h0m0.2 0.5h0m0 2.5h0m0.1-1.7h0m0-1.7h0m0.1 0.2h0m0.1 0.4h0m0.1-0.1h0m0.2 0h0m0 0.3h0m0-0.3h0m0 0.7h0m0.2-0.3h0m0-0.5h0m0.1 0.8h0m0-0.2h0m0.2-0.3h0m0.2-0.7h0m0 0.2h0m0.5 1.2h0m0.1-0.5h0m0 0.1h0m0-0.7h0m0.2 0.5h0m0.4-0.5h0m0 0.3h0m0 0.5h0m0.1-0.4h0m0.2-0.1h0m0.1 0.7h0m0.1-1.2h0m0.4 0.4h0m0 0.4h0m0-0.5h0m0.1-0.2h0m0.1 2.3h0m0-1.8h0m0.5 0.9h0m0.1-1.3h0m0.1-0.3h0m0.1 1h0m0.1 0.2h0m0.2-1h0m0.4-0.2h0m0.1 0.5h0m0.3-0.1h0m0.2 0h0m0.1-0.3h0m0.5 0.2h0m0.1-0.2h0m0.3 0.6h0m0.3 0.7h0m0.4-1.1h0m0.2 0.2h0m0.1 0.1h0m0.2-0.1h0m0 0.2h0m0.1 0.5h0m0.5-0.6h0m0.3 0h0m0.4 0.2h0m2.2-0.4h0m0.1-0.4h0m0 0h0m0.3 0.1h0m1.5-0.1h0m2.5 0.3h0m0.2 0.7h0m24 2.3h0m-48.3 1h0m46.6 0.8h0m31.9 0.3h0m-32.5 3.4h0m11.6-0.6h0m-20.6 11.4h0m-4.7 1.8h0m-16.7 2.7h0m7.2 7h0m-11.9 4.4h0m9.5 1.8h0m4.7 4.4h0" fill="none" stroke="#000" stroke-width="1.5" stroke-linecap="square" opacity="0.85"/>
<rect x="506.50" y="1839.40" width="396.00" height="245.50" fill="none" stroke="#3a3a3a" stroke-width="1.5"/>
<line x1="514.60" y1="2084.90" x2="514.60" y2="2074.90" stroke="#3a3a3a" stroke-width="1.5"/>
<text x="509.22" y="2111.50" font-size="21.00" font-family="'Liberation Sans',sans-serif" fill="#111">0</text>
<line x1="609.60" y1="2084.90" x2="609.60" y2="2074.90" stroke="#3a3a3a" stroke-width="1.5"/>
<text x="604.27" y="2111.50" font-size="21.00" font-family="'Liberation Sans',sans-serif" fill="#111">2</text>
<line x1="704.60" y1="2084.90" x2="704.60" y2="2074.90" stroke="#3a3a3a" stroke-width="1.5"/>
<text x="699.38" y="2111.50" font-size="21.00" font-family="'Liberation Sans',sans-serif" fill="#111">4</text>
<line x1="799.60" y1="2084.90" x2="799.60" y2="2074.90" stroke="#3a3a3a" stroke-width="1.5"/>
<text x="794.17" y="2111.50" font-size="21.00" font-family="'Liberation Sans',sans-serif" fill="#111">6</text>
<line x1="894.60" y1="2084.90" x2="894.60" y2="2074.90" stroke="#3a3a3a" stroke-width="1.5"/>
<text x="889.22" y="2111.50" font-size="21.00" font-family="'Liberation Sans',sans-serif" fill="#111">8</text>
<line x1="506.50" y1="1851.60" x2="514.00" y2="1851.60" stroke="#3a3a3a" stroke-width="1.5"/>
<text x="472.62" y="1854.40" font-size="21.00" font-family="'Liberation Sans',sans-serif" fill="#111">20</text>
<line x1="506.50" y1="1895.70" x2="514.00" y2="1895.70" stroke="#3a3a3a" stroke-width="1.5"/>
<text x="472.73" y="1899.53" font-size="21.00" font-family="'Liberation Sans',sans-serif" fill="#111">15</text>
<line x1="506.50" y1="1939.80" x2="514.00" y2="1939.80" stroke="#3a3a3a" stroke-width="1.5"/>
<text x="472.62" y="1944.65" font-size="21.00" font-family="'Liberation Sans',sans-serif" fill="#111">10</text>
<line x1="506.50" y1="1983.90" x2="514.00" y2="1983.90" stroke="#3a3a3a" stroke-width="1.5"/>
<text x="484.38" y="1989.78" font-size="21.00" font-family="'Liberation Sans',sans-serif" fill="#111">5</text>
<line x1="506.50" y1="2028.00" x2="514.00" y2="2028.00" stroke="#3a3a3a" stroke-width="1.5"/>
<text x="484.28" y="2034.90" font-size="21.00" font-family="'Liberation Sans',sans-serif" fill="#111">0</text>
<line x1="506.50" y1="2072.10" x2="514.00" y2="2072.10" stroke="#3a3a3a" stroke-width="1.5"/>
<text x="794.87" y="1864.70" font-size="22.02" font-family="'Liberation Sans',sans-serif" fill="#111">r = 0.995</text>
<text x="565.68" y="2146.40" font-family="'Liberation Sans',sans-serif" fill="#000" xml:space="preserve"><tspan font-size="21.40">t</tspan><tspan font-size="12.84">3,4</tspan><tspan font-size="21.40"> - t</tspan><tspan font-size="12.84">5,6</tspan><tspan font-size="21.40"> (min) [fully connected]</tspan></text>
<text transform="translate(455.80,2084.40) rotate(-90)" x="-0.32" y="0" font-family="'Liberation Sans',sans-serif" fill="#000" xml:space="preserve"><tspan font-size="21.33">t</tspan><tspan font-size="12.80">3,4</tspan><tspan font-size="21.33"> - t</tspan><tspan font-size="12.80">5,6</tspan><tspan font-size="21.33"> (min) [right branch]</tspan></text>
<text x="972.05" y="1781.50" font-size="46.43" font-family="'Liberation Sans',sans-serif" font-weight="bold" fill="#000">i</text>
<text x="1036.90" y="1775.60" font-family="'Liberation Sans',sans-serif" fill="#000" xml:space="preserve"><tspan font-size="21.93">A = 10 ≤ </tspan><tspan font-size="21.93" font-weight="bold">100</tspan><tspan font-size="21.93"> ≤ 1000</tspan></text>
<text x="1035.15" y="1802.20" font-family="'Liberation Sans',sans-serif" fill="#000" xml:space="preserve"><tspan font-size="21.89">B = 100 ≤ </tspan><tspan font-size="21.89" font-weight="bold">1000</tspan><tspan font-size="21.89"> ≤ 10000</tspan></text>
<text x="1035.15" y="1827.40" font-family="'Liberation Sans',sans-serif" fill="#000" xml:space="preserve"><tspan font-size="21.86">D = 10 ≤ </tspan><tspan font-size="21.86" font-weight="bold">100</tspan><tspan font-size="21.86"> ≤ 1000</tspan></text>
<path d="M0 0m1243.6 1858.4h0m19 4.4h0m-88.4 27.1h0m197.3-2.3h0m-234.7 3.4h0m129.4 8h0m-170.2 14h0m200 2.6h0m22.1 12.9h0m42 12.2h0m-83.4 4.1h0m120.9 0.1h0m-67.9 3.1h0m-63.9 5.5h0m56.5-2.1h0m60.2 2.1h0m13.4-3h0m-29.5 6.2h0m10.5-0.5h0m21.9 1h0m9.4-2.5h0m-119.1 4.5h0m16.5 2.1h0m1.5 0.1h0m57.8-0.9h0m10.6 0h0m3.8 1.2h0m10.5-2.2h0m2.7 2.1h0m3.4-2.3h0m0.7 0.4h0m1.1-0.4h0m5.8-0.2h0m1.7 2.3h0m8.6-0.8h0m-97.8 2.1h0m8.1 2h0m4.8-2.6h0m10.6 2.2h0m1.9 0.7h0m1.5 0.9h0m3.5-1h0m4.7 0.8h0m2.1-1h0m10.8-1.4h0m11.9 1.4h0m0.5-1.3h0m12.7-0.4h0m0.1 0.5h0m15-1.3h0m4.1 1.3h0m-189.9 3.9h0m38.8-0.9h0m54.9 3h0m15.5-2.5h0m8.6 2.3h0m1.1-0.5h0m7.4-1.2h0m0.2-1.4h0m2.9 0.1h0m1.2 1.3h0m0.4 1.2h0m1.5-1.1h0m3.2 0.2h0m13.4 1.3h0m0.5-1.9h0m1.3-1.1h0m1 0.6h0m8 0.2h0m15.4 1.7h0m-117.3 4.9h0m8.9-0.1h0m15.8-3.1h0m2.9 0.8h0m14.5-0.9h0m13 0.2h0m1.3 1.4h0m0.6 0.2h0m1.7 1.4h0m2.3-0.7h0m0.5 0.9h0m3.9 0.1h0m11.3-0.1h0m12.1-2h0m-72.1 5.9h0m2.2-3.4h0m0.9 2.8h0m1.6 0h0m0.5 0.7h0m5.4-1h0m3.9 1.2h0m2.4 0.1h0m0.5-1.4h0m1.2-2.6h0m7.3 0.4h0m0.4 1.2h0m1.9-1.4h0m8.2 1.2h0m13.1 0.7h0m3.6-2h0m-111 7.8h0m4.6-2.5h0m11.7 0.4h0m0.6 2.1h0m3.7-1.4h0m3.1-0.8h0m1.9 2.1h0m2.3-0.8h0m5.6 0.6h0m0.6-1.4h0m0.4 1.3h0m0.1 0.1h0m3.8-2.4h0m2.6-0.6h0m7.9 1.5h0m3.4-1.3h0m7.4 0.6h0m0.5 0.5h0m3.1-0.3h0m3.7-1.6h0m0.2 1.1h0m3.8-0.1h0m1.9-0.9h0m0.3 2.1h0m11.9-1.3h0m25.4 0h0m30.7 2.9h0m-136 3.1h0m4.5 0.8h0m3.5-0.6h0m8.3-0.2h0m2.7-2.8h0m7.6 3.5h0m0.1-2.8h0m2.1 1h0m1.8-0.3h0m11.3 0.9h0m6.2 0.7h0m6.8-3h0m2.5 2.1h0m0.5-0.1h0m-94.6 5h0m18.5-2.4h0m1.4 1.9h0m3.7 0h0m1.6 0.2h0m0.2-0.1h0m12.6 0.9h0m6.6-0.1h0m0.4-2.5h0m0.1 3h0m0.9-0.2h0m1.4-1h0m5.1-1.7h0m0.7 0.5h0m0.1-1.3h0m3.4-0.3h0m1.6 1.7h0m1.1 0.1h0m4 0.2h0m1.1 0.2h0m21.2 1.5h0m1.9-2.3h0m-117.5 3.5h0m15.2 1.6h0m2.9 1.5h0m10.7-2.6h0m1.9 1.5h0m0.4-1.1h0m2.8 1.8h0m0.7-0.1h0m0.8 0.3h0m0.1-2.7h0m1.3 1.9h0m8.2-1.3h0m3.3-1.4h0m1.3 2.4h0m2.5-1.4h0m2.3 1h0m4.7 1.3h0m1.1-1.7h0m16.6-1.2h0m2 2.1h0m0.9-2.1h0m9.1 1.1h0m-170.5 2.2h0m8 3.2h0m73.6 0h0m1.6 0.6h0m5.5-2.7h0m5.6-0.3h0m0.5 0.5h0m0.5 2.6h0m1.1 0h0m0 0h0m2.3-0.6h0m0.4-0.5h0m3.7-1h0m1.1-1.1h0m1.6-0.4h0m0.9 3.3h0m1.2-1.3h0m2.9-2.3h0m0.5 2.4h0m0.7-1.2h0m3.6-0.1h0m1.4-0.7h0m2.5 2.4h0m1-2.5h0m7.5 0.2h0m0 1.5h0m2.8-1h0m0.3 1h0m0.3-1.6h0m0.4 1.6h0m55.9-1.3h0m0.2-0.1h0m31.6 3h0m-216.8 3.5h0m64.9-0.4h0m0.8 0.5h0m0.4 0.4h0m0-2.4h0m1.2 1.3h0m0.3-0.2h0m2.2 1h0m2.5-0.6h0m0.2-0.9h0m0.9 0.8h0m0.8 1.3h0m0.5-0.3h0m0.3-1.2h0m0.3 0.2h0m0.2 1.1h0m1.1-0.7h0m0.3 0.6h0m0.4-0.2h0m0.7-1.4h0m0.4 1.5h0m1.3-0.3h0m1.8-1.8h0m0.6 0.8h0m0.5 0.5h0m0 0.3h0m0.3-0.7h0m0.9 1.2h0m1.1-1.3h0m1.5-0.2h0m0.3-1.6h0m1.1 0.8h0m1-1h0m0.2 2.8h0m1.1-1.3h0m1-0.9h0m0.7 1.6h0m2.8-0.1h0m1.2-1.1h0m0.8 1.6h0m0.1-2.7h0m3.1 0.4h0m0.3 1.2h0m4.7-0.2h0m0.9-1.3h0m1.6 0.8h0m1.9-0.3h0m3.1 0.9h0m20.6-0.7h0m-142.5 4.1h0m28.3 2.4h0m17.8-0.3h0m2 0.4h0m0.4 0.4h0m3.9-1.5h0m0 0.5h0m0.2 1.1h0m2.3-0.7h0m2-1.9h0m2.3-0.3h0m0.1 0.1h0m0.4 0.3h0m1.2 0.9h0m0.5 1.4h0m0.3-0.2h0m0.4-1.6h0m0.4-1.2h0m0.5 1.4h0m0.6-2.2h0m0.7 3.1h0m0.6-0.8h0m0.4 0.2h0m0.8 1.3h0m0.6-1.6h0m0.2-1.2h0m1.8 2.7h0m0.8-2.7h0m1-0.9h0m0.1 2.4h0m0.2-1.3h0m0.7-0.4h0m0.6 1.8h0m1.1-1.7h0m1.2 1.6h0m0 0.7h0m0.3-3.1h0m0.6 0.8h0m0.1 0h0m0.3 2.7h0m0.4-3.4h0m0.3 0.4h0m0.3 0.9h0m0 2.4h0m0.3-1.4h0m1.1 0.4h0m0.2-2.9h0m1.4 3.2h0m1.5-2.2h0m2.2 0.8h0m0.5 0.7h0m0.3-1.7h0m0.1 0.5h0m0.1 2.4h0m0.1-3.5h0m0.6 2.5h0m0.2-2.3h0m0.6 0.5h0m0.2 1h0m0.2-0.6h0m0.2 0.8h0m0.7-1.8h0m2 2.3h0m0.3-0.4h0m1.5-1.7h0m0.1 1.4h0m9.7-1.5h0m39.1 3.3h0m34.7-2.7h0m-220.4 4.4h0m70.2 2.4h0m1.4-1h0m0 0.6h0m0.6 0.3h0m0.6-0.1h0m0.1-1.2h0m1.6 1.2h0m2.3-0.6h0m0.1-0.3h0m0-0.5h0m0.3 0.4h0m0.1 0.5h0m0.9 0.6h0m0.1 0h0m0.6-1.5h0m1.2 0.3h0m0.2 0.9h0m0.1-1.3h0m0.7-0.4h0m0 2h0m0.1-0.9h0m0.2 0.4h0m0 0.6h0m0.8-0.1h0m0.1 0.1h0m0.5-1.8h0m0.6 1.1h0m0-0.7h0m0.3-0.9h0m0 1.4h0m0.9-0.9h0m0 1.2h0m0.3-0.8h0m0 1.5h0m0.4-0.9h0m0.8 0.2h0m0.1-0.2h0m0.3-2.3h0m0 2.3h0m0.3 0.9h0m0.3-1.3h0m0.1 0.9h0m0-0.8h0m0-0.6h0m0.1-0.5h0m0.4 2h0m0-2.8h0m0.1 0.6h0m0.4 0.2h0m0.3 0.8h0m0.2 1.4h0m0.1 0.2h0m0.2-0.6h0m0.5-1.1h0m0 1.4h0m0.4-3.2h0m0.3 1.6h0m0.1 0.4h0m0-0.2h0m0.3 1.4h0m0.3-2h0m0 1.9h0m0.1-2.8h0m0.3 0.3h0m0.3 2.1h0m0.2 0.1h0m0.1-1.8h0m0 1.2h0m0-1.6h0m0.1-0.8h0m0 3.4h0m1.1-1.6h0m0.1-0.5h0m0 1.3h0m0.1 0.9h0m0.1 0.1h0m0-1.7h0m0.5 0h0m0.2-1.2h0m0.2-0.3h0m0.8 3.1h0m0-2.6h0m0.8 1.7h0m0-1.5h0m0.1 0.1h0m0.3 1.2h0m1 0.9h0m0.1-3.2h0m0.4 0.1h0m0.2 1.4h0m0.1-0.5h0m0.7 2h0m0.2-0.5h0m0.2-1.8h0m0.6-0.4h0m1.3 2.7h0m0.3-2.1h0m0.5 0.1h0m1.3-0.3h0m1.9 0.1h0m0.9-0.2h0m3.1-0.3h0m1 1h0m0.6-0.5h0m0.4 0.5h0m2.7-1h0m2.9 0h0m1.5-0.3h0m1-0.2h0m0.3 1.4h0m2 0.1h0m1.7-0.1h0m90.5-0.3h0m-218.7 5.4h0m9.1-0.2h0m40.1 1.1h0m4.8-0.7h0m0.1 0.3h0m0.7 0.6h0m0.2-0.6h0m1.1 0.6h0m2.5-0.4h0m0.7 0.4h0m0.7-0.1h0m1.6-0.4h0m0.1 0.5h0m0.5-0.7h0m0.2 0.2h0m0.6 0h0m0 0.1h0m0.3 0.3h0m1.1-0.2h0m0.2 0.2h0m0-1.1h0m0 1.4h0m0.1-0.6h0m0-1.1h0m0.3 1.7h0m0.6-1.5h0m0.1-0.4h0m0.3 1.2h0m0-0.3h0m0.4-0.1h0m0.6 1.1h0m0.2-1.6h0m0.3 0.5h0m0 0h0m0.2 0.7h0m0.5-0.5h0m0.7-0.6h0m0.1-2h0m0.2 1h0m0 2.4h0m0.1-3h0m0.1 0.3h0m0 1.6h0m0.3-1.5h0m0.2 1.6h0m0-1.2h0m0.2 0.7h0m0.3 1.5h0m0.1-0.7h0m0-0.3h0m0.5 0.2h0m0.4-0.6h0m0-1.1h0m0.2 1.9h0m0-0.9h0m0.1 1.4h0m0.4-0.5h0m0 0.3h0m0.4-1.2h0m0 0.3h0m0 1.2h0m0.1-2.7h0m0.1 1.8h0m0.1 0.9h0m0-1.8h0m0 1.5h0m0-0.3h0m0.3-1.3h0m0-1h0m0 0.2h0m0 0.5h0m0.3 1.1h0m0.2 0.8h0m0.2-0.8h0m0-1.9h0m0.1-0.1h0m0 1.3h0m0 0.4h0m0.3-0.3h0m0.2-1.9h0m0 0.7h0m0.1 1.6h0m0.2 0.5h0m0.1 0.1h0m0.2 0.4h0m0.1-1.9h0m0 0.3h0m0.3 0.9h0m0.3 0.8h0m0.1-0.9h0m0.1 0.9h0m0-2.7h0m0.3 1.3h0m0.5 0.6h0m0.2-0.8h0m0.2 1.5h0m0.1-2.2h0m0.1 0.3h0m0-1h0m0.1 3.2h0m0.1 0h0m0-1.5h0m0.4-0.9h0m0.2 1h0m0-1.5h0m0.3 0.8h0m0.1-0.1h0m0.1-0.1h0m0 1h0m0-0.1h0m0.3-2h0m0 1.1h0m0 0.1h0m0.4-0.6h0m0.2 0.2h0m0.1-0.1h0m0.1 1.8h0m0 0h0m0.8-1.3h0m0.1 0.5h0m0.2-0.4h0m0.1 0.6h0m0-0.8h0m0.1 0.3h0m0.3 1.5h0m0.5-2.8h0m0.1 1h0m0.1-1.3h0m0.1 1.8h0m0.4-0.9h0m0.2-1h0m0.2 2.4h0m0.1-0.5h0m0.1-2h0m0 0.1h0m0.2 0.6h0m0.4-0.7h0m0.1 0.9h0m0.2 0.7h0m0 1.1h0m0.1-2.1h0m0.1 0h0m0.1 0.3h0m0.1 0.5h0m0.1 0.3h0m0.1 1h0m0.2-1.2h0m0-1.5h0m0.4 0.6h0m0.3 0.3h0m0.2-0.7h0m0.1 1.8h0m0.8 0.2h0m0.5-1.9h0m0.1 0.2h0m0.3 0.9h0m0.2-0.4h0m0.1 0.3h0m0.2-1.1h0m0.1 1h0m0.3-1.1h0m0 1h0m0.5 1.3h0m0.2-0.8h0m1.1-1.7h0m0.1 0.1h0m0.4 0.6h0m0.2-0.2h0m0.4-0.2h0m0-0.1h0m0.1 1.6h0m0 0.4h0m0.2-0.6h0m0.1-0.4h0m0.2-0.9h0m0.2 1.3h0m1.1-0.2h0m0.2-0.9h0m1.9 1.8h0m0.8-1.1h0m0.4 0.6h0m0.3-1h0m0.8-0.3h0m0.2 0.9h0m0.2-1.2h0m0 2.1h0m0.4-2h0m0.8 0.4h0m5.9 0.7h0m3.4-0.5h0m-75.1 7.1h0m0.8-0.4h0m0.1 0.1h0m0.7-0.4h0m0.3 0.2h0m0.4 0.2h0m0.9-1.3h0m0.7 1.2h0m0.2-1.5h0m0.9 1h0m0.7 0.6h0m0.2-0.1h0m0.1 0h0m0.5-0.9h0m0.2-0.9h0m0.1 1.7h0m0.5-1h0m0.1 1.5h0m0.3-1.1h0m0.1-0.4h0m0 1.4h0m0.1-0.1h0m1.1-0.5h0m0.2 0.1h0m0.2-1.3h0m0.1 1.5h0m0 0.3h0m0.3-1.5h0m0-0.9h0m0.1 1.5h0m0.2 0.7h0m0 0h0m0.3 0h0m0-0.6h0m0.2-0.4h0m0.1 1.1h0m0-1.1h0m0-1h0m0.4 0.5h0m0.3 1.2h0m0.2-0.4h0m0.2 0.6h0m0 0.2h0m0.3-0.3h0m0.1 0.4h0m0-1.4h0m0.1 0.7h0m0.1 0h0m0 0.3h0m0.3-2.4h0m0.2 2.7h0m0.2-0.5h0m0.1-1.2h0m0 1.8h0m0.1-0.2h0m0 0h0m0 0.1h0m0.1-0.5h0m0 0.4h0m0.1-0.2h0m0.1 0h0m0-1.2h0m0.1-1.7h0m0 2.7h0m0.1-0.8h0m0.1 0.2h0m0 1.2h0m0.1-0.3h0m0.2-2h0m0.1 1.7h0m0.1-1.1h0m0.2-0.4h0m0.1 1.4h0m0-0.6h0m0.1-1.7h0m0.1 2.8h0m0-0.2h0m0 0.2h0m0-0.8h0m0.1-0.4h0m0-1.4h0m0 1.8h0m0 0.9h0m0.1-0.6h0m0-0.5h0m0.1-0.6h0m0.1 1.4h0m0.3-1.2h0m0 0.8h0m0.1-0.5h0m0.1 0h0m0.1 0.8h0m0-1.8h0m0-1.1h0m0 2.5h0m0.1-1h0m0.1 0.2h0m0 0.6h0m0.2-0.9h0m0.2-0.7h0m0 2.5h0m0-0.9h0m0.2 0.1h0m0.3-1.3h0m0.1 0.5h0m0 0.8h0m0.1-1.6h0m0 0.1h0m0.3 0h0m0 0.1h0m0 1.6h0m0-0.9h0m0.2 0.2h0m0.1 1h0m0-0.4h0m0.2-1.1h0m0.3 1.5h0m0 0.6h0m0.1-0.5h0m0.1-1.2h0m0.1 1.4h0m0.2-0.2h0m0.1 0.3h0m0 0h0m0.1-2.7h0m0 2.1h0m0.2-0.4h0m0-0.1h0m0.1-2.5h0m0 0.9h0m0.1 2.1h0m0.1-2.5h0m0 0.3h0m0.1 0.9h0m0.1-0.6h0m0-0.2h0m0.1 2.7h0m0.2-2.8h0m0.1 1.8h0m0-0.1h0m0.1 0h0m0.1 1.1h0m0.4-0.9h0m0 1h0m0-0.8h0m0.1-1.2h0m0-1.4h0m0.1 1.6h0m0-1.2h0m0.1 2.9h0m0-1.1h0m0.1-0.7h0m0-1.8h0m0 3.3h0m0.1-0.3h0m0-0.8h0m0-1.7h0m0 1.3h0m0.2 1.2h0m0-2.1h0m0.2 0.4h0m0.1 1h0m0-1.9h0m0 2.2h0m0.1 0.1h0m0.2-0.5h0m0.1-0.8h0m0 1.4h0m0-2.1h0m0 0.8h0m0.1 0.3h0m0 1.6h0m0-1.1h0m0.3-1.5h0m0.3 2h0m0 0h0m0.1-0.9h0m0.1 1.3h0m0-1.1h0m0.1 1h0m0-1.1h0m0.1 0.7h0m0.1-2.6h0m0.1 2h0m0 0.7h0m0-1.4h0m0 2.2h0m0-2.2h0m0.2 0.4h0m0.2-0.9h0m0 1.1h0m0.1-1.3h0m0.1 1.9h0m0.1-2.7h0m0.1 2.1h0m0.2 0.6h0m0-0.2h0m0.2 1.2h0m0.1-1.3h0m0-2h0m0.1 1.3h0m0.1-0.8h0m0 2.1h0m0-1.8h0m0.1 0.4h0m0.2-0.2h0m0-0.3h0m0.1 0.4h0m0.1 0.3h0m0.1 0.1h0m0.4-1.1h0m0 1.4h0m0-1.8h0m0 0.2h0m0.3 1.3h0m0.1-1.2h0m0.1 0.8h0m0.1 2.2h0m0-1.5h0m0-0.3h0m0.1 0.1h0m0.3-1.7h0m0.1 1.1h0m0.1 0.6h0m0.3-1.7h0m0.1 1.8h0m0.2 1.5h0m0.2-2.5h0m0 0.2h0m0-0.4h0m0 1.6h0m0-0.3h0m0.1-0.9h0m0-0.3h0m0-0.6h0m0.2 2.3h0m0.1-2.8h0m0.2 2h0m0.2-1.8h0m0.4 1.8h0m0 1.3h0m0.1-1.4h0m0.3-1.3h0m0.1 2.6h0m0.1-1.7h0m0.1-0.1h0m0.2 2.3h0m0.3-1.1h0m0.1-1.2h0m0.1-0.6h0m0 1.3h0m0.1-1.7h0m0 0.8h0m0.2-0.1h0m0 0.9h0m0.4 0.2h0m0-1h0m0.1 0h0m0.1-0.8h0m0 1.5h0m0 0.2h0m0.2-0.2h0m0-1.4h0m0.1 0.1h0m0.9 0h0m0 0.3h0m0.2 0.7h0m0-0.5h0m0.4 0.1h0m0.3 0.9h0m0.2-0.8h0m0.5-1.2h0m0.2 0.4h0m0 2.6h0m0.1-2h0m0.7 0h0m0.1-0.9h0m0-0.1h0m0 1.8h0m0.3-1.8h0m0.1 0.2h0m0.1 0h0m0.7-0.1h0m0.6-0.1h0m0.1 2.2h0m0.1-1.3h0m0.1-0.5h0m0.2 0.4h0m0.5-0.1h0m0-0.1h0m0.1 0.3h0m0-0.9h0m0.2 0.3h0m0.4 0.9h0m0.1-1.3h0m0 0.1h0m0 1.1h0m0.2-0.9h0m0.1 0.5h0m0 0h0m0.3-0.4h0m0.1-0.3h0m0.9 1.3h0m0.2-1.3h0m0.2 0.7h0m0.8 0.6h0m0.4-0.6h0m0.1-0.1h0m0.4-0.6h0m1.4 0.1h0m0.9 1h0m1.1 0.7h0m2.7-1.1h0m0.9 0h0m0.6-0.2h0m1.2-0.4h0m10.4 3.5h0m20.6-0.4h0m68-3h0m-175.4 7.1h0m3.8 0.2h0m2.5-0.2h0m0.2 0.6h0m0.1-0.5h0m0.3 0.4h0m0 0.1h0m0.2-0.5h0m0.2 0.1h0m1.4-1h0m0 1.2h0m0.6-0.9h0m0.3 0.9h0m0.1-0.6h0m0.2 0.1h0m0 0h0m0.2-1.5h0m0 0.5h0m0.2 0.1h0m0 1.1h0m0.1 0.3h0m0.4 0h0m0.3-0.5h0m0.1 0.1h0m0.1 0.4h0m0.3-0.3h0m0.1-0.4h0m0 0.5h0m0.9 0.2h0m0-0.4h0m0-0.3h0m0.2 0.6h0m0-0.3h0m0 0h0m0 0.1h0m0.1 0.4h0m0.1-1h0m0.1 1.1h0m0.2-1h0m0.2 0.2h0m0-0.3h0m0 1h0m0.1-1.9h0m0.5 1.3h0m0.1 0.3h0m0.2 0h0m0.1-1.3h0m0.2 1h0m0-0.5h0m0.1 0.4h0m0 0.5h0m0-1.3h0m0.1 0.8h0m0.3-1.2h0m0 1.9h0m0.1-0.4h0m0-0.1h0m0.1-0.6h0m0 0.7h0m0.4-2.4h0m0.2 2.3h0m0.3-0.3h0m0.2 0.2h0m0 0.2h0m0-1.1h0m0 0.9h0m0.3 0.3h0m0.2-1.1h0m0 0.8h0m0.1-0.1h0m0.1-0.5h0m0.3-1h0m0 0.3h0m0.1 0.8h0m0.1 0.5h0m0 0.3h0m0 0.2h0m0 0h0m0-1.3h0m0.1 1.5h0m0.1-2.3h0m0.1 1.4h0m0.1 0.8h0m0.1-0.6h0m0-0.1h0m0-0.6h0m0.2-0.7h0m0.1 1.7h0m0-1.2h0m0.2 1h0m0.1-0.2h0m0-1.9h0m0 1.4h0m0.1 0.6h0m0.1 0.2h0m0-0.5h0m0.2 0.9h0m0-0.4h0m0 0h0m0.1 0.2h0m0-3h0m0.1 3.1h0m0-2.4h0m0.1 1h0m0-0.2h0m0-0.2h0m0-0.1h0m0 0.9h0m0.1 0h0m0.1-0.2h0m0-1.3h0m0.1 0.6h0m0.4 0.7h0m0 1.4h0m0.1-3.1h0m0.1 0.5h0m0 2h0m0.1-2.4h0m0.2 2.5h0m0-1.3h0m0.2 0.6h0m0-1h0m0.2-0.9h0m0 1.5h0m0-1.7h0m0.1 2.4h0m0 0.8h0m0.1-1h0m0 0.8h0m0-1.4h0m0-1.1h0m0.1 1.7h0m0-0.8h0m0.1-0.9h0m0 0.3h0m0.1 1.6h0m0-0.5h0m0.1-0.5h0m0 1.1h0m0 0.6h0m0-1.6h0m0.1 1.7h0m0-0.8h0m0-1.2h0m0-1.8h0m0.1 2.3h0m0 0.5h0m0.1-0.7h0m0 0.1h0m0.1 1h0m0-2.1h0m0.1 2.3h0m0-0.6h0m0.1-0.8h0m0-0.5h0m0.1 0.4h0m0.1 1h0m0.1-2.5h0m0 3.2h0m0-0.6h0m0 0.3h0m0-1.7h0m0.1 2.2h0m0-1.1h0m0 0h0m0.1-0.8h0m0-1.1h0m0.1 1.2h0m0 0.5h0m0-1.6h0m0.1 1h0m0.1 1h0m0-0.7h0m0 0.8h0m0.1-0.6h0m0.1 0.1h0m0.1 0.2h0m0-0.3h0m0.2-1.8h0m0 0.9h0m0-0.3h0m0.1 1.7h0m0.1-1.2h0m0 1.7h0m0-1.3h0m0-0.8h0m0 1h0m0 1.3h0m0 0.1h0m0.1-0.3h0m0-0.9h0m0.2 0.6h0m0.1-0.3h0m0 0h0m0.1 1h0m0.1-2.6h0m0-1.2h0m0.1 2.8h0m0.1-0.3h0m0-0.8h0m0.2 1.6h0m0.1-1.7h0m0 1.3h0m0 0.3h0m0.1-1.9h0m0.1 0.6h0m0 0.4h0m0 0.9h0m0.1-1h0m0.3-0.3h0m0-0.4h0m0 2h0m0.2-2.5h0m0 1h0m0 0.6h0m0.1-1.4h0m0.1 0.7h0m0 0.5h0m0.1-1.2h0m0-0.1h0m0-0.7h0m0.1 2.2h0m0-0.3h0m0-0.2h0m0.1 0.6h0m0.1-2.4h0m0 1.2h0m0-1.2h0m0 2.7h0m0.1 0.5h0m0 0h0m0-2.9h0m0.1 1.8h0m0.1 0.4h0m0-0.2h0m0.2-0.9h0m0.1 1.6h0m0-1.2h0m0.2-0.6h0m0 0.1h0m0 1.6h0m0.1-3h0m0 1.5h0m0-0.8h0m0.1 1.6h0m0 0.4h0m0.1-0.6h0m0.1-1.6h0m0 1.8h0m0.1-0.3h0m0.1-0.9h0m0-0.3h0m0.1 2h0m0-2.5h0m0 0.1h0m0.2 2.1h0m0.1 0.5h0m0-0.7h0m0-1.9h0m0 2.8h0m0.1-2.7h0m0 0h0m0-0.5h0m0 3.6h0m0-0.5h0m0.1-1.9h0m0-1.4h0m0.2 1.4h0m0 0.5h0m0-1.4h0m0 1.7h0m0-0.6h0m0.1 0.9h0m0 0.8h0m0-1.2h0m0.1 0.1h0m0.1-0.9h0m0 0.9h0m0 0.2h0m0-1.8h0m0.1 0h0m0-0.6h0m0 1.3h0m0.1 0.1h0m0-0.3h0m0.2-0.6h0m0 1.4h0m0.1 0.1h0m0.1 1.6h0m0-2.5h0m0 0.6h0m0-0.2h0m0.1 0.7h0m0.1-1.9h0m0 2.3h0m0 0.9h0m0.1-3.4h0m0 1.1h0m0.1 0.4h0m0 0h0m0.1 0h0m0 0.6h0m0.1 0.2h0m0-2.3h0m0 1.3h0m0 0.9h0m0.1 0.1h0m0-1.1h0m0-1.2h0m0.1 0.3h0m0 2.6h0m0 0h0m0.1-1.8h0m0.2-0.9h0m0.2 1.7h0m0 1.8h0m0-1.7h0m0.1-1.9h0m0 0.3h0m0 0.1h0m0.1 0.7h0m0.1 1.9h0m0.1-2.7h0m0.1-0.3h0m0.1 0.4h0m0 0.5h0m0.1 1h0m0.2-1.7h0m0.1-0.5h0m0 0.3h0m0 0.9h0m0.1 2.3h0m0.1-1.4h0m0 0.4h0m0.1-2.5h0m0 2.5h0m0.1-1.8h0m0.1 2.4h0m0-1.5h0m0-1.5h0m0.2 2.2h0m0.1-0.6h0m0.1 1.3h0m0.1-2.4h0m0.4-0.1h0m0 3h0m0.1-0.5h0m0.1-0.7h0m0-1h0m0.1 1.1h0m0-2.2h0m0.1 1h0m0-0.7h0m0.1 0.3h0m0-0.1h0m0 0.8h0m0.1-0.8h0m0 1.5h0m0.1-0.4h0m0.1-0.9h0m0.2 2.9h0m0.1 0.1h0m0.1-3.7h0m0.2 0.2h0m0.2 1.5h0m0.1-1.2h0m0.2 0.1h0m0-0.6h0m0 1.1h0m0.1 0.2h0m0.1 0.4h0m0.1-1.8h0m0 0.8h0m0.1 0.2h0m0.2 0.6h0m0.1-0.3h0m0-0.5h0m0-0.5h0m0.1 1.1h0m0.1 0h0m0 0.5h0m0 0.1h0m0-1.7h0m0.1-0.2h0m0 2.3h0m0.1-2.3h0m0 0.2h0m0.1 2.1h0m0.1-2.2h0m0.4-0.1h0m0.1 0.5h0m0.1 0.2h0m0 0.8h0m0.4-0.7h0m0.1 0.3h0m0.3 0h0m0-0.6h0m0 0h0m0.2 0.9h0m0-0.9h0m0 2h0m0.2-0.6h0m0.2-1.9h0m0.1 1.5h0m0-0.8h0m0 0.9h0m0-1.7h0m0.1 0.2h0m0 0.4h0m0-0.4h0m0.2 0.6h0m0 0.8h0m0.1-1h0m0 0.5h0m0.3-0.2h0m0.1 1h0m0-1.7h0m0.1 2.3h0m0-2.3h0m0.1 0.1h0m0 2.2h0m0.3-2.3h0m0.2 1.7h0m0.2-0.3h0m0.3-1.3h0m0.2 0.6h0m0-0.5h0m0.1 1h0m0.3-0.6h0m0.3 0.2h0m0-1h0m0.2 0.6h0m0.1 0h0m0.2-0.2h0m0.1 1h0m0.2-1.4h0m0.1 0.3h0m0.2-0.3h0m0.2 1.1h0m0.1-0.6h0m0.1-0.6h0m0.2 0.8h0m0.1-0.7h0m0.5 0.1h0m0.3 0h0m0.6 0h0m0.3 0h0m0.1 0.8h0m0.1 0.8h0m0.2-0.6h0m0.2-0.6h0m0.9-0.2h0m0.6-0.4h0m1 0.8h0m1.1-0.4h0m2 0.4h0m1.6-0.2h0m12.4-0.2h0m-76.7 7.2h0m0-0.5h0m0 0.8h0m0.7 0h0m0.6-0.5h0m0.4-0.2h0m0.2 0.2h0m0.1 0.5h0m0.1-0.9h0m0.4 0h0m0.2 0.1h0m0.2-0.4h0m0.7 0.9h0m0-0.5h0m0-0.5h0m0.9 0.8h0m0-0.2h0m0.1 0.2h0m0.3-0.3h0m0.1 0.3h0m0 0.4h0m0-0.2h0m0.1 0h0m0.1-0.3h0m0.1-0.5h0m0.2 0.7h0m0 0.3h0m0.1 0.1h0m0-0.2h0m0-1.1h0m0.3 1.1h0m0 0.1h0m0 0.1h0m0.1-0.3h0m0.3-0.8h0m0-1.1h0m0.1 1.2h0m0.2 0.9h0m0.1-1.5h0m0.1 1.1h0m0 0.2h0m0.2 0.2h0m0-0.2h0m0.2-0.8h0m0.1-0.8h0m0 1.6h0m0-0.4h0m0.1 0.5h0m0-0.1h0m0-0.5h0m0.1 0.2h0m0-0.8h0m0 0.7h0m0 0.7h0m0.1 0h0m0.1-1.2h0m0 0.6h0m0.2 0.4h0m0.1-0.7h0m0-0.6h0m0 1.4h0m0-0.3h0m0 0.1h0m0 0.4h0m0-0.8h0m0.2-0.6h0m0 0.2h0m0 0.2h0m0.1 0.4h0m0-1.4h0m0.1 1.1h0m0 0.5h0m0.1-0.8h0m0 0.5h0m0-0.8h0m0 0.8h0m0 0h0m0.1 0.4h0m0-0.2h0m0 0.2h0m0.1-1.2h0m0 0.7h0m0.2-0.3h0m0-0.7h0m0 1.6h0m0.1-1.9h0m0 1.6h0m0.1-0.2h0m0.1-1.8h0m0 2.4h0m0.3-1.2h0m0.3 0.9h0m0 0.2h0m0-0.5h0m0-0.3h0m0 0.5h0m0.1 0.2h0m0-3h0m0.1 2h0m0 0.2h0m0-0.9h0m0.1 1h0m0.1 0.5h0m0.1-0.5h0m0 0h0m0-0.2h0m0.1 0.1h0m0 0.2h0m0-0.8h0m0.1 1.2h0m0 0.3h0m0.1-0.4h0m0 0.1h0m0-3h0m0.1 2.2h0m0.1 0.4h0m0.1-0.4h0m0 0.4h0m0 0.2h0m0.1-0.6h0m0 0h0m0-0.1h0m0 0.1h0m0.1 0h0m0.1-1.8h0m0.1 3h0m0-1.3h0m0.1 1.3h0m0.2-2.3h0m0 0.9h0m0-0.7h0m0.1 0.1h0m0 1.2h0m0.1-0.5h0m0.1 0.9h0m0-1.6h0m0.1-0.4h0m0 0.2h0m0.1-0.1h0m0 0.7h0m0 0.5h0m0-1.4h0m0.1 0.9h0m0 0.4h0m0.1 0.6h0m0.1-0.3h0m0-1.1h0m0 1.5h0m0.1-1.4h0m0 0.8h0m0-2.1h0m0.1 1.3h0m0.1 0.5h0m0-0.7h0m0-0.9h0m0.1 3.1h0m0-1.3h0m0 1h0m0-1.5h0m0 1.7h0m0.1-1.7h0m0 0h0m0-0.3h0m0.1 0.1h0m0-0.5h0m0-0.1h0m0.1 1.5h0m0 1.1h0m0.1-0.9h0m0-1h0m0 1.5h0m0-0.5h0m0.1-0.2h0m0 0.7h0m0-0.7h0m0-0.2h0m0.1-0.8h0m0 1h0m0-1.1h0m0 1.3h0m0.1-0.6h0m0 0.6h0m0.1 0.4h0m0-1.3h0m0 0.9h0m0.1-0.6h0m0.2 1.2h0m0.2-2.3h0m0 1.5h0m0.1-0.4h0m0.1-1h0m0.1 0.2h0m0 0h0m0.1 0.6h0m0.1-1.2h0m0.1 0.6h0m0.1 1.2h0m0.1 0.5h0m0-3.3h0m0.1 1.1h0m0 2.3h0m0.1-3h0m0 3.4h0m0.1-2.6h0m0-0.2h0m0-0.2h0m0.1-0.2h0m0 0.7h0m0 2.3h0m0.1-2.4h0m0-0.1h0m0 1.1h0m0.1-1.2h0m0 1.9h0m0-0.9h0m0.1 0.3h0m0.1 1h0m0-0.6h0m0-2.5h0m0.1 1.5h0m0-0.8h0m0.1 1.8h0m0.1 0.4h0m0-1h0m0-0.3h0m0 0.7h0m0.1-1.4h0m0 2.7h0m0.1-1.9h0m0-0.1h0m0 0.4h0m0.1 0.9h0m0.1-2.8h0m0 0h0m0 1.4h0m0.1 1.4h0m0-1.4h0m0 0.8h0m0.1 0.6h0m0-0.3h0m0-0.3h0m0.1-0.2h0m0-1.4h0m0 0.8h0m0.1 0.7h0m0.1 0.6h0m0-1.3h0m0 1.3h0m0-0.8h0m0.2-1.9h0m0 2.5h0m0.1-0.3h0m0 0.3h0m0-1.4h0m0-0.1h0m0.2-0.3h0m0.1 1.3h0m0-0.2h0m0-0.4h0m0 0.7h0m0.1 0.1h0m0 0.6h0m0.1-1.8h0m0-0.3h0m0 0.1h0m0.1-0.4h0m0 1.9h0m0-1.9h0m0 0.4h0m0.1 2.7h0m0-2.5h0m0 0.6h0m0 0.6h0m0.1-0.2h0m0-0.4h0m0 0.1h0m0 0.8h0m0-2.2h0m0 1.6h0m0-1.2h0m0.1 1.2h0m0-1.7h0m0.1 2.1h0m0-1.8h0m0 1.2h0m0-1.1h0m0-0.9h0m0 1.6h0m0.1 1.6h0m0.1-1.6h0m0 0.9h0m0.1-1.5h0m0.1 1.8h0m0-1.1h0m0 2.1h0m0-1.3h0m0.1-1.5h0m0-0.1h0m0.1 0.8h0m0-0.6h0m0 1.3h0m0-0.4h0m0.1 0.7h0m0.2 0.8h0m0-0.9h0m0.1-1.7h0m0 0.3h0m0.1-1.3h0m0 1.4h0m0.1 0.6h0m0-0.6h0m0.2-0.6h0m0.1 1.2h0m0-0.6h0m0 0.6h0m0.1-0.7h0m0 0.5h0m0-0.8h0m0 0.4h0m0.1-0.7h0m0-0.3h0m0-0.4h0m0.1 0.9h0m0 0.6h0m0.1-1h0m0 1.4h0m0 1.1h0m0-2h0m0 1.3h0m0.1-1.1h0m0-1.1h0m0.1 2.7h0m0.1-1.4h0m0 1.4h0m0-0.8h0m0 0.4h0m0.1-1h0m0 0.6h0m0.1-1.2h0m0 0.1h0m0.1 2.1h0m0-0.3h0m0.1-0.9h0m0 1.8h0m0-2.2h0m0.1 1h0m0-2.2h0m0 1.6h0m0-1.5h0m0 2.8h0m0-2.2h0m0.1-0.1h0m0.4-0.7h0m0 1.1h0m0-0.4h0m0.1 1.2h0m0-0.5h0m0-0.9h0m0.1 0.1h0m0.1 1.4h0m0.1-1.5h0m0 1.8h0m0.1-0.8h0m0-0.5h0m0-1h0m0.1 1.1h0m0.1 1.7h0m0.1 0.8h0m0-3.3h0m0 0.8h0m0-0.2h0m0.1 0.8h0m0.1 0.4h0m0.1 0.4h0m0-1.3h0m0.1 0.1h0m0-0.8h0m0 1.2h0m0-0.7h0m0.1 0.3h0m0-1h0m0 0.6h0m0 0.3h0m0.1-0.7h0m0 3h0m0-3.5h0m0.2 2h0m0.1-0.9h0m0.1-0.1h0m0-0.1h0m0 0.7h0m0-0.7h0m0.1-0.7h0m0.1 2.1h0m0.1-2.2h0m0.1 0.2h0m0.1 2.8h0m0.2-1.1h0m0.2 0.5h0m0-2.2h0m0.1 0.8h0m0.1 0.5h0m0.1-1.2h0m0 0.6h0m0-0.1h0m0 1.6h0m0-2.3h0m0 2.3h0m0.1-1.2h0m0 0h0m0-0.4h0m0.1-0.7h0m0.1 1h0m0.1 0.3h0m0 0.3h0m0 0h0m0-1.4h0m0 0.7h0m0.1-0.7h0m0.2 0.6h0m0.2 0.4h0m0.1-0.9h0m0-0.2h0m0 0.8h0m0.1-0.4h0m0.2 0.5h0m0 0.3h0m0-0.9h0m0.1-0.5h0m0 0.8h0m0-0.1h0m0.2-0.2h0m0 0h0m0.1 0h0m0-0.4h0m0.2 0.9h0m0 0.5h0m0 0.6h0m0.1-1.8h0m0.1 1.1h0m0.1-1.5h0m0 0.2h0m0 0.1h0m0 1.5h0m0-1.5h0m0.1 0.4h0m0.1-0.8h0m0.1 1.9h0m0.2-1.1h0m0 0.5h0m0.3-1.3h0m0 0.5h0m0.3 2.1h0m0.1-1h0m0.1-1.5h0m0 0.3h0m0.1 0.6h0m0-0.4h0m0 0.2h0m0.1-0.4h0m0.1 0h0m0.1 0.2h0m0-0.4h0m0.2 1.9h0m0.2-0.8h0m0.1 0.2h0m0.2-0.4h0m0-0.9h0m0.1 0.2h0m0.1 1.6h0m0-1.6h0m0.3 0h0m0.1 1.1h0m0.1-0.6h0m0.2-0.2h0m0.2-0.3h0m0.5 0.9h0m0.1-0.9h0m0 0.1h0m0.1 0.4h0m0 0.1h0m0.1-0.4h0m0-0.6h0m0.1 1.1h0m0.1-1.1h0m0.6 0.3h0m0.6 1.4h0m0-1.3h0m0.1-0.1h0m0.1 0.3h0m0-0.2h0m0.2 0.5h0m0.2-0.7h0m0.5 0.2h0m0.1 1.2h0m0.3-1.3h0m0.4 0.1h0m0.2 0.5h0m0-0.8h0m0.3 0.1h0m0.3 0h0m0.3 0h0m0.2 0.4h0m0.6 0.4h0m0.3-1h0m0.6 0.7h0m0.5-0.1h0m0.5-0.4h0m0.5 0.7h0m1.9-0.8h0m49.4 2.1h0m-91.2 3.7h0m0.2-0.3h0m0.1 0.9h0m0-2.1h0m0.1 1h0m0.3 0.7h0m0-1.6h0m0-0.4h0m0.3 0.6h0m0.1 1.5h0m0.1-1h0m0.1-0.6h0m0 0.7h0m0.1-1.1h0m0 1h0m0 0h0m0.1-1.1h0m0.1 0h0m0.1 0.8h0m0 0.7h0m0.1-0.8h0m0.2 1.4h0m0.1-2h0m0.1 1.4h0m0.1 0.2h0m0.1-1.5h0m0 0.3h0m0.2 0.4h0m0 0.6h0m0.1 0h0m0.1-0.6h0m0.1 1.4h0m0.1-2h0m0.2 0.5h0m0.1 0.3h0m0.1-0.1h0m0-0.6h0m0.1-0.2h0m0.2 0.1h0m0.1 0.5h0m0 0.8h0m0-1.1h0m0 0.3h0m0 0.3h0m0.3-0.3h0m0-0.5h0m0 0.5h0m0 0.9h0m0.1-1.4h0m0 1.7h0m0-1.9h0m0.1 1.4h0m0-0.2h0m0.1-1.3h0m0.1 0.4h0m0.1 1.3h0m0-0.5h0m0.1-0.6h0m0 0.9h0m0.1-0.3h0m0.1-0.2h0m0-1h0m0.1-0.1h0m0 0.3h0m0.1 0h0m0 0.4h0m0.2-0.2h0m0.1-0.1h0m0 0.9h0m0-0.6h0m0.2-0.6h0m0.1 0.1h0m0.1 0.9h0m0 1.3h0m0-1.7h0m0.1-0.5h0m0 0.1h0m0.1 0.1h0m0.1-0.2h0m0.2 0.1h0m0 1.4h0m0.1-1.2h0m0 0.3h0m0.1 0.1h0m0-0.6h0m0.1 0.4h0m0 0.4h0m0.1-0.7h0m0.3-0.3h0m0 0.1h0m0-0.1h0m0 1h0m0.1-0.9h0m0.2 0.8h0m0-0.9h0m0.1 0.3h0m0-0.4h0m0.1 0h0m0 1.9h0m0-1.1h0m0.1-0.3h0m0.1 0.6h0m0.1-0.6h0m0-0.2h0m0 0.4h0m0.1-0.4h0m0 0h0m0 0.6h0m0.1 1h0m0.1-1.6h0m0.2 1.1h0m0-1.3h0m0.1 1.9h0m0-1.2h0m0.2-0.3h0m0.1-0.5h0m0 0.4h0m0.1 0.5h0m0-0.9h0m0 1.5h0m0.1-1.2h0m0.2 0.5h0m0.1-0.3h0m0 0.7h0m0.3-1h0m0.1 3h0m0.4-2.8h0m0 0.4h0m0.1-0.7h0m0 0.7h0m0.1-0.2h0m0.1 0.1h0m0-0.6h0m0 1.6h0m0.1-1.5h0m0.1 0.9h0m0.2-0.4h0m0.1 0.9h0m0.1-0.9h0m0.1 0h0m0-0.2h0m0.1-0.2h0m0.1-0.2h0m0.3 0.4h0m0.1 0.6h0m0.3-0.7h0m0.2 0.1h0m0.1-0.5h0m0 0.3h0m0.1 1.3h0m0.3-0.6h0m0.1-0.3h0m0-0.2h0m0.1-0.1h0m0.6 0h0m0.1-0.3h0m0 0.3h0m0.2-0.2h0m0.2 0h0m0.2 0h0m0.1 0.9h0m0.3 0.1h0m0.1-0.2h0m1.6-0.9h0m0.7 0.1h0m0.3 0.4h0m0.4-0.6h0m0.2 0.1h0m2 0.3h0m5.4 1.1h0m69.1 1.2h0m-90.9 2.1h0" fill="none" stroke="#000" stroke-width="1.5" stroke-linecap="square" opacity="0.85"/>
<rect x="1021.30" y="1839.40" width="397.70" height="245.50" fill="none" stroke="#3a3a3a" stroke-width="1.5"/>
<line x1="1029.40" y1="2084.90" x2="1029.40" y2="2074.90" stroke="#3a3a3a" stroke-width="1.5"/>
<text x="1024.02" y="2111.50" font-size="21.00" font-family="'Liberation Sans',sans-serif" fill="#111">0</text>
<line x1="1124.60" y1="2084.90" x2="1124.60" y2="2074.90" stroke="#3a3a3a" stroke-width="1.5"/>
<text x="1119.27" y="2111.50" font-size="21.00" font-family="'Liberation Sans',sans-serif" fill="#111">2</text>
<line x1="1219.80" y1="2084.90" x2="1219.80" y2="2074.90" stroke="#3a3a3a" stroke-width="1.5"/>
<text x="1214.58" y="2111.50" font-size="21.00" font-family="'Liberation Sans',sans-serif" fill="#111">4</text>
<line x1="1315.00" y1="2084.90" x2="1315.00" y2="2074.90" stroke="#3a3a3a" stroke-width="1.5"/>
<text x="1309.57" y="2111.50" font-size="21.00" font-family="'Liberation Sans',sans-serif" fill="#111">6</text>
<line x1="1410.20" y1="2084.90" x2="1410.20" y2="2074.90" stroke="#3a3a3a" stroke-width="1.5"/>
<text x="1404.82" y="2111.50" font-size="21.00" font-family="'Liberation Sans',sans-serif" fill="#111">8</text>
<line x1="1021.30" y1="1851.40" x2="1028.80" y2="1851.40" stroke="#3a3a3a" stroke-width="1.5"/>
<text x="985.73" y="1855.70" font-size="21.00" font-family="'Liberation Sans',sans-serif" fill="#111">20</text>
<line x1="1021.30" y1="1895.40" x2="1028.80" y2="1895.40" stroke="#3a3a3a" stroke-width="1.5"/>
<text x="985.83" y="1900.65" font-size="21.00" font-family="'Liberation Sans',sans-serif" fill="#111">15</text>
<line x1="1021.30" y1="1939.40" x2="1028.80" y2="1939.40" stroke="#3a3a3a" stroke-width="1.5"/>
<text x="985.72" y="1945.60" font-size="21.00" font-family="'Liberation Sans',sans-serif" fill="#111">10</text>
<line x1="1021.30" y1="1983.40" x2="1028.80" y2="1983.40" stroke="#3a3a3a" stroke-width="1.5"/>
<text x="997.48" y="1990.55" font-size="21.00" font-family="'Liberation Sans',sans-serif" fill="#111">5</text>
<line x1="1021.30" y1="2027.40" x2="1028.80" y2="2027.40" stroke="#3a3a3a" stroke-width="1.5"/>
<text x="997.38" y="2035.50" font-size="21.00" font-family="'Liberation Sans',sans-serif" fill="#111">0</text>
<line x1="1021.30" y1="2071.40" x2="1028.80" y2="2071.40" stroke="#3a3a3a" stroke-width="1.5"/>
<text x="1313.98" y="1864.70" font-size="21.91" font-family="'Liberation Sans',sans-serif" fill="#111">r = 0.993</text>
<text x="1078.68" y="2146.40" font-family="'Liberation Sans',sans-serif" fill="#000" xml:space="preserve"><tspan font-size="21.40">t</tspan><tspan font-size="12.84">1,2</tspan><tspan font-size="21.40"> - t</tspan><tspan font-size="12.84">3,4</tspan><tspan font-size="21.40"> (min) [fully connected]</tspan></text>
<text transform="translate(971.50,2085.50) rotate(-90)" x="-0.32" y="0" font-family="'Liberation Sans',sans-serif" fill="#000" xml:space="preserve"><tspan font-size="21.27">t</tspan><tspan font-size="12.76">1,2</tspan><tspan font-size="21.27"> - t</tspan><tspan font-size="12.76">3,4</tspan><tspan font-size="21.27"> (min) [right branch]</tspan></text>
</svg>
</body></html>
